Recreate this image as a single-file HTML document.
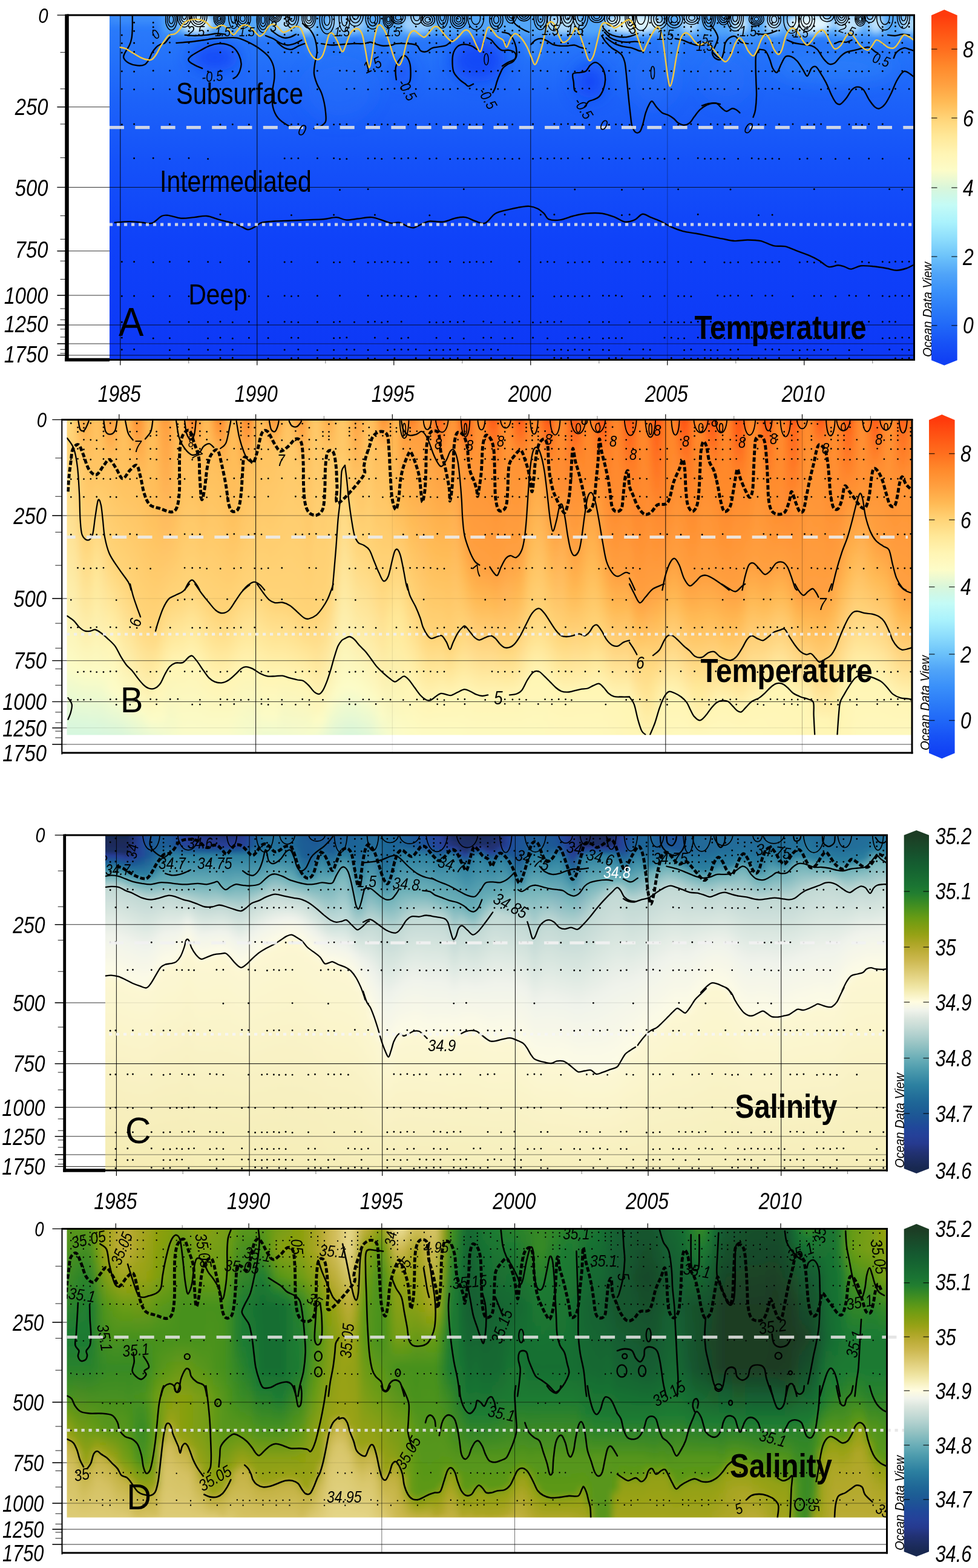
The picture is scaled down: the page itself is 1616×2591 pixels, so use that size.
<!DOCTYPE html>
<html lang="en"><head><meta charset="utf-8"><title>Temperature and salinity time series</title>
<style>html,body{margin:0;padding:0;background:#fff}svg{display:block}text{font-family:"Liberation Sans", sans-serif}</style>
</head><body>
<svg width="1616" height="2591" viewBox="0 0 1616 2591" role="img" aria-label="Temperature and salinity time series, panels A to D">
<defs>
<clipPath id="clipA"><rect x="181" y="25" width="1329.5" height="569.5"/></clipPath>
<linearGradient id="gA" gradientUnits="userSpaceOnUse" x1="0" y1="25" x2="0" y2="595"><stop offset="0" stop-color="#2d7efa"/><stop offset="0.12" stop-color="#2472fa"/><stop offset="0.25" stop-color="#1c62f9"/><stop offset="0.42" stop-color="#1552f9"/><stop offset="0.65" stop-color="#0f42f9"/><stop offset="1" stop-color="#0d38f6"/></linearGradient>
<filter id="bA" x="-5%" y="-20%" width="110%" height="140%"><feGaussianBlur stdDeviation="6"/></filter>
<filter id="bA2" x="-5%" y="-20%" width="110%" height="140%"><feGaussianBlur stdDeviation="14"/></filter>
<clipPath id="clipB"><rect x="110.5" y="693.5" width="1396.5" height="521"/></clipPath>
<filter id="fbb" x="-2%" y="-5%" width="104%" height="110%"><feGaussianBlur stdDeviation="5.5 1.5"/></filter>
<linearGradient id="b0" x2="0" y2="1"><stop offset=".022" stop-color="#ffde89"/><stop offset=".08" stop-color="#ffd478"/><stop offset=".762" stop-color="#fcfbc6"/><stop offset=".978" stop-color="#d5f7e0"/></linearGradient>
<linearGradient id="b1" x2="0" y2="1"><stop offset=".022" stop-color="#ffdb83"/><stop offset=".09" stop-color="#ffd478"/><stop offset=".765" stop-color="#fcfbc6"/><stop offset=".978" stop-color="#d5f7df"/></linearGradient>
<linearGradient id="b2" x2="0" y2="1"><stop offset=".022" stop-color="#ffc867"/><stop offset=".775" stop-color="#fcfbc5"/><stop offset=".978" stop-color="#d5f7df"/></linearGradient>
<linearGradient id="b3" x2="0" y2="1"><stop offset=".022" stop-color="#ffa443"/><stop offset=".127" stop-color="#ffc766"/><stop offset=".374" stop-color="#ffd478"/><stop offset=".786" stop-color="#fcfbc5"/><stop offset=".978" stop-color="#d5f7df"/></linearGradient>
<linearGradient id="b4" x2="0" y2="1"><stop offset=".022" stop-color="#ffb753"/><stop offset=".381" stop-color="#ffd478"/><stop offset=".789" stop-color="#fcfbc5"/><stop offset=".978" stop-color="#d6f7df"/></linearGradient>
<linearGradient id="b5" x2="0" y2="1"><stop offset=".022" stop-color="#ffc564"/><stop offset=".182" stop-color="#ffc564"/><stop offset=".48" stop-color="#ffe898"/><stop offset=".787" stop-color="#fcfbc5"/><stop offset=".978" stop-color="#d6f7de"/></linearGradient>
<linearGradient id="b6" x2="0" y2="1"><stop offset=".022" stop-color="#ffb853"/><stop offset=".246" stop-color="#ffcb6b"/><stop offset=".795" stop-color="#fcfbc5"/><stop offset=".978" stop-color="#d7f6dd"/></linearGradient>
<linearGradient id="b7" x2="0" y2="1"><stop offset=".022" stop-color="#ff9536"/><stop offset=".151" stop-color="#ffc362"/><stop offset=".429" stop-color="#ffd478"/><stop offset=".692" stop-color="#fff5b4"/><stop offset=".835" stop-color="#fbfcc9"/><stop offset=".978" stop-color="#d8f6dc"/></linearGradient>
<linearGradient id="b8" x2="0" y2="1"><stop offset=".022" stop-color="#ffac4a"/><stop offset=".171" stop-color="#ffc260"/><stop offset=".461" stop-color="#ffd478"/><stop offset=".715" stop-color="#fff5b4"/><stop offset=".846" stop-color="#fcfcc8"/><stop offset=".978" stop-color="#d8f6db"/></linearGradient>
<linearGradient id="b9" x2="0" y2="1"><stop offset=".022" stop-color="#ffc25f"/><stop offset=".192" stop-color="#ffc25f"/><stop offset=".491" stop-color="#ffd478"/><stop offset=".864" stop-color="#fcfcc8"/><stop offset=".978" stop-color="#daf6da"/></linearGradient>
<linearGradient id="b10" x2="0" y2="1"><stop offset=".022" stop-color="#ffb752"/><stop offset=".525" stop-color="#ffd478"/><stop offset=".876" stop-color="#fcfcc7"/><stop offset=".978" stop-color="#def7d8"/></linearGradient>
<linearGradient id="b11" x2="0" y2="1"><stop offset=".022" stop-color="#ff8a2c"/><stop offset=".171" stop-color="#ffc05e"/><stop offset=".584" stop-color="#ffd478"/><stop offset=".889" stop-color="#fcfbc6"/><stop offset=".978" stop-color="#e2f8d6"/></linearGradient>
<linearGradient id="b12" x2="0" y2="1"><stop offset=".022" stop-color="#ff9f3f"/><stop offset=".224" stop-color="#ffc05d"/><stop offset=".621" stop-color="#ffd478"/><stop offset=".901" stop-color="#fdfbc4"/><stop offset=".978" stop-color="#e6f8d4"/></linearGradient>
<linearGradient id="b13" x2="0" y2="1"><stop offset=".022" stop-color="#ffbf5c"/><stop offset=".273" stop-color="#ffbf5c"/><stop offset=".635" stop-color="#ffd478"/><stop offset=".931" stop-color="#fbfcc9"/><stop offset=".978" stop-color="#eaf9d3"/></linearGradient>
<linearGradient id="b14" x2="0" y2="1"><stop offset=".022" stop-color="#ffb954"/><stop offset=".287" stop-color="#ffbf5b"/><stop offset=".65" stop-color="#ffd478"/><stop offset=".833" stop-color="#fff5b4"/><stop offset=".93" stop-color="#fcfcc7"/><stop offset=".978" stop-color="#edf9d1"/></linearGradient>
<linearGradient id="b15" x2="0" y2="1"><stop offset=".022" stop-color="#ff9a3b"/><stop offset=".055" stop-color="#ffa443"/><stop offset=".597" stop-color="#ffd478"/><stop offset=".807" stop-color="#fff5b4"/><stop offset=".921" stop-color="#fcfbc6"/><stop offset=".978" stop-color="#f0facf"/></linearGradient>
<linearGradient id="b16" x2="0" y2="1"><stop offset=".022" stop-color="#ff9e3e"/><stop offset=".564" stop-color="#ffd478"/><stop offset=".773" stop-color="#fff5b4"/><stop offset=".978" stop-color="#f3facd"/></linearGradient>
<linearGradient id="b17" x2="0" y2="1"><stop offset=".022" stop-color="#ffbc58"/><stop offset=".272" stop-color="#ffbd59"/><stop offset=".553" stop-color="#ffd478"/><stop offset=".76" stop-color="#fff5b4"/><stop offset=".978" stop-color="#f6fbcb"/></linearGradient>
<linearGradient id="b18" x2="0" y2="1"><stop offset=".022" stop-color="#ffb753"/><stop offset=".542" stop-color="#ffd478"/><stop offset=".758" stop-color="#fff5b4"/><stop offset=".978" stop-color="#f9fbca"/></linearGradient>
<linearGradient id="b19" x2="0" y2="1"><stop offset=".022" stop-color="#ff7e26"/><stop offset=".114" stop-color="#ffbd59"/><stop offset=".52" stop-color="#ffd478"/><stop offset=".741" stop-color="#fff5b4"/><stop offset=".978" stop-color="#f9fbca"/></linearGradient>
<linearGradient id="b20" x2="0" y2="1"><stop offset=".022" stop-color="#ff882b"/><stop offset=".118" stop-color="#ffbd59"/><stop offset=".525" stop-color="#ffd478"/><stop offset=".751" stop-color="#fff5b4"/><stop offset=".978" stop-color="#f9fbca"/></linearGradient>
<linearGradient id="b21" x2="0" y2="1"><stop offset=".022" stop-color="#ffba56"/><stop offset=".217" stop-color="#ffbd5a"/><stop offset=".553" stop-color="#ffd478"/><stop offset=".779" stop-color="#fff5b4"/><stop offset=".978" stop-color="#f9fbca"/></linearGradient>
<linearGradient id="b22" x2="0" y2="1"><stop offset=".022" stop-color="#ffba55"/><stop offset=".578" stop-color="#ffd478"/><stop offset=".806" stop-color="#fff5b4"/><stop offset=".978" stop-color="#f9fbca"/></linearGradient>
<linearGradient id="b23" x2="0" y2="1"><stop offset=".022" stop-color="#ff8e30"/><stop offset=".124" stop-color="#ffbe5a"/><stop offset=".6" stop-color="#ffd478"/><stop offset=".817" stop-color="#fff5b4"/><stop offset=".978" stop-color="#f9fbca"/></linearGradient>
<linearGradient id="b24" x2="0" y2="1"><stop offset=".022" stop-color="#ff8b2d"/><stop offset=".176" stop-color="#ffbe5a"/><stop offset=".608" stop-color="#ffd478"/><stop offset=".819" stop-color="#fff5b4"/><stop offset=".978" stop-color="#f9fbca"/></linearGradient>
<linearGradient id="b25" x2="0" y2="1"><stop offset=".022" stop-color="#ffb955"/><stop offset=".27" stop-color="#ffbe5b"/><stop offset=".598" stop-color="#ffd478"/><stop offset=".81" stop-color="#fff5b4"/><stop offset=".978" stop-color="#f9fbca"/></linearGradient>
<linearGradient id="b26" x2="0" y2="1"><stop offset=".022" stop-color="#ffbd59"/><stop offset=".291" stop-color="#ffbf5b"/><stop offset=".569" stop-color="#ffd478"/><stop offset=".792" stop-color="#fff5b4"/><stop offset=".978" stop-color="#f7fbcb"/></linearGradient>
<linearGradient id="b27" x2="0" y2="1"><stop offset=".022" stop-color="#ff9233"/><stop offset=".196" stop-color="#ffbf5b"/><stop offset=".541" stop-color="#ffd478"/><stop offset=".775" stop-color="#fff5b4"/><stop offset=".978" stop-color="#f5fbcc"/></linearGradient>
<linearGradient id="b28" x2="0" y2="1"><stop offset=".022" stop-color="#ff8329"/><stop offset=".144" stop-color="#ffbf5c"/><stop offset=".523" stop-color="#ffd478"/><stop offset=".774" stop-color="#fff5b4"/><stop offset=".978" stop-color="#f3facd"/></linearGradient>
<linearGradient id="b29" x2="0" y2="1"><stop offset=".022" stop-color="#ffb854"/><stop offset=".517" stop-color="#ffd478"/><stop offset=".784" stop-color="#fff5b4"/><stop offset=".978" stop-color="#f1face"/></linearGradient>
<linearGradient id="b30" x2="0" y2="1"><stop offset=".022" stop-color="#ffc15e"/><stop offset=".544" stop-color="#ffd478"/><stop offset=".794" stop-color="#fff5b4"/><stop offset=".917" stop-color="#fcfbc6"/><stop offset=".978" stop-color="#effacf"/></linearGradient>
<linearGradient id="b31" x2="0" y2="1"><stop offset=".022" stop-color="#ffa443"/><stop offset=".114" stop-color="#ffc361"/><stop offset=".568" stop-color="#ffd478"/><stop offset=".8" stop-color="#fff5b4"/><stop offset=".919" stop-color="#fcfbc6"/><stop offset=".978" stop-color="#effad0"/></linearGradient>
<linearGradient id="b32" x2="0" y2="1"><stop offset=".022" stop-color="#ff9133"/><stop offset=".114" stop-color="#ffc564"/><stop offset=".577" stop-color="#ffd478"/><stop offset=".8" stop-color="#fff5b4"/><stop offset=".918" stop-color="#fcfbc6"/><stop offset=".978" stop-color="#f0facf"/></linearGradient>
<linearGradient id="b33" x2="0" y2="1"><stop offset=".022" stop-color="#ffbb56"/><stop offset=".114" stop-color="#ffc766"/><stop offset=".576" stop-color="#ffd478"/><stop offset=".799" stop-color="#fff5b4"/><stop offset=".978" stop-color="#f1facf"/></linearGradient>
<linearGradient id="b34" x2="0" y2="1"><stop offset=".022" stop-color="#ffc767"/><stop offset=".585" stop-color="#ffd478"/><stop offset=".805" stop-color="#fff5b4"/><stop offset=".978" stop-color="#f2face"/></linearGradient>
<linearGradient id="b35" x2="0" y2="1"><stop offset=".022" stop-color="#ffa947"/><stop offset=".114" stop-color="#ffc868"/><stop offset=".601" stop-color="#ffd478"/><stop offset=".81" stop-color="#fff5b4"/><stop offset=".978" stop-color="#f3face"/></linearGradient>
<linearGradient id="b36" x2="0" y2="1"><stop offset=".022" stop-color="#ff9334"/><stop offset=".168" stop-color="#ffc969"/><stop offset=".619" stop-color="#ffd478"/><stop offset=".814" stop-color="#fff5b4"/><stop offset=".978" stop-color="#f4facd"/></linearGradient>
<linearGradient id="b37" x2="0" y2="1"><stop offset=".022" stop-color="#ffbe5b"/><stop offset=".625" stop-color="#ffd478"/><stop offset=".83" stop-color="#fff5b4"/><stop offset=".978" stop-color="#f4fbcc"/></linearGradient>
<linearGradient id="b38" x2="0" y2="1"><stop offset=".022" stop-color="#ffcb6c"/><stop offset=".615" stop-color="#ffd478"/><stop offset=".935" stop-color="#fdfbc5"/><stop offset=".978" stop-color="#f4fbcd"/></linearGradient>
<linearGradient id="b39" x2="0" y2="1"><stop offset=".022" stop-color="#ffbc58"/><stop offset=".26" stop-color="#ffcc6d"/><stop offset=".592" stop-color="#ffd478"/><stop offset=".933" stop-color="#fcfcc7"/><stop offset=".978" stop-color="#ecf9d1"/></linearGradient>
<linearGradient id="b40" x2="0" y2="1"><stop offset=".022" stop-color="#ffa645"/><stop offset=".131" stop-color="#ffcc6d"/><stop offset=".554" stop-color="#ffd478"/><stop offset=".886" stop-color="#fcfbc5"/><stop offset=".978" stop-color="#e5f8d5"/></linearGradient>
<linearGradient id="b41" x2="0" y2="1"><stop offset=".022" stop-color="#ffc05d"/><stop offset=".414" stop-color="#ffd478"/><stop offset=".853" stop-color="#fcfbc6"/><stop offset=".978" stop-color="#dff7d7"/></linearGradient>
<linearGradient id="b42" x2="0" y2="1"><stop offset=".022" stop-color="#ffca6a"/><stop offset=".118" stop-color="#ffca6a"/><stop offset=".173" stop-color="#ffd478"/><stop offset=".834" stop-color="#fcfcc7"/><stop offset=".978" stop-color="#dcf6d9"/></linearGradient>
<linearGradient id="b43" x2="0" y2="1"><stop offset=".022" stop-color="#ffbd59"/><stop offset=".24" stop-color="#ffc969"/><stop offset=".274" stop-color="#ffd478"/><stop offset=".829" stop-color="#fcfcc8"/><stop offset=".978" stop-color="#d9f6da"/></linearGradient>
<linearGradient id="b44" x2="0" y2="1"><stop offset=".022" stop-color="#ff9d3d"/><stop offset=".218" stop-color="#ffc868"/><stop offset=".38" stop-color="#ffd478"/><stop offset=".836" stop-color="#fcfcc8"/><stop offset=".978" stop-color="#daf6da"/></linearGradient>
<linearGradient id="b45" x2="0" y2="1"><stop offset=".022" stop-color="#ffb350"/><stop offset=".401" stop-color="#ffd478"/><stop offset=".847" stop-color="#fcfcc7"/><stop offset=".978" stop-color="#ddf7d8"/></linearGradient>
<linearGradient id="b46" x2="0" y2="1"><stop offset=".022" stop-color="#ffc564"/><stop offset=".417" stop-color="#ffd478"/><stop offset=".859" stop-color="#fcfbc6"/><stop offset=".978" stop-color="#e0f7d7"/></linearGradient>
<linearGradient id="b47" x2="0" y2="1"><stop offset=".022" stop-color="#ffb753"/><stop offset=".464" stop-color="#ffd478"/><stop offset=".872" stop-color="#fdfbc4"/><stop offset=".978" stop-color="#e8f9d3"/></linearGradient>
<linearGradient id="b48" x2="0" y2="1"><stop offset=".022" stop-color="#ff8f31"/><stop offset=".114" stop-color="#ffc05e"/><stop offset=".506" stop-color="#ffd478"/><stop offset=".915" stop-color="#fcfbc6"/><stop offset=".978" stop-color="#f0facf"/></linearGradient>
<linearGradient id="b49" x2="0" y2="1"><stop offset=".022" stop-color="#ffa242"/><stop offset=".148" stop-color="#ffbe5a"/><stop offset=".486" stop-color="#ffd478"/><stop offset=".646" stop-color="#ffe898"/><stop offset=".978" stop-color="#f6fbcb"/></linearGradient>
<linearGradient id="b50" x2="0" y2="1"><stop offset=".022" stop-color="#ffbb56"/><stop offset=".269" stop-color="#ffbb56"/><stop offset=".617" stop-color="#ffe898"/><stop offset=".978" stop-color="#fafcc9"/></linearGradient>
<linearGradient id="b51" x2="0" y2="1"><stop offset=".022" stop-color="#ffad4a"/><stop offset=".055" stop-color="#ffaf4c"/><stop offset=".077" stop-color="#ff9e3e"/><stop offset=".27" stop-color="#ffba55"/><stop offset=".633" stop-color="#ffe898"/><stop offset=".978" stop-color="#fcfcc7"/></linearGradient>
<linearGradient id="b52" x2="0" y2="1"><stop offset=".022" stop-color="#ff7924"/><stop offset=".078" stop-color="#ffa040"/><stop offset=".312" stop-color="#ffba55"/><stop offset=".545" stop-color="#ffd478"/><stop offset=".812" stop-color="#fff5b4"/><stop offset=".978" stop-color="#fcfbc5"/></linearGradient>
<linearGradient id="b53" x2="0" y2="1"><stop offset=".022" stop-color="#ff882b"/><stop offset=".078" stop-color="#ffa040"/><stop offset=".334" stop-color="#ffba55"/><stop offset=".591" stop-color="#ffd478"/><stop offset=".839" stop-color="#fff5b4"/><stop offset=".978" stop-color="#fdfbc4"/></linearGradient>
<linearGradient id="b54" x2="0" y2="1"><stop offset=".022" stop-color="#ffa745"/><stop offset=".077" stop-color="#ff9e3e"/><stop offset=".645" stop-color="#ffd478"/><stop offset=".862" stop-color="#fff5b4"/><stop offset=".978" stop-color="#fdfac3"/></linearGradient>
<linearGradient id="b55" x2="0" y2="1"><stop offset=".022" stop-color="#ff9c3d"/><stop offset=".386" stop-color="#ffba55"/><stop offset=".68" stop-color="#ffd478"/><stop offset=".872" stop-color="#fff5b4"/><stop offset=".978" stop-color="#fdfac3"/></linearGradient>
<linearGradient id="b56" x2="0" y2="1"><stop offset=".022" stop-color="#ff6119"/><stop offset=".114" stop-color="#ff9e3e"/><stop offset=".411" stop-color="#ffba55"/><stop offset=".681" stop-color="#ffd478"/><stop offset=".862" stop-color="#fff5b4"/><stop offset=".978" stop-color="#fdfac3"/></linearGradient>
<linearGradient id="b57" x2="0" y2="1"><stop offset=".022" stop-color="#ff6b1d"/><stop offset=".131" stop-color="#ff9c3d"/><stop offset=".42" stop-color="#ffba55"/><stop offset=".679" stop-color="#ffd478"/><stop offset=".853" stop-color="#fff5b4"/><stop offset=".978" stop-color="#fdfac2"/></linearGradient>
<linearGradient id="b58" x2="0" y2="1"><stop offset=".022" stop-color="#ff9738"/><stop offset=".42" stop-color="#ffba55"/><stop offset=".713" stop-color="#ffd478"/><stop offset=".857" stop-color="#fff5b4"/><stop offset=".978" stop-color="#fdfac2"/></linearGradient>
<linearGradient id="b59" x2="0" y2="1"><stop offset=".022" stop-color="#ff9435"/><stop offset=".681" stop-color="#ffd478"/><stop offset=".851" stop-color="#fff5b4"/><stop offset=".978" stop-color="#fdfac2"/></linearGradient>
<linearGradient id="b60" x2="0" y2="1"><stop offset=".022" stop-color="#ff5a16"/><stop offset=".114" stop-color="#ff9738"/><stop offset=".303" stop-color="#ffa040"/><stop offset=".478" stop-color="#ffba55"/><stop offset=".653" stop-color="#ffd478"/><stop offset=".842" stop-color="#fff5b4"/><stop offset=".978" stop-color="#fdfac1"/></linearGradient>
<linearGradient id="b61" x2="0" y2="1"><stop offset=".022" stop-color="#ff5c17"/><stop offset=".147" stop-color="#ff9637"/><stop offset=".416" stop-color="#ffa040"/><stop offset=".539" stop-color="#ffba55"/><stop offset=".844" stop-color="#fff5b4"/><stop offset=".978" stop-color="#fdf9c1"/></linearGradient>
<linearGradient id="b62" x2="0" y2="1"><stop offset=".022" stop-color="#ff9132"/><stop offset=".454" stop-color="#ffa040"/><stop offset=".569" stop-color="#ffba55"/><stop offset=".854" stop-color="#fff5b4"/><stop offset=".978" stop-color="#fdf9c0"/></linearGradient>
<linearGradient id="b63" x2="0" y2="1"><stop offset=".022" stop-color="#ff9132"/><stop offset=".465" stop-color="#ffa040"/><stop offset=".576" stop-color="#ffba55"/><stop offset=".859" stop-color="#fff5b4"/><stop offset=".978" stop-color="#fdf9c0"/></linearGradient>
<linearGradient id="b64" x2="0" y2="1"><stop offset=".022" stop-color="#ff5f18"/><stop offset=".114" stop-color="#ff9334"/><stop offset=".472" stop-color="#ffa040"/><stop offset=".575" stop-color="#ffba55"/><stop offset=".857" stop-color="#fff5b4"/><stop offset=".978" stop-color="#fdf9c0"/></linearGradient>
<linearGradient id="b65" x2="0" y2="1"><stop offset=".022" stop-color="#ff5514"/><stop offset=".055" stop-color="#ff671b"/><stop offset=".212" stop-color="#ff9234"/><stop offset=".49" stop-color="#ffa040"/><stop offset=".588" stop-color="#ffba55"/><stop offset=".857" stop-color="#fff5b4"/><stop offset=".978" stop-color="#fdf9c0"/></linearGradient>
<linearGradient id="b66" x2="0" y2="1"><stop offset=".022" stop-color="#ff8d2e"/><stop offset=".462" stop-color="#ffa040"/><stop offset=".707" stop-color="#ffd478"/><stop offset=".857" stop-color="#fff5b4"/><stop offset=".978" stop-color="#fdf9bf"/></linearGradient>
<linearGradient id="b67" x2="0" y2="1"><stop offset=".022" stop-color="#ff9132"/><stop offset=".437" stop-color="#ffa040"/><stop offset=".712" stop-color="#ffd478"/><stop offset=".856" stop-color="#fff5b4"/><stop offset=".978" stop-color="#fdf9bf"/></linearGradient>
<linearGradient id="b68" x2="0" y2="1"><stop offset=".022" stop-color="#ff651a"/><stop offset=".13" stop-color="#ff9233"/><stop offset=".439" stop-color="#ffa040"/><stop offset=".568" stop-color="#ffba55"/><stop offset=".698" stop-color="#ffd478"/><stop offset=".854" stop-color="#fff5b4"/><stop offset=".978" stop-color="#fdf9bf"/></linearGradient>
<linearGradient id="b69" x2="0" y2="1"><stop offset=".022" stop-color="#ff5113"/><stop offset=".13" stop-color="#ff9133"/><stop offset=".409" stop-color="#ffa040"/><stop offset=".538" stop-color="#ffba55"/><stop offset=".84" stop-color="#fff5b4"/><stop offset=".978" stop-color="#fdf9bf"/></linearGradient>
<linearGradient id="b70" x2="0" y2="1"><stop offset=".022" stop-color="#ff892b"/><stop offset=".19" stop-color="#ff9133"/><stop offset=".214" stop-color="#ffa040"/><stop offset=".42" stop-color="#ffba55"/><stop offset=".626" stop-color="#ffd478"/><stop offset=".805" stop-color="#fff5b4"/><stop offset=".978" stop-color="#fdf9bf"/></linearGradient>
<linearGradient id="b71" x2="0" y2="1"><stop offset=".022" stop-color="#ff9132"/><stop offset=".077" stop-color="#ff9132"/><stop offset=".11" stop-color="#ffa040"/><stop offset=".356" stop-color="#ffba55"/><stop offset=".601" stop-color="#ffd478"/><stop offset=".787" stop-color="#fff5b4"/><stop offset=".978" stop-color="#fdf9be"/></linearGradient>
<linearGradient id="b72" x2="0" y2="1"><stop offset=".022" stop-color="#ff6b1d"/><stop offset=".149" stop-color="#ffa040"/><stop offset=".603" stop-color="#ffd478"/><stop offset=".794" stop-color="#fff5b4"/><stop offset=".978" stop-color="#fdf9be"/></linearGradient>
<linearGradient id="b73" x2="0" y2="1"><stop offset=".022" stop-color="#ff4d12"/><stop offset=".156" stop-color="#ff9032"/><stop offset=".46" stop-color="#ffba55"/><stop offset=".629" stop-color="#ffd478"/><stop offset=".813" stop-color="#fff5b4"/><stop offset=".978" stop-color="#fef8be"/></linearGradient>
<linearGradient id="b74" x2="0" y2="1"><stop offset=".022" stop-color="#ff8228"/><stop offset=".253" stop-color="#ff9031"/><stop offset=".659" stop-color="#ffd478"/><stop offset=".833" stop-color="#fff5b4"/><stop offset=".978" stop-color="#fef8be"/></linearGradient>
<linearGradient id="b75" x2="0" y2="1"><stop offset=".022" stop-color="#ff8f31"/><stop offset=".236" stop-color="#ff8f31"/><stop offset=".282" stop-color="#ffa040"/><stop offset=".677" stop-color="#ffd478"/><stop offset=".846" stop-color="#fff5b4"/><stop offset=".978" stop-color="#fef8bd"/></linearGradient>
<linearGradient id="b76" x2="0" y2="1"><stop offset=".022" stop-color="#ff701f"/><stop offset=".535" stop-color="#ffba55"/><stop offset=".679" stop-color="#ffd478"/><stop offset=".847" stop-color="#fff5b4"/><stop offset=".978" stop-color="#fef8bd"/></linearGradient>
<linearGradient id="b77" x2="0" y2="1"><stop offset=".022" stop-color="#ff4911"/><stop offset=".153" stop-color="#ff8e30"/><stop offset=".43" stop-color="#ffa040"/><stop offset=".552" stop-color="#ffba55"/><stop offset=".843" stop-color="#fff5b4"/><stop offset=".978" stop-color="#fef8bd"/></linearGradient>
<linearGradient id="b78" x2="0" y2="1"><stop offset=".022" stop-color="#ff7b24"/><stop offset=".229" stop-color="#ff8e30"/><stop offset=".52" stop-color="#ffba55"/><stop offset=".674" stop-color="#ffd478"/><stop offset=".839" stop-color="#fff5b4"/><stop offset=".978" stop-color="#fef8bd"/></linearGradient>
<linearGradient id="b79" x2="0" y2="1"><stop offset=".022" stop-color="#ff8d2f"/><stop offset=".207" stop-color="#ff8d2f"/><stop offset=".253" stop-color="#ffa040"/><stop offset=".46" stop-color="#ffba55"/><stop offset=".667" stop-color="#ffd478"/><stop offset=".835" stop-color="#fff5b4"/><stop offset=".978" stop-color="#fef8bd"/></linearGradient>
<linearGradient id="b80" x2="0" y2="1"><stop offset=".022" stop-color="#ff7421"/><stop offset=".21" stop-color="#ff8d2f"/><stop offset=".275" stop-color="#ffa040"/><stop offset=".46" stop-color="#ffba55"/><stop offset=".646" stop-color="#ffd478"/><stop offset=".826" stop-color="#fff5b4"/><stop offset=".978" stop-color="#fef8bc"/></linearGradient>
<linearGradient id="b81" x2="0" y2="1"><stop offset=".022" stop-color="#ff4810"/><stop offset=".13" stop-color="#ff8c2e"/><stop offset=".385" stop-color="#ffa040"/><stop offset=".525" stop-color="#ffba55"/><stop offset=".665" stop-color="#ffd478"/><stop offset=".83" stop-color="#fff5b4"/><stop offset=".978" stop-color="#fef8bc"/></linearGradient>
<linearGradient id="b82" x2="0" y2="1"><stop offset=".022" stop-color="#ff7320"/><stop offset=".466" stop-color="#ffa040"/><stop offset=".581" stop-color="#ffba55"/><stop offset=".852" stop-color="#fff5b4"/><stop offset=".978" stop-color="#fef7bb"/></linearGradient>
<linearGradient id="b83" x2="0" y2="1"><stop offset=".022" stop-color="#ff8c2e"/><stop offset=".293" stop-color="#ff8c2e"/><stop offset=".492" stop-color="#ffa040"/><stop offset=".6" stop-color="#ffba55"/><stop offset=".861" stop-color="#fff5b4"/><stop offset=".978" stop-color="#fef7ba"/></linearGradient>
<linearGradient id="b84" x2="0" y2="1"><stop offset=".022" stop-color="#ff7923"/><stop offset=".49" stop-color="#ffa040"/><stop offset=".595" stop-color="#ffba55"/><stop offset=".862" stop-color="#fff5b4"/><stop offset=".978" stop-color="#fef6b8"/></linearGradient>
<linearGradient id="b85" x2="0" y2="1"><stop offset=".022" stop-color="#ff4710"/><stop offset=".055" stop-color="#ff5c17"/><stop offset=".212" stop-color="#ff8b2d"/><stop offset=".488" stop-color="#ffa040"/><stop offset=".59" stop-color="#ffba55"/><stop offset=".863" stop-color="#fff5b4"/><stop offset=".978" stop-color="#fff6b6"/></linearGradient>
<linearGradient id="b86" x2="0" y2="1"><stop offset=".022" stop-color="#ff6b1d"/><stop offset=".055" stop-color="#ff7521"/><stop offset=".556" stop-color="#ffa040"/><stop offset=".641" stop-color="#ffba55"/><stop offset=".902" stop-color="#fff5b4"/><stop offset=".978" stop-color="#fff6b6"/></linearGradient>
<linearGradient id="b87" x2="0" y2="1"><stop offset=".022" stop-color="#ff8b2d"/><stop offset=".297" stop-color="#ff8b2d"/><stop offset=".57" stop-color="#ffa040"/><stop offset=".651" stop-color="#ffba55"/><stop offset=".732" stop-color="#ffd478"/><stop offset=".978" stop-color="#fff6b6"/></linearGradient>
<linearGradient id="b88" x2="0" y2="1"><stop offset=".022" stop-color="#ff7d25"/><stop offset=".548" stop-color="#ffa040"/><stop offset=".735" stop-color="#ffd478"/><stop offset=".978" stop-color="#fff4b1"/></linearGradient>
<linearGradient id="b89" x2="0" y2="1"><stop offset=".022" stop-color="#ff4810"/><stop offset=".055" stop-color="#ff5c17"/><stop offset=".289" stop-color="#ff8a2c"/><stop offset=".532" stop-color="#ffa040"/><stop offset=".631" stop-color="#ffba55"/><stop offset=".833" stop-color="#ffe898"/><stop offset=".978" stop-color="#fff6b7"/></linearGradient>
<linearGradient id="b90" x2="0" y2="1"><stop offset=".022" stop-color="#ff641a"/><stop offset=".055" stop-color="#ff6f1e"/><stop offset=".526" stop-color="#ffa040"/><stop offset=".615" stop-color="#ffba55"/><stop offset=".878" stop-color="#fff5b4"/><stop offset=".978" stop-color="#fef7ba"/></linearGradient>
<linearGradient id="b91" x2="0" y2="1"><stop offset=".022" stop-color="#ff8a2c"/><stop offset=".259" stop-color="#ff8a2c"/><stop offset=".466" stop-color="#ffa040"/><stop offset=".572" stop-color="#ffba55"/><stop offset=".847" stop-color="#fff5b4"/><stop offset=".978" stop-color="#fef8bc"/></linearGradient>
<linearGradient id="b92" x2="0" y2="1"><stop offset=".022" stop-color="#ff8027"/><stop offset=".446" stop-color="#ffa040"/><stop offset=".565" stop-color="#ffba55"/><stop offset=".852" stop-color="#fff5b4"/><stop offset=".978" stop-color="#fef8bc"/></linearGradient>
<linearGradient id="b93" x2="0" y2="1"><stop offset=".022" stop-color="#ff4b11"/><stop offset=".171" stop-color="#ff8a2c"/><stop offset=".486" stop-color="#ffa040"/><stop offset=".595" stop-color="#ffba55"/><stop offset=".865" stop-color="#fff5b4"/><stop offset=".978" stop-color="#fef8bd"/></linearGradient>
<linearGradient id="b94" x2="0" y2="1"><stop offset=".022" stop-color="#ff5e18"/><stop offset=".268" stop-color="#ff8a2c"/><stop offset=".522" stop-color="#ffa040"/><stop offset=".621" stop-color="#ffba55"/><stop offset=".891" stop-color="#fff5b4"/><stop offset=".978" stop-color="#fef8bd"/></linearGradient>
<linearGradient id="b95" x2="0" y2="1"><stop offset=".022" stop-color="#ff892b"/><stop offset=".278" stop-color="#ff8a2c"/><stop offset=".514" stop-color="#ffa040"/><stop offset=".627" stop-color="#ffba55"/><stop offset=".832" stop-color="#ffe898"/><stop offset=".978" stop-color="#fef8bd"/></linearGradient>
<linearGradient id="b96" x2="0" y2="1"><stop offset=".022" stop-color="#ff8429"/><stop offset=".496" stop-color="#ffa040"/><stop offset=".619" stop-color="#ffba55"/><stop offset=".835" stop-color="#ffe898"/><stop offset=".978" stop-color="#fef8bd"/></linearGradient>
<linearGradient id="b97" x2="0" y2="1"><stop offset=".022" stop-color="#ff5012"/><stop offset=".134" stop-color="#ff8a2c"/><stop offset=".497" stop-color="#ffa040"/><stop offset=".613" stop-color="#ffba55"/><stop offset=".907" stop-color="#fff5b4"/><stop offset=".978" stop-color="#fef8bd"/></linearGradient>
<linearGradient id="b98" x2="0" y2="1"><stop offset=".022" stop-color="#ff5815"/><stop offset=".197" stop-color="#ff8a2c"/><stop offset=".508" stop-color="#ffa040"/><stop offset=".618" stop-color="#ffba55"/><stop offset=".884" stop-color="#fff5b4"/><stop offset=".978" stop-color="#fef8be"/></linearGradient>
<linearGradient id="b99" x2="0" y2="1"><stop offset=".022" stop-color="#ff872b"/><stop offset=".274" stop-color="#ff8a2c"/><stop offset=".522" stop-color="#ffa040"/><stop offset=".633" stop-color="#ffba55"/><stop offset=".743" stop-color="#ffd478"/><stop offset=".874" stop-color="#fff5b4"/><stop offset=".978" stop-color="#fef8be"/></linearGradient>
<linearGradient id="b100" x2="0" y2="1"><stop offset=".022" stop-color="#ff872a"/><stop offset=".284" stop-color="#ff8a2c"/><stop offset=".536" stop-color="#ffa040"/><stop offset=".643" stop-color="#ffba55"/><stop offset=".75" stop-color="#ffd478"/><stop offset=".878" stop-color="#fff5b4"/><stop offset=".978" stop-color="#fef8be"/></linearGradient>
<linearGradient id="b101" x2="0" y2="1"><stop offset=".022" stop-color="#ff5514"/><stop offset=".211" stop-color="#ff8b2d"/><stop offset=".543" stop-color="#ffa040"/><stop offset=".642" stop-color="#ffba55"/><stop offset=".898" stop-color="#fff5b4"/><stop offset=".978" stop-color="#fef8bd"/></linearGradient>
<linearGradient id="b102" x2="0" y2="1"><stop offset=".022" stop-color="#ff5313"/><stop offset=".21" stop-color="#ff8b2d"/><stop offset=".529" stop-color="#ffa040"/><stop offset=".622" stop-color="#ffba55"/><stop offset=".906" stop-color="#fff5b4"/><stop offset=".978" stop-color="#fef8bd"/></linearGradient>
<linearGradient id="b103" x2="0" y2="1"><stop offset=".022" stop-color="#ff872b"/><stop offset=".243" stop-color="#ff8c2d"/><stop offset=".465" stop-color="#ffa040"/><stop offset=".575" stop-color="#ffba55"/><stop offset=".886" stop-color="#fff5b4"/><stop offset=".978" stop-color="#fef8bc"/></linearGradient>
<linearGradient id="b104" x2="0" y2="1"><stop offset=".022" stop-color="#ff8b2d"/><stop offset=".462" stop-color="#ffa040"/><stop offset=".572" stop-color="#ffba55"/><stop offset=".871" stop-color="#fff5b4"/><stop offset=".978" stop-color="#fef8bc"/></linearGradient>
<linearGradient id="b105" x2="0" y2="1"><stop offset=".022" stop-color="#ff5c17"/><stop offset=".114" stop-color="#ff8d2e"/><stop offset=".482" stop-color="#ffa040"/><stop offset=".586" stop-color="#ffba55"/><stop offset=".858" stop-color="#fff5b4"/><stop offset=".978" stop-color="#fef8bb"/></linearGradient>
<linearGradient id="b106" x2="0" y2="1"><stop offset=".022" stop-color="#ff4e12"/><stop offset=".055" stop-color="#ff6019"/><stop offset=".221" stop-color="#ff8d2f"/><stop offset=".484" stop-color="#ffa040"/><stop offset=".582" stop-color="#ffba55"/><stop offset=".84" stop-color="#fff5b4"/><stop offset=".978" stop-color="#fef7bb"/></linearGradient>
<linearGradient id="b107" x2="0" y2="1"><stop offset=".022" stop-color="#ff862a"/><stop offset=".297" stop-color="#ff8e2f"/><stop offset=".461" stop-color="#ffa040"/><stop offset=".563" stop-color="#ffba55"/><stop offset=".824" stop-color="#fff5b4"/><stop offset=".978" stop-color="#fef7ba"/></linearGradient>
<linearGradient id="b108" x2="0" y2="1"><stop offset=".022" stop-color="#ff8d2f"/><stop offset=".297" stop-color="#ff8e30"/><stop offset=".455" stop-color="#ffa040"/><stop offset=".557" stop-color="#ffba55"/><stop offset=".823" stop-color="#fff5b4"/><stop offset=".978" stop-color="#fef7ba"/></linearGradient>
<linearGradient id="b109" x2="0" y2="1"><stop offset=".022" stop-color="#ff631a"/><stop offset=".055" stop-color="#ff701f"/><stop offset=".477" stop-color="#ffa040"/><stop offset=".577" stop-color="#ffba55"/><stop offset=".837" stop-color="#fff5b4"/><stop offset=".978" stop-color="#fef7b9"/></linearGradient>
<linearGradient id="b110" x2="0" y2="1"><stop offset=".022" stop-color="#ff4a11"/><stop offset=".055" stop-color="#ff5f18"/><stop offset=".269" stop-color="#ff8f31"/><stop offset=".532" stop-color="#ffa040"/><stop offset=".619" stop-color="#ffba55"/><stop offset=".854" stop-color="#fff5b4"/><stop offset=".978" stop-color="#fef7b9"/></linearGradient>
<linearGradient id="b111" x2="0" y2="1"><stop offset=".022" stop-color="#ff8429"/><stop offset=".55" stop-color="#ffa040"/><stop offset=".639" stop-color="#ffba55"/><stop offset=".864" stop-color="#fff5b4"/><stop offset=".978" stop-color="#fef6b8"/></linearGradient>
<linearGradient id="b112" x2="0" y2="1"><stop offset=".022" stop-color="#ff9031"/><stop offset=".542" stop-color="#ffa040"/><stop offset=".637" stop-color="#ffba55"/><stop offset=".87" stop-color="#fff5b4"/><stop offset=".978" stop-color="#fff6b6"/></linearGradient>
<linearGradient id="b113" x2="0" y2="1"><stop offset=".022" stop-color="#ff6c1d"/><stop offset=".138" stop-color="#ff9032"/><stop offset=".543" stop-color="#ffa040"/><stop offset=".644" stop-color="#ffba55"/><stop offset=".929" stop-color="#fff5b4"/><stop offset=".978" stop-color="#fff6b6"/></linearGradient>
<linearGradient id="b114" x2="0" y2="1"><stop offset=".022" stop-color="#ff4a11"/><stop offset=".114" stop-color="#ff9132"/><stop offset=".549" stop-color="#ffa040"/><stop offset=".651" stop-color="#ffba55"/><stop offset=".932" stop-color="#fff5b4"/><stop offset=".978" stop-color="#fff6b6"/></linearGradient>
<linearGradient id="b115" x2="0" y2="1"><stop offset=".022" stop-color="#ff8128"/><stop offset=".537" stop-color="#ffa040"/><stop offset=".639" stop-color="#ffba55"/><stop offset=".935" stop-color="#fff5b4"/><stop offset=".978" stop-color="#fff6b6"/></linearGradient>
<linearGradient id="b116" x2="0" y2="1"><stop offset=".022" stop-color="#ff9233"/><stop offset=".284" stop-color="#ff9233"/><stop offset=".494" stop-color="#ffa040"/><stop offset=".605" stop-color="#ffba55"/><stop offset=".827" stop-color="#ffe898"/><stop offset=".978" stop-color="#fff6b6"/></linearGradient>
<linearGradient id="b117" x2="0" y2="1"><stop offset=".022" stop-color="#ff7522"/><stop offset=".424" stop-color="#ffa040"/><stop offset=".545" stop-color="#ffba55"/><stop offset=".869" stop-color="#fff5b4"/><stop offset=".978" stop-color="#fff6b6"/></linearGradient>
<linearGradient id="b118" x2="0" y2="1"><stop offset=".022" stop-color="#ff4a11"/><stop offset=".055" stop-color="#ff6018"/><stop offset=".237" stop-color="#ff9334"/><stop offset=".496" stop-color="#ffba55"/><stop offset=".833" stop-color="#fff5b4"/><stop offset=".978" stop-color="#fff6b7"/></linearGradient>
<linearGradient id="b119" x2="0" y2="1"><stop offset=".022" stop-color="#ff7d26"/><stop offset=".263" stop-color="#ff9334"/><stop offset=".448" stop-color="#ffba55"/><stop offset=".806" stop-color="#fff5b4"/><stop offset=".978" stop-color="#fef8bc"/></linearGradient>
<linearGradient id="b120" x2="0" y2="1"><stop offset=".022" stop-color="#ff9334"/><stop offset=".212" stop-color="#ff9334"/><stop offset=".606" stop-color="#ffd478"/><stop offset=".797" stop-color="#fff5b4"/><stop offset=".978" stop-color="#fef8bc"/></linearGradient>
<linearGradient id="b121" x2="0" y2="1"><stop offset=".022" stop-color="#ff7e26"/><stop offset=".25" stop-color="#ff9435"/><stop offset=".477" stop-color="#ffba55"/><stop offset=".8" stop-color="#fff5b4"/><stop offset=".978" stop-color="#fef8bd"/></linearGradient>
<linearGradient id="b122" x2="0" y2="1"><stop offset=".022" stop-color="#ff4d12"/><stop offset=".181" stop-color="#ff9435"/><stop offset=".385" stop-color="#ffa040"/><stop offset=".5" stop-color="#ffba55"/><stop offset=".807" stop-color="#fff5b4"/><stop offset=".978" stop-color="#fef8bd"/></linearGradient>
<linearGradient id="b123" x2="0" y2="1"><stop offset=".022" stop-color="#ff7823"/><stop offset=".206" stop-color="#ff9435"/><stop offset=".402" stop-color="#ffa040"/><stop offset=".514" stop-color="#ffba55"/><stop offset=".818" stop-color="#fff5b4"/><stop offset=".978" stop-color="#fef8bd"/></linearGradient>
<linearGradient id="b124" x2="0" y2="1"><stop offset=".022" stop-color="#ff9435"/><stop offset=".262" stop-color="#ff9435"/><stop offset=".417" stop-color="#ffa040"/><stop offset=".538" stop-color="#ffba55"/><stop offset=".838" stop-color="#fff5b4"/><stop offset=".978" stop-color="#fef8bd"/></linearGradient>
<linearGradient id="b125" x2="0" y2="1"><stop offset=".022" stop-color="#ff852a"/><stop offset=".487" stop-color="#ffa040"/><stop offset=".594" stop-color="#ffba55"/><stop offset=".857" stop-color="#fff5b4"/><stop offset=".978" stop-color="#fef8bd"/></linearGradient>
<linearGradient id="b126" x2="0" y2="1"><stop offset=".022" stop-color="#ff5013"/><stop offset=".055" stop-color="#ff651a"/><stop offset=".212" stop-color="#ff9536"/><stop offset=".53" stop-color="#ffa040"/><stop offset=".625" stop-color="#ffba55"/><stop offset=".866" stop-color="#fff5b4"/><stop offset=".978" stop-color="#fef8be"/></linearGradient>
<linearGradient id="b127" x2="0" y2="1"><stop offset=".022" stop-color="#ff7321"/><stop offset=".223" stop-color="#ff9536"/><stop offset=".544" stop-color="#ffa040"/><stop offset=".63" stop-color="#ffba55"/><stop offset=".868" stop-color="#fff5b4"/><stop offset=".978" stop-color="#fef8be"/></linearGradient>
<linearGradient id="b128" x2="0" y2="1"><stop offset=".022" stop-color="#ff8c2e"/><stop offset=".546" stop-color="#ffa040"/><stop offset=".63" stop-color="#ffba55"/><stop offset=".87" stop-color="#fff5b4"/><stop offset=".978" stop-color="#fef8be"/></linearGradient>
<linearGradient id="b129" x2="0" y2="1"><stop offset=".022" stop-color="#ff8c2e"/><stop offset=".546" stop-color="#ffa040"/><stop offset=".63" stop-color="#ffba55"/><stop offset=".87" stop-color="#fff5b4"/><stop offset=".978" stop-color="#fef8be"/></linearGradient>
<clipPath id="clipC"><rect x="174" y="1380" width="1291.5" height="554"/></clipPath>
<filter id="fbc" x="-2%" y="-5%" width="104%" height="110%"><feGaussianBlur stdDeviation="5.5 1.5"/></filter>
<linearGradient id="c0" x2="0" y2="1"><stop offset=".021" stop-color="#182850"/><stop offset=".067" stop-color="#1e2e64"/><stop offset=".08" stop-color="#273e98"/><stop offset=".097" stop-color="#1c5b94"/><stop offset=".114" stop-color="#2c80a0"/><stop offset=".138" stop-color="#6cb0b8"/><stop offset=".169" stop-color="#c0d8d4"/><stop offset=".309" stop-color="#f0f3eb"/><stop offset=".418" stop-color="#fdfbe5"/><stop offset=".437" stop-color="#fcf7d3"/><stop offset=".979" stop-color="#f5ecb3"/></linearGradient>
<linearGradient id="c1" x2="0" y2="1"><stop offset=".021" stop-color="#182850"/><stop offset=".067" stop-color="#1e2e64"/><stop offset=".079" stop-color="#273e98"/><stop offset=".096" stop-color="#1c5b94"/><stop offset=".113" stop-color="#2c80a0"/><stop offset=".137" stop-color="#6cb0b8"/><stop offset=".168" stop-color="#c0d8d4"/><stop offset=".308" stop-color="#f0f3eb"/><stop offset=".417" stop-color="#fdfbe5"/><stop offset=".436" stop-color="#fcf7d3"/><stop offset=".979" stop-color="#f5ecb3"/></linearGradient>
<linearGradient id="c2" x2="0" y2="1"><stop offset=".021" stop-color="#182850"/><stop offset=".067" stop-color="#1e2e64"/><stop offset=".079" stop-color="#273e98"/><stop offset=".096" stop-color="#1c5b94"/><stop offset=".113" stop-color="#2c80a0"/><stop offset=".137" stop-color="#6cb0b8"/><stop offset=".168" stop-color="#c0d8d4"/><stop offset=".308" stop-color="#f0f3eb"/><stop offset=".418" stop-color="#fdfbe5"/><stop offset=".437" stop-color="#fcf7d3"/><stop offset=".979" stop-color="#f5ecb3"/></linearGradient>
<linearGradient id="c3" x2="0" y2="1"><stop offset=".021" stop-color="#182850"/><stop offset=".069" stop-color="#1e2e64"/><stop offset=".082" stop-color="#273e98"/><stop offset=".1" stop-color="#1c5b94"/><stop offset=".117" stop-color="#2c80a0"/><stop offset=".141" stop-color="#6cb0b8"/><stop offset=".173" stop-color="#c0d8d4"/><stop offset=".314" stop-color="#f0f3eb"/><stop offset=".424" stop-color="#fdfbe5"/><stop offset=".443" stop-color="#fcf7d3"/><stop offset=".979" stop-color="#f5ecb3"/></linearGradient>
<linearGradient id="c4" x2="0" y2="1"><stop offset=".021" stop-color="#182850"/><stop offset=".073" stop-color="#1e2e64"/><stop offset=".087" stop-color="#273e98"/><stop offset=".105" stop-color="#1c5b94"/><stop offset=".124" stop-color="#2c80a0"/><stop offset=".148" stop-color="#6cb0b8"/><stop offset=".182" stop-color="#c0d8d4"/><stop offset=".323" stop-color="#f0f3eb"/><stop offset=".432" stop-color="#fdfbe5"/><stop offset=".451" stop-color="#fcf7d3"/><stop offset=".979" stop-color="#f5ecb4"/></linearGradient>
<linearGradient id="c5" x2="0" y2="1"><stop offset=".021" stop-color="#23347a"/><stop offset=".076" stop-color="#273b93"/><stop offset=".103" stop-color="#1c5994"/><stop offset=".13" stop-color="#2c80a0"/><stop offset=".155" stop-color="#6cb0b8"/><stop offset=".19" stop-color="#c0d8d4"/><stop offset=".331" stop-color="#f0f3eb"/><stop offset=".441" stop-color="#fdfbe5"/><stop offset=".46" stop-color="#fcf7d3"/><stop offset=".979" stop-color="#f5ecb4"/></linearGradient>
<linearGradient id="c6" x2="0" y2="1"><stop offset=".021" stop-color="#244299"/><stop offset=".078" stop-color="#21479a"/><stop offset=".096" stop-color="#1c5994"/><stop offset=".134" stop-color="#2c80a0"/><stop offset=".159" stop-color="#6cb0b8"/><stop offset=".199" stop-color="#c0d8d4"/><stop offset=".339" stop-color="#f0f3eb"/><stop offset=".448" stop-color="#fdfbe5"/><stop offset=".467" stop-color="#fcf7d3"/><stop offset=".979" stop-color="#f5ecb4"/></linearGradient>
<linearGradient id="c7" x2="0" y2="1"><stop offset=".021" stop-color="#1e5297"/><stop offset=".079" stop-color="#1d5795"/><stop offset=".136" stop-color="#2c80a0"/><stop offset=".161" stop-color="#6cb0b8"/><stop offset=".204" stop-color="#c0d8d4"/><stop offset=".341" stop-color="#f0f3eb"/><stop offset=".448" stop-color="#fdfbe5"/><stop offset=".467" stop-color="#fcf7d3"/><stop offset=".979" stop-color="#f5ecb4"/></linearGradient>
<linearGradient id="c8" x2="0" y2="1"><stop offset=".021" stop-color="#1c5994"/><stop offset=".07" stop-color="#1d5d95"/><stop offset=".12" stop-color="#2c80a0"/><stop offset=".159" stop-color="#6cb0b8"/><stop offset=".203" stop-color="#c0d8d4"/><stop offset=".326" stop-color="#f0f3eb"/><stop offset=".421" stop-color="#fdfbe5"/><stop offset=".441" stop-color="#fcf7d3"/><stop offset=".979" stop-color="#f5ecb4"/></linearGradient>
<linearGradient id="c9" x2="0" y2="1"><stop offset=".021" stop-color="#1c5b94"/><stop offset=".056" stop-color="#1d5f95"/><stop offset=".092" stop-color="#2c80a0"/><stop offset=".156" stop-color="#6cb0b8"/><stop offset=".199" stop-color="#c0d8d4"/><stop offset=".308" stop-color="#f0f3eb"/><stop offset=".392" stop-color="#fdfbe5"/><stop offset=".411" stop-color="#fcf7d3"/><stop offset=".979" stop-color="#f5ecb4"/></linearGradient>
<linearGradient id="c10" x2="0" y2="1"><stop offset=".021" stop-color="#1d5695"/><stop offset=".05" stop-color="#1c5b94"/><stop offset=".08" stop-color="#2c80a0"/><stop offset=".157" stop-color="#6cb0b8"/><stop offset=".194" stop-color="#c0d8d4"/><stop offset=".301" stop-color="#f0f3eb"/><stop offset=".384" stop-color="#fdfbe5"/><stop offset=".403" stop-color="#fcf7d3"/><stop offset=".979" stop-color="#f5ecb4"/></linearGradient>
<linearGradient id="c11" x2="0" y2="1"><stop offset=".021" stop-color="#1f4e98"/><stop offset=".05" stop-color="#1d5496"/><stop offset=".08" stop-color="#2c80a0"/><stop offset=".159" stop-color="#6cb0b8"/><stop offset=".197" stop-color="#c0d8d4"/><stop offset=".3" stop-color="#f0f3eb"/><stop offset=".379" stop-color="#fdfbe5"/><stop offset=".398" stop-color="#fcf7d3"/><stop offset=".979" stop-color="#f5ecb4"/></linearGradient>
<linearGradient id="c12" x2="0" y2="1"><stop offset=".021" stop-color="#244199"/><stop offset=".05" stop-color="#21469a"/><stop offset=".071" stop-color="#216c99"/><stop offset=".08" stop-color="#2c80a0"/><stop offset=".161" stop-color="#6cb0b8"/><stop offset=".203" stop-color="#c0d8d4"/><stop offset=".291" stop-color="#f0f3eb"/><stop offset=".357" stop-color="#fdfbe5"/><stop offset=".376" stop-color="#fcf7d3"/><stop offset=".979" stop-color="#f5ecb4"/></linearGradient>
<linearGradient id="c13" x2="0" y2="1"><stop offset=".021" stop-color="#273b94"/><stop offset=".05" stop-color="#254199"/><stop offset=".063" stop-color="#1c5994"/><stop offset=".08" stop-color="#2c80a0"/><stop offset=".161" stop-color="#6cb0b8"/><stop offset=".208" stop-color="#c0d8d4"/><stop offset=".269" stop-color="#f0f3eb"/><stop offset=".314" stop-color="#fdfbe5"/><stop offset=".333" stop-color="#fcf7d3"/><stop offset=".979" stop-color="#f5ecb5"/></linearGradient>
<linearGradient id="c14" x2="0" y2="1"><stop offset=".021" stop-color="#26398c"/><stop offset=".05" stop-color="#263f98"/><stop offset=".065" stop-color="#1c5c94"/><stop offset=".08" stop-color="#2c80a0"/><stop offset=".16" stop-color="#6cb0b8"/><stop offset=".215" stop-color="#c0d8d4"/><stop offset=".292" stop-color="#f0f3eb"/><stop offset=".351" stop-color="#fdfbe5"/><stop offset=".37" stop-color="#fcf7d3"/><stop offset=".979" stop-color="#f5edb5"/></linearGradient>
<linearGradient id="c15" x2="0" y2="1"><stop offset=".021" stop-color="#243683"/><stop offset=".05" stop-color="#273d98"/><stop offset=".065" stop-color="#1c5b94"/><stop offset=".08" stop-color="#2c80a0"/><stop offset=".16" stop-color="#6cb0b8"/><stop offset=".222" stop-color="#c0d8d4"/><stop offset=".306" stop-color="#f0f3eb"/><stop offset=".369" stop-color="#fdfbe5"/><stop offset=".388" stop-color="#fcf7d3"/><stop offset=".979" stop-color="#f5edb5"/></linearGradient>
<linearGradient id="c16" x2="0" y2="1"><stop offset=".021" stop-color="#23357d"/><stop offset=".05" stop-color="#273b95"/><stop offset=".065" stop-color="#1c5994"/><stop offset=".08" stop-color="#2c80a0"/><stop offset=".161" stop-color="#6cb0b8"/><stop offset=".226" stop-color="#c0d8d4"/><stop offset=".304" stop-color="#f0f3eb"/><stop offset=".363" stop-color="#fdfbe5"/><stop offset=".383" stop-color="#fcf7d3"/><stop offset=".979" stop-color="#f5edb5"/></linearGradient>
<linearGradient id="c17" x2="0" y2="1"><stop offset=".021" stop-color="#23347a"/><stop offset=".05" stop-color="#273b93"/><stop offset=".065" stop-color="#1c5994"/><stop offset=".08" stop-color="#2c80a0"/><stop offset=".156" stop-color="#6cb0b8"/><stop offset=".224" stop-color="#c0d8d4"/><stop offset=".3" stop-color="#f0f3eb"/><stop offset=".357" stop-color="#fdfbe5"/><stop offset=".376" stop-color="#fcf7d3"/><stop offset=".979" stop-color="#f5edb5"/></linearGradient>
<linearGradient id="c18" x2="0" y2="1"><stop offset=".021" stop-color="#223378"/><stop offset=".053" stop-color="#264099"/><stop offset=".067" stop-color="#1d5c95"/><stop offset=".08" stop-color="#2c80a0"/><stop offset=".166" stop-color="#6cb0b8"/><stop offset=".222" stop-color="#c0d8d4"/><stop offset=".298" stop-color="#f0f3eb"/><stop offset=".354" stop-color="#fdfbe5"/><stop offset=".373" stop-color="#fcf7d3"/><stop offset=".979" stop-color="#f5edb5"/></linearGradient>
<linearGradient id="c19" x2="0" y2="1"><stop offset=".021" stop-color="#223376"/><stop offset=".053" stop-color="#263f99"/><stop offset=".067" stop-color="#1d5c95"/><stop offset=".08" stop-color="#2c80a0"/><stop offset=".173" stop-color="#6cb0b8"/><stop offset=".227" stop-color="#c0d8d4"/><stop offset=".302" stop-color="#f0f3eb"/><stop offset=".359" stop-color="#fdfbe5"/><stop offset=".378" stop-color="#fcf7d3"/><stop offset=".979" stop-color="#f5edb5"/></linearGradient>
<linearGradient id="c20" x2="0" y2="1"><stop offset=".021" stop-color="#23357d"/><stop offset=".05" stop-color="#273b95"/><stop offset=".065" stop-color="#1c5994"/><stop offset=".08" stop-color="#2c80a0"/><stop offset=".163" stop-color="#6cb0b8"/><stop offset=".233" stop-color="#c0d8d4"/><stop offset=".316" stop-color="#f0f3eb"/><stop offset=".379" stop-color="#fdfbe5"/><stop offset=".398" stop-color="#fcf7d3"/><stop offset=".979" stop-color="#f5edb5"/></linearGradient>
<linearGradient id="c21" x2="0" y2="1"><stop offset=".021" stop-color="#253888"/><stop offset=".05" stop-color="#273e98"/><stop offset=".065" stop-color="#1c5b94"/><stop offset=".08" stop-color="#2c80a0"/><stop offset=".163" stop-color="#6cb0b8"/><stop offset=".237" stop-color="#c0d8d4"/><stop offset=".326" stop-color="#f0f3eb"/><stop offset=".394" stop-color="#fdfbe5"/><stop offset=".413" stop-color="#fcf7d3"/><stop offset=".979" stop-color="#f5edb5"/></linearGradient>
<linearGradient id="c22" x2="0" y2="1"><stop offset=".021" stop-color="#244299"/><stop offset=".05" stop-color="#21479a"/><stop offset=".06" stop-color="#1c5994"/><stop offset=".08" stop-color="#2c80a0"/><stop offset=".165" stop-color="#6cb0b8"/><stop offset=".225" stop-color="#c0d8d4"/><stop offset=".314" stop-color="#f0f3eb"/><stop offset=".381" stop-color="#fdfbe5"/><stop offset=".4" stop-color="#fcf7d3"/><stop offset=".979" stop-color="#f5edb6"/></linearGradient>
<linearGradient id="c23" x2="0" y2="1"><stop offset=".021" stop-color="#1c5a94"/><stop offset=".05" stop-color="#1d5e95"/><stop offset=".08" stop-color="#2c80a0"/><stop offset=".163" stop-color="#6cb0b8"/><stop offset=".213" stop-color="#c0d8d4"/><stop offset=".298" stop-color="#f0f3eb"/><stop offset=".363" stop-color="#fdfbe5"/><stop offset=".382" stop-color="#fcf7d3"/><stop offset=".979" stop-color="#f5edb6"/></linearGradient>
<linearGradient id="c24" x2="0" y2="1"><stop offset=".021" stop-color="#1f6597"/><stop offset=".05" stop-color="#1f6897"/><stop offset=".08" stop-color="#2c80a0"/><stop offset=".156" stop-color="#6cb0b8"/><stop offset=".205" stop-color="#c0d8d4"/><stop offset=".286" stop-color="#f0f3eb"/><stop offset=".348" stop-color="#fdfbe5"/><stop offset=".367" stop-color="#fcf7d3"/><stop offset=".979" stop-color="#f5edb6"/></linearGradient>
<linearGradient id="c25" x2="0" y2="1"><stop offset=".021" stop-color="#226e99"/><stop offset=".05" stop-color="#23709a"/><stop offset=".08" stop-color="#2c80a0"/><stop offset=".14" stop-color="#6cb0b8"/><stop offset=".196" stop-color="#c0d8d4"/><stop offset=".276" stop-color="#f0f3eb"/><stop offset=".337" stop-color="#fdfbe5"/><stop offset=".356" stop-color="#fcf7d3"/><stop offset=".979" stop-color="#f5edb6"/></linearGradient>
<linearGradient id="c26" x2="0" y2="1"><stop offset=".021" stop-color="#226d99"/><stop offset=".05" stop-color="#236f9a"/><stop offset=".08" stop-color="#2c80a0"/><stop offset=".106" stop-color="#4898ac"/><stop offset=".19" stop-color="#c0d8d4"/><stop offset=".268" stop-color="#f0f3eb"/><stop offset=".327" stop-color="#fdfbe5"/><stop offset=".346" stop-color="#fcf7d3"/><stop offset=".979" stop-color="#f5edb6"/></linearGradient>
<linearGradient id="c27" x2="0" y2="1"><stop offset=".021" stop-color="#216c99"/><stop offset=".05" stop-color="#226e9a"/><stop offset=".08" stop-color="#2c80a0"/><stop offset=".137" stop-color="#6cb0b8"/><stop offset=".193" stop-color="#c0d8d4"/><stop offset=".263" stop-color="#f0f3eb"/><stop offset=".315" stop-color="#fdfbe5"/><stop offset=".334" stop-color="#fcf7d3"/><stop offset=".979" stop-color="#f5edb6"/></linearGradient>
<linearGradient id="c28" x2="0" y2="1"><stop offset=".021" stop-color="#206a98"/><stop offset=".05" stop-color="#226d99"/><stop offset=".08" stop-color="#2c80a0"/><stop offset=".146" stop-color="#6cb0b8"/><stop offset=".197" stop-color="#c0d8d4"/><stop offset=".259" stop-color="#f0f3eb"/><stop offset=".304" stop-color="#fdfbe5"/><stop offset=".323" stop-color="#fcf7d3"/><stop offset=".979" stop-color="#f5edb7"/></linearGradient>
<linearGradient id="c29" x2="0" y2="1"><stop offset=".021" stop-color="#1f6597"/><stop offset=".053" stop-color="#1f6797"/><stop offset=".085" stop-color="#2c80a0"/><stop offset=".153" stop-color="#6cb0b8"/><stop offset=".201" stop-color="#c0d8d4"/><stop offset=".261" stop-color="#f0f3eb"/><stop offset=".305" stop-color="#fdfbe5"/><stop offset=".324" stop-color="#fcf7d3"/><stop offset=".979" stop-color="#f5edb7"/></linearGradient>
<linearGradient id="c30" x2="0" y2="1"><stop offset=".021" stop-color="#1c5c94"/><stop offset=".076" stop-color="#1d6095"/><stop offset=".131" stop-color="#2c80a0"/><stop offset=".158" stop-color="#6cb0b8"/><stop offset=".205" stop-color="#c0d8d4"/><stop offset=".269" stop-color="#f0f3eb"/><stop offset=".316" stop-color="#fdfbe5"/><stop offset=".335" stop-color="#fcf7d3"/><stop offset=".979" stop-color="#f5edb7"/></linearGradient>
<linearGradient id="c31" x2="0" y2="1"><stop offset=".021" stop-color="#1c5994"/><stop offset=".079" stop-color="#1d5d95"/><stop offset=".137" stop-color="#2c80a0"/><stop offset=".161" stop-color="#6cb0b8"/><stop offset=".213" stop-color="#c0d8d4"/><stop offset=".284" stop-color="#f0f3eb"/><stop offset=".337" stop-color="#fdfbe5"/><stop offset=".356" stop-color="#fcf7d3"/><stop offset=".979" stop-color="#f5edb7"/></linearGradient>
<linearGradient id="c32" x2="0" y2="1"><stop offset=".021" stop-color="#1c5895"/><stop offset=".073" stop-color="#1d5c95"/><stop offset=".125" stop-color="#2c80a0"/><stop offset=".16" stop-color="#6cb0b8"/><stop offset=".226" stop-color="#c0d8d4"/><stop offset=".298" stop-color="#f0f3eb"/><stop offset=".351" stop-color="#fdfbe5"/><stop offset=".37" stop-color="#fcf7d3"/><stop offset=".979" stop-color="#f6edb7"/></linearGradient>
<linearGradient id="c33" x2="0" y2="1"><stop offset=".021" stop-color="#1d5795"/><stop offset=".052" stop-color="#1c5c94"/><stop offset=".083" stop-color="#2c80a0"/><stop offset=".157" stop-color="#6cb0b8"/><stop offset=".242" stop-color="#c0d8d4"/><stop offset=".314" stop-color="#f0f3eb"/><stop offset=".368" stop-color="#fdfbe5"/><stop offset=".387" stop-color="#fcf7d3"/><stop offset=".979" stop-color="#f6edb7"/></linearGradient>
<linearGradient id="c34" x2="0" y2="1"><stop offset=".021" stop-color="#1d5795"/><stop offset=".062" stop-color="#1c5b94"/><stop offset=".103" stop-color="#2c80a0"/><stop offset=".158" stop-color="#6cb0b8"/><stop offset=".257" stop-color="#c0d8d4"/><stop offset=".328" stop-color="#f0f3eb"/><stop offset=".381" stop-color="#fdfbe5"/><stop offset=".4" stop-color="#fcf7d3"/><stop offset=".979" stop-color="#f6eeb8"/></linearGradient>
<linearGradient id="c35" x2="0" y2="1"><stop offset=".021" stop-color="#1c5a94"/><stop offset=".068" stop-color="#1d5e95"/><stop offset=".115" stop-color="#2c80a0"/><stop offset=".147" stop-color="#6cb0b8"/><stop offset=".332" stop-color="#f0f3eb"/><stop offset=".38" stop-color="#fdfbe5"/><stop offset=".399" stop-color="#fcf7d3"/><stop offset=".979" stop-color="#f6eeb8"/></linearGradient>
<linearGradient id="c36" x2="0" y2="1"><stop offset=".021" stop-color="#1d5c95"/><stop offset=".05" stop-color="#1d6095"/><stop offset=".08" stop-color="#2c80a0"/><stop offset=".116" stop-color="#6cb0b8"/><stop offset=".337" stop-color="#f0f3eb"/><stop offset=".388" stop-color="#fdfbe5"/><stop offset=".407" stop-color="#fcf7d3"/><stop offset=".979" stop-color="#f6eeb8"/></linearGradient>
<linearGradient id="c37" x2="0" y2="1"><stop offset=".021" stop-color="#1d5f95"/><stop offset=".05" stop-color="#1e6296"/><stop offset=".08" stop-color="#2c80a0"/><stop offset=".124" stop-color="#6cb0b8"/><stop offset=".342" stop-color="#f0f3eb"/><stop offset=".397" stop-color="#fdfbe5"/><stop offset=".416" stop-color="#fcf7d3"/><stop offset=".979" stop-color="#f6eeb8"/></linearGradient>
<linearGradient id="c38" x2="0" y2="1"><stop offset=".021" stop-color="#1e6296"/><stop offset=".071" stop-color="#1f6597"/><stop offset=".121" stop-color="#2c80a0"/><stop offset=".198" stop-color="#6cb0b8"/><stop offset=".285" stop-color="#c0d8d4"/><stop offset=".36" stop-color="#f0f3eb"/><stop offset=".417" stop-color="#fdfbe5"/><stop offset=".436" stop-color="#fcf7d3"/><stop offset=".979" stop-color="#f6eeb8"/></linearGradient>
<linearGradient id="c39" x2="0" y2="1"><stop offset=".021" stop-color="#1f6497"/><stop offset=".077" stop-color="#1f6797"/><stop offset=".133" stop-color="#2c80a0"/><stop offset=".213" stop-color="#6cb0b8"/><stop offset=".285" stop-color="#c0d8d4"/><stop offset=".38" stop-color="#f0f3eb"/><stop offset=".452" stop-color="#fdfbe5"/><stop offset=".471" stop-color="#fcf7d3"/><stop offset=".979" stop-color="#f6eeb8"/></linearGradient>
<linearGradient id="c40" x2="0" y2="1"><stop offset=".021" stop-color="#1f6797"/><stop offset=".05" stop-color="#206998"/><stop offset=".126" stop-color="#4898ac"/><stop offset=".269" stop-color="#c0d8d4"/><stop offset=".397" stop-color="#f0f3eb"/><stop offset=".497" stop-color="#fdfbe5"/><stop offset=".516" stop-color="#fcf7d3"/><stop offset=".979" stop-color="#f6eeb9"/></linearGradient>
<linearGradient id="c41" x2="0" y2="1"><stop offset=".021" stop-color="#206a98"/><stop offset=".05" stop-color="#216c99"/><stop offset=".181" stop-color="#6cb0b8"/><stop offset=".269" stop-color="#c0d8d4"/><stop offset=".419" stop-color="#f0f3eb"/><stop offset=".537" stop-color="#fdfbe5"/><stop offset=".556" stop-color="#fcf7d3"/><stop offset=".979" stop-color="#f6eeb9"/></linearGradient>
<linearGradient id="c42" x2="0" y2="1"><stop offset=".021" stop-color="#1f6897"/><stop offset=".076" stop-color="#206a98"/><stop offset=".131" stop-color="#2c80a0"/><stop offset=".197" stop-color="#6cb0b8"/><stop offset=".282" stop-color="#c0d8d4"/><stop offset=".459" stop-color="#f0f3eb"/><stop offset=".599" stop-color="#fdfbe5"/><stop offset=".618" stop-color="#fcf7d3"/><stop offset=".979" stop-color="#f6eeb9"/></linearGradient>
<linearGradient id="c43" x2="0" y2="1"><stop offset=".021" stop-color="#1f6597"/><stop offset=".089" stop-color="#1f6897"/><stop offset=".158" stop-color="#2c80a0"/><stop offset=".205" stop-color="#6cb0b8"/><stop offset=".294" stop-color="#c0d8d4"/><stop offset=".49" stop-color="#f0f3eb"/><stop offset=".645" stop-color="#fdfbe5"/><stop offset=".664" stop-color="#fcf7d3"/><stop offset=".979" stop-color="#f6eeb9"/></linearGradient>
<linearGradient id="c44" x2="0" y2="1"><stop offset=".021" stop-color="#1e6296"/><stop offset=".066" stop-color="#1f6597"/><stop offset=".111" stop-color="#2c80a0"/><stop offset=".195" stop-color="#6cb0b8"/><stop offset=".299" stop-color="#c0d8d4"/><stop offset=".47" stop-color="#f0f3eb"/><stop offset=".604" stop-color="#fdfbe5"/><stop offset=".623" stop-color="#fcf7d3"/><stop offset=".979" stop-color="#f6eeb9"/></linearGradient>
<linearGradient id="c45" x2="0" y2="1"><stop offset=".021" stop-color="#1d5f95"/><stop offset=".05" stop-color="#1e6396"/><stop offset=".08" stop-color="#2c80a0"/><stop offset=".178" stop-color="#6cb0b8"/><stop offset=".287" stop-color="#c0d8d4"/><stop offset=".454" stop-color="#f0f3eb"/><stop offset=".585" stop-color="#fdfbe5"/><stop offset=".604" stop-color="#fcf7d3"/><stop offset=".979" stop-color="#f6eeb9"/></linearGradient>
<linearGradient id="c46" x2="0" y2="1"><stop offset=".021" stop-color="#1c5b94"/><stop offset=".051" stop-color="#1d5e95"/><stop offset=".081" stop-color="#2c80a0"/><stop offset=".178" stop-color="#6cb0b8"/><stop offset=".262" stop-color="#c0d8d4"/><stop offset=".442" stop-color="#f0f3eb"/><stop offset=".585" stop-color="#fdfbe5"/><stop offset=".604" stop-color="#fcf7d3"/><stop offset=".979" stop-color="#f6eeba"/></linearGradient>
<linearGradient id="c47" x2="0" y2="1"><stop offset=".021" stop-color="#1d5596"/><stop offset=".051" stop-color="#1c5a94"/><stop offset=".082" stop-color="#2c80a0"/><stop offset=".179" stop-color="#6cb0b8"/><stop offset=".253" stop-color="#c0d8d4"/><stop offset=".434" stop-color="#f0f3eb"/><stop offset=".576" stop-color="#fdfbe5"/><stop offset=".595" stop-color="#fcf7d3"/><stop offset=".979" stop-color="#f6eeba"/></linearGradient>
<linearGradient id="c48" x2="0" y2="1"><stop offset=".021" stop-color="#1e4f98"/><stop offset=".05" stop-color="#1d5596"/><stop offset=".08" stop-color="#2c80a0"/><stop offset=".179" stop-color="#6cb0b8"/><stop offset=".253" stop-color="#c0d8d4"/><stop offset=".436" stop-color="#f0f3eb"/><stop offset=".581" stop-color="#fdfbe5"/><stop offset=".6" stop-color="#fcf7d3"/><stop offset=".979" stop-color="#f6eeba"/></linearGradient>
<linearGradient id="c49" x2="0" y2="1"><stop offset=".021" stop-color="#20499a"/><stop offset=".05" stop-color="#1e4f98"/><stop offset=".08" stop-color="#2c80a0"/><stop offset=".181" stop-color="#6cb0b8"/><stop offset=".251" stop-color="#c0d8d4"/><stop offset=".442" stop-color="#f0f3eb"/><stop offset=".594" stop-color="#fdfbe5"/><stop offset=".613" stop-color="#fcf7d3"/><stop offset=".979" stop-color="#f6eeba"/></linearGradient>
<linearGradient id="c50" x2="0" y2="1"><stop offset=".021" stop-color="#234499"/><stop offset=".055" stop-color="#20499a"/><stop offset=".067" stop-color="#1c5b94"/><stop offset=".089" stop-color="#2c80a0"/><stop offset=".191" stop-color="#6cb0b8"/><stop offset=".254" stop-color="#c0d8d4"/><stop offset=".442" stop-color="#f0f3eb"/><stop offset=".592" stop-color="#fdfbe5"/><stop offset=".611" stop-color="#fcf7d3"/><stop offset=".979" stop-color="#f6eeba"/></linearGradient>
<linearGradient id="c51" x2="0" y2="1"><stop offset=".021" stop-color="#273d98"/><stop offset=".058" stop-color="#244399"/><stop offset=".075" stop-color="#1c5b94"/><stop offset=".096" stop-color="#2c80a0"/><stop offset=".198" stop-color="#6cb0b8"/><stop offset=".257" stop-color="#c0d8d4"/><stop offset=".443" stop-color="#f0f3eb"/><stop offset=".59" stop-color="#fdfbe5"/><stop offset=".609" stop-color="#fcf7d3"/><stop offset=".979" stop-color="#f6eeba"/></linearGradient>
<linearGradient id="c52" x2="0" y2="1"><stop offset=".021" stop-color="#213170"/><stop offset=".05" stop-color="#25388a"/><stop offset=".054" stop-color="#273e98"/><stop offset=".067" stop-color="#1c5b94"/><stop offset=".08" stop-color="#2c80a0"/><stop offset=".206" stop-color="#6cb0b8"/><stop offset=".27" stop-color="#c0d8d4"/><stop offset=".447" stop-color="#f0f3eb"/><stop offset=".587" stop-color="#fdfbe5"/><stop offset=".606" stop-color="#fcf7d3"/><stop offset=".979" stop-color="#f6efba"/></linearGradient>
<linearGradient id="c53" x2="0" y2="1"><stop offset=".021" stop-color="#1c2c5f"/><stop offset=".05" stop-color="#223275"/><stop offset=".056" stop-color="#273e98"/><stop offset=".068" stop-color="#1c5b94"/><stop offset=".08" stop-color="#2c80a0"/><stop offset=".211" stop-color="#6cb0b8"/><stop offset=".316" stop-color="#c0d8d4"/><stop offset=".467" stop-color="#f0f3eb"/><stop offset=".585" stop-color="#fdfbe5"/><stop offset=".604" stop-color="#fcf7d3"/><stop offset=".979" stop-color="#f6efba"/></linearGradient>
<linearGradient id="c54" x2="0" y2="1"><stop offset=".021" stop-color="#1c2c5d"/><stop offset=".061" stop-color="#213171"/><stop offset=".069" stop-color="#273d98"/><stop offset=".085" stop-color="#1c5b94"/><stop offset=".101" stop-color="#2c80a0"/><stop offset=".219" stop-color="#6cb0b8"/><stop offset=".283" stop-color="#c0d8d4"/><stop offset=".451" stop-color="#f0f3eb"/><stop offset=".583" stop-color="#fdfbe5"/><stop offset=".602" stop-color="#fcf7d3"/><stop offset=".979" stop-color="#f6efba"/></linearGradient>
<linearGradient id="c55" x2="0" y2="1"><stop offset=".021" stop-color="#1b2b5a"/><stop offset=".067" stop-color="#20306d"/><stop offset=".076" stop-color="#283c98"/><stop offset=".094" stop-color="#1c5a94"/><stop offset=".113" stop-color="#2c80a0"/><stop offset=".232" stop-color="#6cb0b8"/><stop offset=".293" stop-color="#c0d8d4"/><stop offset=".451" stop-color="#f0f3eb"/><stop offset=".576" stop-color="#fdfbe5"/><stop offset=".595" stop-color="#fcf7d3"/><stop offset=".979" stop-color="#f6efba"/></linearGradient>
<linearGradient id="c56" x2="0" y2="1"><stop offset=".021" stop-color="#1a2a57"/><stop offset=".05" stop-color="#20306b"/><stop offset=".056" stop-color="#283b96"/><stop offset=".068" stop-color="#1c5a94"/><stop offset=".08" stop-color="#2c80a0"/><stop offset=".238" stop-color="#6cb0b8"/><stop offset=".303" stop-color="#c0d8d4"/><stop offset=".456" stop-color="#f0f3eb"/><stop offset=".575" stop-color="#fdfbe5"/><stop offset=".594" stop-color="#fcf7d3"/><stop offset=".979" stop-color="#f6efbb"/></linearGradient>
<linearGradient id="c57" x2="0" y2="1"><stop offset=".021" stop-color="#1a2a57"/><stop offset=".05" stop-color="#20306b"/><stop offset=".056" stop-color="#283c96"/><stop offset=".068" stop-color="#1c5a94"/><stop offset=".08" stop-color="#2c80a0"/><stop offset=".213" stop-color="#6cb0b8"/><stop offset=".287" stop-color="#c0d8d4"/><stop offset=".454" stop-color="#f0f3eb"/><stop offset=".585" stop-color="#fdfbe5"/><stop offset=".604" stop-color="#fcf7d3"/><stop offset=".979" stop-color="#f6efbb"/></linearGradient>
<linearGradient id="c58" x2="0" y2="1"><stop offset=".021" stop-color="#1b2b5c"/><stop offset=".059" stop-color="#213170"/><stop offset=".067" stop-color="#273d98"/><stop offset=".082" stop-color="#1c5b94"/><stop offset=".097" stop-color="#2c80a0"/><stop offset=".201" stop-color="#6cb0b8"/><stop offset=".262" stop-color="#c0d8d4"/><stop offset=".451" stop-color="#f0f3eb"/><stop offset=".6" stop-color="#fdfbe5"/><stop offset=".619" stop-color="#fcf7d3"/><stop offset=".979" stop-color="#f6efbb"/></linearGradient>
<linearGradient id="c59" x2="0" y2="1"><stop offset=".021" stop-color="#1d2d61"/><stop offset=".061" stop-color="#223377"/><stop offset=".069" stop-color="#263e98"/><stop offset=".086" stop-color="#1c5c94"/><stop offset=".102" stop-color="#2c80a0"/><stop offset=".196" stop-color="#6cb0b8"/><stop offset=".242" stop-color="#c0d8d4"/><stop offset=".444" stop-color="#f0f3eb"/><stop offset=".604" stop-color="#fdfbe5"/><stop offset=".623" stop-color="#fcf7d3"/><stop offset=".979" stop-color="#f6efbb"/></linearGradient>
<linearGradient id="c60" x2="0" y2="1"><stop offset=".021" stop-color="#1e2e65"/><stop offset=".052" stop-color="#23357d"/><stop offset=".055" stop-color="#273b94"/><stop offset=".069" stop-color="#1c5994"/><stop offset=".083" stop-color="#2c80a0"/><stop offset=".191" stop-color="#6cb0b8"/><stop offset=".249" stop-color="#c0d8d4"/><stop offset=".445" stop-color="#f0f3eb"/><stop offset=".6" stop-color="#fdfbe5"/><stop offset=".619" stop-color="#fcf7d3"/><stop offset=".979" stop-color="#f6efbb"/></linearGradient>
<linearGradient id="c61" x2="0" y2="1"><stop offset=".021" stop-color="#273e98"/><stop offset=".059" stop-color="#234399"/><stop offset=".076" stop-color="#1c5b94"/><stop offset=".098" stop-color="#2c80a0"/><stop offset=".186" stop-color="#6cb0b8"/><stop offset=".255" stop-color="#c0d8d4"/><stop offset=".446" stop-color="#f0f3eb"/><stop offset=".597" stop-color="#fdfbe5"/><stop offset=".616" stop-color="#fcf7d3"/><stop offset=".979" stop-color="#f6efbb"/></linearGradient>
<linearGradient id="c62" x2="0" y2="1"><stop offset=".021" stop-color="#1f4d98"/><stop offset=".076" stop-color="#1d5396"/><stop offset=".132" stop-color="#2c80a0"/><stop offset=".18" stop-color="#6cb0b8"/><stop offset=".261" stop-color="#c0d8d4"/><stop offset=".45" stop-color="#f0f3eb"/><stop offset=".599" stop-color="#fdfbe5"/><stop offset=".618" stop-color="#fcf7d3"/><stop offset=".979" stop-color="#f6efbb"/></linearGradient>
<linearGradient id="c63" x2="0" y2="1"><stop offset=".021" stop-color="#1e5297"/><stop offset=".087" stop-color="#1d5795"/><stop offset=".153" stop-color="#2c80a0"/><stop offset=".181" stop-color="#6cb0b8"/><stop offset=".267" stop-color="#c0d8d4"/><stop offset=".457" stop-color="#f0f3eb"/><stop offset=".607" stop-color="#fdfbe5"/><stop offset=".626" stop-color="#fcf7d3"/><stop offset=".979" stop-color="#f6efbb"/></linearGradient>
<linearGradient id="c64" x2="0" y2="1"><stop offset=".021" stop-color="#1d5795"/><stop offset=".06" stop-color="#1c5b94"/><stop offset=".099" stop-color="#2c80a0"/><stop offset=".173" stop-color="#6cb0b8"/><stop offset=".273" stop-color="#c0d8d4"/><stop offset=".47" stop-color="#f0f3eb"/><stop offset=".626" stop-color="#fdfbe5"/><stop offset=".645" stop-color="#fcf7d3"/><stop offset=".979" stop-color="#f6efbb"/></linearGradient>
<linearGradient id="c65" x2="0" y2="1"><stop offset=".021" stop-color="#1c5a94"/><stop offset=".05" stop-color="#1d5d95"/><stop offset=".08" stop-color="#2c80a0"/><stop offset=".165" stop-color="#6cb0b8"/><stop offset=".313" stop-color="#c0d8d4"/><stop offset=".503" stop-color="#f0f3eb"/><stop offset=".654" stop-color="#fdfbe5"/><stop offset=".673" stop-color="#fcf7d3"/><stop offset=".979" stop-color="#f6efbb"/></linearGradient>
<linearGradient id="c66" x2="0" y2="1"><stop offset=".021" stop-color="#1d5895"/><stop offset=".05" stop-color="#1c5c94"/><stop offset=".08" stop-color="#2c80a0"/><stop offset=".167" stop-color="#6cb0b8"/><stop offset=".278" stop-color="#c0d8d4"/><stop offset=".492" stop-color="#f0f3eb"/><stop offset=".662" stop-color="#fdfbe5"/><stop offset=".681" stop-color="#fcf7d3"/><stop offset=".979" stop-color="#f6efbb"/></linearGradient>
<linearGradient id="c67" x2="0" y2="1"><stop offset=".021" stop-color="#1d5695"/><stop offset=".06" stop-color="#1c5a94"/><stop offset=".098" stop-color="#2c80a0"/><stop offset=".172" stop-color="#6cb0b8"/><stop offset=".265" stop-color="#c0d8d4"/><stop offset=".488" stop-color="#f0f3eb"/><stop offset=".666" stop-color="#fdfbe5"/><stop offset=".685" stop-color="#fcf7d3"/><stop offset=".979" stop-color="#f7efbb"/></linearGradient>
<linearGradient id="c68" x2="0" y2="1"><stop offset=".021" stop-color="#1d5496"/><stop offset=".053" stop-color="#1c5994"/><stop offset=".085" stop-color="#2c80a0"/><stop offset=".13" stop-color="#4898ac"/><stop offset=".27" stop-color="#c0d8d4"/><stop offset=".49" stop-color="#f0f3eb"/><stop offset=".665" stop-color="#fdfbe5"/><stop offset=".684" stop-color="#fcf7d3"/><stop offset=".979" stop-color="#f7efbc"/></linearGradient>
<linearGradient id="c69" x2="0" y2="1"><stop offset=".021" stop-color="#20499a"/><stop offset=".05" stop-color="#1e5097"/><stop offset=".08" stop-color="#2c80a0"/><stop offset=".129" stop-color="#4898ac"/><stop offset=".286" stop-color="#c0d8d4"/><stop offset=".495" stop-color="#f0f3eb"/><stop offset=".662" stop-color="#fdfbe5"/><stop offset=".681" stop-color="#fcf7d3"/><stop offset=".979" stop-color="#f7efbc"/></linearGradient>
<linearGradient id="c70" x2="0" y2="1"><stop offset=".021" stop-color="#263e98"/><stop offset=".069" stop-color="#234499"/><stop offset=".09" stop-color="#1c5b94"/><stop offset=".117" stop-color="#2c80a0"/><stop offset=".188" stop-color="#6cb0b8"/><stop offset=".287" stop-color="#c0d8d4"/><stop offset=".5" stop-color="#f0f3eb"/><stop offset=".669" stop-color="#fdfbe5"/><stop offset=".688" stop-color="#fcf7d3"/><stop offset=".979" stop-color="#f7efbc"/></linearGradient>
<linearGradient id="c71" x2="0" y2="1"><stop offset=".021" stop-color="#23347c"/><stop offset=".083" stop-color="#273b94"/><stop offset=".113" stop-color="#1c5994"/><stop offset=".144" stop-color="#2c80a0"/><stop offset=".195" stop-color="#6cb0b8"/><stop offset=".287" stop-color="#c0d8d4"/><stop offset=".508" stop-color="#f0f3eb"/><stop offset=".684" stop-color="#fdfbe5"/><stop offset=".703" stop-color="#fcf7d3"/><stop offset=".979" stop-color="#f7efbc"/></linearGradient>
<linearGradient id="c72" x2="0" y2="1"><stop offset=".021" stop-color="#1d2d60"/><stop offset=".056" stop-color="#223376"/><stop offset=".064" stop-color="#263e98"/><stop offset=".078" stop-color="#1c5c94"/><stop offset=".092" stop-color="#2c80a0"/><stop offset=".282" stop-color="#c0d8d4"/><stop offset=".51" stop-color="#f0f3eb"/><stop offset=".691" stop-color="#fdfbe5"/><stop offset=".71" stop-color="#fcf7d3"/><stop offset=".979" stop-color="#f7efbc"/></linearGradient>
<linearGradient id="c73" x2="0" y2="1"><stop offset=".021" stop-color="#1a2a56"/><stop offset=".05" stop-color="#1f2f69"/><stop offset=".056" stop-color="#273b94"/><stop offset=".068" stop-color="#1c5994"/><stop offset=".08" stop-color="#2c80a0"/><stop offset=".161" stop-color="#6cb0b8"/><stop offset=".263" stop-color="#c0d8d4"/><stop offset=".5" stop-color="#f0f3eb"/><stop offset=".689" stop-color="#fdfbe5"/><stop offset=".708" stop-color="#fcf7d3"/><stop offset=".979" stop-color="#f7efbc"/></linearGradient>
<linearGradient id="c74" x2="0" y2="1"><stop offset=".021" stop-color="#1a2a56"/><stop offset=".05" stop-color="#1f2f69"/><stop offset=".056" stop-color="#273b94"/><stop offset=".068" stop-color="#1c5994"/><stop offset=".08" stop-color="#2c80a0"/><stop offset=".153" stop-color="#6cb0b8"/><stop offset=".24" stop-color="#c0d8d4"/><stop offset=".492" stop-color="#f0f3eb"/><stop offset=".694" stop-color="#fdfbe5"/><stop offset=".713" stop-color="#fcf7d3"/><stop offset=".979" stop-color="#f7efbc"/></linearGradient>
<linearGradient id="c75" x2="0" y2="1"><stop offset=".021" stop-color="#1a2a56"/><stop offset=".05" stop-color="#1f2f69"/><stop offset=".056" stop-color="#273b94"/><stop offset=".068" stop-color="#1c5994"/><stop offset=".08" stop-color="#2c80a0"/><stop offset=".15" stop-color="#6cb0b8"/><stop offset=".217" stop-color="#c0d8d4"/><stop offset=".483" stop-color="#f0f3eb"/><stop offset=".695" stop-color="#fdfbe5"/><stop offset=".714" stop-color="#fcf7d3"/><stop offset=".979" stop-color="#f7efbc"/></linearGradient>
<linearGradient id="c76" x2="0" y2="1"><stop offset=".021" stop-color="#1a2a56"/><stop offset=".05" stop-color="#1f2f69"/><stop offset=".056" stop-color="#273b94"/><stop offset=".068" stop-color="#1c5994"/><stop offset=".08" stop-color="#2c80a0"/><stop offset=".149" stop-color="#6cb0b8"/><stop offset=".197" stop-color="#c0d8d4"/><stop offset=".47" stop-color="#f0f3eb"/><stop offset=".689" stop-color="#fdfbe5"/><stop offset=".708" stop-color="#fcf7d3"/><stop offset=".979" stop-color="#f7efbc"/></linearGradient>
<linearGradient id="c77" x2="0" y2="1"><stop offset=".021" stop-color="#1e2e65"/><stop offset=".05" stop-color="#23347c"/><stop offset=".053" stop-color="#273b93"/><stop offset=".067" stop-color="#1c5994"/><stop offset=".08" stop-color="#2c80a0"/><stop offset=".15" stop-color="#6cb0b8"/><stop offset=".179" stop-color="#c0d8d4"/><stop offset=".458" stop-color="#f0f3eb"/><stop offset=".681" stop-color="#fdfbe5"/><stop offset=".7" stop-color="#fcf7d3"/><stop offset=".979" stop-color="#f7efbc"/></linearGradient>
<linearGradient id="c78" x2="0" y2="1"><stop offset=".021" stop-color="#283d98"/><stop offset=".06" stop-color="#244299"/><stop offset=".077" stop-color="#1c5a94"/><stop offset=".1" stop-color="#2c80a0"/><stop offset=".147" stop-color="#6cb0b8"/><stop offset=".18" stop-color="#c0d8d4"/><stop offset=".448" stop-color="#f0f3eb"/><stop offset=".663" stop-color="#fdfbe5"/><stop offset=".682" stop-color="#fcf7d3"/><stop offset=".979" stop-color="#f7efbc"/></linearGradient>
<linearGradient id="c79" x2="0" y2="1"><stop offset=".021" stop-color="#1f4b99"/><stop offset=".066" stop-color="#1e5197"/><stop offset=".112" stop-color="#2c80a0"/><stop offset=".152" stop-color="#6cb0b8"/><stop offset=".208" stop-color="#c0d8d4"/><stop offset=".447" stop-color="#f0f3eb"/><stop offset=".637" stop-color="#fdfbe5"/><stop offset=".656" stop-color="#fcf7d3"/><stop offset=".979" stop-color="#f7efbc"/></linearGradient>
<linearGradient id="c80" x2="0" y2="1"><stop offset=".021" stop-color="#1c5b94"/><stop offset=".05" stop-color="#1d5f95"/><stop offset=".08" stop-color="#2c80a0"/><stop offset=".151" stop-color="#6cb0b8"/><stop offset=".212" stop-color="#c0d8d4"/><stop offset=".441" stop-color="#f0f3eb"/><stop offset=".624" stop-color="#fdfbe5"/><stop offset=".643" stop-color="#fcf7d3"/><stop offset=".979" stop-color="#f7efbc"/></linearGradient>
<linearGradient id="c81" x2="0" y2="1"><stop offset=".021" stop-color="#1d6095"/><stop offset=".05" stop-color="#1e6396"/><stop offset=".11" stop-color="#4898ac"/><stop offset=".206" stop-color="#c0d8d4"/><stop offset=".428" stop-color="#f0f3eb"/><stop offset=".605" stop-color="#fdfbe5"/><stop offset=".624" stop-color="#fcf7d3"/><stop offset=".979" stop-color="#f7efbc"/></linearGradient>
<linearGradient id="c82" x2="0" y2="1"><stop offset=".021" stop-color="#1f6497"/><stop offset=".065" stop-color="#1f6797"/><stop offset=".109" stop-color="#2c80a0"/><stop offset=".133" stop-color="#6cb0b8"/><stop offset=".201" stop-color="#c0d8d4"/><stop offset=".414" stop-color="#f0f3eb"/><stop offset=".583" stop-color="#fdfbe5"/><stop offset=".602" stop-color="#fcf7d3"/><stop offset=".979" stop-color="#f7efbb"/></linearGradient>
<linearGradient id="c83" x2="0" y2="1"><stop offset=".021" stop-color="#1e6196"/><stop offset=".061" stop-color="#1e6496"/><stop offset=".101" stop-color="#2c80a0"/><stop offset=".125" stop-color="#6cb0b8"/><stop offset=".19" stop-color="#c0d8d4"/><stop offset=".402" stop-color="#f0f3eb"/><stop offset=".57" stop-color="#fdfbe5"/><stop offset=".589" stop-color="#fcf7d3"/><stop offset=".979" stop-color="#f6efbb"/></linearGradient>
<linearGradient id="c84" x2="0" y2="1"><stop offset=".021" stop-color="#1d5496"/><stop offset=".057" stop-color="#1c5994"/><stop offset=".094" stop-color="#2c80a0"/><stop offset=".118" stop-color="#6cb0b8"/><stop offset=".177" stop-color="#c0d8d4"/><stop offset=".388" stop-color="#f0f3eb"/><stop offset=".556" stop-color="#fdfbe5"/><stop offset=".575" stop-color="#fcf7d3"/><stop offset=".979" stop-color="#f6efbb"/></linearGradient>
<linearGradient id="c85" x2="0" y2="1"><stop offset=".021" stop-color="#1e4f98"/><stop offset=".051" stop-color="#1d5596"/><stop offset=".081" stop-color="#2c80a0"/><stop offset=".11" stop-color="#6cb0b8"/><stop offset=".168" stop-color="#c0d8d4"/><stop offset=".374" stop-color="#f0f3eb"/><stop offset=".537" stop-color="#fdfbe5"/><stop offset=".556" stop-color="#fcf7d3"/><stop offset=".979" stop-color="#f6efbb"/></linearGradient>
<linearGradient id="c86" x2="0" y2="1"><stop offset=".021" stop-color="#1e4f98"/><stop offset=".056" stop-color="#1d5596"/><stop offset=".091" stop-color="#2c80a0"/><stop offset=".115" stop-color="#6cb0b8"/><stop offset=".168" stop-color="#c0d8d4"/><stop offset=".364" stop-color="#f0f3eb"/><stop offset=".518" stop-color="#fdfbe5"/><stop offset=".537" stop-color="#fcf7d3"/><stop offset=".979" stop-color="#f6efbb"/></linearGradient>
<linearGradient id="c87" x2="0" y2="1"><stop offset=".021" stop-color="#1e4f98"/><stop offset=".059" stop-color="#1d5596"/><stop offset=".097" stop-color="#2c80a0"/><stop offset=".121" stop-color="#6cb0b8"/><stop offset=".174" stop-color="#c0d8d4"/><stop offset=".365" stop-color="#f0f3eb"/><stop offset=".516" stop-color="#fdfbe5"/><stop offset=".535" stop-color="#fcf7d3"/><stop offset=".979" stop-color="#f6efbb"/></linearGradient>
<linearGradient id="c88" x2="0" y2="1"><stop offset=".021" stop-color="#1d5c95"/><stop offset=".063" stop-color="#1d6095"/><stop offset=".105" stop-color="#2c80a0"/><stop offset=".129" stop-color="#6cb0b8"/><stop offset=".182" stop-color="#c0d8d4"/><stop offset=".369" stop-color="#f0f3eb"/><stop offset=".518" stop-color="#fdfbe5"/><stop offset=".537" stop-color="#fcf7d3"/><stop offset=".979" stop-color="#f6efbb"/></linearGradient>
<linearGradient id="c89" x2="0" y2="1"><stop offset=".021" stop-color="#1f6797"/><stop offset=".066" stop-color="#206998"/><stop offset=".112" stop-color="#2c80a0"/><stop offset=".136" stop-color="#6cb0b8"/><stop offset=".185" stop-color="#c0d8d4"/><stop offset=".357" stop-color="#f0f3eb"/><stop offset=".492" stop-color="#fdfbe5"/><stop offset=".511" stop-color="#fcf7d3"/><stop offset=".979" stop-color="#f6efbb"/></linearGradient>
<linearGradient id="c90" x2="0" y2="1"><stop offset=".021" stop-color="#1f6897"/><stop offset=".069" stop-color="#206a98"/><stop offset=".118" stop-color="#2c80a0"/><stop offset=".142" stop-color="#6cb0b8"/><stop offset=".189" stop-color="#c0d8d4"/><stop offset=".347" stop-color="#f0f3eb"/><stop offset=".47" stop-color="#fdfbe5"/><stop offset=".489" stop-color="#fcf7d3"/><stop offset=".979" stop-color="#f6efbb"/></linearGradient>
<linearGradient id="c91" x2="0" y2="1"><stop offset=".021" stop-color="#206898"/><stop offset=".069" stop-color="#206a98"/><stop offset=".118" stop-color="#2c80a0"/><stop offset=".142" stop-color="#6cb0b8"/><stop offset=".195" stop-color="#c0d8d4"/><stop offset=".337" stop-color="#f0f3eb"/><stop offset=".448" stop-color="#fdfbe5"/><stop offset=".467" stop-color="#fcf7d3"/><stop offset=".979" stop-color="#f6efbb"/></linearGradient>
<linearGradient id="c92" x2="0" y2="1"><stop offset=".021" stop-color="#206998"/><stop offset=".066" stop-color="#216b98"/><stop offset=".111" stop-color="#2c80a0"/><stop offset=".136" stop-color="#6cb0b8"/><stop offset=".194" stop-color="#c0d8d4"/><stop offset=".332" stop-color="#f0f3eb"/><stop offset=".439" stop-color="#fdfbe5"/><stop offset=".458" stop-color="#fcf7d3"/><stop offset=".979" stop-color="#f6efba"/></linearGradient>
<linearGradient id="c93" x2="0" y2="1"><stop offset=".021" stop-color="#206998"/><stop offset=".06" stop-color="#216c99"/><stop offset=".099" stop-color="#2c80a0"/><stop offset=".133" stop-color="#6cb0b8"/><stop offset=".186" stop-color="#c0d8d4"/><stop offset=".331" stop-color="#f0f3eb"/><stop offset=".445" stop-color="#fdfbe5"/><stop offset=".464" stop-color="#fcf7d3"/><stop offset=".979" stop-color="#f6efba"/></linearGradient>
<linearGradient id="c94" x2="0" y2="1"><stop offset=".021" stop-color="#206a98"/><stop offset=".064" stop-color="#216d99"/><stop offset=".108" stop-color="#2c80a0"/><stop offset=".132" stop-color="#6cb0b8"/><stop offset=".186" stop-color="#c0d8d4"/><stop offset=".337" stop-color="#f0f3eb"/><stop offset=".455" stop-color="#fdfbe5"/><stop offset=".474" stop-color="#fcf7d3"/><stop offset=".979" stop-color="#f6efba"/></linearGradient>
<linearGradient id="c95" x2="0" y2="1"><stop offset=".021" stop-color="#206a98"/><stop offset=".061" stop-color="#216d99"/><stop offset=".102" stop-color="#2c80a0"/><stop offset=".126" stop-color="#6cb0b8"/><stop offset=".191" stop-color="#c0d8d4"/><stop offset=".353" stop-color="#f0f3eb"/><stop offset=".481" stop-color="#fdfbe5"/><stop offset=".5" stop-color="#fcf7d3"/><stop offset=".979" stop-color="#f6eeba"/></linearGradient>
<linearGradient id="c96" x2="0" y2="1"><stop offset=".021" stop-color="#206a98"/><stop offset=".055" stop-color="#216d99"/><stop offset=".089" stop-color="#2c80a0"/><stop offset=".113" stop-color="#6cb0b8"/><stop offset=".196" stop-color="#c0d8d4"/><stop offset=".372" stop-color="#f0f3eb"/><stop offset=".511" stop-color="#fdfbe5"/><stop offset=".53" stop-color="#fcf7d3"/><stop offset=".979" stop-color="#f6eeba"/></linearGradient>
<linearGradient id="c97" x2="0" y2="1"><stop offset=".021" stop-color="#206a98"/><stop offset=".057" stop-color="#216d99"/><stop offset=".092" stop-color="#2c80a0"/><stop offset=".117" stop-color="#6cb0b8"/><stop offset=".198" stop-color="#c0d8d4"/><stop offset=".383" stop-color="#f0f3eb"/><stop offset=".529" stop-color="#fdfbe5"/><stop offset=".548" stop-color="#fcf7d3"/><stop offset=".979" stop-color="#f6eeba"/></linearGradient>
<linearGradient id="c98" x2="0" y2="1"><stop offset=".021" stop-color="#206a98"/><stop offset=".068" stop-color="#216d99"/><stop offset=".115" stop-color="#2c80a0"/><stop offset=".139" stop-color="#6cb0b8"/><stop offset=".203" stop-color="#c0d8d4"/><stop offset=".386" stop-color="#f0f3eb"/><stop offset=".53" stop-color="#fdfbe5"/><stop offset=".549" stop-color="#fcf7d3"/><stop offset=".979" stop-color="#f6eeba"/></linearGradient>
<linearGradient id="c99" x2="0" y2="1"><stop offset=".021" stop-color="#206a98"/><stop offset=".066" stop-color="#216d99"/><stop offset=".111" stop-color="#2c80a0"/><stop offset=".147" stop-color="#6cb0b8"/><stop offset=".205" stop-color="#c0d8d4"/><stop offset=".382" stop-color="#f0f3eb"/><stop offset=".521" stop-color="#fdfbe5"/><stop offset=".54" stop-color="#fcf7d3"/><stop offset=".979" stop-color="#f6eeba"/></linearGradient>
<linearGradient id="c100" x2="0" y2="1"><stop offset=".021" stop-color="#206b98"/><stop offset=".05" stop-color="#226d99"/><stop offset=".08" stop-color="#2c80a0"/><stop offset=".144" stop-color="#6cb0b8"/><stop offset=".203" stop-color="#c0d8d4"/><stop offset=".383" stop-color="#f0f3eb"/><stop offset=".526" stop-color="#fdfbe5"/><stop offset=".545" stop-color="#fcf7d3"/><stop offset=".979" stop-color="#f6eeba"/></linearGradient>
<linearGradient id="c101" x2="0" y2="1"><stop offset=".021" stop-color="#216b98"/><stop offset=".05" stop-color="#226e99"/><stop offset=".08" stop-color="#2c80a0"/><stop offset=".133" stop-color="#6cb0b8"/><stop offset=".2" stop-color="#c0d8d4"/><stop offset=".387" stop-color="#f0f3eb"/><stop offset=".535" stop-color="#fdfbe5"/><stop offset=".554" stop-color="#fcf7d3"/><stop offset=".979" stop-color="#f6eeb9"/></linearGradient>
<linearGradient id="c102" x2="0" y2="1"><stop offset=".021" stop-color="#216c99"/><stop offset=".06" stop-color="#226f9a"/><stop offset=".099" stop-color="#2c80a0"/><stop offset=".13" stop-color="#6cb0b8"/><stop offset=".202" stop-color="#c0d8d4"/><stop offset=".388" stop-color="#f0f3eb"/><stop offset=".534" stop-color="#fdfbe5"/><stop offset=".553" stop-color="#fcf7d3"/><stop offset=".979" stop-color="#f6eeb9"/></linearGradient>
<linearGradient id="c103" x2="0" y2="1"><stop offset=".021" stop-color="#226d99"/><stop offset=".061" stop-color="#236f9a"/><stop offset=".102" stop-color="#2c80a0"/><stop offset=".128" stop-color="#6cb0b8"/><stop offset=".204" stop-color="#c0d8d4"/><stop offset=".386" stop-color="#f0f3eb"/><stop offset=".53" stop-color="#fdfbe5"/><stop offset=".549" stop-color="#fcf7d3"/><stop offset=".979" stop-color="#f6eeb9"/></linearGradient>
<linearGradient id="c104" x2="0" y2="1"><stop offset=".021" stop-color="#226e99"/><stop offset=".05" stop-color="#23709a"/><stop offset=".08" stop-color="#2c80a0"/><stop offset=".11" stop-color="#6cb0b8"/><stop offset=".202" stop-color="#c0d8d4"/><stop offset=".38" stop-color="#f0f3eb"/><stop offset=".52" stop-color="#fdfbe5"/><stop offset=".539" stop-color="#fcf7d3"/><stop offset=".979" stop-color="#f6eeb9"/></linearGradient>
<linearGradient id="c105" x2="0" y2="1"><stop offset=".021" stop-color="#226e9a"/><stop offset=".049" stop-color="#23709a"/><stop offset=".078" stop-color="#2c80a0"/><stop offset=".102" stop-color="#6cb0b8"/><stop offset=".189" stop-color="#c0d8d4"/><stop offset=".371" stop-color="#f0f3eb"/><stop offset=".514" stop-color="#fdfbe5"/><stop offset=".533" stop-color="#fcf7d3"/><stop offset=".979" stop-color="#f6eeb9"/></linearGradient>
<linearGradient id="c106" x2="0" y2="1"><stop offset=".021" stop-color="#226d99"/><stop offset=".081" stop-color="#2c80a0"/><stop offset=".106" stop-color="#6cb0b8"/><stop offset=".178" stop-color="#c0d8d4"/><stop offset=".365" stop-color="#f0f3eb"/><stop offset=".513" stop-color="#fdfbe5"/><stop offset=".532" stop-color="#fcf7d3"/><stop offset=".979" stop-color="#f6eeb9"/></linearGradient>
<linearGradient id="c107" x2="0" y2="1"><stop offset=".021" stop-color="#216d99"/><stop offset=".054" stop-color="#236f9a"/><stop offset=".088" stop-color="#2c80a0"/><stop offset=".112" stop-color="#6cb0b8"/><stop offset=".17" stop-color="#c0d8d4"/><stop offset=".357" stop-color="#f0f3eb"/><stop offset=".504" stop-color="#fdfbe5"/><stop offset=".523" stop-color="#fcf7d3"/><stop offset=".979" stop-color="#f6eeb9"/></linearGradient>
<linearGradient id="c108" x2="0" y2="1"><stop offset=".021" stop-color="#216c99"/><stop offset=".055" stop-color="#226e9a"/><stop offset=".088" stop-color="#2c80a0"/><stop offset=".112" stop-color="#6cb0b8"/><stop offset=".163" stop-color="#c0d8d4"/><stop offset=".351" stop-color="#f0f3eb"/><stop offset=".5" stop-color="#fdfbe5"/><stop offset=".519" stop-color="#fcf7d3"/><stop offset=".979" stop-color="#f6eeb9"/></linearGradient>
<linearGradient id="c109" x2="0" y2="1"><stop offset=".021" stop-color="#216b98"/><stop offset=".052" stop-color="#226e99"/><stop offset=".083" stop-color="#2c80a0"/><stop offset=".114" stop-color="#6cb0b8"/><stop offset=".157" stop-color="#c0d8d4"/><stop offset=".352" stop-color="#f0f3eb"/><stop offset=".506" stop-color="#fdfbe5"/><stop offset=".525" stop-color="#fcf7d3"/><stop offset=".979" stop-color="#f6eeb9"/></linearGradient>
<linearGradient id="c110" x2="0" y2="1"><stop offset=".021" stop-color="#206a98"/><stop offset=".058" stop-color="#226d99"/><stop offset=".094" stop-color="#2c80a0"/><stop offset=".119" stop-color="#6cb0b8"/><stop offset=".159" stop-color="#c0d8d4"/><stop offset=".35" stop-color="#f0f3eb"/><stop offset=".502" stop-color="#fdfbe5"/><stop offset=".521" stop-color="#fcf7d3"/><stop offset=".979" stop-color="#f6eeb9"/></linearGradient>
<linearGradient id="c111" x2="0" y2="1"><stop offset=".021" stop-color="#206a98"/><stop offset=".059" stop-color="#226d99"/><stop offset=".098" stop-color="#2c80a0"/><stop offset=".122" stop-color="#6cb0b8"/><stop offset=".17" stop-color="#c0d8d4"/><stop offset=".339" stop-color="#f0f3eb"/><stop offset=".473" stop-color="#fdfbe5"/><stop offset=".492" stop-color="#fcf7d3"/><stop offset=".979" stop-color="#f6eeb8"/></linearGradient>
<linearGradient id="c112" x2="0" y2="1"><stop offset=".021" stop-color="#216b98"/><stop offset=".058" stop-color="#226e99"/><stop offset=".096" stop-color="#2c80a0"/><stop offset=".12" stop-color="#6cb0b8"/><stop offset=".182" stop-color="#c0d8d4"/><stop offset=".323" stop-color="#f0f3eb"/><stop offset=".434" stop-color="#fdfbe5"/><stop offset=".453" stop-color="#fcf7d3"/><stop offset=".979" stop-color="#f6eeb8"/></linearGradient>
<linearGradient id="c113" x2="0" y2="1"><stop offset=".021" stop-color="#216c99"/><stop offset=".056" stop-color="#226e99"/><stop offset=".092" stop-color="#2c80a0"/><stop offset=".116" stop-color="#6cb0b8"/><stop offset=".178" stop-color="#c0d8d4"/><stop offset=".312" stop-color="#f0f3eb"/><stop offset=".416" stop-color="#fdfbe5"/><stop offset=".435" stop-color="#fcf7d3"/><stop offset=".979" stop-color="#f6eeb8"/></linearGradient>
<linearGradient id="c114" x2="0" y2="1"><stop offset=".021" stop-color="#216c99"/><stop offset=".055" stop-color="#226f9a"/><stop offset=".09" stop-color="#2c80a0"/><stop offset=".114" stop-color="#6cb0b8"/><stop offset=".168" stop-color="#c0d8d4"/><stop offset=".304" stop-color="#f0f3eb"/><stop offset=".411" stop-color="#fdfbe5"/><stop offset=".43" stop-color="#fcf7d3"/><stop offset=".979" stop-color="#f6eeb8"/></linearGradient>
<linearGradient id="c115" x2="0" y2="1"><stop offset=".021" stop-color="#216d99"/><stop offset=".052" stop-color="#236f9a"/><stop offset=".083" stop-color="#2c80a0"/><stop offset=".107" stop-color="#6cb0b8"/><stop offset=".176" stop-color="#c0d8d4"/><stop offset=".301" stop-color="#f0f3eb"/><stop offset=".398" stop-color="#fdfbe5"/><stop offset=".417" stop-color="#fcf7d3"/><stop offset=".979" stop-color="#f6eeb8"/></linearGradient>
<linearGradient id="c116" x2="0" y2="1"><stop offset=".021" stop-color="#226d99"/><stop offset=".063" stop-color="#2c80a0"/><stop offset=".088" stop-color="#6cb0b8"/><stop offset=".173" stop-color="#c0d8d4"/><stop offset=".299" stop-color="#f0f3eb"/><stop offset=".397" stop-color="#fdfbe5"/><stop offset=".416" stop-color="#fcf7d3"/><stop offset=".979" stop-color="#f6eeb8"/></linearGradient>
<linearGradient id="c117" x2="0" y2="1"><stop offset=".021" stop-color="#226e99"/><stop offset=".042" stop-color="#23709a"/><stop offset=".063" stop-color="#2c80a0"/><stop offset=".087" stop-color="#6cb0b8"/><stop offset=".163" stop-color="#c0d8d4"/><stop offset=".295" stop-color="#f0f3eb"/><stop offset=".399" stop-color="#fdfbe5"/><stop offset=".418" stop-color="#fcf7d3"/><stop offset=".979" stop-color="#f6eeb8"/></linearGradient>
<linearGradient id="c118" x2="0" y2="1"><stop offset=".021" stop-color="#226e9a"/><stop offset=".048" stop-color="#24709a"/><stop offset=".075" stop-color="#2c80a0"/><stop offset=".099" stop-color="#6cb0b8"/><stop offset=".161" stop-color="#c0d8d4"/><stop offset=".295" stop-color="#f0f3eb"/><stop offset=".398" stop-color="#fdfbe5"/><stop offset=".417" stop-color="#fcf7d3"/><stop offset=".979" stop-color="#f6eeb8"/></linearGradient>
<linearGradient id="c119" x2="0" y2="1"><stop offset=".021" stop-color="#226e9a"/><stop offset=".048" stop-color="#24709a"/><stop offset=".075" stop-color="#2c80a0"/><stop offset=".099" stop-color="#6cb0b8"/><stop offset=".161" stop-color="#c0d8d4"/><stop offset=".295" stop-color="#f0f3eb"/><stop offset=".398" stop-color="#fdfbe5"/><stop offset=".417" stop-color="#fcf7d3"/><stop offset=".979" stop-color="#f6eeb8"/></linearGradient>
<clipPath id="clipD"><rect x="110.5" y="2030.5" width="1355" height="477"/></clipPath>
<filter id="fbd" x="-2%" y="-5%" width="104%" height="110%"><feGaussianBlur stdDeviation="5.5 2"/></filter>
<linearGradient id="d0" x2="0" y2="1"><stop offset=".024" stop-color="#58961a"/><stop offset=".382" stop-color="#1b7a33"/><stop offset=".482" stop-color="#29822c"/><stop offset=".576" stop-color="#47911f"/><stop offset=".669" stop-color="#879f11"/><stop offset=".7" stop-color="#9aa218"/><stop offset=".732" stop-color="#c3b243"/><stop offset=".808" stop-color="#d4c162"/><stop offset=".976" stop-color="#ddcb75"/></linearGradient>
<linearGradient id="d1" x2="0" y2="1"><stop offset=".024" stop-color="#58961a"/><stop offset=".382" stop-color="#1b7a33"/><stop offset=".482" stop-color="#29822c"/><stop offset=".576" stop-color="#47911f"/><stop offset=".672" stop-color="#879f11"/><stop offset=".705" stop-color="#9aa218"/><stop offset=".737" stop-color="#c3b243"/><stop offset=".812" stop-color="#d4c162"/><stop offset=".976" stop-color="#ddcb75"/></linearGradient>
<linearGradient id="d2" x2="0" y2="1"><stop offset=".024" stop-color="#58961a"/><stop offset=".183" stop-color="#328728"/><stop offset=".382" stop-color="#1b7a33"/><stop offset=".482" stop-color="#29822c"/><stop offset=".682" stop-color="#749d13"/><stop offset=".731" stop-color="#9aa218"/><stop offset=".763" stop-color="#c3b243"/><stop offset=".839" stop-color="#d4c162"/><stop offset=".976" stop-color="#ddcb75"/></linearGradient>
<linearGradient id="d3" x2="0" y2="1"><stop offset=".024" stop-color="#58961a"/><stop offset=".183" stop-color="#2c842b"/><stop offset=".382" stop-color="#1b7a33"/><stop offset=".482" stop-color="#29822c"/><stop offset=".752" stop-color="#8ba010"/><stop offset=".787" stop-color="#9aa218"/><stop offset=".819" stop-color="#c3b243"/><stop offset=".976" stop-color="#ddcb75"/></linearGradient>
<linearGradient id="d4" x2="0" y2="1"><stop offset=".024" stop-color="#59961a"/><stop offset=".183" stop-color="#29822c"/><stop offset=".282" stop-color="#1b7a33"/><stop offset=".382" stop-color="#1b7a33"/><stop offset=".482" stop-color="#29822c"/><stop offset=".682" stop-color="#6a9c14"/><stop offset=".786" stop-color="#9aa218"/><stop offset=".818" stop-color="#c3b243"/><stop offset=".893" stop-color="#d4c162"/><stop offset=".976" stop-color="#ddcb75"/></linearGradient>
<linearGradient id="d5" x2="0" y2="1"><stop offset=".024" stop-color="#739d13"/><stop offset=".093" stop-color="#699c14"/><stop offset=".282" stop-color="#2d842a"/><stop offset=".482" stop-color="#2e852a"/><stop offset=".682" stop-color="#649a16"/><stop offset=".742" stop-color="#9aa218"/><stop offset=".774" stop-color="#c3b243"/><stop offset=".85" stop-color="#d4c162"/><stop offset=".976" stop-color="#ddcb75"/></linearGradient>
<linearGradient id="d6" x2="0" y2="1"><stop offset=".024" stop-color="#99a217"/><stop offset=".093" stop-color="#97a115"/><stop offset=".282" stop-color="#4c931d"/><stop offset=".482" stop-color="#358927"/><stop offset=".682" stop-color="#5b9719"/><stop offset=".735" stop-color="#8ba010"/><stop offset=".753" stop-color="#9aa218"/><stop offset=".785" stop-color="#c3b243"/><stop offset=".861" stop-color="#d4c162"/><stop offset=".976" stop-color="#ddcb75"/></linearGradient>
<linearGradient id="d7" x2="0" y2="1"><stop offset=".024" stop-color="#a7a522"/><stop offset=".093" stop-color="#a7a522"/><stop offset=".183" stop-color="#899f11"/><stop offset=".282" stop-color="#599719"/><stop offset=".482" stop-color="#378a25"/><stop offset=".682" stop-color="#58961a"/><stop offset=".748" stop-color="#8b9f11"/><stop offset=".771" stop-color="#9aa218"/><stop offset=".803" stop-color="#c3b243"/><stop offset=".878" stop-color="#d4c162"/><stop offset=".976" stop-color="#ddcb75"/></linearGradient>
<linearGradient id="d8" x2="0" y2="1"><stop offset=".024" stop-color="#b5a92d"/><stop offset=".093" stop-color="#b5a92d"/><stop offset=".216" stop-color="#879f11"/><stop offset=".282" stop-color="#629917"/><stop offset=".482" stop-color="#378a25"/><stop offset=".682" stop-color="#58961a"/><stop offset=".765" stop-color="#8b9f11"/><stop offset=".793" stop-color="#9aa218"/><stop offset=".825" stop-color="#c3b243"/><stop offset=".976" stop-color="#ddcb75"/></linearGradient>
<linearGradient id="d9" x2="0" y2="1"><stop offset=".024" stop-color="#bdae3a"/><stop offset=".093" stop-color="#bdae3a"/><stop offset=".208" stop-color="#97a215"/><stop offset=".282" stop-color="#6a9c14"/><stop offset=".382" stop-color="#47911f"/><stop offset=".482" stop-color="#378a25"/><stop offset=".682" stop-color="#58961a"/><stop offset=".781" stop-color="#799e12"/><stop offset=".821" stop-color="#9aa218"/><stop offset=".853" stop-color="#c3b243"/><stop offset=".976" stop-color="#ddcb75"/></linearGradient>
<linearGradient id="d10" x2="0" y2="1"><stop offset=".024" stop-color="#b9ab34"/><stop offset=".093" stop-color="#b9ab34"/><stop offset=".216" stop-color="#90a010"/><stop offset=".282" stop-color="#6a9c14"/><stop offset=".382" stop-color="#47911f"/><stop offset=".482" stop-color="#378a25"/><stop offset=".682" stop-color="#50941c"/><stop offset=".781" stop-color="#6f9d13"/><stop offset=".836" stop-color="#9aa218"/><stop offset=".868" stop-color="#c3b243"/><stop offset=".976" stop-color="#dbc971"/></linearGradient>
<linearGradient id="d11" x2="0" y2="1"><stop offset=".024" stop-color="#ada627"/><stop offset=".093" stop-color="#ada627"/><stop offset=".216" stop-color="#8b9f11"/><stop offset=".382" stop-color="#47911f"/><stop offset=".482" stop-color="#378a25"/><stop offset=".576" stop-color="#47911f"/><stop offset=".682" stop-color="#3e8e22"/><stop offset=".781" stop-color="#54951b"/><stop offset=".845" stop-color="#8a9f11"/><stop offset=".866" stop-color="#9aa218"/><stop offset=".898" stop-color="#c3b243"/><stop offset=".972" stop-color="#d1be5b"/><stop offset=".976" stop-color="#d7c568"/></linearGradient>
<linearGradient id="d12" x2="0" y2="1"><stop offset=".024" stop-color="#a6a521"/><stop offset=".183" stop-color="#97a216"/><stop offset=".216" stop-color="#889f11"/><stop offset=".382" stop-color="#47911f"/><stop offset=".482" stop-color="#378a25"/><stop offset=".576" stop-color="#47911f"/><stop offset=".682" stop-color="#378a25"/><stop offset=".781" stop-color="#47911f"/><stop offset=".856" stop-color="#879f11"/><stop offset=".881" stop-color="#9aa218"/><stop offset=".913" stop-color="#c3b243"/><stop offset=".976" stop-color="#d5c263"/></linearGradient>
<linearGradient id="d13" x2="0" y2="1"><stop offset=".024" stop-color="#9ea31b"/><stop offset=".183" stop-color="#90a010"/><stop offset=".382" stop-color="#47911f"/><stop offset=".482" stop-color="#3e8e22"/><stop offset=".576" stop-color="#55951b"/><stop offset=".682" stop-color="#48911f"/><stop offset=".781" stop-color="#599719"/><stop offset=".859" stop-color="#8b9f11"/><stop offset=".885" stop-color="#9aa218"/><stop offset=".917" stop-color="#c3b243"/><stop offset=".976" stop-color="#d7c568"/></linearGradient>
<linearGradient id="d14" x2="0" y2="1"><stop offset=".024" stop-color="#91a011"/><stop offset=".183" stop-color="#829f11"/><stop offset=".282" stop-color="#5d9818"/><stop offset=".382" stop-color="#47911f"/><stop offset=".482" stop-color="#4e931d"/><stop offset=".576" stop-color="#6c9c14"/><stop offset=".682" stop-color="#679b15"/><stop offset=".781" stop-color="#779d13"/><stop offset=".863" stop-color="#9aa218"/><stop offset=".895" stop-color="#c3b243"/><stop offset=".971" stop-color="#d3c05f"/><stop offset=".976" stop-color="#dbc970"/></linearGradient>
<linearGradient id="d15" x2="0" y2="1"><stop offset=".024" stop-color="#899f11"/><stop offset=".183" stop-color="#799e12"/><stop offset=".282" stop-color="#58961a"/><stop offset=".382" stop-color="#47911f"/><stop offset=".482" stop-color="#58961a"/><stop offset=".576" stop-color="#799e12"/><stop offset=".682" stop-color="#799e12"/><stop offset=".71" stop-color="#9aa218"/><stop offset=".742" stop-color="#c3b243"/><stop offset=".818" stop-color="#d4c162"/><stop offset=".976" stop-color="#ddcb75"/></linearGradient>
<linearGradient id="d16" x2="0" y2="1"><stop offset=".024" stop-color="#859f11"/><stop offset=".183" stop-color="#729d13"/><stop offset=".282" stop-color="#54951b"/><stop offset=".382" stop-color="#47911f"/><stop offset=".482" stop-color="#5c9818"/><stop offset=".614" stop-color="#8ca010"/><stop offset=".652" stop-color="#9aa218"/><stop offset=".684" stop-color="#c3b243"/><stop offset=".76" stop-color="#d4c162"/><stop offset=".976" stop-color="#ddcb75"/></linearGradient>
<linearGradient id="d17" x2="0" y2="1"><stop offset=".024" stop-color="#7d9e12"/><stop offset=".093" stop-color="#669b15"/><stop offset=".183" stop-color="#619917"/><stop offset=".282" stop-color="#4b921e"/><stop offset=".382" stop-color="#47911f"/><stop offset=".576" stop-color="#859f11"/><stop offset=".707" stop-color="#9aa218"/><stop offset=".739" stop-color="#c3b243"/><stop offset=".815" stop-color="#d4c162"/><stop offset=".976" stop-color="#ddcb75"/></linearGradient>
<linearGradient id="d18" x2="0" y2="1"><stop offset=".024" stop-color="#799e12"/><stop offset=".093" stop-color="#58961a"/><stop offset=".183" stop-color="#58961a"/><stop offset=".282" stop-color="#47911f"/><stop offset=".382" stop-color="#47911f"/><stop offset=".576" stop-color="#889f11"/><stop offset=".682" stop-color="#889f11"/><stop offset=".722" stop-color="#9aa218"/><stop offset=".754" stop-color="#c3b243"/><stop offset=".829" stop-color="#d4c162"/><stop offset=".976" stop-color="#ddcb75"/></linearGradient>
<linearGradient id="d19" x2="0" y2="1"><stop offset=".024" stop-color="#7e9e12"/><stop offset=".093" stop-color="#649a16"/><stop offset=".183" stop-color="#5e9818"/><stop offset=".282" stop-color="#47911f"/><stop offset=".382" stop-color="#47911f"/><stop offset=".576" stop-color="#839f11"/><stop offset=".682" stop-color="#839f11"/><stop offset=".736" stop-color="#9aa218"/><stop offset=".768" stop-color="#c3b243"/><stop offset=".843" stop-color="#d4c162"/><stop offset=".976" stop-color="#ddcb75"/></linearGradient>
<linearGradient id="d20" x2="0" y2="1"><stop offset=".024" stop-color="#869f11"/><stop offset=".183" stop-color="#679b15"/><stop offset=".282" stop-color="#47911f"/><stop offset=".382" stop-color="#47911f"/><stop offset=".482" stop-color="#5b9719"/><stop offset=".576" stop-color="#7c9e12"/><stop offset=".682" stop-color="#7c9e12"/><stop offset=".787" stop-color="#9aa218"/><stop offset=".819" stop-color="#c3b243"/><stop offset=".976" stop-color="#ddcb75"/></linearGradient>
<linearGradient id="d21" x2="0" y2="1"><stop offset=".024" stop-color="#889f11"/><stop offset=".183" stop-color="#6a9c14"/><stop offset=".282" stop-color="#47911f"/><stop offset=".382" stop-color="#47911f"/><stop offset=".482" stop-color="#58961a"/><stop offset=".576" stop-color="#799e12"/><stop offset=".682" stop-color="#799e12"/><stop offset=".835" stop-color="#9aa218"/><stop offset=".866" stop-color="#c3b243"/><stop offset=".976" stop-color="#ddcb75"/></linearGradient>
<linearGradient id="d22" x2="0" y2="1"><stop offset=".024" stop-color="#839f11"/><stop offset=".183" stop-color="#6a9c14"/><stop offset=".282" stop-color="#47911f"/><stop offset=".482" stop-color="#52941c"/><stop offset=".576" stop-color="#6f9c14"/><stop offset=".682" stop-color="#6f9c14"/><stop offset=".889" stop-color="#9aa218"/><stop offset=".921" stop-color="#c3b243"/><stop offset=".976" stop-color="#ddcb75"/></linearGradient>
<linearGradient id="d23" x2="0" y2="1"><stop offset=".024" stop-color="#7c9e12"/><stop offset=".183" stop-color="#6a9c14"/><stop offset=".282" stop-color="#47911f"/><stop offset=".482" stop-color="#4a921e"/><stop offset=".576" stop-color="#5f9917"/><stop offset=".682" stop-color="#5f9917"/><stop offset=".836" stop-color="#8ba010"/><stop offset=".89" stop-color="#9aa218"/><stop offset=".922" stop-color="#c3b243"/><stop offset=".976" stop-color="#ddcb75"/></linearGradient>
<linearGradient id="d24" x2="0" y2="1"><stop offset=".024" stop-color="#799e12"/><stop offset=".183" stop-color="#6a9c14"/><stop offset=".282" stop-color="#47911f"/><stop offset=".482" stop-color="#47911f"/><stop offset=".576" stop-color="#58961a"/><stop offset=".682" stop-color="#58961a"/><stop offset=".83" stop-color="#8a9f11"/><stop offset=".878" stop-color="#9aa218"/><stop offset=".91" stop-color="#c3b243"/><stop offset=".972" stop-color="#d4c162"/><stop offset=".976" stop-color="#ddcb75"/></linearGradient>
<linearGradient id="d25" x2="0" y2="1"><stop offset=".024" stop-color="#719d13"/><stop offset=".183" stop-color="#5c9818"/><stop offset=".282" stop-color="#3a8c24"/><stop offset=".482" stop-color="#3e8e22"/><stop offset=".682" stop-color="#58961a"/><stop offset=".812" stop-color="#8ca010"/><stop offset=".843" stop-color="#9aa218"/><stop offset=".875" stop-color="#c3b243"/><stop offset=".976" stop-color="#dbc970"/></linearGradient>
<linearGradient id="d26" x2="0" y2="1"><stop offset=".024" stop-color="#629a16"/><stop offset=".282" stop-color="#27812d"/><stop offset=".382" stop-color="#27812d"/><stop offset=".576" stop-color="#3f8e22"/><stop offset=".682" stop-color="#58961a"/><stop offset=".774" stop-color="#8b9f11"/><stop offset=".804" stop-color="#9aa218"/><stop offset=".836" stop-color="#c3b243"/><stop offset=".976" stop-color="#d7c568"/></linearGradient>
<linearGradient id="d27" x2="0" y2="1"><stop offset=".024" stop-color="#59961a"/><stop offset=".282" stop-color="#1b7a33"/><stop offset=".382" stop-color="#1b7a33"/><stop offset=".576" stop-color="#378a25"/><stop offset=".682" stop-color="#58961a"/><stop offset=".762" stop-color="#8b9f11"/><stop offset=".788" stop-color="#9aa218"/><stop offset=".82" stop-color="#c3b243"/><stop offset=".976" stop-color="#d5c263"/></linearGradient>
<linearGradient id="d28" x2="0" y2="1"><stop offset=".024" stop-color="#58961a"/><stop offset=".282" stop-color="#1a7733"/><stop offset=".482" stop-color="#1f7c31"/><stop offset=".682" stop-color="#54951b"/><stop offset=".773" stop-color="#8a9f11"/><stop offset=".804" stop-color="#9aa218"/><stop offset=".836" stop-color="#c3b243"/><stop offset=".976" stop-color="#d5c263"/></linearGradient>
<linearGradient id="d29" x2="0" y2="1"><stop offset=".024" stop-color="#58961a"/><stop offset=".183" stop-color="#227e30"/><stop offset=".282" stop-color="#197132"/><stop offset=".529" stop-color="#1b7a33"/><stop offset=".682" stop-color="#4b921e"/><stop offset=".781" stop-color="#889f11"/><stop offset=".846" stop-color="#9aa218"/><stop offset=".878" stop-color="#c3b243"/><stop offset=".976" stop-color="#d5c263"/></linearGradient>
<linearGradient id="d30" x2="0" y2="1"><stop offset=".024" stop-color="#59961a"/><stop offset=".093" stop-color="#47911f"/><stop offset=".183" stop-color="#1b7a33"/><stop offset=".282" stop-color="#186e32"/><stop offset=".482" stop-color="#186e32"/><stop offset=".545" stop-color="#1b7a33"/><stop offset=".682" stop-color="#47911f"/><stop offset=".781" stop-color="#889f11"/><stop offset=".857" stop-color="#9aa218"/><stop offset=".889" stop-color="#c3b243"/><stop offset=".976" stop-color="#d5c263"/></linearGradient>
<linearGradient id="d31" x2="0" y2="1"><stop offset=".024" stop-color="#649a16"/><stop offset=".093" stop-color="#5e9818"/><stop offset=".216" stop-color="#1e7c31"/><stop offset=".282" stop-color="#186e32"/><stop offset=".482" stop-color="#186e32"/><stop offset=".545" stop-color="#1b7933"/><stop offset=".682" stop-color="#47911f"/><stop offset=".781" stop-color="#889f11"/><stop offset=".855" stop-color="#9aa218"/><stop offset=".887" stop-color="#c3b243"/><stop offset=".976" stop-color="#d5c263"/></linearGradient>
<linearGradient id="d32" x2="0" y2="1"><stop offset=".024" stop-color="#749d13"/><stop offset=".093" stop-color="#7f9e12"/><stop offset=".183" stop-color="#4d931d"/><stop offset=".243" stop-color="#1d7b32"/><stop offset=".282" stop-color="#186e32"/><stop offset=".482" stop-color="#186e32"/><stop offset=".576" stop-color="#1d7b32"/><stop offset=".682" stop-color="#47911f"/><stop offset=".781" stop-color="#889f11"/><stop offset=".848" stop-color="#9aa218"/><stop offset=".88" stop-color="#c3b243"/><stop offset=".976" stop-color="#d5c263"/></linearGradient>
<linearGradient id="d33" x2="0" y2="1"><stop offset=".024" stop-color="#7a9e12"/><stop offset=".093" stop-color="#889f11"/><stop offset=".183" stop-color="#599719"/><stop offset=".243" stop-color="#227e30"/><stop offset=".282" stop-color="#186f32"/><stop offset=".482" stop-color="#186e32"/><stop offset=".576" stop-color="#1c7a33"/><stop offset=".682" stop-color="#47911f"/><stop offset=".781" stop-color="#889f11"/><stop offset=".84" stop-color="#9aa218"/><stop offset=".872" stop-color="#c3b243"/><stop offset=".976" stop-color="#d5c263"/></linearGradient>
<linearGradient id="d34" x2="0" y2="1"><stop offset=".024" stop-color="#809e12"/><stop offset=".093" stop-color="#889f11"/><stop offset=".183" stop-color="#609917"/><stop offset=".257" stop-color="#247f2f"/><stop offset=".282" stop-color="#1a7633"/><stop offset=".529" stop-color="#1b7933"/><stop offset=".682" stop-color="#4f931d"/><stop offset=".781" stop-color="#889f11"/><stop offset=".837" stop-color="#9aa218"/><stop offset=".869" stop-color="#c3b243"/><stop offset=".976" stop-color="#d5c263"/></linearGradient>
<linearGradient id="d35" x2="0" y2="1"><stop offset=".024" stop-color="#879f11"/><stop offset=".093" stop-color="#889f11"/><stop offset=".183" stop-color="#689c14"/><stop offset=".282" stop-color="#25802e"/><stop offset=".482" stop-color="#1b7933"/><stop offset=".682" stop-color="#57961a"/><stop offset=".781" stop-color="#889f11"/><stop offset=".842" stop-color="#9aa218"/><stop offset=".874" stop-color="#c3b243"/><stop offset=".976" stop-color="#d5c263"/></linearGradient>
<linearGradient id="d36" x2="0" y2="1"><stop offset=".024" stop-color="#8ca010"/><stop offset=".093" stop-color="#8ca010"/><stop offset=".183" stop-color="#6d9c14"/><stop offset=".282" stop-color="#2e852a"/><stop offset=".382" stop-color="#207d31"/><stop offset=".482" stop-color="#217e30"/><stop offset=".682" stop-color="#5e9818"/><stop offset=".781" stop-color="#8da010"/><stop offset=".868" stop-color="#9aa218"/><stop offset=".9" stop-color="#c3b243"/><stop offset=".972" stop-color="#d0bd5a"/><stop offset=".976" stop-color="#d6c365"/></linearGradient>
<linearGradient id="d37" x2="0" y2="1"><stop offset=".024" stop-color="#9ca31a"/><stop offset=".093" stop-color="#9ca31a"/><stop offset=".183" stop-color="#7f9e12"/><stop offset=".282" stop-color="#48911f"/><stop offset=".382" stop-color="#388a25"/><stop offset=".482" stop-color="#428f21"/><stop offset=".781" stop-color="#94a113"/><stop offset=".879" stop-color="#9aa218"/><stop offset=".911" stop-color="#c3b243"/><stop offset=".976" stop-color="#dac86f"/></linearGradient>
<linearGradient id="d38" x2="0" y2="1"><stop offset=".024" stop-color="#a6a521"/><stop offset=".093" stop-color="#a6a521"/><stop offset=".183" stop-color="#899f11"/><stop offset=".282" stop-color="#59961a"/><stop offset=".382" stop-color="#47911f"/><stop offset=".576" stop-color="#6a9c14"/><stop offset=".682" stop-color="#899f11"/><stop offset=".84" stop-color="#9aa218"/><stop offset=".871" stop-color="#c3b243"/><stop offset=".976" stop-color="#ddcb75"/></linearGradient>
<linearGradient id="d39" x2="0" y2="1"><stop offset=".024" stop-color="#b8aa31"/><stop offset=".093" stop-color="#b8aa31"/><stop offset=".216" stop-color="#8ea010"/><stop offset=".282" stop-color="#709d13"/><stop offset=".382" stop-color="#5f9818"/><stop offset=".682" stop-color="#93a112"/><stop offset=".782" stop-color="#9aa218"/><stop offset=".814" stop-color="#c3b243"/><stop offset=".89" stop-color="#d5c365"/><stop offset=".976" stop-color="#e0ce7b"/></linearGradient>
<linearGradient id="d40" x2="0" y2="1"><stop offset=".024" stop-color="#cbb74e"/><stop offset=".093" stop-color="#cbb74e"/><stop offset=".183" stop-color="#b8aa31"/><stop offset=".282" stop-color="#8ea010"/><stop offset=".382" stop-color="#7f9e12"/><stop offset=".482" stop-color="#819e12"/><stop offset=".68" stop-color="#9aa218"/><stop offset=".711" stop-color="#c3b243"/><stop offset=".787" stop-color="#d7c569"/><stop offset=".976" stop-color="#e3d384"/></linearGradient>
<linearGradient id="d41" x2="0" y2="1"><stop offset=".024" stop-color="#d1be5b"/><stop offset=".093" stop-color="#d1be5b"/><stop offset=".216" stop-color="#b5a92e"/><stop offset=".282" stop-color="#99a217"/><stop offset=".382" stop-color="#8a9f11"/><stop offset=".637" stop-color="#9aa218"/><stop offset=".668" stop-color="#c3b243"/><stop offset=".744" stop-color="#d8c66a"/><stop offset=".976" stop-color="#e4d587"/></linearGradient>
<linearGradient id="d42" x2="0" y2="1"><stop offset=".024" stop-color="#decc77"/><stop offset=".093" stop-color="#decc77"/><stop offset=".282" stop-color="#b0a729"/><stop offset=".382" stop-color="#99a217"/><stop offset=".631" stop-color="#9aa218"/><stop offset=".663" stop-color="#c3b243"/><stop offset=".739" stop-color="#d8c66a"/><stop offset=".976" stop-color="#e4d587"/></linearGradient>
<linearGradient id="d43" x2="0" y2="1"><stop offset=".024" stop-color="#e7d98d"/><stop offset=".093" stop-color="#e7d98d"/><stop offset=".282" stop-color="#bdae3a"/><stop offset=".482" stop-color="#94a113"/><stop offset=".667" stop-color="#9aa218"/><stop offset=".699" stop-color="#c3b243"/><stop offset=".775" stop-color="#d8c66a"/><stop offset=".976" stop-color="#e4d587"/></linearGradient>
<linearGradient id="d44" x2="0" y2="1"><stop offset=".024" stop-color="#dbca72"/><stop offset=".233" stop-color="#b3a82b"/><stop offset=".382" stop-color="#8fa010"/><stop offset=".73" stop-color="#9aa218"/><stop offset=".762" stop-color="#c3b243"/><stop offset=".838" stop-color="#d8c66a"/><stop offset=".976" stop-color="#e4d587"/></linearGradient>
<linearGradient id="d45" x2="0" y2="1"><stop offset=".024" stop-color="#c3b242"/><stop offset=".093" stop-color="#97a215"/><stop offset=".282" stop-color="#669b15"/><stop offset=".382" stop-color="#629917"/><stop offset=".753" stop-color="#9aa218"/><stop offset=".785" stop-color="#c3b243"/><stop offset=".86" stop-color="#d8c66a"/><stop offset=".976" stop-color="#e4d587"/></linearGradient>
<linearGradient id="d46" x2="0" y2="1"><stop offset=".024" stop-color="#b9ab34"/><stop offset=".071" stop-color="#96a115"/><stop offset=".093" stop-color="#839f11"/><stop offset=".183" stop-color="#669b15"/><stop offset=".282" stop-color="#56961a"/><stop offset=".382" stop-color="#56961a"/><stop offset=".576" stop-color="#779d13"/><stop offset=".729" stop-color="#9aa218"/><stop offset=".761" stop-color="#c3b243"/><stop offset=".837" stop-color="#d8c569"/><stop offset=".976" stop-color="#e3d485"/></linearGradient>
<linearGradient id="d47" x2="0" y2="1"><stop offset=".024" stop-color="#9ba218"/><stop offset=".093" stop-color="#699c14"/><stop offset=".183" stop-color="#52941c"/><stop offset=".382" stop-color="#4c931d"/><stop offset=".576" stop-color="#6f9c14"/><stop offset=".746" stop-color="#9aa218"/><stop offset=".778" stop-color="#c3b243"/><stop offset=".853" stop-color="#d5c364"/><stop offset=".976" stop-color="#dfce7a"/></linearGradient>
<linearGradient id="d48" x2="0" y2="1"><stop offset=".024" stop-color="#899f11"/><stop offset=".093" stop-color="#599719"/><stop offset=".183" stop-color="#47911f"/><stop offset=".382" stop-color="#47911f"/><stop offset=".576" stop-color="#6a9c14"/><stop offset=".682" stop-color="#889f11"/><stop offset=".827" stop-color="#9aa218"/><stop offset=".859" stop-color="#c3b243"/><stop offset=".976" stop-color="#ddcb75"/></linearGradient>
<linearGradient id="d49" x2="0" y2="1"><stop offset=".024" stop-color="#c2b141"/><stop offset=".093" stop-color="#97a216"/><stop offset=".183" stop-color="#6d9c14"/><stop offset=".482" stop-color="#51941c"/><stop offset=".812" stop-color="#97a115"/><stop offset=".844" stop-color="#c1b140"/><stop offset=".976" stop-color="#d6c365"/></linearGradient>
<linearGradient id="d50" x2="0" y2="1"><stop offset=".024" stop-color="#ecdf98"/><stop offset=".093" stop-color="#cdb952"/><stop offset=".183" stop-color="#94a113"/><stop offset=".382" stop-color="#779d13"/><stop offset=".482" stop-color="#48911f"/><stop offset=".776" stop-color="#8a9f11"/><stop offset=".808" stop-color="#b9ab33"/><stop offset=".884" stop-color="#c7b549"/><stop offset=".976" stop-color="#cdba53"/></linearGradient>
<linearGradient id="d51" x2="0" y2="1"><stop offset=".024" stop-color="#eadd94"/><stop offset=".093" stop-color="#cbb74e"/><stop offset=".183" stop-color="#97a216"/><stop offset=".382" stop-color="#779d13"/><stop offset=".482" stop-color="#47911f"/><stop offset=".576" stop-color="#56951b"/><stop offset=".682" stop-color="#769d13"/><stop offset=".817" stop-color="#7c9e12"/><stop offset=".828" stop-color="#8da010"/><stop offset=".849" stop-color="#aea728"/><stop offset=".976" stop-color="#cbb84f"/></linearGradient>
<linearGradient id="d52" x2="0" y2="1"><stop offset=".024" stop-color="#dbc970"/><stop offset=".093" stop-color="#b7aa31"/><stop offset=".183" stop-color="#97a216"/><stop offset=".382" stop-color="#6f9d13"/><stop offset=".482" stop-color="#47911f"/><stop offset=".576" stop-color="#4d931d"/><stop offset=".682" stop-color="#699c14"/><stop offset=".886" stop-color="#6f9d13"/><stop offset=".907" stop-color="#91a011"/><stop offset=".918" stop-color="#a2a41e"/><stop offset=".976" stop-color="#c7b448"/></linearGradient>
<linearGradient id="d53" x2="0" y2="1"><stop offset=".024" stop-color="#d0bd59"/><stop offset=".093" stop-color="#a6a521"/><stop offset=".282" stop-color="#889f11"/><stop offset=".482" stop-color="#47911f"/><stop offset=".576" stop-color="#47911f"/><stop offset=".682" stop-color="#599719"/><stop offset=".898" stop-color="#609917"/><stop offset=".93" stop-color="#95a114"/><stop offset=".976" stop-color="#c3b243"/></linearGradient>
<linearGradient id="d54" x2="0" y2="1"><stop offset=".024" stop-color="#d2bf5d"/><stop offset=".093" stop-color="#b4a82c"/><stop offset=".282" stop-color="#90a010"/><stop offset=".482" stop-color="#47911f"/><stop offset=".893" stop-color="#5c9818"/><stop offset=".925" stop-color="#91a011"/><stop offset=".976" stop-color="#c3b243"/></linearGradient>
<linearGradient id="d55" x2="0" y2="1"><stop offset=".024" stop-color="#d6c466"/><stop offset=".093" stop-color="#c8b54a"/><stop offset=".282" stop-color="#9fa31c"/><stop offset=".316" stop-color="#8ea010"/><stop offset=".382" stop-color="#6a9c14"/><stop offset=".482" stop-color="#47911f"/><stop offset=".882" stop-color="#5c9818"/><stop offset=".914" stop-color="#91a011"/><stop offset=".976" stop-color="#c3b243"/></linearGradient>
<linearGradient id="d56" x2="0" y2="1"><stop offset=".024" stop-color="#d7c569"/><stop offset=".282" stop-color="#a5a520"/><stop offset=".332" stop-color="#889f11"/><stop offset=".382" stop-color="#699c14"/><stop offset=".482" stop-color="#46911f"/><stop offset=".876" stop-color="#5c9818"/><stop offset=".907" stop-color="#91a011"/><stop offset=".972" stop-color="#b4a82c"/><stop offset=".976" stop-color="#c3b243"/></linearGradient>
<linearGradient id="d57" x2="0" y2="1"><stop offset=".024" stop-color="#a6a521"/><stop offset=".138" stop-color="#8da010"/><stop offset=".282" stop-color="#699c14"/><stop offset=".382" stop-color="#428f21"/><stop offset=".482" stop-color="#328728"/><stop offset=".682" stop-color="#55951b"/><stop offset=".853" stop-color="#5c9818"/><stop offset=".885" stop-color="#91a011"/><stop offset=".961" stop-color="#b4a82c"/><stop offset=".976" stop-color="#c3b243"/></linearGradient>
<linearGradient id="d58" x2="0" y2="1"><stop offset=".024" stop-color="#4e931d"/><stop offset=".282" stop-color="#207d31"/><stop offset=".482" stop-color="#1d7b32"/><stop offset=".576" stop-color="#388a25"/><stop offset=".8" stop-color="#5c9818"/><stop offset=".831" stop-color="#91a011"/><stop offset=".907" stop-color="#b4a82c"/><stop offset=".976" stop-color="#c3b243"/></linearGradient>
<linearGradient id="d59" x2="0" y2="1"><stop offset=".024" stop-color="#378a25"/><stop offset=".183" stop-color="#1b7a33"/><stop offset=".482" stop-color="#1a7733"/><stop offset=".818" stop-color="#5c9818"/><stop offset=".85" stop-color="#91a011"/><stop offset=".976" stop-color="#c2b141"/></linearGradient>
<linearGradient id="d60" x2="0" y2="1"><stop offset=".024" stop-color="#1a7433"/><stop offset=".282" stop-color="#166632"/><stop offset=".576" stop-color="#1b7a33"/><stop offset=".781" stop-color="#55951b"/><stop offset=".873" stop-color="#5c9818"/><stop offset=".905" stop-color="#91a011"/><stop offset=".972" stop-color="#afa728"/><stop offset=".976" stop-color="#bdae39"/></linearGradient>
<linearGradient id="d61" x2="0" y2="1"><stop offset=".024" stop-color="#176832"/><stop offset=".183" stop-color="#145c31"/><stop offset=".482" stop-color="#176832"/><stop offset=".629" stop-color="#1b7a33"/><stop offset=".781" stop-color="#55951b"/><stop offset=".884" stop-color="#5c9818"/><stop offset=".916" stop-color="#91a011"/><stop offset=".976" stop-color="#baac35"/></linearGradient>
<linearGradient id="d62" x2="0" y2="1"><stop offset=".024" stop-color="#186d32"/><stop offset=".282" stop-color="#145e31"/><stop offset=".629" stop-color="#1b7a33"/><stop offset=".781" stop-color="#55951b"/><stop offset=".862" stop-color="#5c9818"/><stop offset=".894" stop-color="#91a011"/><stop offset=".97" stop-color="#ada626"/><stop offset=".976" stop-color="#baac35"/></linearGradient>
<linearGradient id="d63" x2="0" y2="1"><stop offset=".024" stop-color="#1a7633"/><stop offset=".282" stop-color="#156131"/><stop offset=".482" stop-color="#176832"/><stop offset=".629" stop-color="#1b7a33"/><stop offset=".781" stop-color="#55951b"/><stop offset=".861" stop-color="#5c9818"/><stop offset=".892" stop-color="#91a011"/><stop offset=".968" stop-color="#ada626"/><stop offset=".976" stop-color="#baac35"/></linearGradient>
<linearGradient id="d64" x2="0" y2="1"><stop offset=".024" stop-color="#1b7a33"/><stop offset=".282" stop-color="#156231"/><stop offset=".482" stop-color="#176832"/><stop offset=".629" stop-color="#1b7a33"/><stop offset=".781" stop-color="#55951b"/><stop offset=".876" stop-color="#5c9818"/><stop offset=".908" stop-color="#91a011"/><stop offset=".972" stop-color="#ada626"/><stop offset=".976" stop-color="#baac35"/></linearGradient>
<linearGradient id="d65" x2="0" y2="1"><stop offset=".024" stop-color="#1e7c32"/><stop offset=".282" stop-color="#166331"/><stop offset=".482" stop-color="#176932"/><stop offset=".629" stop-color="#1e7c32"/><stop offset=".781" stop-color="#55951b"/><stop offset=".872" stop-color="#5c9818"/><stop offset=".904" stop-color="#91a011"/><stop offset=".972" stop-color="#aea727"/><stop offset=".976" stop-color="#bcad37"/></linearGradient>
<linearGradient id="d66" x2="0" y2="1"><stop offset=".024" stop-color="#237e2f"/><stop offset=".282" stop-color="#166532"/><stop offset=".482" stop-color="#186b32"/><stop offset=".629" stop-color="#237e2f"/><stop offset=".781" stop-color="#55951b"/><stop offset=".868" stop-color="#5c9818"/><stop offset=".9" stop-color="#91a011"/><stop offset=".972" stop-color="#b1a729"/><stop offset=".976" stop-color="#bfaf3d"/></linearGradient>
<linearGradient id="d67" x2="0" y2="1"><stop offset=".024" stop-color="#27812d"/><stop offset=".093" stop-color="#1b7933"/><stop offset=".282" stop-color="#176732"/><stop offset=".576" stop-color="#1b7933"/><stop offset=".781" stop-color="#55951b"/><stop offset=".855" stop-color="#5c9818"/><stop offset=".887" stop-color="#91a011"/><stop offset=".963" stop-color="#b3a82b"/><stop offset=".976" stop-color="#c2b141"/></linearGradient>
<linearGradient id="d68" x2="0" y2="1"><stop offset=".024" stop-color="#29822c"/><stop offset=".093" stop-color="#1b7a33"/><stop offset=".282" stop-color="#176832"/><stop offset=".576" stop-color="#1b7a33"/><stop offset=".816" stop-color="#5c9818"/><stop offset=".848" stop-color="#91a011"/><stop offset=".976" stop-color="#c3b243"/></linearGradient>
<linearGradient id="d69" x2="0" y2="1"><stop offset=".024" stop-color="#2c842b"/><stop offset=".282" stop-color="#176a32"/><stop offset=".576" stop-color="#1b7a33"/><stop offset=".796" stop-color="#5c9818"/><stop offset=".828" stop-color="#91a011"/><stop offset=".904" stop-color="#b1a72a"/><stop offset=".976" stop-color="#c0b03d"/></linearGradient>
<linearGradient id="d70" x2="0" y2="1"><stop offset=".024" stop-color="#318628"/><stop offset=".282" stop-color="#186f32"/><stop offset=".482" stop-color="#186e32"/><stop offset=".576" stop-color="#1b7a33"/><stop offset=".814" stop-color="#5c9818"/><stop offset=".846" stop-color="#91a011"/><stop offset=".976" stop-color="#b9ab33"/></linearGradient>
<linearGradient id="d71" x2="0" y2="1"><stop offset=".024" stop-color="#358926"/><stop offset=".093" stop-color="#348827"/><stop offset=".233" stop-color="#1b7933"/><stop offset=".482" stop-color="#186e32"/><stop offset=".576" stop-color="#1b7a33"/><stop offset=".781" stop-color="#55951b"/><stop offset=".856" stop-color="#5c9818"/><stop offset=".888" stop-color="#91a011"/><stop offset=".976" stop-color="#b2a72a"/></linearGradient>
<linearGradient id="d72" x2="0" y2="1"><stop offset=".024" stop-color="#378a25"/><stop offset=".093" stop-color="#378a25"/><stop offset=".233" stop-color="#1b7a33"/><stop offset=".482" stop-color="#186e32"/><stop offset=".576" stop-color="#1b7a33"/><stop offset=".781" stop-color="#55951b"/><stop offset=".882" stop-color="#5c9818"/><stop offset=".914" stop-color="#91a011"/><stop offset=".976" stop-color="#aea728"/></linearGradient>
<linearGradient id="d73" x2="0" y2="1"><stop offset=".024" stop-color="#348827"/><stop offset=".233" stop-color="#1b7833"/><stop offset=".482" stop-color="#186e32"/><stop offset=".576" stop-color="#1b7a33"/><stop offset=".781" stop-color="#55951b"/><stop offset=".891" stop-color="#5c9818"/><stop offset=".923" stop-color="#91a011"/><stop offset=".976" stop-color="#aea728"/></linearGradient>
<linearGradient id="d74" x2="0" y2="1"><stop offset=".024" stop-color="#2f8629"/><stop offset=".183" stop-color="#1b7933"/><stop offset=".482" stop-color="#186e32"/><stop offset=".576" stop-color="#1b7a33"/><stop offset=".781" stop-color="#55951b"/><stop offset=".892" stop-color="#5c9818"/><stop offset=".924" stop-color="#91a011"/><stop offset=".976" stop-color="#aea728"/></linearGradient>
<linearGradient id="d75" x2="0" y2="1"><stop offset=".024" stop-color="#2b832b"/><stop offset=".093" stop-color="#1e7c31"/><stop offset=".482" stop-color="#186e32"/><stop offset=".576" stop-color="#1b7a33"/><stop offset=".781" stop-color="#55951b"/><stop offset=".89" stop-color="#5c9818"/><stop offset=".922" stop-color="#91a011"/><stop offset=".976" stop-color="#aea728"/></linearGradient>
<linearGradient id="d76" x2="0" y2="1"><stop offset=".024" stop-color="#29822c"/><stop offset=".093" stop-color="#1b7a33"/><stop offset=".482" stop-color="#186e32"/><stop offset=".576" stop-color="#1b7a33"/><stop offset=".781" stop-color="#55951b"/><stop offset=".887" stop-color="#5c9818"/><stop offset=".919" stop-color="#91a011"/><stop offset=".976" stop-color="#aea727"/></linearGradient>
<linearGradient id="d77" x2="0" y2="1"><stop offset=".024" stop-color="#237f2f"/><stop offset=".282" stop-color="#186c32"/><stop offset=".482" stop-color="#186d32"/><stop offset=".576" stop-color="#1b7933"/><stop offset=".781" stop-color="#55951b"/><stop offset=".887" stop-color="#5c9818"/><stop offset=".919" stop-color="#91a011"/><stop offset=".976" stop-color="#aba625"/></linearGradient>
<linearGradient id="d78" x2="0" y2="1"><stop offset=".024" stop-color="#1b7933"/><stop offset=".282" stop-color="#176732"/><stop offset=".482" stop-color="#176b32"/><stop offset=".629" stop-color="#217e30"/><stop offset=".781" stop-color="#55951b"/><stop offset=".863" stop-color="#5c9818"/><stop offset=".895" stop-color="#91a011"/><stop offset=".976" stop-color="#a6a521"/></linearGradient>
<linearGradient id="d79" x2="0" y2="1"><stop offset=".024" stop-color="#1a7533"/><stop offset=".282" stop-color="#166331"/><stop offset=".482" stop-color="#176932"/><stop offset=".629" stop-color="#1d7b32"/><stop offset=".781" stop-color="#55951b"/><stop offset=".91" stop-color="#5c9818"/><stop offset=".942" stop-color="#91a011"/><stop offset=".976" stop-color="#a3a41f"/></linearGradient>
<linearGradient id="d80" x2="0" y2="1"><stop offset=".024" stop-color="#1a7433"/><stop offset=".282" stop-color="#156231"/><stop offset=".482" stop-color="#176832"/><stop offset=".629" stop-color="#1b7a33"/><stop offset=".682" stop-color="#29822c"/><stop offset=".781" stop-color="#58961a"/><stop offset=".976" stop-color="#58961a"/></linearGradient>
<linearGradient id="d81" x2="0" y2="1"><stop offset=".024" stop-color="#186f32"/><stop offset=".282" stop-color="#156031"/><stop offset=".482" stop-color="#176732"/><stop offset=".629" stop-color="#1b7933"/><stop offset=".682" stop-color="#29822c"/><stop offset=".781" stop-color="#58961a"/><stop offset=".976" stop-color="#58961a"/></linearGradient>
<linearGradient id="d82" x2="0" y2="1"><stop offset=".024" stop-color="#166732"/><stop offset=".282" stop-color="#145b31"/><stop offset=".629" stop-color="#1b7833"/><stop offset=".682" stop-color="#29822c"/><stop offset=".781" stop-color="#58961a"/><stop offset=".976" stop-color="#58961a"/></linearGradient>
<linearGradient id="d83" x2="0" y2="1"><stop offset=".024" stop-color="#155f31"/><stop offset=".282" stop-color="#15572f"/><stop offset=".482" stop-color="#166331"/><stop offset=".646" stop-color="#1c7a33"/><stop offset=".781" stop-color="#55951b"/><stop offset=".875" stop-color="#5c9818"/><stop offset=".907" stop-color="#91a011"/><stop offset=".976" stop-color="#a3a41f"/></linearGradient>
<linearGradient id="d84" x2="0" y2="1"><stop offset=".024" stop-color="#145c31"/><stop offset=".282" stop-color="#16562e"/><stop offset=".482" stop-color="#156231"/><stop offset=".646" stop-color="#1b7a33"/><stop offset=".781" stop-color="#55951b"/><stop offset=".826" stop-color="#5c9818"/><stop offset=".858" stop-color="#91a011"/><stop offset=".976" stop-color="#a3a41f"/></linearGradient>
<linearGradient id="d85" x2="0" y2="1"><stop offset=".024" stop-color="#145b30"/><stop offset=".282" stop-color="#16542e"/><stop offset=".482" stop-color="#156131"/><stop offset=".646" stop-color="#1b7a33"/><stop offset=".781" stop-color="#55951b"/><stop offset=".836" stop-color="#5c9818"/><stop offset=".868" stop-color="#91a011"/><stop offset=".976" stop-color="#a3a41f"/></linearGradient>
<linearGradient id="d86" x2="0" y2="1"><stop offset=".024" stop-color="#155830"/><stop offset=".183" stop-color="#174e2c"/><stop offset=".482" stop-color="#155f31"/><stop offset=".646" stop-color="#1b7a33"/><stop offset=".781" stop-color="#55951b"/><stop offset=".829" stop-color="#5c9818"/><stop offset=".86" stop-color="#91a011"/><stop offset=".976" stop-color="#a3a41f"/></linearGradient>
<linearGradient id="d87" x2="0" y2="1"><stop offset=".024" stop-color="#15562f"/><stop offset=".183" stop-color="#184a2a"/><stop offset=".482" stop-color="#145d31"/><stop offset=".646" stop-color="#1b7a33"/><stop offset=".781" stop-color="#55951b"/><stop offset=".837" stop-color="#5c9818"/><stop offset=".869" stop-color="#91a011"/><stop offset=".976" stop-color="#a3a41f"/></linearGradient>
<linearGradient id="d88" x2="0" y2="1"><stop offset=".024" stop-color="#16562e"/><stop offset=".183" stop-color="#194929"/><stop offset=".482" stop-color="#145c31"/><stop offset=".646" stop-color="#1b7a33"/><stop offset=".804" stop-color="#5c9818"/><stop offset=".836" stop-color="#91a011"/><stop offset=".976" stop-color="#a3a41f"/></linearGradient>
<linearGradient id="d89" x2="0" y2="1"><stop offset=".024" stop-color="#155930"/><stop offset=".183" stop-color="#184d2b"/><stop offset=".482" stop-color="#155e31"/><stop offset=".646" stop-color="#1c7b33"/><stop offset=".813" stop-color="#5c9818"/><stop offset=".845" stop-color="#91a011"/><stop offset=".976" stop-color="#a3a41f"/></linearGradient>
<linearGradient id="d90" x2="0" y2="1"><stop offset=".024" stop-color="#156031"/><stop offset=".183" stop-color="#16542e"/><stop offset=".482" stop-color="#166331"/><stop offset=".629" stop-color="#1b7933"/><stop offset=".803" stop-color="#5c9818"/><stop offset=".835" stop-color="#91a011"/><stop offset=".976" stop-color="#a3a41f"/></linearGradient>
<linearGradient id="d91" x2="0" y2="1"><stop offset=".024" stop-color="#166632"/><stop offset=".183" stop-color="#155a30"/><stop offset=".482" stop-color="#166732"/><stop offset=".629" stop-color="#1b7a33"/><stop offset=".821" stop-color="#5c9818"/><stop offset=".853" stop-color="#91a011"/><stop offset=".976" stop-color="#a3a41f"/></linearGradient>
<linearGradient id="d92" x2="0" y2="1"><stop offset=".024" stop-color="#176832"/><stop offset=".183" stop-color="#145c31"/><stop offset=".482" stop-color="#176832"/><stop offset=".629" stop-color="#1b7a33"/><stop offset=".781" stop-color="#55951b"/><stop offset=".86" stop-color="#5c9818"/><stop offset=".892" stop-color="#91a011"/><stop offset=".976" stop-color="#a3a41f"/></linearGradient>
<linearGradient id="d93" x2="0" y2="1"><stop offset=".024" stop-color="#186e32"/><stop offset=".282" stop-color="#155930"/><stop offset=".482" stop-color="#166331"/><stop offset=".629" stop-color="#1b7933"/><stop offset=".781" stop-color="#55951b"/><stop offset=".85" stop-color="#5c9818"/><stop offset=".881" stop-color="#91a011"/><stop offset=".976" stop-color="#a3a41f"/></linearGradient>
<linearGradient id="d94" x2="0" y2="1"><stop offset=".024" stop-color="#1b7933"/><stop offset=".282" stop-color="#16552e"/><stop offset=".482" stop-color="#145a30"/><stop offset=".646" stop-color="#1b7a33"/><stop offset=".781" stop-color="#55951b"/><stop offset=".838" stop-color="#5c9818"/><stop offset=".87" stop-color="#91a011"/><stop offset=".976" stop-color="#a3a41f"/></linearGradient>
<linearGradient id="d95" x2="0" y2="1"><stop offset=".024" stop-color="#2f8529"/><stop offset=".093" stop-color="#1a7733"/><stop offset=".282" stop-color="#17512c"/><stop offset=".482" stop-color="#16522d"/><stop offset=".646" stop-color="#1b7833"/><stop offset=".781" stop-color="#55951b"/><stop offset=".832" stop-color="#5c9818"/><stop offset=".864" stop-color="#91a011"/><stop offset=".976" stop-color="#a3a41f"/></linearGradient>
<linearGradient id="d96" x2="0" y2="1"><stop offset=".024" stop-color="#368a26"/><stop offset=".093" stop-color="#1b7a33"/><stop offset=".282" stop-color="#174f2c"/><stop offset=".482" stop-color="#174f2c"/><stop offset=".655" stop-color="#1b7a33"/><stop offset=".781" stop-color="#55951b"/><stop offset=".839" stop-color="#5c9818"/><stop offset=".871" stop-color="#91a011"/><stop offset=".976" stop-color="#a3a41f"/></linearGradient>
<linearGradient id="d97" x2="0" y2="1"><stop offset=".024" stop-color="#207d31"/><stop offset=".183" stop-color="#145d31"/><stop offset=".382" stop-color="#1a4528"/><stop offset=".482" stop-color="#184b2a"/><stop offset=".655" stop-color="#1b7a33"/><stop offset=".781" stop-color="#55951b"/><stop offset=".84" stop-color="#5c9818"/><stop offset=".872" stop-color="#91a011"/><stop offset=".976" stop-color="#a3a41f"/></linearGradient>
<linearGradient id="d98" x2="0" y2="1"><stop offset=".024" stop-color="#186b32"/><stop offset=".282" stop-color="#1a4427"/><stop offset=".482" stop-color="#1a4427"/><stop offset=".655" stop-color="#1b7933"/><stop offset=".781" stop-color="#55951b"/><stop offset=".83" stop-color="#5c9818"/><stop offset=".862" stop-color="#91a011"/><stop offset=".976" stop-color="#a8a523"/></linearGradient>
<linearGradient id="d99" x2="0" y2="1"><stop offset=".024" stop-color="#145b31"/><stop offset=".282" stop-color="#1b3e25"/><stop offset=".482" stop-color="#1b3e25"/><stop offset=".557" stop-color="#145c31"/><stop offset=".655" stop-color="#1b7933"/><stop offset=".81" stop-color="#5c9818"/><stop offset=".842" stop-color="#91a011"/><stop offset=".976" stop-color="#ada626"/></linearGradient>
<linearGradient id="d100" x2="0" y2="1"><stop offset=".024" stop-color="#16562e"/><stop offset=".282" stop-color="#1c3c24"/><stop offset=".482" stop-color="#1c3c24"/><stop offset=".557" stop-color="#145b30"/><stop offset=".655" stop-color="#1b7833"/><stop offset=".783" stop-color="#5c9818"/><stop offset=".815" stop-color="#91a011"/><stop offset=".891" stop-color="#a6a521"/><stop offset=".976" stop-color="#aea728"/></linearGradient>
<linearGradient id="d101" x2="0" y2="1"><stop offset=".024" stop-color="#16542e"/><stop offset=".282" stop-color="#1c3c24"/><stop offset=".482" stop-color="#1c3c24"/><stop offset=".66" stop-color="#1b7a33"/><stop offset=".776" stop-color="#5c9818"/><stop offset=".807" stop-color="#91a011"/><stop offset=".883" stop-color="#a7a522"/><stop offset=".976" stop-color="#b1a72a"/></linearGradient>
<linearGradient id="d102" x2="0" y2="1"><stop offset=".024" stop-color="#17522d"/><stop offset=".282" stop-color="#1c3c24"/><stop offset=".482" stop-color="#1c3c24"/><stop offset=".66" stop-color="#1b7933"/><stop offset=".781" stop-color="#5c9818"/><stop offset=".813" stop-color="#91a011"/><stop offset=".889" stop-color="#aaa624"/><stop offset=".976" stop-color="#b6a92e"/></linearGradient>
<linearGradient id="d103" x2="0" y2="1"><stop offset=".024" stop-color="#17502c"/><stop offset=".282" stop-color="#1c3c24"/><stop offset=".482" stop-color="#1c3c24"/><stop offset=".576" stop-color="#145d31"/><stop offset=".66" stop-color="#1b7933"/><stop offset=".789" stop-color="#5c9818"/><stop offset=".821" stop-color="#91a011"/><stop offset=".897" stop-color="#aca626"/><stop offset=".976" stop-color="#b9ab33"/></linearGradient>
<linearGradient id="d104" x2="0" y2="1"><stop offset=".024" stop-color="#174f2c"/><stop offset=".282" stop-color="#1c3c24"/><stop offset=".482" stop-color="#1c3c24"/><stop offset=".576" stop-color="#145c31"/><stop offset=".66" stop-color="#1b7933"/><stop offset=".8" stop-color="#5c9818"/><stop offset=".832" stop-color="#91a011"/><stop offset=".976" stop-color="#baac34"/></linearGradient>
<linearGradient id="d105" x2="0" y2="1"><stop offset=".024" stop-color="#174f2c"/><stop offset=".282" stop-color="#1c3c24"/><stop offset=".482" stop-color="#1c3c24"/><stop offset=".576" stop-color="#145c31"/><stop offset=".66" stop-color="#1b7933"/><stop offset=".81" stop-color="#5c9818"/><stop offset=".842" stop-color="#91a011"/><stop offset=".976" stop-color="#b6a92f"/></linearGradient>
<linearGradient id="d106" x2="0" y2="1"><stop offset=".024" stop-color="#174f2c"/><stop offset=".233" stop-color="#1c3d25"/><stop offset=".482" stop-color="#1c3b24"/><stop offset=".576" stop-color="#145c31"/><stop offset=".66" stop-color="#1b7933"/><stop offset=".781" stop-color="#55951b"/><stop offset=".818" stop-color="#5c9818"/><stop offset=".85" stop-color="#91a011"/><stop offset=".976" stop-color="#aca626"/></linearGradient>
<linearGradient id="d107" x2="0" y2="1"><stop offset=".024" stop-color="#174f2c"/><stop offset=".233" stop-color="#1c3c24"/><stop offset=".482" stop-color="#1c3a23"/><stop offset=".576" stop-color="#145c31"/><stop offset=".66" stop-color="#1b7933"/><stop offset=".781" stop-color="#55951b"/><stop offset=".825" stop-color="#5c9818"/><stop offset=".857" stop-color="#91a011"/><stop offset=".976" stop-color="#a3a41f"/></linearGradient>
<linearGradient id="d108" x2="0" y2="1"><stop offset=".024" stop-color="#17502c"/><stop offset=".382" stop-color="#1d3722"/><stop offset=".501" stop-color="#1c3d25"/><stop offset=".576" stop-color="#145c31"/><stop offset=".66" stop-color="#1b7933"/><stop offset=".781" stop-color="#55951b"/><stop offset=".835" stop-color="#5c9818"/><stop offset=".867" stop-color="#91a011"/><stop offset=".976" stop-color="#a3a41f"/></linearGradient>
<linearGradient id="d109" x2="0" y2="1"><stop offset=".024" stop-color="#145b31"/><stop offset=".282" stop-color="#1c3b24"/><stop offset=".482" stop-color="#1c3c24"/><stop offset=".66" stop-color="#1b7933"/><stop offset=".781" stop-color="#51941c"/><stop offset=".831" stop-color="#5c9818"/><stop offset=".863" stop-color="#91a011"/><stop offset=".976" stop-color="#a3a41f"/></linearGradient>
<linearGradient id="d110" x2="0" y2="1"><stop offset=".024" stop-color="#186f32"/><stop offset=".282" stop-color="#1b4026"/><stop offset=".382" stop-color="#1c3b24"/><stop offset=".482" stop-color="#1a4427"/><stop offset=".655" stop-color="#1b7933"/><stop offset=".682" stop-color="#29822c"/><stop offset=".871" stop-color="#54951b"/><stop offset=".976" stop-color="#58961a"/></linearGradient>
<linearGradient id="d111" x2="0" y2="1"><stop offset=".024" stop-color="#29822c"/><stop offset=".049" stop-color="#1b7933"/><stop offset=".153" stop-color="#145b31"/><stop offset=".382" stop-color="#1b4026"/><stop offset=".482" stop-color="#184c2b"/><stop offset=".655" stop-color="#1b7a33"/><stop offset=".682" stop-color="#29822c"/><stop offset=".781" stop-color="#3a8c24"/><stop offset=".976" stop-color="#418f21"/></linearGradient>
<linearGradient id="d112" x2="0" y2="1"><stop offset=".024" stop-color="#378a26"/><stop offset=".06" stop-color="#1b7a33"/><stop offset=".16" stop-color="#145c31"/><stop offset=".382" stop-color="#1a4327"/><stop offset=".482" stop-color="#174f2c"/><stop offset=".655" stop-color="#1b7a33"/><stop offset=".682" stop-color="#29822c"/><stop offset=".781" stop-color="#378a25"/><stop offset=".976" stop-color="#388a25"/></linearGradient>
<linearGradient id="d113" x2="0" y2="1"><stop offset=".024" stop-color="#2e852a"/><stop offset=".049" stop-color="#1f7d31"/><stop offset=".183" stop-color="#145b31"/><stop offset=".382" stop-color="#184c2a"/><stop offset=".482" stop-color="#15572f"/><stop offset=".629" stop-color="#1b7933"/><stop offset=".682" stop-color="#358926"/><stop offset=".781" stop-color="#48911f"/><stop offset=".871" stop-color="#4b921e"/><stop offset=".922" stop-color="#5c9818"/><stop offset=".954" stop-color="#91a011"/><stop offset=".976" stop-color="#a3a41f"/></linearGradient>
<linearGradient id="d114" x2="0" y2="1"><stop offset=".024" stop-color="#1f7c31"/><stop offset=".183" stop-color="#166432"/><stop offset=".382" stop-color="#145c31"/><stop offset=".602" stop-color="#1f7c31"/><stop offset=".682" stop-color="#4c921e"/><stop offset=".736" stop-color="#5c9818"/><stop offset=".768" stop-color="#91a011"/><stop offset=".844" stop-color="#a0a41c"/><stop offset=".976" stop-color="#a3a41f"/></linearGradient>
<linearGradient id="d115" x2="0" y2="1"><stop offset=".024" stop-color="#1a7633"/><stop offset=".382" stop-color="#176932"/><stop offset=".576" stop-color="#237f2f"/><stop offset=".696" stop-color="#5c9818"/><stop offset=".728" stop-color="#91a011"/><stop offset=".803" stop-color="#a7a522"/><stop offset=".976" stop-color="#b0a729"/></linearGradient>
<linearGradient id="d116" x2="0" y2="1"><stop offset=".024" stop-color="#1a7433"/><stop offset=".382" stop-color="#186e32"/><stop offset=".529" stop-color="#1b7a33"/><stop offset=".698" stop-color="#5c9818"/><stop offset=".73" stop-color="#91a011"/><stop offset=".806" stop-color="#ada626"/><stop offset=".976" stop-color="#baac35"/></linearGradient>
<linearGradient id="d117" x2="0" y2="1"><stop offset=".024" stop-color="#2e852a"/><stop offset=".093" stop-color="#2e852a"/><stop offset=".183" stop-color="#1b7a33"/><stop offset=".382" stop-color="#197333"/><stop offset=".529" stop-color="#207d30"/><stop offset=".712" stop-color="#5c9818"/><stop offset=".744" stop-color="#91a011"/><stop offset=".82" stop-color="#ada626"/><stop offset=".976" stop-color="#baac35"/></linearGradient>
<linearGradient id="d118" x2="0" y2="1"><stop offset=".024" stop-color="#5d9818"/><stop offset=".093" stop-color="#5d9818"/><stop offset=".183" stop-color="#3c8d23"/><stop offset=".382" stop-color="#1b7933"/><stop offset=".482" stop-color="#1b7933"/><stop offset=".701" stop-color="#5c9818"/><stop offset=".733" stop-color="#91a011"/><stop offset=".808" stop-color="#ada626"/><stop offset=".976" stop-color="#baac35"/></linearGradient>
<linearGradient id="d119" x2="0" y2="1"><stop offset=".024" stop-color="#6b9c14"/><stop offset=".093" stop-color="#6b9c14"/><stop offset=".183" stop-color="#48911f"/><stop offset=".382" stop-color="#1b7a33"/><stop offset=".482" stop-color="#1b7a33"/><stop offset=".576" stop-color="#368a26"/><stop offset=".659" stop-color="#5c9818"/><stop offset=".691" stop-color="#91a011"/><stop offset=".767" stop-color="#ada626"/><stop offset=".976" stop-color="#baac35"/></linearGradient>
<linearGradient id="d120" x2="0" y2="1"><stop offset=".024" stop-color="#729d13"/><stop offset=".093" stop-color="#729d13"/><stop offset=".233" stop-color="#3e8e22"/><stop offset=".382" stop-color="#1b7a33"/><stop offset=".482" stop-color="#1b7a33"/><stop offset=".576" stop-color="#308629"/><stop offset=".65" stop-color="#5c9818"/><stop offset=".682" stop-color="#91a011"/><stop offset=".758" stop-color="#ada626"/><stop offset=".976" stop-color="#baac35"/></linearGradient>
<linearGradient id="d121" x2="0" y2="1"><stop offset=".024" stop-color="#789e12"/><stop offset=".093" stop-color="#789e12"/><stop offset=".282" stop-color="#2a822c"/><stop offset=".382" stop-color="#1b7a33"/><stop offset=".482" stop-color="#1b7a33"/><stop offset=".576" stop-color="#2a822c"/><stop offset=".707" stop-color="#5c9818"/><stop offset=".739" stop-color="#91a011"/><stop offset=".815" stop-color="#ada626"/><stop offset=".976" stop-color="#baac35"/></linearGradient>
<linearGradient id="d122" x2="0" y2="1"><stop offset=".024" stop-color="#7e9e12"/><stop offset=".093" stop-color="#7c9e12"/><stop offset=".183" stop-color="#5e9818"/><stop offset=".282" stop-color="#2b832b"/><stop offset=".382" stop-color="#1b7a33"/><stop offset=".482" stop-color="#1b7a33"/><stop offset=".576" stop-color="#29822c"/><stop offset=".682" stop-color="#55951b"/><stop offset=".76" stop-color="#5c9818"/><stop offset=".792" stop-color="#91a011"/><stop offset=".868" stop-color="#ada626"/><stop offset=".976" stop-color="#baac35"/></linearGradient>
<linearGradient id="d123" x2="0" y2="1"><stop offset=".024" stop-color="#90a010"/><stop offset=".183" stop-color="#719d13"/><stop offset=".282" stop-color="#338827"/><stop offset=".382" stop-color="#1b7a33"/><stop offset=".482" stop-color="#1b7a33"/><stop offset=".576" stop-color="#29822c"/><stop offset=".682" stop-color="#4b921e"/><stop offset=".781" stop-color="#5c9818"/><stop offset=".813" stop-color="#91a011"/><stop offset=".889" stop-color="#ada626"/><stop offset=".976" stop-color="#baac35"/></linearGradient>
<linearGradient id="d124" x2="0" y2="1"><stop offset=".024" stop-color="#97a215"/><stop offset=".183" stop-color="#799e12"/><stop offset=".282" stop-color="#378a25"/><stop offset=".382" stop-color="#1b7a33"/><stop offset=".482" stop-color="#1b7a33"/><stop offset=".787" stop-color="#5c9818"/><stop offset=".819" stop-color="#91a011"/><stop offset=".895" stop-color="#ada626"/><stop offset=".976" stop-color="#baac35"/></linearGradient>
<linearGradient id="d125" x2="0" y2="1"><stop offset=".024" stop-color="#97a215"/><stop offset=".183" stop-color="#799e12"/><stop offset=".282" stop-color="#378a25"/><stop offset=".382" stop-color="#1b7a33"/><stop offset=".482" stop-color="#1b7a33"/><stop offset=".787" stop-color="#5c9818"/><stop offset=".819" stop-color="#91a011"/><stop offset=".895" stop-color="#ada626"/><stop offset=".976" stop-color="#baac35"/></linearGradient>
<linearGradient id="cbA" gradientUnits="userSpaceOnUse" x1="0" y1="25.2" x2="0" y2="595.2"><stop offset="0%" stop-color="#ff3a0c"/><stop offset="2.5%" stop-color="#ff4810"/><stop offset="5%" stop-color="#ff5514"/><stop offset="7.5%" stop-color="#ff6219"/><stop offset="10%" stop-color="#ff6e1e"/><stop offset="12.5%" stop-color="#ff7c25"/><stop offset="15%" stop-color="#ff8a2c"/><stop offset="17.5%" stop-color="#ff9536"/><stop offset="20%" stop-color="#ffa040"/><stop offset="22.5%" stop-color="#ffad4a"/><stop offset="25%" stop-color="#ffba55"/><stop offset="27.5%" stop-color="#ffc766"/><stop offset="30%" stop-color="#ffd478"/><stop offset="32.5%" stop-color="#ffde88"/><stop offset="35%" stop-color="#ffe898"/><stop offset="37.5%" stop-color="#ffeea6"/><stop offset="40%" stop-color="#fff5b4"/><stop offset="42.5%" stop-color="#fef8be"/><stop offset="45%" stop-color="#fcfcc8"/><stop offset="47.5%" stop-color="#ebf9d2"/><stop offset="50%" stop-color="#d9f6da"/><stop offset="52.5%" stop-color="#cef8e8"/><stop offset="55%" stop-color="#c4fbf6"/><stop offset="57.5%" stop-color="#b7f6f9"/><stop offset="60%" stop-color="#aaf2fc"/><stop offset="62.5%" stop-color="#9be7fc"/><stop offset="65%" stop-color="#8cdcfc"/><stop offset="67.5%" stop-color="#7ccffb"/><stop offset="70%" stop-color="#6cc2fa"/><stop offset="72.5%" stop-color="#5eb3f9"/><stop offset="75%" stop-color="#50a4f8"/><stop offset="77.5%" stop-color="#459af9"/><stop offset="80%" stop-color="#3a90fa"/><stop offset="82.5%" stop-color="#3386f9"/><stop offset="85%" stop-color="#2c7cf8"/><stop offset="87.5%" stop-color="#2672f8"/><stop offset="90%" stop-color="#2068f8"/><stop offset="92.5%" stop-color="#1c5df7"/><stop offset="95%" stop-color="#1752f6"/><stop offset="97.5%" stop-color="#1449f5"/><stop offset="100%" stop-color="#1040f4"/></linearGradient>
<linearGradient id="cbB" gradientUnits="userSpaceOnUse" x1="0" y1="694" x2="0" y2="1244.5"><stop offset="0%" stop-color="#ff3a0c"/><stop offset="2.5%" stop-color="#ff4810"/><stop offset="5%" stop-color="#ff5514"/><stop offset="7.5%" stop-color="#ff6219"/><stop offset="10%" stop-color="#ff6e1e"/><stop offset="12.5%" stop-color="#ff7c25"/><stop offset="15%" stop-color="#ff8a2c"/><stop offset="17.5%" stop-color="#ff9536"/><stop offset="20%" stop-color="#ffa040"/><stop offset="22.5%" stop-color="#ffad4a"/><stop offset="25%" stop-color="#ffba55"/><stop offset="27.5%" stop-color="#ffc766"/><stop offset="30%" stop-color="#ffd478"/><stop offset="32.5%" stop-color="#ffde88"/><stop offset="35%" stop-color="#ffe898"/><stop offset="37.5%" stop-color="#ffeea6"/><stop offset="40%" stop-color="#fff5b4"/><stop offset="42.5%" stop-color="#fef8be"/><stop offset="45%" stop-color="#fcfcc8"/><stop offset="47.5%" stop-color="#ebf9d2"/><stop offset="50%" stop-color="#d9f6da"/><stop offset="52.5%" stop-color="#cef8e8"/><stop offset="55%" stop-color="#c4fbf6"/><stop offset="57.5%" stop-color="#b7f6f9"/><stop offset="60%" stop-color="#aaf2fc"/><stop offset="62.5%" stop-color="#9be7fc"/><stop offset="65%" stop-color="#8cdcfc"/><stop offset="67.5%" stop-color="#7ccffb"/><stop offset="70%" stop-color="#6cc2fa"/><stop offset="72.5%" stop-color="#5eb3f9"/><stop offset="75%" stop-color="#50a4f8"/><stop offset="77.5%" stop-color="#459af9"/><stop offset="80%" stop-color="#3a90fa"/><stop offset="82.5%" stop-color="#3386f9"/><stop offset="85%" stop-color="#2c7cf8"/><stop offset="87.5%" stop-color="#2672f8"/><stop offset="90%" stop-color="#2068f8"/><stop offset="92.5%" stop-color="#1c5df7"/><stop offset="95%" stop-color="#1752f6"/><stop offset="97.5%" stop-color="#1449f5"/><stop offset="100%" stop-color="#1040f4"/></linearGradient>
<linearGradient id="cbC" gradientUnits="userSpaceOnUse" x1="0" y1="1380" x2="0" y2="1931"><stop offset="0%" stop-color="#1c3c24"/><stop offset="2.5%" stop-color="#1a4628"/><stop offset="5%" stop-color="#174f2c"/><stop offset="7.5%" stop-color="#155930"/><stop offset="10%" stop-color="#156231"/><stop offset="12.5%" stop-color="#186b32"/><stop offset="15%" stop-color="#1a7433"/><stop offset="17.5%" stop-color="#227e30"/><stop offset="20%" stop-color="#378a25"/><stop offset="22.5%" stop-color="#50941c"/><stop offset="25%" stop-color="#6a9c14"/><stop offset="27.5%" stop-color="#819e12"/><stop offset="30%" stop-color="#97a216"/><stop offset="32.5%" stop-color="#ada626"/><stop offset="35%" stop-color="#beae3a"/><stop offset="37.5%" stop-color="#ccb850"/><stop offset="40%" stop-color="#d8c66a"/><stop offset="42.5%" stop-color="#e4d485"/><stop offset="45%" stop-color="#eee39f"/><stop offset="47.5%" stop-color="#f7f0be"/><stop offset="50%" stop-color="#fffce0"/><stop offset="52.5%" stop-color="#f0f3eb"/><stop offset="55%" stop-color="#dae5de"/><stop offset="57.5%" stop-color="#c6dbd6"/><stop offset="60%" stop-color="#b0d0ce"/><stop offset="62.5%" stop-color="#98c4c4"/><stop offset="65%" stop-color="#7eb8bd"/><stop offset="67.5%" stop-color="#65abb6"/><stop offset="70%" stop-color="#4f9dae"/><stop offset="72.5%" stop-color="#3d8ea7"/><stop offset="75%" stop-color="#2c80a0"/><stop offset="77.5%" stop-color="#25739b"/><stop offset="80%" stop-color="#1f6797"/><stop offset="82.5%" stop-color="#1d5d95"/><stop offset="85%" stop-color="#1e5396"/><stop offset="87.5%" stop-color="#20489a"/><stop offset="90%" stop-color="#254199"/><stop offset="92.5%" stop-color="#263a8f"/><stop offset="95%" stop-color="#223275"/><stop offset="97.5%" stop-color="#1d2d61"/><stop offset="100%" stop-color="#182850"/></linearGradient>
<linearGradient id="cbD" gradientUnits="userSpaceOnUse" x1="0" y1="2031" x2="0" y2="2564"><stop offset="0%" stop-color="#1c3c24"/><stop offset="2.5%" stop-color="#1a4628"/><stop offset="5%" stop-color="#174f2c"/><stop offset="7.5%" stop-color="#155930"/><stop offset="10%" stop-color="#156231"/><stop offset="12.5%" stop-color="#186b32"/><stop offset="15%" stop-color="#1a7433"/><stop offset="17.5%" stop-color="#227e30"/><stop offset="20%" stop-color="#378a25"/><stop offset="22.5%" stop-color="#50941c"/><stop offset="25%" stop-color="#6a9c14"/><stop offset="27.5%" stop-color="#819e12"/><stop offset="30%" stop-color="#97a216"/><stop offset="32.5%" stop-color="#ada626"/><stop offset="35%" stop-color="#beae3a"/><stop offset="37.5%" stop-color="#ccb850"/><stop offset="40%" stop-color="#d8c66a"/><stop offset="42.5%" stop-color="#e4d485"/><stop offset="45%" stop-color="#eee39f"/><stop offset="47.5%" stop-color="#f7f0be"/><stop offset="50%" stop-color="#fffce0"/><stop offset="52.5%" stop-color="#f0f3eb"/><stop offset="55%" stop-color="#dae5de"/><stop offset="57.5%" stop-color="#c6dbd6"/><stop offset="60%" stop-color="#b0d0ce"/><stop offset="62.5%" stop-color="#98c4c4"/><stop offset="65%" stop-color="#7eb8bd"/><stop offset="67.5%" stop-color="#65abb6"/><stop offset="70%" stop-color="#4f9dae"/><stop offset="72.5%" stop-color="#3d8ea7"/><stop offset="75%" stop-color="#2c80a0"/><stop offset="77.5%" stop-color="#25739b"/><stop offset="80%" stop-color="#1f6797"/><stop offset="82.5%" stop-color="#1d5d95"/><stop offset="85%" stop-color="#1e5396"/><stop offset="87.5%" stop-color="#20489a"/><stop offset="90%" stop-color="#254199"/><stop offset="92.5%" stop-color="#263a8f"/><stop offset="95%" stop-color="#223275"/><stop offset="97.5%" stop-color="#1d2d61"/><stop offset="100%" stop-color="#182850"/></linearGradient>
</defs>
<rect x="0" y="0" width="1616" height="2591" fill="#fff"/>
<g clip-path="url(#clipA)">
<rect x="181" y="25" width="1329.5" height="569.5" fill="url(#gA)"/><g filter="url(#bA)"><path d="M262 0L265.2 76.9L279.5 57.9L296.2 49.5L310.5 34L331.9 32.9L348.6 44.8L362.9 42.4L377.1 48.3L392.6 50.7L408.1 41.7L422.4 53.6L436.7 54.3L451 40L467.6 53.1L486.7 44L502.4 60.2L511.9 86.4L526.2 98.3L539.3 72.1L550 55.5L565.5 85.2L578.6 55.5L592.9 48.3L603.6 81.7L614.3 93.6L623.8 43.6L638.1 55.5L652.4 98.3L665.5 96L677.4 55.5L692.9 56.7L709.5 53.1L723.8 44.8L740.5 63.8L757.1 61.4L773.8 50.7L788.1 76.9L800 65L811.9 48.3L831.2 66.2L844.3 62.6L861 62.6L877.6 93.6L889.5 96L902.6 46L915.7 40L930 69.8L946.7 53.1L957.4 55.5L972.9 99.5L987.1 67.4L999 37.6L1015.7 46L1034.8 34L1046.7 41.2L1062.1 84L1075.2 60.2L1088.3 44.8L1099 93.6L1107.4 142.4L1118.1 91.2L1132.4 54.3L1149 69.8L1163.6 71L1179 81.7L1199.3 101.9L1214.8 72.1L1229 69.8L1244.5 92.4L1257.6 66.2L1271.9 65L1286.2 90L1298.1 60.2L1312.4 47.1L1326.7 67.4L1341 67.4L1358.8 49.5L1371.9 69.8L1388.6 75.7L1405.2 54.3L1421.9 75.7L1441 75.7L1457.6 71L1476.7 79.3L1493.3 57.9L1510 66.2L1530 60L1530 0Z" fill="#3a8efa" opacity="0.9"/><path d="M270 10L270 50L300 58L1530 58L1530 10Z" fill="#52a6f9"/><path d="M180 10L180 40L270 40L270 10Z" fill="#3a8cfa"/></g><g filter="url(#bA2)"><ellipse cx="355" cy="95" rx="40" ry="22" fill="#0f40f6" opacity="0.8"/><ellipse cx="665" cy="120" rx="14" ry="22" fill="#0f40f6" opacity="0.6"/><ellipse cx="790" cy="100" rx="45" ry="35" fill="#0f40f6" opacity="0.8"/><ellipse cx="975" cy="135" rx="25" ry="28" fill="#0f40f6" opacity="0.8"/><ellipse cx="560" cy="150" rx="60" ry="50" fill="#2a78fa" opacity="0.3"/><ellipse cx="1080" cy="130" rx="40" ry="50" fill="#2a78fa" opacity="0.3"/><ellipse cx="1380" cy="110" rx="100" ry="25" fill="#2f84fa" opacity="0.6"/><ellipse cx="1200" cy="130" rx="40" ry="40" fill="#2a74fa" opacity="0.3"/></g><g filter="url(#bA)"><ellipse cx="325" cy="39" rx="26" ry="16" fill="#eafafe" opacity="0.9"/><ellipse cx="467.5" cy="39" rx="18.5" ry="16" fill="#eafafe" opacity="0.6"/><ellipse cx="506" cy="39" rx="12" ry="16" fill="#eafafe" opacity="0.7"/><ellipse cx="572.5" cy="39" rx="33.5" ry="16" fill="#eafafe" opacity="0.45"/><ellipse cx="689" cy="39" rx="27" ry="16" fill="#eafafe" opacity="0.5"/><ellipse cx="930" cy="39" rx="31" ry="16" fill="#eafafe" opacity="0.6"/><ellipse cx="1047.5" cy="39" rx="48.5" ry="16" fill="#eafafe" opacity="0.9"/><ellipse cx="1140" cy="39" rx="16" ry="16" fill="#eafafe" opacity="0.6"/><ellipse cx="1223.5" cy="39" rx="14.5" ry="16" fill="#eafafe" opacity="0.7"/><ellipse cx="1277.5" cy="39" rx="13.5" ry="16" fill="#eafafe" opacity="0.7"/><ellipse cx="1337.5" cy="39" rx="38.5" ry="16" fill="#eafafe" opacity="0.95"/><ellipse cx="1402.5" cy="39" rx="23.5" ry="16" fill="#eafafe" opacity="0.7"/><ellipse cx="1447.5" cy="39" rx="13.5" ry="16" fill="#eafafe" opacity="0.7"/><ellipse cx="1502.5" cy="39" rx="13.5" ry="16" fill="#eafafe" opacity="0.6"/></g>
</g>
<line x1="94.5" y1="176.7" x2="181" y2="176.7" stroke="#000" stroke-width="1.1" opacity="0.8"/><line x1="181" y1="176.7" x2="1510.5" y2="176.7" stroke="#000" stroke-width="1.1" opacity="0.0"/><line x1="94.5" y1="309.5" x2="181" y2="309.5" stroke="#000" stroke-width="1.1" opacity="0.8"/><line x1="181" y1="309.5" x2="1510.5" y2="309.5" stroke="#000" stroke-width="1.1" opacity="0.8"/><line x1="94.5" y1="414.7" x2="181" y2="414.7" stroke="#000" stroke-width="1.1" opacity="0.8"/><line x1="181" y1="414.7" x2="1510.5" y2="414.7" stroke="#000" stroke-width="1.1" opacity="0.0"/><line x1="94.5" y1="488" x2="181" y2="488" stroke="#000" stroke-width="1.1" opacity="0.8"/><line x1="181" y1="488" x2="1510.5" y2="488" stroke="#000" stroke-width="1.1" opacity="0.0"/><line x1="94.5" y1="537" x2="181" y2="537" stroke="#000" stroke-width="1.1" opacity="0.8"/><line x1="181" y1="537" x2="1510.5" y2="537" stroke="#000" stroke-width="1.1" opacity="0.8"/><line x1="94.5" y1="568" x2="181" y2="568" stroke="#000" stroke-width="1.1" opacity="0.8"/><line x1="181" y1="568" x2="1510.5" y2="568" stroke="#000" stroke-width="1.1" opacity="0.6"/><line x1="94.5" y1="587" x2="181" y2="587" stroke="#000" stroke-width="1.1" opacity="0.8"/><line x1="181" y1="587" x2="1510.5" y2="587" stroke="#000" stroke-width="1.1" opacity="0.8"/><line x1="198.8" y1="25" x2="198.8" y2="594.5" stroke="#000" stroke-width="1.1" opacity="0.85"/><line x1="424.8" y1="25" x2="424.8" y2="594.5" stroke="#000" stroke-width="1.1" opacity="0.85"/><line x1="650.8" y1="25" x2="650.8" y2="594.5" stroke="#000" stroke-width="1.1" opacity="0.0"/><line x1="876.8" y1="25" x2="876.8" y2="594.5" stroke="#000" stroke-width="1.1" opacity="0.75"/><line x1="1102.8" y1="25" x2="1102.8" y2="594.5" stroke="#000" stroke-width="1.1" opacity="0.3"/><line x1="1328.8" y1="25" x2="1328.8" y2="594.5" stroke="#000" stroke-width="1.1" opacity="0.0"/>
<g clip-path="url(#clipA)">
<path d="M364 30.9h0m106.2 .1h0m11.3 .1h0m42.9-.6h0m27.2 1.2h0m21.2-.2h0m12.7-.3h0m22.6-1h0m22.6 .3h0m32.5 1.2h0m46.6 0h0m46.5-.9h0m10-.4h0m9.9 .3h0m22.6 .6h0m12.7-.6h0m35.2 .3h0m33.9 .8h0m12.7-.4h0m22.6 .1h0m11.3-.4h0m11.3-.8h0m11.3 1.4h0m12.6-.3h0m43.9-.6h0m33.9 .6h0m46.5 .3h0m11.3-1h0m32.6 1h0m22.6-1h0m11.3-.4h0m9.9 1h0m22.6-1h0m45.2 .3h0m45.2-.3h0m33.9 .7h0m24 .4h0m57.8-.5h0m11.3 .7h0m10-.7h0m-1202.8 6.4h0m31.6 0h0m131.1-.5h0m27.1 1.2h0m58.8 0h0m91.3-.2h0m11.3-.3h0m46.6 .7h0m32.5-.6h0m11.3 .2h0m69.2-.1h0m33.9 .3h0m80.4 0h0m80.5-.1h0m35.2-.2h0m55.2-.7h0m9.9 .7h0m12.7 .1h0m33.9-.3h0m12.6-.7h0m11.3 .4h0m11.3-.2h0m11.3 .4h0m10 .3h0m22.6 .4h0m11.3-.8h0m9.9 .1h0m11.3 .6h0m11.3-1.2h0m22.6 .8h0m22.6 0h0m33.9 .4h0m33.9-1.1h0m70.5 1.2h0m22.6-1.2h0m32.6 .8h0m33.9-.3h0m9.9-.2h0m22.6 1h0m-1248.9 6.6h0m58.8-1.1h0m52 0h0m20.3-.3h0m58.8 .3h0m49.7 .4h0m31.6 .6h0m37.1-1.1h0m11.3 1.2h0m12.7-.6h0m22.6 0h0m32.5 .2h0m11.3-.3h0m11.3-.4h0m24 .1h0m45.2-.2h0m11.3 1.1h0m32.5-.3h0m11.3-.3h0m35.3 .6h0m11.3-.9h0m23.9-.1h0m35.3 .8h0m22.6-.8h0m33.9 .3h0m46.5-.6h0m31.2 .2h0m59.2 .8h0m43.9 .1h0m11.3-.3h0m32.5-.5h0m22.6 .5h0m10-.7h0m35.2-.1h0m11.3-.1h0m11.3 .8h0m45.2-.2h0m11.3 .3h0m12.7 .5h0m11.3-1.4h0m22.6 .9h0m67.8-.1h0m22.6 .3h0m21.2-.8h0m11.3 .8h0m11.3-.1h0m-1280.5 7h0m31.6-.9h0m58.8 1.2h0m31.6-.9h0m40.7 .7h0m27.1-1h0m70.1 0h0m80 .8h0m11.3-.6h0m12.7 .6h0m22.6-.4h0m11.3 .7h0m32.5 .1h0m11.3-.5h0m46.6-.7h0m11.3 .1h0m11.3 1.1h0m11.3-.2h0m12.6-.4h0m31.2-.1h0m11.3-.5h0m12.7 .4h0m11.3 .8h0m11.3-1h0m12.6-.1h0m11.3 .1h0m22.6-.3h0m24 1.4h0m33.9 0h0m11.3-.4h0m12.6 0h0m33.9-.8h0m10 .1h0m11.3 .2h0m22.6-.1h0m22.6 0h0m35.2-.1h0m43.9 1.2h0m11.3-1.5h0m21.2 0h0m32.6 .5h0m12.6-.5h0m33.9 1.4h0m11.3-1.1h0m11.3 .2h0m11.3-.2h0m22.6 .1h0m11.3-.4h0m24 .7h0m11.3 .1h0m11.3-.4h0m12.6 .4h0m55.2-.9h0m22.6 .8h0m21.2 .2h0m-1278.2 6.7h0m51.9-.5h0m27.2-.1h0m83.6 .1h0m20.3 .2h0m27.1 .3h0m58.8-.6h0m22.6 .2h0m31.6 .3h0m27.2 .1h0m9.9 .5h0m79.1 .1h0m69.2 0h0m11.3-1.1h0m11.3 .1h0m11.3 .8h0m12.6-1h0m31.2 0h0m11.3 .5h0m47.9 .1h0m11.3-.2h0m22.6 .4h0m35.3-.1h0m11.3 .3h0m11.3 .4h0m23.9-1h0m33.9 .2h0m10 .5h0m21.2 .4h0m35.3-.3h0m11.3-1.2h0m23.9 .8h0m11.3 .5h0m11.3-1.1h0m10 0h0m22.6 .9h0m11.3-.6h0m9.9 1h0m45.2-1.4h0m33.9-.1h0m11.3 .1h0m45.2 1.1h0m11.3-.2h0m46.6-1.1h0m12.6 .9h0m22.6-.3h0m11.3-.6h0m10 .6h0m11.3 .5h0m22.6 .5h0m-1257 12.7h0m20.3-.4h0m31.6-.1h0m27.2-.7h0m31.6 .5h0m31.6 .6h0m20.4-.7h0m47.4 .6h0m31.7 .1h0m27.1 .3h0m22.6-.2h0m31.6-.3h0m27.2-.2h0m21.2 .8h0m12.7-1h0m22.6 0h0m11.3 .4h0m32.5-.4h0m11.3 .5h0m11.3 0h0m12.7 .3h0m22.6-.9h0m11.3 .5h0m22.6 0h0m22.6-.9h0m9.9 1.2h0m22.6-.6h0m12.7 .1h0m22.6-.4h0m12.6 1.1h0m11.3-1.5h0m22.6 .9h0m12.7-.6h0m11.3 .7h0m11.3 .1h0m11.3-1h0m11.3 1.2h0m23.9 .1h0m11.3 .1h0m22.6-.4h0m21.3-.9h0m9.9 .1h0m12.7-.1h0m22.6 0h0m11.3 1h0m35.2 .3h0m21.3 0h0m11.3-1.3h0m11.3 .1h0m11.3 .4h0m9.9 .5h0m11.3-.6h0m11.3 0h0m10 .4h0m12.6 .1h0m22.6 .4h0m22.6-.3h0m11.3-.7h0m11.3 .3h0m22.6 .4h0m24-.7h0m11.3 .6h0m22.6-.6h0m12.6 .9h0m22.6-1.3h0m11.3 .3h0m10-.3h0m11.3 .1h0m22.6 1.4h0m11.3-1h0m21.2 0h0m-1289.5 16.1h0m20.3-1.2h0m31.6 .7h0m27.2 .1h0m31.6-.5h0m52 .5h0m20.3-.4h0m58.8 .4h0m27.1-.2h0m11.3 .1h0m11.3 .7h0m31.6-.4h0m27.2-1h0m9.9 .7h0m57.9 .9h0m11.3-.2h0m9.9-.2h0m11.3 .4h0m22.6-.9h0m12.7 .1h0m22.6 .3h0m11.3-.8h0m11.3-.2h0m11.3 1.3h0m22.6-1.4h0m32.5 .2h0m12.7 1.3h0m22.6-1.2h0m12.6 .1h0m11.3 .2h0m22.6-.4h0m12.7 1.4h0m11.3-1.5h0m11.3 .9h0m11.3-.4h0m11.3 .3h0m23.9 0h0m11.3 0h0m22.6-.7h0m10 .9h0m11.3 .1h0m9.9-.4h0m12.7 .5h0m22.6-.5h0m11.3-.2h0m12.6-.6h0m11.3 .7h0m11.3 .8h0m11.3-.7h0m10 .7h0m33.9-1.2h0m21.2 .4h0m11.3 .1h0m10 .7h0m12.6-.6h0m33.9-.3h0m11.3 .3h0m11.3-.2h0m11.3-.6h0m22.6 .1h0m24 .2h0m11.3 .8h0m11.3 .1h0m11.3-.7h0m12.6-.2h0m22.6 1h0m11.3 0h0m10-1.2h0m11.3 1h0m22.6-1.2h0m11.3 1.3h0m9.9 .1h0m11.3-.5h0m11.3 .3h0m-1300.8 30.8h0m20.3 .5h0m31.6-1.4h0m27.2 0h0m31.6 .6h0m31.6 .7h0m20.4-1.3h0m20.3 1.2h0m27.1-.1h0m31.7-.7h0m27.1 .7h0m11.3 .2h0m11.3-1.2h0m31.6 .2h0m37.1-.3h0m11.3 0h0m12.7 .9h0m22.6-.7h0m11.3 .5h0m11.3-.1h0m9.9 .8h0m11.3-1.1h0m11.3 .5h0m24 .2h0m22.6 .2h0m22.6-1.1h0m11.3 .4h0m22.6 .4h0m9.9 .5h0m11.3-.3h0m11.3-1h0m12.7 1.2h0m11.3-1.3h0m23.9 .9h0m11.3-.6h0m22.6 .1h0m12.7-.4h0m11.3 .6h0m22.6-.2h0m11.3 1h0m11.3-.1h0m12.6-1.2h0m11.3 .2h0m22.6 .5h0m10-.7h0m11.3 1.3h0m22.6-1.3h0m22.6 0h0m11.3-.1h0m23.9 .6h0m11.3 .2h0m21.3-.6h0m11.3 1.2h0m11.3-.5h0m21.2 .3h0m11.3-1.1h0m11.3 1.3h0m10-.8h0m35.2 .1h0m11.3 .4h0m11.3-.4h0m11.3 .2h0m11.3-.7h0m22.6 .9h0m11.3 .4h0m12.7-1.3h0m11.3 .4h0m11.3 .7h0m11.3-.3h0m12.6-.2h0m22.6-.3h0m11.3 .6h0m10 0h0m11.3-.3h0m22.6-.1h0m32.5-.3h0m-1289.5 29.7h0m20.3 .9h0m31.6-.6h0m27.2 .2h0m31.6 .3h0m31.6-.1h0m20.4-.7h0m47.4-.2h0m31.7 .3h0m27.1 .2h0m22.6-.2h0m31.6 .5h0m48.4-.4h0m12.7-.7h0m22.6 1.4h0m22.6-.3h0m9.9-.7h0m11.3-.2h0m11.3-.4h0m11.3 .9h0m12.7-.1h0m22.6-.3h0m11.3 .1h0m11.3 .6h0m11.3-.1h0m12.6-.7h0m19.9-.3h0m11.3 1.1h0m11.3-.5h0m12.7 .6h0m11.3-.5h0m11.3 .5h0m23.9 0h0m22.6-.2h0m24-1.1h0m33.9 .1h0m11.3 .1h0m12.6-.1h0m11.3-.1h0m22.6 .5h0m10 .1h0m11.3 .9h0m22.6-1.2h0m22.6 .4h0m11.3-.7h0m12.6 1.2h0m11.3 .2h0m11.3-.2h0m43.9-.1h0m11.3 .3h0m9.9-.7h0m11.3-.2h0m11.3 .6h0m22.6-.2h0m33.9-.7h0m11.3 .4h0m11.3-.1h0m11.3-.3h0m22.6 0h0m11.3 .7h0m35.3 .6h0m11.3-1.3h0m12.6-.1h0m22.6 1.1h0m11.3 .1h0m10 .2h0m11.3-.6h0m22.6-.2h0m11.3 .6h0m9.9-.8h0m22.6 .4h0m-1300.8 58.7h0m20.3-.9h0m58.8 .3h0m83.6 .6h0m20.3-.3h0m27.1 .2h0m58.8-.9h0m11.3 .7h0m11.3-.6h0m31.6 .5h0m27.2 .4h0m9.9-.6h0m11.3 0h0m35.3-.3h0m11.3 1.3h0m11.3-1h0m9.9 .6h0m11.3-.9h0m22.6 .9h0m12.7 .3h0m22.6-1h0m11.3 0h0m22.6 .2h0m12.6 .8h0m10-.7h0m9.9 .3h0m11.3-.3h0m11.3 0h0m24-.1h0m11.3 .3h0m12.6-.2h0m33.9-.5h0m35.3-.1h0m11.3 .4h0m11.3-.4h0m11.3 .2h0m12.6 .8h0m11.3 .3h0m32.6 0h0m11.3-.6h0m9.9 .2h0m12.7 .4h0m22.6-.1h0m35.2 .1h0m22.6-.2h0m21.3-.8h0m11.3 .3h0m21.2-.3h0m11.3 .3h0m11.3 0h0m10-.6h0m35.2 .3h0m11.3 .5h0m11.3 .5h0m22.6-.9h0m22.6-.2h0m24 .5h0m11.3 0h0m11.3-.4h0m46.5 .3h0m11.3-.5h0m10 1.4h0m11.3-1.2h0m22.6-.2h0m-1236.7 56.6h0m31.6-.2h0m27.2 1.1h0m31.6-1.2h0m31.6 1.4h0m126.6-.8h0m11.3-.1h0m11.3-.1h0m31.6-.2h0m27.2 .2h0m9.9 1.1h0m11.3-.2h0m35.3-.8h0m11.3 0h0m11.3 .9h0m21.2-1.2h0m11.3 .7h0m11.3-.9h0m12.7 .4h0m22.6 .7h0m11.3-.6h0m22.6 1h0m12.6-.6h0m10 .3h0m9.9 .2h0m11.3-.3h0m11.3-.8h0m12.7 .6h0m11.3 .3h0m11.3-.4h0m12.6 .5h0m11.3-.4h0m22.6 .1h0m12.7-.6h0m11.3 .6h0m11.3-.8h0m11.3 .7h0m11.3-.7h0m23.9 .6h0m11.3-.8h0m22.6 .3h0m10 1.2h0m11.3-.9h0m9.9 .4h0m12.7-.6h0m22.6 1h0m11.3-1h0m12.6 .4h0m11.3 .3h0m22.6-.2h0m32.6-.8h0m11.3 1h0m9.9 0h0m11.3-.1h0m11.3 .1h0m22.6 0h0m22.6-.7h0m11.3 .6h0m11.3 .2h0m11.3-.4h0m11.3 .4h0m33.9 .3h0m12.7-.6h0m22.6 .2h0m23.9 .1h0m22.6-.3h0m32.6-.1h0m22.6 .3h0m43.8-.4h0m-940.6 51.8h0m46.6-1.2h0m158.2-.1h0m183.5 .5h0m77.7 .7h0m35.3-1h0m57.8 .1h0m86.4 .2h0m138.3-.3h0m124.3-.2h0m21.2 .9h0m-1126.8 41h0m117.5 1.3h0m70.1-.7h0m67.8 .1h0m90.4 .7h0m124.3-1.1h0m59.2 .2h0m22.6-.2h0m111.6 1h0m12.7-1.1h0m113-.2h0m100.3 1.3h0m22.6-.7h0m-1074.8 77.6h0m20.3 0h0m31.6 .8h0m27.2-.7h0m31.6-.4h0m31.6 .6h0m20.4 .5h0m47.4-.7h0m58.8 .5h0m11.3-.4h0m42.9 .6h0m27.2 .2h0m9.9-.3h0m24-.6h0m22.6 1.2h0m11.3-.8h0m11.3 .2h0m9.9-.9h0m11.3 .8h0m11.3 .7h0m11.3-.2h0m35.3-.7h0m11.3-.1h0m22.6-.4h0m22.6 1h0m9.9-.3h0m11.3-.7h0m11.3 1h0m12.7-1h0m46.5 0h0m35.3 .9h0m11.3-.7h0m11.3 .5h0m22.6 .7h0m11.3-.4h0m12.6-.3h0m11.3-.5h0m22.6 .6h0m21.3-.2h0m9.9 .2h0m12.7-.6h0m22.6 .2h0m11.3-.3h0m12.6 .8h0m11.3-.3h0m22.6-.2h0m21.3 .1h0m22.6 .2h0m32.5 .4h0m10 .2h0m12.6-.4h0m22.6 .5h0m11.3-1h0m11.3 .5h0m11.3 .3h0m11.3-1.1h0m33.9 .9h0m12.7-.8h0m11.3 1.2h0m11.3-.2h0m23.9-1h0m43.9 0h0m11.3 1.1h0m22.6-1.3h0m11.3 .8h0m9.9-1h0m11.3 .4h0m11.3-.3h0m-1300.8 57h0m20.3-.2h0m31.6 .4h0m27.2-.3h0m31.6 .3h0m31.6-1.1h0m67.8 1.2h0m31.7 0h0m27.1-.8h0m11.3 .6h0m11.3-.4h0m31.6-.2h0m37.1-.3h0m46.6 0h0m22.6 .5h0m9.9-.4h0m11.3-.1h0m11.3 .6h0m11.3 .5h0m12.7 .1h0m22.6-1h0m11.3 0h0m22.6 .8h0m22.6-1h0m9.9 0h0m11.3 .2h0m11.3 .6h0m12.7-.6h0m11.3-.3h0m11.3 .5h0m12.6 .1h0m11.3 .4h0m22.6 .2h0m35.3 .1h0m11.3-.1h0m11.3-.5h0m11.3 .3h0m12.6 .2h0m11.3-.7h0m22.6-.3h0m10 .2h0m11.3-.6h0m9.9 1.4h0m35.3-.3h0m11.3 .5h0m23.9-.8h0m22.6 .2h0m10 .1h0m11.3 .4h0m43.8-1.4h0m11.3 1.2h0m10-.9h0m12.6 0h0m22.6-.2h0m22.6 .1h0m11.3-.1h0m33.9 1.2h0m35.3-.7h0m11.3-.1h0m23.9 .7h0m22.6-1.2h0m11.3 .8h0m21.3-.5h0m22.6 .3h0m11.3 .8h0m9.9-1.1h0m11.3 .4h0m11.3-.2h0m-1300.8 43.5h0m79.1-.5h0m31.6 .3h0m31.6 0h0m20.4-.6h0m20.3 1h0m27.1-.8h0m31.7 .5h0m27.1-.5h0m11.3 .2h0m11.3 .7h0m31.6-.5h0m27.2 .2h0m9.9-.7h0m24 .7h0m22.6-.3h0m11.3-.4h0m11.3 1.1h0m9.9-1.3h0m22.6 .1h0m46.6 .8h0m11.3 .5h0m11.3-.2h0m11.3-1.2h0m12.6 .9h0m10-1h0m32.5 0h0m12.7 1.5h0m22.6-.9h0m12.6 .8h0m11.3-1.4h0m22.6 1.4h0m12.7 0h0m11.3-1.3h0m11.3 .5h0m11.3-.3h0m46.5 .4h0m22.6-.1h0m10 .1h0m33.9 .3h0m33.9 .3h0m23.9-.4h0m11.3-.3h0m11.3 .7h0m10 0h0m11.3-.1h0m11.3-1h0m21.2 .1h0m22.6 .7h0m22.6-.2h0m22.6-.4h0m11.3 1h0m11.3-1.1h0m11.3 .6h0m11.3 .1h0m22.6 .1h0m11.3 .1h0m12.7-1h0m11.3-.1h0m35.2 .2h0m43.9 .1h0m11.3-.3h0m22.6 .4h0m11.3-.4h0m9.9 .3h0m-1278.2 26.4h0m51.9 1h0m27.2-.3h0m63.2 .1h0m20.4-1h0m20.3 1.3h0m27.1-1h0m31.7 .2h0m38.4-.5h0m11.3 .3h0m58.8 .5h0m9.9-.4h0m11.3-.5h0m46.6 .2h0m21.2 .9h0m22.6 .1h0m11.3-1.1h0m46.6 .4h0m22.6 .1h0m22.6 .8h0m32.5-1.2h0m12.7 0h0m22.6 1h0m12.6-.5h0m33.9-.4h0m24 .9h0m33.9-.1h0m11.3-.8h0m12.6 1.1h0m11.3-1.4h0m22.6 1.5h0m10-.8h0m11.3 .2h0m9.9-.2h0m70.5-.5h0m11.3 .1h0m11.3 1.1h0m10-.2h0m22.6-1.3h0m11.3 1h0m9.9-.4h0m11.3-.3h0m11.3 1h0m22.6-.4h0m22.6-.5h0m11.3-.3h0m11.3 1.4h0m11.3-.6h0m11.3 .5h0m22.6-.7h0m11.3 .9h0m24-.3h0m11.3-.8h0m11.3-.1h0m35.2 .5h0m11.3 .5h0m43.9-.2h0m11.3-.3h0m9.9-.1h0m11.3-.7h0m11.3 .3h0m-1300.8 19.6h0m20.3-.5h0m58.8 1.4h0m31.6-1.2h0m31.6 .6h0m20.4 .1h0m20.3-.4h0m85.9 .2h0m22.6-.5h0m31.6 1.2h0m27.2-.3h0m21.2-.8h0m12.7 .2h0m22.6 .5h0m32.5 .3h0m11.3-1h0m11.3 .1h0m11.3 .2h0m12.7-.5h0m22.6 1.4h0m11.3-.9h0m11.3 .5h0m11.3-.5h0m12.6-.2h0m19.9 .7h0m11.3-.1h0m11.3-.2h0m12.7-.8h0m11.3 .7h0m81.8-.5h0m11.3 1.1h0m11.3-.8h0m11.3 1h0m11.3-1.1h0m12.6 .7h0m11.3-.2h0m22.6 0h0m10 .4h0m33.9-1.2h0m22.6-.1h0m11.3 .8h0m56.5 .4h0m11.3-.8h0m22.6 .4h0m9.9 .5h0m11.3-.1h0m21.3-.3h0m12.6-.5h0m45.2-.3h0m11.3 0h0m11.3 .4h0m22.6 .7h0m11.3 .3h0m12.7-.9h0m11.3 .6h0m11.3-.9h0m11.3 .6h0m35.2 .5h0m21.3-.6h0m45.2-.5h0m21.2 .1h0m11.3 .7h0m-1221.7 14.3h0m31.6-.5h0m52-.7h0m20.3-.2h0m58.8 1.3h0m38.4-.8h0m11.3-.1h0m31.6 0h0m27.2 .3h0m9.9 .9h0m11.3-1.4h0m35.3 .7h0m11.3 .5h0m32.5-.8h0m35.3 0h0m22.6 0h0m22.6 .1h0m11.3 .4h0m12.6-.5h0m19.9-.5h0m35.3 .5h0m22.6 .1h0m12.6-.2h0m69.2-.4h0m11.3 .5h0m11.3-.5h0m35.2 0h0m32.6 .4h0m11.3-.2h0m9.9 .4h0m35.3 .1h0m11.3 .5h0m35.2-1.1h0m21.3 1h0m11.3 .2h0m11.3-.2h0m11.3-.8h0m9.9 .3h0m11.3 .2h0m11.3 .2h0m10-.1h0m12.6-.2h0m22.6 .5h0m11.3-.8h0m11.3 0h0m22.6-.3h0m33.9 .1h0m12.7 1h0m46.5-.5h0m22.6 .3h0m76.4-.2h0m11.3 .6h0m11.3-1.2h0" stroke="#000" stroke-width="3" stroke-linecap="round" fill="none"/><path d="M218.8 25.7c0 3.4 .2 14.2 0 20.3s-.4 11.9-1.2 16.6s-1.6 7.5-3.6 11.9s-6.7 10.7-8.3 14.3s-2.4 4.6-1.2 7.2s4.6 6.2 8.4 8.3s9.8 3.6 14.2 4s8.7 .1 11.9-1.6s5.2-5.2 7.2-8.4s2.8-7.3 4.8-10.7s4.7-7.1 7.1-9.5s4.7-3.6 7.1-4.8s5-.7 7.2-2.3s4.5-5.6 5.9-7.2s2-2 2.4-2.4" fill="none" stroke="#000" stroke-width="2.4" stroke-linejoin="round" stroke-linecap="round"/><path d="M334.3 113.1c-2-.9-8.3-3.3-11.9-5.2s-7.7-4.2-9.5-6s-2-3-1.2-4.8s2.5-3.5 5.9-5.9s9.5-5.7 14.3-8.3s9.5-5.4 14.3-7.2s9.5-3.2 14.3-3.6s9.9 0 14.3 1.2s8.5 3 11.9 6s6.3 7.5 8.3 11.9s3.4 9.9 3.6 14.3s-1.2 8.5-2.4 11.9s-3 6.2-4.8 8.3s-4.9 3.4-5.9 4.1" fill="none" stroke="#000" stroke-width="2.4" stroke-linejoin="round" stroke-linecap="round"/><path d="M291.4 71c3.6-.3 13.9-.9 21.5-1.7s17.1-2.2 23.8-3.1s10.7-1.8 16.6-2.4s12.7-1 19.1-1.2s13.1-1 19 0s10.8 3.2 16.7 6s13.1 6.5 19 10.7s12.5 9.1 16.7 14.3s6.7 10.7 8.3 16.6s1.6 12 1.2 19.1s-3.1 15.9-3.5 23.8s-.4 16.8 1.2 23.8s4.3 12.9 8.3 17.9s10.7 9.2 15.5 11.9s10.9 3.3 13.1 4" fill="none" stroke="#000" stroke-width="2.4" stroke-linejoin="round" stroke-linecap="round"/><path d="M439 59c2 .8 8 2.8 12 4.8s7.9 5.4 11.9 7.2s7.9 3.3 11.9 3.5s7.9-1 11.9-2.4s9.9-4.9 11.9-5.9" fill="none" stroke="#000" stroke-width="2.4" stroke-linejoin="round" stroke-linecap="round"/><path d="M448.6 50.7c2 1.4 8.3 6.3 11.9 8.3s6.3 3.2 9.5 3.6s6.3-.2 9.5-1.2s7.9-3.9 9.5-4.7" fill="none" stroke="#000" stroke-width="2.4" stroke-linejoin="round" stroke-linecap="round"/><path d="M458.1 69.8c2 1.6 7.9 7.5 11.9 9.5s7.9 3 11.9 2.4s8.3-4.4 11.9-6s7.9-3 9.5-3.6" fill="none" stroke="#000" stroke-width="2.4" stroke-linejoin="round" stroke-linecap="round"/><path d="M305.7 57.9c2.8 .2 10.8 1.1 16.7 1.1s13.1-.5 19-1.1s11.5-2.2 16.7-2.4s11.9 1 14.3 1.2" fill="none" stroke="#000" stroke-width="2.4" stroke-linejoin="round" stroke-linecap="round"/><path d="M500 38.8c1.6 1.2 6.7 4.4 9.5 7.2s5.2 5.9 7.2 9.5s3.5 6.8 4.7 11.9s2.6 12.7 2.4 19s-2.8 13.1-3.6 19.1s-1.8 11-1.2 16.6s2.8 11.5 4.8 16.7s5.2 9.1 7.2 14.3s3.5 11.2 4.7 16.7s2 11.4 2.4 16.6s1.2 10.7 0 14.3s-3.9 5.2-7.1 7.2s-10 3.9-12 4.7" fill="none" stroke="#000" stroke-width="2.4" stroke-linejoin="round" stroke-linecap="round"/><path d="M531 72.1c2.8 .4 10.6 2.2 16.6 2.4s13.1-.8 19.1-1.2s11-1 16.6-1.2s11.9 .4 16.7 0s8.7-2.3 11.9-2.3s3.5 1.3 7.1 2.3s9.5 3.2 14.3 3.6s10.7-.6 14.3-1.2s3.2-2 7.2-2.4s11-.4 16.6 0s12.7 .4 16.7 2.4s4.3 7.7 7.1 9.5s6.4 2 9.6 1.2s5.5-4.5 9.5-5.9s10.3-1.6 14.3-2.4s6.3-.6 9.5-2.4s7.9-6.9 9.5-8.3" fill="none" stroke="#000" stroke-width="2.4" stroke-linejoin="round" stroke-linecap="round"/><path d="M654.8 131.7c-.2-2-1.2-7.9-1.2-11.9s-.6-7.5 1.2-11.9s6.7-11.9 9.5-14.3s4.9-2 7.1 0s4.8 7.2 6 11.9s1.2 11.8 1.2 16.6s-.4 9.1-1.2 11.9s-3 4-3.6 4.8" fill="none" stroke="#000" stroke-width="2.4" stroke-linejoin="round" stroke-linecap="round"/><path d="M782.1 138.8c-1.4 .6-6.1 3.6-8.3 3.6s-2.4-1.8-4.8-3.6s-6.3-3.9-9.5-7.1s-7.5-7.5-9.5-11.9s-2.2-9.1-2.4-14.3s-.2-11.9 1.2-16.7s4.2-9.3 7.2-11.9s6.9-3.4 10.7-3.6s8.3 1 11.9 2.4s7.9 5 9.5 6" fill="none" stroke="#000" stroke-width="2.4" stroke-linejoin="round" stroke-linecap="round"/><path d="M804.8 62.6c1.2 .6 4.7 1.6 7.1 3.6s4.3 5.5 7.1 8.3s6 7 9.6 8.4s8.3-.6 11.9 0s7.5 1.7 9.5 3.5s2.8 4.6 2.4 7.2s-2.4 6.1-4.8 8.3s-6.7 3-9.5 4.8s-5.1 3.3-7.1 5.9s-3.2 5.9-4.8 9.5s-3.4 7.9-4.8 11.9s-2.3 8.8-3.5 12s-3 5.9-3.6 7.1" fill="none" stroke="#000" stroke-width="2.4" stroke-linejoin="round" stroke-linecap="round"/><path d="M830 53.1c2 .6 8.5 .8 11.9 3.6s6.3 8.1 8.3 13.1s3.4 12.1 3.6 16.6s0 7.9-2.4 10.7s-8.3 4-11.9 6s-7.9 4.9-9.5 5.9" fill="none" stroke="#000" stroke-width="2.4" stroke-linejoin="round" stroke-linecap="round"/><path d="M847.9 25.7c.2 1.8-.3 7.7 1.1 10.7s4.4 5 7.2 7.2s6.5 4.3 9.5 5.9s6.9 3 8.3 3.6" fill="none" stroke="#000" stroke-width="2.4" stroke-linejoin="round" stroke-linecap="round"/><path d="M877.6 73.3c1.2-1.2 4.4-5.5 7.2-7.1s6.3-2.6 9.5-2.4s6.3 2 9.5 3.6s5.9 4.5 9.5 5.9s7.9 2 11.9 2.4s7.9 .2 11.9 0s8.3-1.6 11.9-1.2s6.4 2.6 9.6 3.6s7.9 2 9.5 2.4" fill="none" stroke="#000" stroke-width="2.4" stroke-linejoin="round" stroke-linecap="round"/><path d="M994.3 59c1.2 1.8 4.3 7.4 7.1 10.8s6.4 6.9 9.6 9.5s6.7 3.9 9.5 5.9s5.1 3 7.1 6s3.6 6.7 4.8 11.9s1.6 11.8 2.4 19s1.5 16 2.3 23.9s1.6 16.3 2.4 23.8s1.6 15 2.4 21.4s1 12.1 2.4 16.7s3.7 9.1 5.9 10.7s5.2 1 7.2-1.2s3.1-6.7 4.7-11.9s3-13.5 4.8-19.1s4.2-11.1 6-14.3s2.7-5.5 4.7-4.7s4.4 6.3 7.2 9.5s6.3 7.3 9.5 9.5s6.3 2 9.5 3.6s6.7 3.8 9.5 6s4.4 5.3 7.2 7.1s6.3 3.6 9.5 3.6s6.7-1.4 9.5-3.6s4.4-5.9 7.2-9.5s5.9-8.5 9.5-11.9s7.9-6.5 11.9-8.4s8.2-2.9 11.9-3.1s8.3 1.6 10 1.9" fill="none" stroke="#000" stroke-width="2.4" stroke-linejoin="round" stroke-linecap="round"/><path d="M952.6 151.9c-.6-.6-2.8-1-3.6-3.6s-.7-7.5-1.1-11.9s-3-11.5-1.2-14.3s8.3-1.5 11.9-2.3s6.7-.4 9.5-2.4s4.5-7.1 7.1-9.5s5.6-4.8 8.4-4.8s5.9 2.4 8.3 4.8s4.6 5.5 6 9.5s2.5 9.1 2.3 14.3s-1.7 11.9-3.5 16.6s-4.4 9.1-7.2 11.9s-6.7 3.6-9.5 4.8s-5.3 1.2-7.1 2.4s-2.4 3.1-3.6 4.7s-3 4-3.6 4.8" fill="none" stroke="#000" stroke-width="2.4" stroke-linejoin="round" stroke-linecap="round"/><path d="M996.7 46c1.6 1.6 5.9 7.1 9.5 9.5s7.5 3.7 11.9 4.7s9.9 1.4 14.3 1.2s8.3-1.4 11.9-2.4s7.9-2.9 9.5-3.5" fill="none" stroke="#000" stroke-width="2.4" stroke-linejoin="round" stroke-linecap="round"/><path d="M999 53.1c1.6 1.6 6 7.1 9.6 9.5s7.5 3.6 11.9 4.8s9.5 2.2 14.3 2.4s10.2-1.2 14.2-1.2s8 1 9.6 1.2" fill="none" stroke="#000" stroke-width="2.4" stroke-linejoin="round" stroke-linecap="round"/><path d="M1001.4 62.6c2.4 1.6 9.5 7.1 14.3 9.5s9.5 3.6 14.3 4.8s9.9 1.2 14.3 2.4s8.7 3.9 11.9 4.7s5.9 0 7.1 0" fill="none" stroke="#000" stroke-width="2.4" stroke-linejoin="round" stroke-linecap="round"/><path d="M1115.7 63.8c2 .4 7.9 1.2 11.9 2.4s7.9 3.4 11.9 4.8s7.9 2.9 11.9 3.5s9.9 0 11.9 0" fill="none" stroke="#000" stroke-width="2.4" stroke-linejoin="round" stroke-linecap="round"/><path d="M1177.6 86.4c1.2 1.2 5.1 5.6 7.2 7.2s4.3 2 5.2 2.4" fill="none" stroke="#000" stroke-width="2.4" stroke-linejoin="round" stroke-linecap="round"/><path d="M1174.3 41.2c1.2 1.6 5.1 5.9 7.1 9.5s4.8 7.5 4.8 11.9s-3.2 10.3-4.8 14.3s-4.7 6.3-4.7 9.5s2.3 7.6 4.7 9.6s7.2 3.9 9.6 2.3s3.5-7.5 4.7-11.9s.8-10.3 2.4-14.3s4.3-7.5 7.1-9.5s6.4-3.6 9.6-2.4s5.9 7.6 9.5 9.6s9.9 1.9 11.9 2.3" fill="none" stroke="#000" stroke-width="2.4" stroke-linejoin="round" stroke-linecap="round"/><path d="M1255.2 81.7c-1 1.6-4.8 4.8-5.9 9.5s-.7 11.9-.7 19s.5 15.8 .7 23.8s.9 16 .7 23.9s-1 17.8-1.9 23.8s-3 9.9-3.6 11.9" fill="none" stroke="#000" stroke-width="2.4" stroke-linejoin="round" stroke-linecap="round"/><path d="M1160 174.5c2-.6 7.9-2.9 11.9-3.5s8.3-1.4 11.9 0s6.7 6.1 9.5 8.3s4.4 4.7 7.2 4.7s6.7-4.3 9.5-4.7s5 1.2 7.1 2.4s4.4 3.9 5.3 4.7" fill="none" stroke="#000" stroke-width="2.4" stroke-linejoin="round" stroke-linecap="round"/><path d="M1255.2 81.7c1.6 .4 6.8-.5 9.6 2.3s5.1 9.5 7.1 14.3s2.8 10.7 4.8 14.3s4.7 8.4 7.1 7.2s4.8-9.9 7.2-14.3s4.3-9.9 7.1-11.9s6.3-1.2 9.5 0s6.3 3.5 9.5 7.1s6.8 10.1 9.6 14.3s4.7 11.1 7.1 10.7s4.8-10.5 7.2-13.1s4.7-3.6 7.1-2.4s4.3 5.2 7.1 9.6s6.4 10.3 9.6 16.6s6.7 15.9 9.5 21.5s4.7 9.5 7.1 11.9s4.4 3.5 7.2 2.3s6.3-5.5 9.5-9.5s6.3-11.1 9.5-14.3s6.3-4.7 9.5-4.7s6.4 1.1 9.6 4.7s6.3 11.9 9.5 16.7s6.7 9.5 9.5 11.9s4.4 3.2 7.2 2.4s6.3-3.2 9.5-7.2s6.3-10.2 9.5-16.6s6.3-15.6 9.5-21.5s6.8-11.6 9.6-14.2s3.9-2.4 7.1-1.2s9.9 6.9 11.9 8.3" fill="none" stroke="#000" stroke-width="2.4" stroke-linejoin="round" stroke-linecap="round"/><path d="M1300.5 66.2c2 .8 7.5 3.6 11.9 4.8s9.5 1.5 14.3 2.3s10.3 1 14.3 2.4s6.3 2.6 9.5 6s6.3 10.3 9.5 14.3s6.3 8.1 9.5 9.5s6.3 .8 9.5-1.2s6.4-7.7 9.6-10.7s5.5-5.4 9.5-7.2s9.5-2.3 14.3-3.5s10.3-2.8 14.3-3.6s6.3-2.2 9.5-1.2s7.1 5.5 9.5 7.1s4 2 4.8 2.4" fill="none" stroke="#000" stroke-width="2.4" stroke-linejoin="round" stroke-linecap="round"/><path d="M1476.7 96c.8-1.6 1.9-6.8 4.7-9.6s8.3-6.3 11.9-7.1s6.8 1.6 9.6 2.4s5.9 1.9 7.1 2.3" fill="none" stroke="#000" stroke-width="2.4" stroke-linejoin="round" stroke-linecap="round"/><path d="M1250.5 55.5c2 .2 7.9 1.4 11.9 1.2s8.3-1.4 11.9-2.4s7.9-3 9.5-3.6" fill="none" stroke="#000" stroke-width="2.4" stroke-linejoin="round" stroke-linecap="round"/><path d="M1379 72.1c1.6-.6 6.4-3.1 9.6-3.5s6.3 1.6 9.5 1.2s7.9-3 9.5-3.6" fill="none" stroke="#000" stroke-width="2.4" stroke-linejoin="round" stroke-linecap="round"/><path d="M1467.1 57.9c2 .2 7.9 1.3 11.9 1.1s8-2.1 12-2.3s9.9 1 11.9 1.2" fill="none" stroke="#000" stroke-width="2.4" stroke-linejoin="round" stroke-linecap="round"/><path d="M189.7 367.7c4-.3 16.5-1.6 24.1-1.6s15.1 1.2 21.3 1.6s10.8 2.8 16.1 1s11.6-9.6 16-11.7s5.3-1.7 10.7-1.1s14.3 4.3 21.4 4.8s14.2-1 21.3-1.6s14.3-2.8 21.4-2.1s14.3 4.4 21.4 6.4s15.6 3.5 21.4 5.3s9 3.6 13.3 5.4s8.3 5.3 12.3 5.3s8.1-3.3 11.8-5.3s5.4-5 10.7-6.4s13.3-1.7 21.3-2.2s17.8-.6 26.7-1s17.9-.7 26.8-1.1s18.7-.4 26.7-1.1s15.2-3.4 21.4-3.2s9.8 3.9 16 4.3s14.3-1.5 21.4-2.2s14.2-2.8 21.3-2.1s16 4.8 21.4 6.4s6.7 2.8 10.7 3.2s8.9-1.9 13.4-1s9.3 5 13.3 6.4s6.2 3 10.7 2.1s11.5-5.7 16-7.5s5.4-2.8 10.7-3.2s14.3 2 21.4 1.1s15.2-5.2 21.4-6.4s10.6-2 16-1.1s10.8 4.8 16.1 6.4s10.5 5.3 16 3.2s10.7-12.3 17.1-16s14.3-4.6 21.4-6.4s15.5-3.4 21.3-4.3s8.9-1.6 13.4-1.1s9.4 1.8 13.4 3.8s7.5 5.1 10.6 8s3.6 7.8 8.1 9.6s12 2 18.7 1.1s14.2-4.6 21.3-6.4s13.4-3.6 21.4-4.3s18.7-1.1 26.7 0s15.2 4.1 21.4 6.4s10.7 6.8 16 7.5s11.2-1.1 16.1-3.2s8.8-8.9 13.3-9.6s8.5 3.4 13.4 5.3s10.7 3.9 16 6.4s9.9 5.8 16.1 8.6s14.2 6.1 21.3 8s14.3 2.4 21.4 3.7s14.3 2.9 21.4 4.3s14.3 3 21.4 4.3s14.2 3.4 21.3 3.7s14.3-1.6 21.4-1.6s14.3 0 21.4 1.6s14.7 6.5 21.4 8s12.5-.2 18.7 1.1s12 4.5 18.7 7s15.1 5.3 21.3 8s10.8 4.9 16.1 8s10.7 9.4 16 10.7s11.5-2.7 16-2.7s7.1 1.6 10.7 2.7s6.2 4 10.7 3.7s9.8-4.6 16-5.3s14.3 .3 21.4 1s15.2 2.1 21.4 3.2s10.6 3.2 16 3.2s11.2-1.6 16.1-3.2s11.1-5.3 13.3-6.4" fill="none" stroke="#000" stroke-width="2.4" stroke-linejoin="round" stroke-linecap="round"/><ellipse cx="803.5" cy="98" rx="3.5" ry="9.5" fill="none" stroke="#000" stroke-width="1.6"/><ellipse cx="1078.5" cy="120" rx="3" ry="10.5" fill="none" stroke="#000" stroke-width="1.6"/><path d="M273.6 32.2a9.4 17.6 0 1 0 18.8 0a9.4 17.6 0 1 0 -18.8 0M276.4 32.2a6.6 12.3 0 1 0 13.2 0a6.6 12.3 0 1 0 -13.2 0M279.3 32.2a3.7 6.9 0 1 0 7.4 0a3.7 6.9 0 1 0 -7.4 0M293.1 26.3a11.5 18.5 0 1 0 23 0a11.5 18.5 0 1 0 -23 0M295.8 26.3a8.8 14.2 0 1 0 17.6 0a8.8 14.2 0 1 0 -17.6 0M298.5 26.3a6.1 9.9 0 1 0 12.2 0a6.1 9.9 0 1 0 -12.2 0M301.1 26.3a3.5 5.6 0 1 0 7 0a3.5 5.6 0 1 0 -7 0M313.9 27.6a14 16.6 0 1 0 28 0a14 16.6 0 1 0 -28 0M317.2 27.6a10.7 12.7 0 1 0 21.4 0a10.7 12.7 0 1 0 -21.4 0M320.4 27.6a7.5 8.9 0 1 0 15 0a7.5 8.9 0 1 0 -15 0M323.7 27.6a4.2 5 0 1 0 8.4 0a4.2 5 0 1 0 -8.4 0M353.1 30.7a9.4 12.1 0 1 0 18.8 0a9.4 12.1 0 1 0 -18.8 0M355.3 30.7a7.2 9.3 0 1 0 14.4 0a7.2 9.3 0 1 0 -14.4 0M357.5 30.7a5 6.5 0 1 0 10 0a5 6.5 0 1 0 -10 0M359.7 30.7a2.8 3.7 0 1 0 5.6 0a2.8 3.7 0 1 0 -5.6 0M377.6 26.7a8.4 20.6 0 1 0 16.8 0a8.4 20.6 0 1 0 -16.8 0M381.3 26.7a4.7 11.7 0 1 0 9.4 0a4.7 11.7 0 1 0 -9.4 0M387.8 30.4a13.2 16.6 0 1 0 26.4 0a13.2 16.6 0 1 0 -26.4 0M390.9 30.4a10.1 12.8 0 1 0 20.2 0a10.1 12.8 0 1 0 -20.2 0M393.9 30.4a7.1 8.9 0 1 0 14.2 0a7.1 8.9 0 1 0 -14.2 0M397 30.4a4 5 0 1 0 8 0a4 5 0 1 0 -8 0M424.2 32.7a10.4 21.2 0 1 0 20.8 0a10.4 21.2 0 1 0 -20.8 0M426.6 32.7a8 16.3 0 1 0 16 0a8 16.3 0 1 0 -16 0M429.1 32.7a5.5 11.3 0 1 0 11 0a5.5 11.3 0 1 0 -11 0M431.5 32.7a3.1 6.4 0 1 0 6.2 0a3.1 6.4 0 1 0 -6.2 0M444.5 26a10.2 10.5 0 1 0 20.4 0a10.2 10.5 0 1 0 -20.4 0M446.9 26a7.8 8.1 0 1 0 15.6 0a7.8 8.1 0 1 0 -15.6 0M449.2 26a5.5 5.6 0 1 0 11 0a5.5 5.6 0 1 0 -11 0M451.6 26a3.1 3.2 0 1 0 6.2 0a3.1 3.2 0 1 0 -6.2 0M472.2 27.8a10.6 18.8 0 1 0 21.2 0a10.6 18.8 0 1 0 -21.2 0M475.4 27.8a7.4 13.1 0 1 0 14.8 0a7.4 13.1 0 1 0 -14.8 0M478.6 27.8a4.2 7.4 0 1 0 8.4 0a4.2 7.4 0 1 0 -8.4 0M498.9 29.3a11.4 17.5 0 1 0 22.8 0a11.4 17.5 0 1 0 -22.8 0M501.5 29.3a8.8 13.4 0 1 0 17.6 0a8.8 13.4 0 1 0 -17.6 0M504.2 29.3a6.1 9.3 0 1 0 12.2 0a6.1 9.3 0 1 0 -12.2 0M506.8 29.3a3.5 5.3 0 1 0 7 0a3.5 5.3 0 1 0 -7 0M528.2 32.9a12.1 23 0 1 0 24.2 0a12.1 23 0 1 0 -24.2 0M531.9 32.9a8.4 16 0 1 0 16.8 0a8.4 16 0 1 0 -16.8 0M535.5 32.9a4.8 9.1 0 1 0 9.6 0a4.8 9.1 0 1 0 -9.6 0M560.2 30.4a9 22 0 1 0 18 0a9 22 0 1 0 -18 0M564.1 30.4a5.1 12.5 0 1 0 10.2 0a5.1 12.5 0 1 0 -10.2 0M574.2 25.1a13 18 0 1 0 26 0a13 18 0 1 0 -26 0M578.1 25.1a9.1 12.6 0 1 0 18.2 0a9.1 12.6 0 1 0 -18.2 0M582.1 25.1a5.1 7.1 0 1 0 10.2 0a5.1 7.1 0 1 0 -10.2 0M604.2 31.2a11.8 16.8 0 1 0 23.6 0a11.8 16.8 0 1 0 -23.6 0M607.8 31.2a8.2 11.7 0 1 0 16.4 0a8.2 11.7 0 1 0 -16.4 0M611.3 31.2a4.7 6.6 0 1 0 9.4 0a4.7 6.6 0 1 0 -9.4 0M632.9 31.9a8.9 14.1 0 1 0 17.8 0a8.9 14.1 0 1 0 -17.8 0M635 31.9a6.8 10.8 0 1 0 13.6 0a6.8 10.8 0 1 0 -13.6 0M637 31.9a4.8 7.5 0 1 0 9.6 0a4.8 7.5 0 1 0 -9.6 0M639.1 31.9a2.7 4.3 0 1 0 5.4 0a2.7 4.3 0 1 0 -5.4 0M646.3 29a11.7 10.6 0 1 0 23.4 0a11.7 10.6 0 1 0 -23.4 0M649.9 29a8.1 7.4 0 1 0 16.2 0a8.1 7.4 0 1 0 -16.2 0M653.4 29a4.6 4.2 0 1 0 9.2 0a4.6 4.2 0 1 0 -9.2 0M678.9 26.8a9.7 13.3 0 1 0 19.4 0a9.7 13.3 0 1 0 -19.4 0M683.1 26.8a5.5 7.5 0 1 0 11 0a5.5 7.5 0 1 0 -11 0M695.2 32.7a11.6 10.4 0 1 0 23.2 0a11.6 10.4 0 1 0 -23.2 0M698.7 32.7a8.1 7.3 0 1 0 16.2 0a8.1 7.3 0 1 0 -16.2 0M702.2 32.7a4.6 4.1 0 1 0 9.2 0a4.6 4.1 0 1 0 -9.2 0M721.3 26.8a9.6 19.7 0 1 0 19.2 0a9.6 19.7 0 1 0 -19.2 0M724.2 26.8a6.7 13.7 0 1 0 13.4 0a6.7 13.7 0 1 0 -13.4 0M727.1 26.8a3.8 7.7 0 1 0 7.6 0a3.8 7.7 0 1 0 -7.6 0M744.2 31.8a13.4 15.3 0 1 0 26.8 0a13.4 15.3 0 1 0 -26.8 0M747.3 31.8a10.3 11.7 0 1 0 20.6 0a10.3 11.7 0 1 0 -20.6 0M750.4 31.8a7.2 8.2 0 1 0 14.4 0a7.2 8.2 0 1 0 -14.4 0M753.6 31.8a4 4.6 0 1 0 8 0a4 4.6 0 1 0 -8 0M773 29.6a13.2 19.5 0 1 0 26.4 0a13.2 19.5 0 1 0 -26.4 0M778.7 29.6a7.5 11 0 1 0 15 0a7.5 11 0 1 0 -15 0M809 32.4a11 16 0 1 0 22 0a11 16 0 1 0 -22 0M812.3 32.4a7.7 11.2 0 1 0 15.4 0a7.7 11.2 0 1 0 -15.4 0M815.7 32.4a4.3 6.3 0 1 0 8.6 0a4.3 6.3 0 1 0 -8.6 0M835 24.1a9.5 14.2 0 1 0 19 0a9.5 14.2 0 1 0 -19 0M837.8 24.1a6.7 9.9 0 1 0 13.4 0a6.7 9.9 0 1 0 -13.4 0M840.7 24.1a3.8 5.6 0 1 0 7.6 0a3.8 5.6 0 1 0 -7.6 0M854.3 24.5a11.5 10.3 0 1 0 23 0a11.5 10.3 0 1 0 -23 0M857.8 24.5a8 7.2 0 1 0 16 0a8 7.2 0 1 0 -16 0M861.3 24.5a4.5 4 0 1 0 9 0a4.5 4 0 1 0 -9 0M882.2 29.5a10.8 19.5 0 1 0 21.6 0a10.8 19.5 0 1 0 -21.6 0M885.5 29.5a7.5 13.6 0 1 0 15 0a7.5 13.6 0 1 0 -15 0M888.7 29.5a4.3 7.7 0 1 0 8.6 0a4.3 7.7 0 1 0 -8.6 0M904.5 32.7a10.9 18.3 0 1 0 21.8 0a10.9 18.3 0 1 0 -21.8 0M909.2 32.7a6.2 10.3 0 1 0 12.4 0a6.2 10.3 0 1 0 -12.4 0M927.1 25.6a10.7 18.3 0 1 0 21.4 0a10.7 18.3 0 1 0 -21.4 0M930.3 25.6a7.5 12.8 0 1 0 15 0a7.5 12.8 0 1 0 -15 0M933.6 25.6a4.2 7.2 0 1 0 8.4 0a4.2 7.2 0 1 0 -8.4 0M946.6 26.7a12.5 21.8 0 1 0 25 0a12.5 21.8 0 1 0 -25 0M950.4 26.7a8.7 15.2 0 1 0 17.4 0a8.7 15.2 0 1 0 -17.4 0M954.2 26.7a4.9 8.6 0 1 0 9.8 0a4.9 8.6 0 1 0 -9.8 0M973.4 26.8a12.6 10.4 0 1 0 25.2 0a12.6 10.4 0 1 0 -25.2 0M977.2 26.8a8.8 7.2 0 1 0 17.6 0a8.8 7.2 0 1 0 -17.6 0M981 26.8a5 4.1 0 1 0 10 0a5 4.1 0 1 0 -10 0M998.7 30.1a12.8 13.3 0 1 0 25.6 0a12.8 13.3 0 1 0 -25.6 0M1002.6 30.1a8.9 9.3 0 1 0 17.8 0a8.9 9.3 0 1 0 -17.8 0M1006.4 30.1a5.1 5.3 0 1 0 10.2 0a5.1 5.3 0 1 0 -10.2 0M1033 30.1a8.6 18.4 0 1 0 17.2 0a8.6 18.4 0 1 0 -17.2 0M1035.6 30.1a6 12.8 0 1 0 12 0a6 12.8 0 1 0 -12 0M1038.2 30.1a3.4 7.3 0 1 0 6.8 0a3.4 7.3 0 1 0 -6.8 0M1046.1 27a12.9 23.4 0 1 0 25.8 0a12.9 23.4 0 1 0 -25.8 0M1051.7 27a7.3 13.3 0 1 0 14.6 0a7.3 13.3 0 1 0 -14.6 0M1075.9 31.1a13.3 16.3 0 1 0 26.6 0a13.3 16.3 0 1 0 -26.6 0M1079.9 31.1a9.3 11.4 0 1 0 18.6 0a9.3 11.4 0 1 0 -18.6 0M1084 31.1a5.2 6.4 0 1 0 10.4 0a5.2 6.4 0 1 0 -10.4 0M1100.5 31.8a13.7 14.4 0 1 0 27.4 0a13.7 14.4 0 1 0 -27.4 0M1104.6 31.8a9.6 10 0 1 0 19.2 0a9.6 10 0 1 0 -19.2 0M1108.8 31.8a5.4 5.7 0 1 0 10.8 0a5.4 5.7 0 1 0 -10.8 0M1130.1 29.3a13 11.2 0 1 0 26 0a13 11.2 0 1 0 -26 0M1134.1 29.3a9 7.8 0 1 0 18 0a9 7.8 0 1 0 -18 0M1138 29.3a5.1 4.4 0 1 0 10.2 0a5.1 4.4 0 1 0 -10.2 0M1160.1 27.1a11.1 21.9 0 1 0 22.2 0a11.1 21.9 0 1 0 -22.2 0M1162.7 27.1a8.5 16.8 0 1 0 17 0a8.5 16.8 0 1 0 -17 0M1165.3 27.1a5.9 11.7 0 1 0 11.8 0a5.9 11.7 0 1 0 -11.8 0M1167.8 27.1a3.4 6.6 0 1 0 6.8 0a3.4 6.6 0 1 0 -6.8 0M1185.1 25.4a10.5 15.7 0 1 0 21 0a10.5 15.7 0 1 0 -21 0M1187.5 25.4a8.1 12.1 0 1 0 16.2 0a8.1 12.1 0 1 0 -16.2 0M1190 25.4a5.6 8.4 0 1 0 11.2 0a5.6 8.4 0 1 0 -11.2 0M1192.4 25.4a3.2 4.8 0 1 0 6.4 0a3.2 4.8 0 1 0 -6.4 0M1201 29a13.7 22.3 0 1 0 27.4 0a13.7 22.3 0 1 0 -27.4 0M1204.2 29a10.5 17.1 0 1 0 21 0a10.5 17.1 0 1 0 -21 0M1207.4 29a7.3 11.9 0 1 0 14.6 0a7.3 11.9 0 1 0 -14.6 0M1210.6 29a4.1 6.7 0 1 0 8.2 0a4.1 6.7 0 1 0 -8.2 0M1237.6 31.5a12.3 10.5 0 1 0 24.6 0a12.3 10.5 0 1 0 -24.6 0M1240.5 31.5a9.4 8 0 1 0 18.8 0a9.4 8 0 1 0 -18.8 0M1243.3 31.5a6.6 5.6 0 1 0 13.2 0a6.6 5.6 0 1 0 -13.2 0M1246.2 31.5a3.7 3.2 0 1 0 7.4 0a3.7 3.2 0 1 0 -7.4 0M1268 32a11.1 14 0 1 0 22.2 0a11.1 14 0 1 0 -22.2 0M1271.4 32a7.7 9.8 0 1 0 15.4 0a7.7 9.8 0 1 0 -15.4 0M1274.7 32a4.4 5.5 0 1 0 8.8 0a4.4 5.5 0 1 0 -8.8 0M1294.8 31.3a13.1 23.6 0 1 0 26.2 0a13.1 23.6 0 1 0 -26.2 0M1300.5 31.3a7.4 13.3 0 1 0 14.8 0a7.4 13.3 0 1 0 -14.8 0M1319.3 32.1a13.4 19.7 0 1 0 26.8 0a13.4 19.7 0 1 0 -26.8 0M1323.3 32.1a9.4 13.7 0 1 0 18.8 0a9.4 13.7 0 1 0 -18.8 0M1327.4 32.1a5.3 7.8 0 1 0 10.6 0a5.3 7.8 0 1 0 -10.6 0M1355 25.5a11.5 10.2 0 1 0 23 0a11.5 10.2 0 1 0 -23 0M1360 25.5a6.5 5.8 0 1 0 13 0a6.5 5.8 0 1 0 -13 0M1378.5 24.5a12 17.3 0 1 0 24 0a12 17.3 0 1 0 -24 0M1381.3 24.5a9.2 13.3 0 1 0 18.4 0a9.2 13.3 0 1 0 -18.4 0M1384.1 24.5a6.4 9.3 0 1 0 12.8 0a6.4 9.3 0 1 0 -12.8 0M1386.9 24.5a3.6 5.2 0 1 0 7.2 0a3.6 5.2 0 1 0 -7.2 0M1412.8 31.3a8.7 11.8 0 1 0 17.4 0a8.7 11.8 0 1 0 -17.4 0M1414.8 31.3a6.7 9 0 1 0 13.4 0a6.7 9 0 1 0 -13.4 0M1416.9 31.3a4.6 6.3 0 1 0 9.2 0a4.6 6.3 0 1 0 -9.2 0M1418.9 31.3a2.6 3.6 0 1 0 5.2 0a2.6 3.6 0 1 0 -5.2 0M1428.2 25.5a9.3 11.7 0 1 0 18.6 0a9.3 11.7 0 1 0 -18.6 0M1432.2 25.5a5.3 6.6 0 1 0 10.6 0a5.3 6.6 0 1 0 -10.6 0M1448.6 28.4a13.5 21.3 0 1 0 27 0a13.5 21.3 0 1 0 -27 0M1454.5 28.4a7.6 12 0 1 0 15.2 0a7.6 12 0 1 0 -15.2 0M1482.5 26.4a10.4 20.6 0 1 0 20.8 0a10.4 20.6 0 1 0 -20.8 0M1485.7 26.4a7.2 14.4 0 1 0 14.4 0a7.2 14.4 0 1 0 -14.4 0M1488.8 26.4a4.1 8.1 0 1 0 8.2 0a4.1 8.1 0 1 0 -8.2 0" fill="none" stroke="#000" stroke-width="1.5"/><path d="M198.6 78.1c1.6 .4 6.3 1 9.5 2.4s5.5 3.5 9.5 5.9s9.9 6.3 14.3 8.4s8.7 3.4 11.9 4s4.8 1 7.2-.5s4.7-4.7 7.1-8.3s4.7-9.1 7.1-13.1s4.8-7.5 7.2-10.7s4.3-6.6 7.1-8.3s6.7-.5 9.5-1.9s4.8-3.6 7.2-6.5s4.7-8.1 7.1-10.7s4.4-3.7 7.2-4.8s5.9-1.7 9.5-1.9s8.3-.1 11.9 .8s6.7 2.7 9.5 4.7s4.8 5.8 7.2 7.2s4.7 1.6 7.1 1.2s4.8-3 7.2-3.6s4.7-1 7.1 0s4.5 3.4 7.1 5.9s5.8 8.7 8.4 9.1s4.7-4.2 7.1-6.7s4.6-6.8 7.2-8.3s5.7-1.3 8.3-.7s4.7 2.3 7.1 4.3s4.8 5.3 7.2 7.6s4.7 6.1 7.1 6.2s4.8-2.8 7.2-5.5s4.7-8.3 7.1-10.7s4.8-3.6 7.2-3.6s4.3 1.4 7.1 3.6s6.3 8.4 9.5 9.5s6.3-1.4 9.5-2.9s6.4-5.5 9.6-6.2s6.9-.7 9.5 2s4.6 9.9 6.2 14.2s2 7.5 3.6 11.9s3.7 10.3 5.9 14.3s4.7 7.6 7.1 9.6s4.8 3.1 7.2 2.3s4.9-2.7 7.1-7.1s4.2-13.4 6-19.1s2.9-12.6 4.7-15.4s3.8-3 6-1.2s4.5 7 7.1 11.9s6 16.6 8.4 17.8s3.7-5.8 5.9-10.7s4.8-14.6 7.2-19s4.7-6 7.1-7.2s5-1.6 7.2 0s4.1 4 5.9 9.6s3 14.9 4.8 23.8s4.1 27.7 5.9 29.7s3.2-9.7 4.8-17.8s3.1-22.7 4.7-31s3-15.6 4.8-19s3.6-3.2 6-1.2s5.7 7.4 8.3 13.1s4.7 14.3 7.1 21.4s4.8 16.2 7.2 21.4s4.9 10 7.1 9.6s4-5.9 6-11.9s3.9-17.2 5.9-23.9s3.8-13 6-16.6s4.5-5 7.1-4.8s5.6 4.2 8.4 6s5.5 5.3 8.3 4.7s5.7-5.5 8.3-8.3s4.8-6.9 7.2-8.3s4.5-1.6 7.1 0s5.5 6.3 8.3 9.5s5.8 7.1 8.4 9.5s4.3 5.2 7.1 4.8s6.3-4.2 9.5-7.2s6.8-8.9 9.6-10.7s4.7-1.8 7.1 0s4.8 6.3 7.2 10.7s4.9 11.5 7.1 15.5s3.9 10.3 5.9 8.3s4-13.7 6-20.2s4-16.2 6-19s3.3-.1 5.9 2.3s6.3 8.9 9.5 11.9s7.2 3 9.8 6s3.7 12.5 5.9 11.9s4.8-11.7 7.2-15.5s4.3-7.1 7.1-7.1s6.4 3.5 9.6 7.1s6.7 9.1 9.5 14.3s4.9 11.7 7.1 16.7s4 12.7 6 13.1s3.7-4.9 5.9-10.7s5-15.6 7.2-23.9s3.9-20.1 5.9-26.1s3.8-8.6 6-9.6s4.7 0 7.1 3.6s4.8 12.9 7.2 17.9s4.3 10.7 7.1 11.9s6.7-2 9.5-4.8s5.2-8.7 7.2-11.9s2.9-7.5 4.7-7.1s3.6 4 6 9.5s5.7 16.5 8.3 23.8s4.8 17.8 7.2 20.2s4.7-.6 7.1-5.9s4.9-17.9 7.1-26.2s4-18.8 6-23.8s3.3-5.6 5.9-6s6.8 2.2 9.6 3.6s4.3 4.8 7.1 4.8s6.3-2.8 9.5-4.8s7-5.8 9.6-7.2s3.9-2.3 5.9-1.1s3.8 3.4 6 8.3s4.5 14.3 7.1 21.4s5.9 19.4 8.3 21.4s3.8-5.5 6-9.5s4.7-9.9 7.1-14.3s5-9.3 7.2-11.9s3.9-5.5 5.9-3.5s4.2 7.3 6 15.4s3.1 21.9 4.7 33.4s3.4 27.6 4.8 35.7s2.2 13.5 3.6 13.1s2.9-7 4.7-15.5s3.8-25 6-35.7s4.7-22.5 7.1-28.6s4.8-7.5 7.2-8.3s4.3 1 7.1 3.6s6.7 9.1 9.5 11.9s4.8 4.5 7.2 4.7s5.2-2.9 7.4-3.5s3.3-1.8 5.9 0s5.9 6.5 9.5 10.7s8.6 10.9 12 14.3s5.5 6.7 8.3 5.9s5.7-5.7 8.3-10.7s4.8-14.3 7.2-19.1s4.7-9.1 7.1-9.5s4.7 3.6 7.1 7.2s4.6 10.4 7.2 14.2s5.9 8.4 8.3 8.4s3.8-4 6-8.4s4.7-13.2 7.1-17.8s4.8-9.3 7.2-9.5s4.7 4.1 7.1 8.3s4.7 12.5 7.1 16.7s5 8.3 7.2 8.3s3.9-3.3 5.9-8.3s3.8-15.9 6-21.5s4.7-9.7 7.1-11.9s4.8-2.4 7.2-1.2s4.7 5 7.1 8.4s4.8 8.7 7.2 11.9s4.7 7.1 7.1 7.1s4.4-3.7 7.2-7.1s6.5-10.1 9.5-13.1s5.9-5 8.3-4.8s3.8 2.6 6 6s4.7 10.1 7.1 14.3s4.3 9.7 7.1 10.7s6.4-1.4 9.6-4.8s6.7-11.9 9.5-15.5s4.7-6.3 7.1-5.9s4.4 4.7 7.2 8.3s5.9 9.7 9.5 13.1s8.7 7.2 11.9 7.2s4.8-4.4 7.2-7.2s4.3-8.7 7.1-9.5s6.3 2.8 9.5 4.8s6.3 5.7 9.5 7.1s6.8 2.2 9.6 1.2s4.3-3.6 7.1-7.2s6.3-12.4 9.5-14.2s6.8 2.1 9.6 3.5s5.9 4 7.1 4.8" fill="none" stroke="#f4c73e" stroke-width="2.4" stroke-linejoin="round" stroke-linecap="round"/><line x1="181" y1="210.6" x2="1510" y2="210.6" stroke="#e4e4e4" stroke-width="5.2" stroke-dasharray="24 18.3" opacity="0.88"/><line x1="181" y1="371" x2="1512" y2="371" stroke="#e4e4e4" stroke-width="4.8" stroke-dasharray="5.2 6.8" opacity="0.88"/><text transform="translate(334 136) rotate(-5) scale(0.85 1)" font-size="24" text-anchor="start" fill="#000" font-style="italic">-0.5</text><text transform="translate(258 66) rotate(-40) scale(0.85 1)" font-size="22" text-anchor="start" fill="#000" font-style="italic">0</text><text transform="translate(310 60) rotate(0) scale(0.85 1)" font-size="24" text-anchor="start" fill="#000" font-style="italic">2.5</text><text transform="translate(355 60) rotate(0) scale(0.85 1)" font-size="22" text-anchor="start" fill="#000" font-style="italic">1.5</text><text transform="translate(395 60) rotate(0) scale(0.85 1)" font-size="22" text-anchor="start" fill="#000" font-style="italic">1.5</text><text transform="translate(446 52) rotate(0) scale(0.85 1)" font-size="24" text-anchor="start" fill="#000" font-style="italic">3</text><text transform="translate(468 44) rotate(0) scale(0.85 1)" font-size="24" text-anchor="start" fill="#000" font-style="italic">3</text><text transform="translate(491 222) rotate(15) scale(0.85 1)" font-size="26" text-anchor="start" fill="#000" font-style="italic">0</text><text transform="translate(605 122) rotate(-25) scale(0.85 1)" font-size="26" text-anchor="start" fill="#000" font-style="italic">1.5</text><text transform="translate(656 137) rotate(60) scale(0.85 1)" font-size="25" text-anchor="start" fill="#000" font-style="italic">-0.5</text><text transform="translate(789 151) rotate(60) scale(0.85 1)" font-size="25" text-anchor="start" fill="#000" font-style="italic">-0.5</text><text transform="translate(990 213) rotate(15) scale(0.85 1)" font-size="24" text-anchor="start" fill="#000" font-style="italic">0</text><text transform="translate(552 60) rotate(0) scale(0.85 1)" font-size="22" text-anchor="start" fill="#000" font-style="italic">1.5</text><text transform="translate(636 60) rotate(0) scale(0.85 1)" font-size="22" text-anchor="start" fill="#000" font-style="italic">1.5</text><text transform="translate(895 58) rotate(0) scale(0.85 1)" font-size="24" text-anchor="start" fill="#000" font-style="italic">1.5</text><text transform="translate(936 58) rotate(0) scale(0.85 1)" font-size="24" text-anchor="start" fill="#000" font-style="italic">1.5</text><text transform="translate(1040 56) rotate(0) scale(0.85 1)" font-size="24" text-anchor="start" fill="#000" font-style="italic">3</text><text transform="translate(1085 66) rotate(0) scale(0.85 1)" font-size="24" text-anchor="start" fill="#000" font-style="italic">1.5</text><text transform="translate(1150 84) rotate(0) scale(0.85 1)" font-size="24" text-anchor="start" fill="#000" font-style="italic">1.5</text><text transform="translate(947 168) rotate(58) scale(0.85 1)" font-size="25" text-anchor="start" fill="#000" font-style="italic">-0.5</text><text transform="translate(1228 218) rotate(20) scale(0.85 1)" font-size="26" text-anchor="start" fill="#000" font-style="italic">0</text><text transform="translate(1440 102) rotate(20) scale(0.85 1)" font-size="24" text-anchor="start" fill="#000" font-style="italic">0.5</text><text transform="translate(1222 60) rotate(0) scale(0.85 1)" font-size="24" text-anchor="start" fill="#000" font-style="italic">1.5</text><text transform="translate(1160 72) rotate(0) scale(0.85 1)" font-size="22" text-anchor="start" fill="#000" font-style="italic">5</text><text transform="translate(1310 62) rotate(0) scale(0.85 1)" font-size="22" text-anchor="start" fill="#000" font-style="italic">1.5</text><text transform="translate(1385 52) rotate(20) scale(0.85 1)" font-size="22" text-anchor="start" fill="#000" font-style="italic">2.5</text><text transform="translate(291 171.5) scale(0.822 1)" font-size="50.5" text-anchor="start" fill="#000">Subsurface</text><text transform="translate(264 316.5) scale(0.82 1)" font-size="50" text-anchor="start" fill="#000">Intermediated</text><text transform="translate(311.5 502.5) scale(0.83 1)" font-size="49" text-anchor="start" fill="#000">Deep</text><text transform="translate(196 555) scale(0.94 1)" font-size="66" text-anchor="start" fill="#000">A</text><text transform="translate(1147.5 560) scale(0.856 1)" font-size="55.5" text-anchor="start" fill="#000" font-weight="bold">Temperature</text>
</g>
<line x1="110.5" y1="23.5" x2="110.5" y2="597" stroke="#000" stroke-width="6.5"/><line x1="110.5" y1="25" x2="1512" y2="25" stroke="#000" stroke-width="3"/><line x1="1510.5" y1="25" x2="1510.5" y2="596" stroke="#000" stroke-width="3"/><line x1="110.5" y1="594.5" x2="1512" y2="594.5" stroke="#000" stroke-width="3"/><line x1="107.2" y1="594.5" x2="181" y2="594.5" stroke="#000" stroke-width="5.5"/><line x1="94.5" y1="25" x2="110.5" y2="25" stroke="#000" stroke-width="1.3"/><line x1="94.5" y1="176.7" x2="110.5" y2="176.7" stroke="#000" stroke-width="1.3"/><line x1="94.5" y1="309.5" x2="110.5" y2="309.5" stroke="#000" stroke-width="1.3"/><line x1="94.5" y1="414.7" x2="110.5" y2="414.7" stroke="#000" stroke-width="1.3"/><line x1="94.5" y1="488" x2="110.5" y2="488" stroke="#000" stroke-width="1.3"/><line x1="94.5" y1="537" x2="110.5" y2="537" stroke="#000" stroke-width="1.3"/><line x1="94.5" y1="568" x2="110.5" y2="568" stroke="#000" stroke-width="1.3"/><line x1="94.5" y1="587" x2="110.5" y2="587" stroke="#000" stroke-width="1.3"/><line x1="99.5" y1="86.5" x2="110.5" y2="86.5" stroke="#000" stroke-width="1.1" opacity="0.8"/><line x1="99.5" y1="146.8" x2="110.5" y2="146.8" stroke="#000" stroke-width="1.1" opacity="0.8"/><line x1="99.5" y1="205" x2="110.5" y2="205" stroke="#000" stroke-width="1.1" opacity="0.8"/><line x1="99.5" y1="260.6" x2="110.5" y2="260.6" stroke="#000" stroke-width="1.1" opacity="0.8"/><line x1="99.5" y1="356.5" x2="110.5" y2="356.5" stroke="#000" stroke-width="1.1" opacity="0.8"/><line x1="99.5" y1="395.3" x2="110.5" y2="395.3" stroke="#000" stroke-width="1.1" opacity="0.8"/><line x1="99.5" y1="431.3" x2="110.5" y2="431.3" stroke="#000" stroke-width="1.1" opacity="0.8"/><line x1="99.5" y1="461.5" x2="110.5" y2="461.5" stroke="#000" stroke-width="1.1" opacity="0.8"/><line x1="99.5" y1="510" x2="110.5" y2="510" stroke="#000" stroke-width="1.1" opacity="0.8"/><line x1="99.5" y1="528.4" x2="110.5" y2="528.4" stroke="#000" stroke-width="1.1" opacity="0.8"/><line x1="99.5" y1="543.8" x2="110.5" y2="543.8" stroke="#000" stroke-width="1.1" opacity="0.8"/><line x1="99.5" y1="557" x2="110.5" y2="557" stroke="#000" stroke-width="1.1" opacity="0.8"/><line x1="99.5" y1="577.4" x2="110.5" y2="577.4" stroke="#000" stroke-width="1.1" opacity="0.8"/><line x1="99.5" y1="584" x2="110.5" y2="584" stroke="#000" stroke-width="1.1" opacity="0.8"/><line x1="198.8" y1="594.5" x2="198.8" y2="603.5" stroke="#000" stroke-width="1.2"/><line x1="311.8" y1="594.5" x2="311.8" y2="600.5" stroke="#000" stroke-width="1.2" opacity="0.45"/><line x1="424.8" y1="594.5" x2="424.8" y2="603.5" stroke="#000" stroke-width="1.2"/><line x1="537.8" y1="594.5" x2="537.8" y2="600.5" stroke="#000" stroke-width="1.2" opacity="0.45"/><line x1="650.8" y1="594.5" x2="650.8" y2="603.5" stroke="#000" stroke-width="1.2"/><line x1="763.8" y1="594.5" x2="763.8" y2="600.5" stroke="#000" stroke-width="1.2" opacity="0.45"/><line x1="876.8" y1="594.5" x2="876.8" y2="603.5" stroke="#000" stroke-width="1.2"/><line x1="989.8" y1="594.5" x2="989.8" y2="600.5" stroke="#000" stroke-width="1.2" opacity="0.45"/><line x1="1102.8" y1="594.5" x2="1102.8" y2="603.5" stroke="#000" stroke-width="1.2"/><line x1="1215.8" y1="594.5" x2="1215.8" y2="600.5" stroke="#000" stroke-width="1.2" opacity="0.45"/><line x1="1328.8" y1="594.5" x2="1328.8" y2="603.5" stroke="#000" stroke-width="1.2"/><line x1="1441.8" y1="594.5" x2="1441.8" y2="600.5" stroke="#000" stroke-width="1.2" opacity="0.45"/>
<text transform="translate(79.5 38.1) scale(0.84 1)" font-size="35" text-anchor="end" fill="#000" font-style="italic">0</text><text transform="translate(79.5 189.8) scale(0.84 1)" font-size="39" text-anchor="end" fill="#000" font-style="italic">250</text><text transform="translate(79.5 323.8) scale(0.84 1)" font-size="39" text-anchor="end" fill="#000" font-style="italic">500</text><text transform="translate(79.5 425.8) scale(0.84 1)" font-size="39" text-anchor="end" fill="#000" font-style="italic">750</text><text transform="translate(79.5 501.8) scale(0.84 1)" font-size="39" text-anchor="end" fill="#000" font-style="italic">1000</text><text transform="translate(79.5 548.8) scale(0.84 1)" font-size="39" text-anchor="end" fill="#000" font-style="italic">1250</text><text transform="translate(79.5 598.8) scale(0.84 1)" font-size="39" text-anchor="end" fill="#000" font-style="italic">1750</text><text transform="translate(197.3 664) scale(0.82 1)" font-size="39" text-anchor="middle" fill="#000" font-style="italic">1985</text><text transform="translate(423.3 664) scale(0.82 1)" font-size="39" text-anchor="middle" fill="#000" font-style="italic">1990</text><text transform="translate(649.3 664) scale(0.82 1)" font-size="39" text-anchor="middle" fill="#000" font-style="italic">1995</text><text transform="translate(875.3 664) scale(0.82 1)" font-size="39" text-anchor="middle" fill="#000" font-style="italic">2000</text><text transform="translate(1101.3 664) scale(0.82 1)" font-size="39" text-anchor="middle" fill="#000" font-style="italic">2005</text><text transform="translate(1327.3 664) scale(0.82 1)" font-size="39" text-anchor="middle" fill="#000" font-style="italic">2010</text>
<g clip-path="url(#clipB)">
<g filter="url(#fbb)"><rect x="98.5" y="681.5" width="11.6" height="545" fill="url(#b0)"/><rect x="109.5" y="681.5" width="11.6" height="545" fill="url(#b1)"/><rect x="120.5" y="681.5" width="11.6" height="545" fill="url(#b2)"/><rect x="131.5" y="681.5" width="11.6" height="545" fill="url(#b3)"/><rect x="142.5" y="681.5" width="11.6" height="545" fill="url(#b4)"/><rect x="153.5" y="681.5" width="11.6" height="545" fill="url(#b5)"/><rect x="164.5" y="681.5" width="11.6" height="545" fill="url(#b6)"/><rect x="175.5" y="681.5" width="11.6" height="545" fill="url(#b7)"/><rect x="186.5" y="681.5" width="11.6" height="545" fill="url(#b8)"/><rect x="197.5" y="681.5" width="11.6" height="545" fill="url(#b9)"/><rect x="208.5" y="681.5" width="11.6" height="545" fill="url(#b10)"/><rect x="219.5" y="681.5" width="11.6" height="545" fill="url(#b11)"/><rect x="230.5" y="681.5" width="11.6" height="545" fill="url(#b12)"/><rect x="241.5" y="681.5" width="11.6" height="545" fill="url(#b13)"/><rect x="252.5" y="681.5" width="11.6" height="545" fill="url(#b14)"/><rect x="263.5" y="681.5" width="11.6" height="545" fill="url(#b15)"/><rect x="274.5" y="681.5" width="11.6" height="545" fill="url(#b16)"/><rect x="285.5" y="681.5" width="11.6" height="545" fill="url(#b17)"/><rect x="296.5" y="681.5" width="11.6" height="545" fill="url(#b18)"/><rect x="307.5" y="681.5" width="11.6" height="545" fill="url(#b19)"/><rect x="318.5" y="681.5" width="11.6" height="545" fill="url(#b20)"/><rect x="329.5" y="681.5" width="11.6" height="545" fill="url(#b21)"/><rect x="340.5" y="681.5" width="11.6" height="545" fill="url(#b22)"/><rect x="351.5" y="681.5" width="11.6" height="545" fill="url(#b23)"/><rect x="362.5" y="681.5" width="11.6" height="545" fill="url(#b24)"/><rect x="373.5" y="681.5" width="11.6" height="545" fill="url(#b25)"/><rect x="384.5" y="681.5" width="11.6" height="545" fill="url(#b26)"/><rect x="395.5" y="681.5" width="11.6" height="545" fill="url(#b27)"/><rect x="406.5" y="681.5" width="11.6" height="545" fill="url(#b28)"/><rect x="417.5" y="681.5" width="11.6" height="545" fill="url(#b29)"/><rect x="428.5" y="681.5" width="11.6" height="545" fill="url(#b30)"/><rect x="439.5" y="681.5" width="11.6" height="545" fill="url(#b31)"/><rect x="450.5" y="681.5" width="11.6" height="545" fill="url(#b32)"/><rect x="461.5" y="681.5" width="11.6" height="545" fill="url(#b33)"/><rect x="472.5" y="681.5" width="11.6" height="545" fill="url(#b34)"/><rect x="483.5" y="681.5" width="11.6" height="545" fill="url(#b35)"/><rect x="494.5" y="681.5" width="11.6" height="545" fill="url(#b36)"/><rect x="505.5" y="681.5" width="11.6" height="545" fill="url(#b37)"/><rect x="516.5" y="681.5" width="11.6" height="545" fill="url(#b38)"/><rect x="527.5" y="681.5" width="11.6" height="545" fill="url(#b39)"/><rect x="538.5" y="681.5" width="11.6" height="545" fill="url(#b40)"/><rect x="549.5" y="681.5" width="11.6" height="545" fill="url(#b41)"/><rect x="560.5" y="681.5" width="11.6" height="545" fill="url(#b42)"/><rect x="571.5" y="681.5" width="11.6" height="545" fill="url(#b43)"/><rect x="582.5" y="681.5" width="11.6" height="545" fill="url(#b44)"/><rect x="593.5" y="681.5" width="11.6" height="545" fill="url(#b45)"/><rect x="604.5" y="681.5" width="11.6" height="545" fill="url(#b46)"/><rect x="615.5" y="681.5" width="11.6" height="545" fill="url(#b47)"/><rect x="626.5" y="681.5" width="11.6" height="545" fill="url(#b48)"/><rect x="637.5" y="681.5" width="11.6" height="545" fill="url(#b49)"/><rect x="648.5" y="681.5" width="11.6" height="545" fill="url(#b50)"/><rect x="659.5" y="681.5" width="11.6" height="545" fill="url(#b51)"/><rect x="670.5" y="681.5" width="11.6" height="545" fill="url(#b52)"/><rect x="681.5" y="681.5" width="11.6" height="545" fill="url(#b53)"/><rect x="692.5" y="681.5" width="11.6" height="545" fill="url(#b54)"/><rect x="703.5" y="681.5" width="11.6" height="545" fill="url(#b55)"/><rect x="714.5" y="681.5" width="11.6" height="545" fill="url(#b56)"/><rect x="725.5" y="681.5" width="11.6" height="545" fill="url(#b57)"/><rect x="736.5" y="681.5" width="11.6" height="545" fill="url(#b58)"/><rect x="747.5" y="681.5" width="11.6" height="545" fill="url(#b59)"/><rect x="758.5" y="681.5" width="11.6" height="545" fill="url(#b60)"/><rect x="769.5" y="681.5" width="11.6" height="545" fill="url(#b61)"/><rect x="780.5" y="681.5" width="11.6" height="545" fill="url(#b62)"/><rect x="791.5" y="681.5" width="11.6" height="545" fill="url(#b63)"/><rect x="802.5" y="681.5" width="11.6" height="545" fill="url(#b64)"/><rect x="813.5" y="681.5" width="11.6" height="545" fill="url(#b65)"/><rect x="824.5" y="681.5" width="11.6" height="545" fill="url(#b66)"/><rect x="835.5" y="681.5" width="11.6" height="545" fill="url(#b67)"/><rect x="846.5" y="681.5" width="11.6" height="545" fill="url(#b68)"/><rect x="857.5" y="681.5" width="11.6" height="545" fill="url(#b69)"/><rect x="868.5" y="681.5" width="11.6" height="545" fill="url(#b70)"/><rect x="879.5" y="681.5" width="11.6" height="545" fill="url(#b71)"/><rect x="890.5" y="681.5" width="11.6" height="545" fill="url(#b72)"/><rect x="901.5" y="681.5" width="11.6" height="545" fill="url(#b73)"/><rect x="912.5" y="681.5" width="11.6" height="545" fill="url(#b74)"/><rect x="923.5" y="681.5" width="11.6" height="545" fill="url(#b75)"/><rect x="934.5" y="681.5" width="11.6" height="545" fill="url(#b76)"/><rect x="945.5" y="681.5" width="11.6" height="545" fill="url(#b77)"/><rect x="956.5" y="681.5" width="11.6" height="545" fill="url(#b78)"/><rect x="967.5" y="681.5" width="11.6" height="545" fill="url(#b79)"/><rect x="978.5" y="681.5" width="11.6" height="545" fill="url(#b80)"/><rect x="989.5" y="681.5" width="11.6" height="545" fill="url(#b81)"/><rect x="1000.5" y="681.5" width="11.6" height="545" fill="url(#b82)"/><rect x="1011.5" y="681.5" width="11.6" height="545" fill="url(#b83)"/><rect x="1022.5" y="681.5" width="11.6" height="545" fill="url(#b84)"/><rect x="1033.5" y="681.5" width="11.6" height="545" fill="url(#b85)"/><rect x="1044.5" y="681.5" width="11.6" height="545" fill="url(#b86)"/><rect x="1055.5" y="681.5" width="11.6" height="545" fill="url(#b87)"/><rect x="1066.5" y="681.5" width="11.6" height="545" fill="url(#b88)"/><rect x="1077.5" y="681.5" width="11.6" height="545" fill="url(#b89)"/><rect x="1088.5" y="681.5" width="11.6" height="545" fill="url(#b90)"/><rect x="1099.5" y="681.5" width="11.6" height="545" fill="url(#b91)"/><rect x="1110.5" y="681.5" width="11.6" height="545" fill="url(#b92)"/><rect x="1121.5" y="681.5" width="11.6" height="545" fill="url(#b93)"/><rect x="1132.5" y="681.5" width="11.6" height="545" fill="url(#b94)"/><rect x="1143.5" y="681.5" width="11.6" height="545" fill="url(#b95)"/><rect x="1154.5" y="681.5" width="11.6" height="545" fill="url(#b96)"/><rect x="1165.5" y="681.5" width="11.6" height="545" fill="url(#b97)"/><rect x="1176.5" y="681.5" width="11.6" height="545" fill="url(#b98)"/><rect x="1187.5" y="681.5" width="11.6" height="545" fill="url(#b99)"/><rect x="1198.5" y="681.5" width="11.6" height="545" fill="url(#b100)"/><rect x="1209.5" y="681.5" width="11.6" height="545" fill="url(#b101)"/><rect x="1220.5" y="681.5" width="11.6" height="545" fill="url(#b102)"/><rect x="1231.5" y="681.5" width="11.6" height="545" fill="url(#b103)"/><rect x="1242.5" y="681.5" width="11.6" height="545" fill="url(#b104)"/><rect x="1253.5" y="681.5" width="11.6" height="545" fill="url(#b105)"/><rect x="1264.5" y="681.5" width="11.6" height="545" fill="url(#b106)"/><rect x="1275.5" y="681.5" width="11.6" height="545" fill="url(#b107)"/><rect x="1286.5" y="681.5" width="11.6" height="545" fill="url(#b108)"/><rect x="1297.5" y="681.5" width="11.6" height="545" fill="url(#b109)"/><rect x="1308.5" y="681.5" width="11.6" height="545" fill="url(#b110)"/><rect x="1319.5" y="681.5" width="11.6" height="545" fill="url(#b111)"/><rect x="1330.5" y="681.5" width="11.6" height="545" fill="url(#b112)"/><rect x="1341.5" y="681.5" width="11.6" height="545" fill="url(#b113)"/><rect x="1352.5" y="681.5" width="11.6" height="545" fill="url(#b114)"/><rect x="1363.5" y="681.5" width="11.6" height="545" fill="url(#b115)"/><rect x="1374.5" y="681.5" width="11.6" height="545" fill="url(#b116)"/><rect x="1385.5" y="681.5" width="11.6" height="545" fill="url(#b117)"/><rect x="1396.5" y="681.5" width="11.6" height="545" fill="url(#b118)"/><rect x="1407.5" y="681.5" width="11.6" height="545" fill="url(#b119)"/><rect x="1418.5" y="681.5" width="11.6" height="545" fill="url(#b120)"/><rect x="1429.5" y="681.5" width="11.6" height="545" fill="url(#b121)"/><rect x="1440.5" y="681.5" width="11.6" height="545" fill="url(#b122)"/><rect x="1451.5" y="681.5" width="11.6" height="545" fill="url(#b123)"/><rect x="1462.5" y="681.5" width="11.6" height="545" fill="url(#b124)"/><rect x="1473.5" y="681.5" width="11.6" height="545" fill="url(#b125)"/><rect x="1484.5" y="681.5" width="11.6" height="545" fill="url(#b126)"/><rect x="1495.5" y="681.5" width="11.6" height="545" fill="url(#b127)"/><rect x="1506.5" y="681.5" width="11.6" height="545" fill="url(#b128)"/><rect x="1517.5" y="681.5" width="11.6" height="545" fill="url(#b129)"/></g>
</g>
<line x1="86.3" y1="852" x2="110.5" y2="852" stroke="#000" stroke-width="1.1" opacity="0.8"/><line x1="110.5" y1="852" x2="1507" y2="852" stroke="#000" stroke-width="1.1" opacity="0.45"/><line x1="86.3" y1="989" x2="110.5" y2="989" stroke="#000" stroke-width="1.1" opacity="0.8"/><line x1="110.5" y1="989" x2="1507" y2="989" stroke="#000" stroke-width="1.1" opacity="0.1"/><line x1="86.3" y1="1091.6" x2="110.5" y2="1091.6" stroke="#000" stroke-width="1.1" opacity="0.8"/><line x1="110.5" y1="1091.6" x2="1507" y2="1091.6" stroke="#000" stroke-width="1.1" opacity="0.5"/><line x1="86.3" y1="1159.5" x2="110.5" y2="1159.5" stroke="#000" stroke-width="1.1" opacity="0.8"/><line x1="110.5" y1="1159.5" x2="1507" y2="1159.5" stroke="#000" stroke-width="1.1" opacity="0.7"/><line x1="86.3" y1="1202.8" x2="110.5" y2="1202.8" stroke="#000" stroke-width="1.1" opacity="0.8"/><line x1="110.5" y1="1202.8" x2="1507" y2="1202.8" stroke="#000" stroke-width="1.1" opacity="0.1"/><line x1="86.3" y1="1230" x2="110.5" y2="1230" stroke="#000" stroke-width="1.1" opacity="0.8"/><line x1="110.5" y1="1230" x2="1507" y2="1230" stroke="#000" stroke-width="1.1" opacity="0.7"/><line x1="196.8" y1="693.5" x2="196.8" y2="1244" stroke="#000" stroke-width="1.1" opacity="0.0"/><line x1="422.6" y1="693.5" x2="422.6" y2="1244" stroke="#000" stroke-width="1.1" opacity="0.85"/><line x1="648.3" y1="693.5" x2="648.3" y2="1244" stroke="#000" stroke-width="1.1" opacity="0.08"/><line x1="874" y1="693.5" x2="874" y2="1244" stroke="#000" stroke-width="1.1" opacity="0.0"/><line x1="1099.8" y1="693.5" x2="1099.8" y2="1244" stroke="#000" stroke-width="1.1" opacity="0.85"/><line x1="1325.5" y1="693.5" x2="1325.5" y2="1244" stroke="#000" stroke-width="1.1" opacity="0.25"/>
<g clip-path="url(#clipB)">
<path d="M117.3 699.4h0m21.2 .7h0m11.3-.8h0m21.2 .6h0m11.3-.6h0m43.8 .3h0m67.7 1.2h0m11.3-.2h0m12.6-1.2h0m12.7 .3h0m33.8 .4h0m22.6 0h0m11.3-.8h0m12.6 1h0m21.3-.2h0m33.8 .4h0m33.9-.4h0m43.8 .7h0m11.3-.9h0m32.5 .1h0m12.6 .3h0m45.2 0h0m88.9 0h0m67.7-.5h0m21.3 .1h0m11.2-.5h0m12.7 1h0m11.3-.8h0m11.3 1h0m9.9-.7h0m55.1 0h0m9.9 .7h0m45.2-1.1h0m11.2 .1h0m45.2-.4h0m22.6 .9h0m102.9 .5h0m45.2-.8h0m12.6 .4h0m22.6-.9h0m9.9 .2h0m11.3-.2h0m11.3 .1h0m11.3 .4h0m12.6 .8h0m21.2-1h0m11.3 .2h0m10 .8h0m43.8-1.2h0m9.9 .2h0m22.6-.4h0m45.1 .9h0m11.3-.1h0m-1355 6.3h0m10 .6h0m32.5-.8h0m110.2 .4h0m12.6-.8h0m11.3 .4h0m12.6 .7h0m80.4-.7h0m12.6-.1h0m10 .7h0m90.3 .1h0m66.3 .2h0m10 0h0m22.5-.7h0m35.3-.4h0m9.9 1.2h0m22.6-.1h0m33.8-.4h0m11.3-.9h0m111.5 .4h0m12.7 0h0m22.6 .3h0m9.9 .8h0m9.9-.8h0m111.5 0h0m11.3-.7h0m33.9 .8h0m45.1 0h0m56.5 .1h0m12.6-.5h0m213.1 .5h0m31.2-.7h0m22.6 .2h0m22.5 .7h0m33.9 0h0m21.2 .3h0m-1376.2 6.6h0m10-.7h0m32.5-.1h0m21.2-.4h0m22.6 .9h0m11.3-.3h0m22.5-.9h0m10 1h0m35.2 .6h0m36.6-1.2h0m11.3 .8h0m22.5-1h0m11.3 1.3h0m22.6-1.3h0m45.1-.1h0m45.2 0h0m45.1 1.3h0m10 0h0m33.8-.5h0m22.6-.7h0m21.2 0h0m11.3-.1h0m12.7 .4h0m9.9 .7h0m11.3-.4h0m11.3-.2h0m11.3-.2h0m11.2 .8h0m22.6-.4h0m33.9 .5h0m11.3-.5h0m33.8 0h0m32.5 .5h0m35.3-.7h0m9.9-.4h0m9.9 1h0m11.3-.9h0m11.3 1h0m32.5-.9h0m22.6 .3h0m22.6 0h0m11.2 .8h0m45.2 0h0m11.3-.9h0m11.3 0h0m56.4 .2h0m22.6-.4h0m12.6 .2h0m11.3-.6h0m11.3 .4h0m90.3 .1h0m22.6 .7h0m22.5 .1h0m55.1-.5h0m110.2-.8h0m11.3 .6h0m9.9 .7h0m-1333.7 7h0m77.6-.1h0m10-1.1h0m22.6 1.1h0m12.6 0h0m36.6-.4h0m67.7-.6h0m12.6 1h0m10-.3h0m11.3-.8h0m11.2 1h0m56.5-.3h0m33.8 .6h0m10 .2h0m33.8-.9h0m32.5-.3h0m11.3 1.1h0m11.3-.6h0m12.7-.1h0m21.2 .5h0m45.1 .1h0m22.6-1.4h0m45.2 .2h0m22.5 .3h0m21.3 .7h0m23.9 .3h0m32.5-.9h0m9.9 1h0m22.6-.9h0m11.3-.6h0m11.3 1.2h0m9.9 .2h0m22.6-1.1h0m33.8 .2h0m146.8 .6h0m46.5-1.1h0m22.6 .7h0m12.6-.3h0m43.8 .5h0m11.3-.1h0m11.3-.6h0m12.6 0h0m32.5 1.2h0m22.6-1.3h0m9.9-.1h0m11.3 0h0m10 .3h0m55 .3h0m22.6-.2h0m11.3-.1h0m21.2 .4h0m-1366.2 6.6h0m11.3 .2h0m9.9 .9h0m32.5-1.4h0m89 .5h0m60.5-.4h0m22.5 .6h0m101.6 .5h0m22.6 .2h0m22.6-1.3h0m11.3 .8h0m21.2-.9h0m43.8 .3h0m22.5 .1h0m67.8-.1h0m33.8-.4h0m45.2 .4h0m45.1-.3h0m11.3 .6h0m21.2 .6h0m35.3 .3h0m9.9-.3h0m9.9-.9h0m22.6 1.1h0m22.6-1.1h0m9.9 .7h0m45.2-.5h0m11.2 1h0m11.3-1.5h0m22.6 .5h0m90.3-.3h0m46.5 .8h0m11.3-.5h0m11.3-.3h0m12.6 .1h0m10 1.1h0m12.6 0h0m22.6-.9h0m32.5-.5h0m23.9 1.4h0m9.9-.9h0m22.6 .1h0m32.5-.6h0m11.3 1.4h0m10-.3h0m21.2-.8h0m45.1 .7h0m11.3-.7h0m11.3 .8h0m-1355 14.2h0m10 1.1h0m21.2-1.1h0m11.3 .4h0m21.2 .5h0m22.6 0h0m33.8-.8h0m10 .1h0m35.2-.3h0m11.3 .1h0m12.6-.3h0m12.7 .4h0m56.4-.4h0m11.3 .7h0m12.6-.1h0m10 0h0m11.3 .4h0m11.2 .3h0m22.6-1.2h0m33.9 .7h0m11.3 .3h0m11.3-.8h0m11.2-.2h0m21.3 .3h0m22.5 1.1h0m10-1.2h0m22.5 1.2h0m11.3-.8h0m45.2-.3h0m11.3-.2h0m22.5 1.2h0m11.3-.1h0m11.3-1h0m45.2 .6h0m11.3-.7h0m22.5-.1h0m11.3 .2h0m10 .6h0m11.2-1h0m12.7 1.1h0m11.3-.6h0m11.3 .8h0m9.9-1.2h0m9.9 .5h0m11.3 .4h0m11.3-.7h0m11.3 .4h0m11.3-.2h0m32.5 .4h0m22.6-.2h0m45.1-.4h0m11.3 0h0m11.3 1.1h0m11.3-.1h0m22.5 .1h0m11.3-1.1h0m22.6 .6h0m22.6 .6h0m12.6-.5h0m11.3-.2h0m11.3-.3h0m11.3 1h0m12.6-.7h0m45.2-.6h0m32.5-.1h0m23.9 1.3h0m9.9-.1h0m11.3 0h0m11.3-.7h0m32.5-.3h0m11.3 .5h0m10-.6h0m9.9 1h0m22.6-.3h0m22.5-.8h0m22.6 .9h0m11.3 0h0m11.3-.3h0m9.9 0h0m-1387.4 17h0m11.2-.7h0m10 .8h0m11.3 .4h0m21.2-.9h0m11.3-.1h0m9.9 .5h0m22.6 0h0m11.3-.6h0m22.5 0h0m10 1.1h0m22.6-1.1h0m12.6 .5h0m23.9 .8h0m24-.1h0m22.5 .3h0m11.3-.1h0m22.6-.2h0m22.6-.7h0m11.3-.3h0m33.8 1h0m22.6-.5h0m22.6-.4h0m11.3 .1h0m11.2-.2h0m10 1.2h0m11.3-.1h0m22.5-.1h0m10-.5h0m12.6-.2h0m21.2 .3h0m24 .7h0m9.9-1h0m22.6 1h0m11.3-1h0m11.2 .1h0m11.3 .5h0m11.3 .1h0m11.3-.3h0m33.9 .1h0m11.3-1.1h0m22.5 .2h0m11.3 .5h0m10 .7h0m11.2-1h0m12.7-.4h0m11.3 .6h0m11.3 0h0m9.9 .3h0m9.9-.6h0m11.3 .5h0m11.3 .7h0m11.3-1.3h0m11.3 .8h0m55.1-.6h0m11.2 .6h0m11.3-.4h0m22.6 .1h0m22.6-.3h0m33.8 .5h0m11.3-.5h0m22.6 .8h0m22.6-.3h0m23.9-.6h0m11.3 .5h0m11.3 .5h0m12.6-.8h0m10-.4h0m45.1-.1h0m22.6 .7h0m11.3 0h0m12.6-.5h0m9.9-.1h0m11.3 1.1h0m11.3 .2h0m10-1h0m12.6 .3h0m21.2-.3h0m10 1.1h0m9.9-.1h0m11.3-1h0m11.3 .8h0m33.8-.7h0m22.6-.1h0m21.2 .7h0m-1387.4 32.5h0m11.2-.3h0m10 .1h0m11.3-.2h0m9.9-.7h0m11.3 .5h0m11.3 .5h0m9.9-1.5h0m22.6 1.5h0m11.3-1.3h0m22.5-.1h0m10 .9h0m22.6 .2h0m12.6-.3h0m11.3 .4h0m36.6 .1h0m45.1-1.1h0m11.3-.2h0m33.9 1.2h0m11.2-.8h0m22.6-.3h0m22.6 .1h0m11.3 .4h0m11.3-.3h0m11.3 .7h0m11.2-.6h0m21.3 .9h0m22.5-1.4h0m10 .7h0m22.5 .4h0m11.3-.8h0m24 1h0m9.9-1.3h0m11.3 1.2h0m22.6-.4h0m11.2 .5h0m11.3-.5h0m11.3 .5h0m11.3 .2h0m22.6-1.2h0m11.3 .5h0m11.3 .2h0m22.5 .3h0m11.3 0h0m10-.7h0m11.2 0h0m24 .8h0m11.3-1.1h0m9.9 1.1h0m9.9-.8h0m22.6 .1h0m11.3 .5h0m11.3-.2h0m9.9-.5h0m22.6 .8h0m22.6-.1h0m11.2-.5h0m33.9-.5h0m11.3 1.2h0m11.3-1.1h0m11.3 .8h0m33.8-.9h0m22.6 .3h0m22.6-.2h0m12.6 0h0m22.6-.1h0m23.9 .4h0m45.2 .1h0m9.9 .3h0m11.3-.7h0m11.3-.2h0m11.3 1.2h0m12.6-.5h0m9.9-.1h0m11.3 .3h0m11.3 .2h0m22.6-.3h0m9.9-.2h0m11.3 .5h0m31.2 .2h0m11.3-.4h0m22.5-.5h0m11.3-.3h0m11.3 1.1h0m11.3-.3h0m11.3-.3h0m9.9 .3h0m-1387.4 30.1h0m21.2-.1h0m21.2-.2h0m22.6 .1h0m9.9 .4h0m33.9-1.1h0m22.5 .7h0m10-.1h0m22.6 .5h0m12.6-.6h0m23.9 .4h0m12.7 .1h0m11.3 .4h0m22.5-1.5h0m11.3 .5h0m11.3 .1h0m11.3 .4h0m12.6-.7h0m10 .8h0m22.5-.8h0m45.2-.1h0m11.3 .9h0m22.6-.4h0m11.2-.4h0m21.3 .6h0m45.1-.5h0m9.9-.3h0m22.6 1.2h0m12.7-.8h0m9.9 .1h0m11.3-.7h0m11.3 .4h0m11.3 .1h0m11.2 .2h0m11.3 .4h0m11.3 .4h0m33.9-.2h0m45.1 0h0m11.3-1.3h0m10 1.5h0m11.2-1.1h0m12.7-.2h0m11.3 1h0m11.3-1h0m31.1 1.2h0m11.3-.1h0m11.3 .1h0m43.8-.3h0m22.6 .1h0m11.2 .2h0m11.3-1h0m22.6-.2h0m11.3-.1h0m11.3 .1h0m11.3 .6h0m22.5 .6h0m11.3-.1h0m22.6-.4h0m22.6 .4h0m12.6-.6h0m22.6 .3h0m11.3-1h0m12.6 1.1h0m22.6 .5h0m22.6-.8h0m21.2 .3h0m11.3-.6h0m23.9 .3h0m9.9 .4h0m11.3-.5h0m11.3 .2h0m22.6 .4h0m9.9-.5h0m11.3 0h0m19.9 .5h0m11.3-.8h0m11.3 .4h0m22.5 .4h0m11.3-.1h0m22.6-1.1h0m11.3-.1h0m9.9 1.5h0m-1387.4 61.6h0m32.5-.1h0m9.9 .1h0m11.3 0h0m11.3 0h0m9.9 .1h0m22.6-.9h0m11.3 .9h0m55.1 .1h0m23.9-.9h0m12.6 .3h0m12.7 0h0m45.1 .2h0m11.3-.7h0m23.9 1.3h0m10-1.5h0m11.3 .9h0m56.4-.2h0m11.3 .3h0m11.3-.8h0m11.3-.2h0m21.2 1.5h0m11.3-.1h0m22.5-1.4h0m22.6 1.2h0m9.9-1.1h0m56.5 .9h0m22.6 .5h0m11.2 0h0m22.6-1.5h0m45.2 .5h0m33.8 .9h0m11.3-1.3h0m10 .8h0m11.2 .2h0m12.7 .2h0m11.3-.3h0m11.3-.3h0m9.9 .6h0m32.5-.8h0m11.3 1.1h0m43.8-.6h0m45.1-.5h0m22.6 .9h0m11.3-.3h0m11.3 .3h0m33.8-1.4h0m11.3 .7h0m22.6 .6h0m35.2 0h0m33.9-.9h0m67.7-.3h0m11.3 1.2h0m11.3-.1h0m23.9-.2h0m21.2-.7h0m11.3 .9h0m22.6-1.1h0m31.2 .8h0m32.5-.1h0m22.5-.5h0m11.3 0h0m22.6 .6h0m11.3-.1h0m9.9-.7h0m-1376.2 56.1h0m10 1.1h0m11.3-.3h0m9.9-.2h0m11.3-.7h0m43.8 .8h0m11.3 .3h0m22.5 .3h0m56.5-1.4h0m12.6 .2h0m12.7-.2h0m11.3 1.3h0m22.5 .1h0m22.6-.5h0m11.3-.8h0m22.6 .7h0m11.3 .6h0m11.2-.9h0m22.6-.3h0m45.2-.2h0m11.3 .5h0m55 .7h0m10-.3h0m22.5-.8h0m11.3 1.3h0m11.3-1h0m12.7 .7h0m9.9-.7h0m11.3-.3h0m11.3 .1h0m11.3-.1h0m11.2-.2h0m11.3 .3h0m11.3 1.2h0m11.3 0h0m45.2-.8h0m22.5 .8h0m21.3-.8h0m11.2 .6h0m12.7-.3h0m11.3-.6h0m11.3 .7h0m9.9-.9h0m21.2 .5h0m11.3-.3h0m22.6-.1h0m9.9 .2h0m45.2 1.1h0m11.2-.2h0m11.3-1.1h0m22.6 .2h0m11.3-.2h0m11.3 1.3h0m45.1-1.1h0m45.2 .7h0m12.6 .4h0m11.3-.3h0m11.3-1.1h0m11.3 1.1h0m12.6-1h0m10 1.2h0m12.6-.6h0m22.6-.6h0m21.2 0h0m11.3-.2h0m11.3 .7h0m12.6-.5h0m9.9 .8h0m22.6-.8h0m10 .9h0m12.6 0h0m9.9 .1h0m11.3 0h0m19.9-1.3h0m22.6 1.4h0m22.5-1.1h0m22.6 0h0m11.3 .7h0m11.3-.2h0m9.9 0h0m-1387.4 52.3h0m74.9 .3h0m101.6 .1h0m11.3-1.2h0m12.6 .1h0m24-.2h0m33.8-.2h0m56.5 1.4h0m33.8-1.2h0m56.5 .4h0m11.2 .3h0m21.3 0h0m32.5 .4h0m112.8-.8h0m101.6 .3h0m32.5-.1h0m45.2 0h0m21.2-.5h0m111.5 .8h0m22.6 .1h0m67.7-.3h0m91.7 .2h0m35.2-.3h0m32.5-.5h0m11.3 .3h0m35.2-.4h0m65 1h0m76.3-.7h0m45.2 .2h0m-1377.5 46.3h0m11.2-.4h0m21.3 .7h0m9.9-1.1h0m22.6 0h0m9.9 .6h0m22.6-.5h0m11.3 1.3h0m22.5-1.3h0m10 .4h0m22.6 .4h0m36.5 .2h0m12.7 0h0m11.3 .1h0m22.5 .2h0m11.3-.1h0m11.3-.2h0m11.3-.4h0m22.6-.1h0m45.1-.1h0m22.6 .1h0m11.3-.2h0m11.3 .4h0m11.3-.4h0m32.5 .2h0m22.5-.2h0m10 .4h0m12.6-.8h0m21.2 1.2h0m33.9-.6h0m22.6-.6h0m11.3 .7h0m33.8 .8h0m11.3-.8h0m22.6-.2h0m11.3 .4h0m11.3 .5h0m22.5-.7h0m11.3-.2h0m10 .3h0m11.2 .5h0m24-.7h0m11.3 .9h0m9.9-.8h0m21.2-.3h0m33.9-.3h0m32.5 1.1h0m45.1-1h0m22.6 .5h0m11.3-.5h0m11.3 .7h0m11.3-.4h0m33.8-.5h0m22.6 1.2h0m22.6-.2h0m12.6-.6h0m22.6 .6h0m11.3-.3h0m12.6-.4h0m10 .5h0m35.2-.2h0m9.9-.4h0m11.3-.1h0m11.3 .1h0m11.3 1h0m12.6 0h0m9.9-1.3h0m22.6 1.1h0m10-.8h0m12.6-.1h0m21.2 .4h0m10 0h0m9.9 .8h0m11.3 .1h0m11.3-.5h0m22.5-.9h0m33.9 1.3h0m21.2-.4h0m-1376.2 73.5h0m10-.9h0m11.3-.2h0m9.9 1h0m11.3-.1h0m11.3-1h0m9.9 0h0m33.9 .6h0m22.5 0h0m10-.3h0m22.6-.4h0m23.9 .2h0m12.6 .1h0m12.7-.4h0m11.3 .4h0m22.5 .6h0m11.3-.7h0m22.6 .3h0m33.9-.1h0m11.2 0h0m45.2 .9h0m11.3-1.1h0m11.3-.2h0m11.3 .2h0m21.2 .2h0m11.3 .4h0m22.5 .4h0m10-.6h0m12.6-.4h0m21.2 .7h0m11.3-.6h0m12.7-.4h0m9.9 1.3h0m11.3-.3h0m11.3-.2h0m11.3-.1h0m11.2-.7h0m11.3 .3h0m11.3 .7h0m11.3-.5h0m79-.2h0m10 .7h0m11.2-.5h0m12.7 .5h0m11.3-.7h0m21.2 .6h0m9.9-.8h0m22.6 .9h0m11.3-1h0m11.3 .2h0m9.9 .3h0m22.6-.1h0m22.6-.2h0m22.5 .8h0m22.6-.4h0m11.3-.1h0m11.3 .7h0m33.8-1.2h0m33.9 0h0m22.6 .1h0m23.9 1.3h0m11.3-1.4h0m11.3 .5h0m12.6 .7h0m10-1.2h0m35.2 1.4h0m9.9-.3h0m22.6-.5h0m11.3 .4h0m12.6-.3h0m21.2 .4h0m11.3-.1h0m22.6-.2h0m21.2 0h0m10-.8h0m9.9 .6h0m11.3-.2h0m11.3 .6h0m22.5-.7h0m11.3 .4h0m11.3 .7h0m11.3-1h0m21.2 .4h0m-1387.4 46.4h0m11.2-.1h0m10-.1h0m11.3-.4h0m32.5-.2h0m9.9-.2h0m22.6 .1h0m11.3 .7h0m22.5-.9h0m10 .5h0m22.6-.4h0m12.6-.3h0m36.6 1.1h0m33.8-.9h0m11.3 .5h0m11.3 .2h0m11.3 .6h0m12.6-.5h0m21.3-.6h0m11.2-.2h0m22.6 1h0m33.9-.9h0m11.3 1.1h0m22.5-.1h0m43.8-1h0m22.6 .3h0m9.9 0h0m22.6-.5h0m12.7 .9h0m21.2 .4h0m22.6-.6h0m11.2-.3h0m11.3-.4h0m11.3 .2h0m11.3 1.3h0m22.6-1.5h0m11.3 .2h0m33.8 1h0m32.5-.8h0m12.7 .3h0m11.3-.3h0m11.3 .6h0m31.1-.6h0m11.3 .4h0m11.3-.6h0m11.3 .2h0m9.9 1.1h0m90.3-.3h0m11.3-.2h0m11.3-.6h0m11.3 1h0m22.5-.5h0m11.3-.5h0m45.2-.2h0m12.6 .4h0m11.3 .4h0m11.3-.2h0m11.3-.1h0m12.6-.2h0m10-.3h0m35.2-.1h0m21.2 0h0m11.3 .2h0m11.3 .5h0m12.6 0h0m9.9-.1h0m11.3-.7h0m11.3 0h0m10 1.3h0m12.6-.3h0m21.2 .5h0m19.9-.3h0m11.3-1h0m33.8 .9h0m11.3 0h0m11.3-.8h0m11.3-.4h0m11.3 .3h0m9.9 .8h0m-1312.5 8.1h0m22.6 0h0m43.8-.6h0m59.1 .4h0m12.7-.1h0m33.8 .6h0m22.6-1.2h0m45.2-.3h0m11.2 1.3h0m22.6-.4h0m22.6 .2h0m22.6 .3h0m66.3-.9h0m10 .3h0m33.8-.5h0m56.5 1.1h0m45.1-.9h0m11.3 .9h0m33.9-1.1h0m66.3-.3h0m24 0h0m31.1 .2h0m22.6 .2h0m22.6 .5h0m66.3 0h0m101.6 .4h0m69.1-.1h0m45.2-.3h0m35.2-.4h0m9.9 1.1h0m33.9-1.2h0m12.6-.2h0m9.9 1.2h0m45.2-1.1h0m9.9 .2h0m11.3 .7h0m31.2 .3h0m33.8-1.2h0m33.9 .9h0" stroke="#000" stroke-width="2.8" stroke-linecap="round" fill="none"/><path d="M110.9 723.9c1.8 2.9 8 9.1 10.9 17.1s4.7 18.6 6.2 31s2.3 29.1 3.1 43.6s.7 32.1 1.5 43.5s1 19.2 3.1 24.8s6.6 8.7 9.4 8.7s5.6-2.1 7.7-8.7s3.1-21.4 4.7-31s3.1-23.4 4.7-26.5s3.3 2.4 4.6 7.8s2.1 16.1 3.1 24.9s1.3 18.7 3.1 28s3.9 19.1 7.8 27.9s10.4 17.1 15.6 24.9s12.1 16 15.5 21.8s3.9 11.1 4.7 13.3" fill="none" stroke="#000" stroke-width="2.3" stroke-linejoin="round" stroke-linecap="round"/><path d="M215 965c.8 3.1 2.9 12.5 4.7 18.7s4.1 12.6 6.2 18.6s5.2 14.2 6.2 17.1" fill="none" stroke="#000" stroke-width="2.3" stroke-linejoin="round" stroke-linecap="round"/><path d="M257 1042.7c.8-2.6 2.5-9.3 4.6-15.5s4.9-15.6 7.8-21.8s5.9-11.9 9.3-15.5s7-4.1 10.9-6.2s8.6-3.2 12.5-6.3s9-10.3 10.8-12.4" fill="none" stroke="#000" stroke-width="2.3" stroke-linejoin="round" stroke-linecap="round"/><path d="M305.2 975c1-2 4.1-9 6.2-11.8s4.1-5 6.2-4.7s4.1 3.5 6.2 6.3s5.2 8.5 6.2 10.2" fill="none" stroke="#000" stroke-width="2.3" stroke-linejoin="round" stroke-linecap="round"/><path d="M322.3 965c1.8 2.6 6.9 10.3 10.8 15.5s8.6 10.9 12.5 15.6s7.3 9.5 10.9 12.4s7.2 4.7 10.8 4.7s7.3-1.3 10.9-4.7s7.3-10.3 10.9-15.5s7-11.2 10.9-15.6s10.3-9 12.4-10.8" fill="none" stroke="#000" stroke-width="2.3" stroke-linejoin="round" stroke-linecap="round"/><path d="M401.5 975c1.6-1.5 6.2-6.5 9.3-8.7s6.3-4.6 9.4-4.6s6.4 2.4 9.3 4.6s6.5 7.2 7.8 8.7" fill="none" stroke="#000" stroke-width="2.3" stroke-linejoin="round" stroke-linecap="round"/><path d="M424.8 965c1.8 2.6 7.5 11.1 10.9 15.5s6.2 8.3 9.3 10.9s5.8 4 9.4 4.7s8.3-1.4 12.4-.6s8.2 2.5 12.4 5.2s8.6 7.5 12.5 10.9s7.7 7.6 10.8 9.4s4.4 2.3 7.8 1.5s8.9-3.4 12.5-6.2s6.2-6.5 9.3-10.9s6.7-10.3 9.3-15.5s4.6-11.5 6.2-15.6s2.6-7.8 3.1-9.3" fill="none" stroke="#000" stroke-width="2.3" stroke-linejoin="round" stroke-linecap="round"/><path d="M549.2 975c.5-5.9 2.1-23 3.1-35.1s2.1-23.8 3.1-37.3s2.1-31.6 3.1-43.5s2.3-18.7 3.1-28s1.1-19.2 1.6-28s.4-19.1 1.5-24.8s4.4-7.8 5.3-9.4" fill="none" stroke="#000" stroke-width="2.3" stroke-linejoin="round" stroke-linecap="round"/><path d="M570 768.9c.5 4.1 2.1 15.6 3.1 24.9s1.8 20.2 3.1 31.1s3.1 24.4 4.7 34.2s2.8 18.6 4.6 24.8s3.7 9.6 6.3 12.5s6.2 2.5 9.3 4.6s6.4 3.4 9.3 7.8s5.2 12.5 7.8 18.7s5.2 13.2 7.8 18.6s5.1 13 7.7 14s5.5-2.4 7.8-7.8s4.4-17.8 6.2-24.8s3.1-13.9 4.7-17.1s3.1-3.5 4.6-2.2s3.1 4.6 4.7 9.9s3.1 14 4.7 21.8s3.3 19 4.6 24.9s2.6 8.5 3.1 10.2" fill="none" stroke="#000" stroke-width="2.3" stroke-linejoin="round" stroke-linecap="round"/><path d="M672.6 965c.8 3.1 2.3 12.5 4.6 18.7s6.5 12.4 9.4 18.6s5.6 13 7.7 18.7s2.6 10.6 4.7 15.5s5.5 10.9 7.8 14s3.6 4.3 6.2 4.6s6.4-2.3 9.3-3.1s5.2-3.1 7.8-1.5s5.6 7.1 7.8 10.9s3.8 11.8 5.6 11.8s3-7.2 5.2-11.8s5.2-11.5 7.8-15.6s5.7-7.5 7.8-9.3s2.5-2.9 4.6-1.6s5.2 6.3 7.8 9.4s5.2 7.1 7.8 9.3s4.9 4 7.8 4s6.2-2.8 9.3-4s6.4-3.3 9.3-3.1s5.2 2.3 7.8 4.6s5.2 6.9 7.8 9.4s4.9 4.8 7.7 5.6s6.4 .2 9.3-1s4.9-2.8 7.8-6.2s6.2-8.6 9.3-14s6.3-12.7 9.4-18.6s5.9-12.9 9.3-17.1s7.5-7.8 10.9-7.8s6.2 4.2 9.3 7.8s6.2 9.3 9.3 14s6.3 10.1 9.4 14s6.2 7.5 9.3 9.3s6.2 1.5 9.3 1.5s5.9-.7 9.3-1.5s7.5-3.1 10.9-3.1s6.4 3.6 9.3 3.1s5.5-3.6 7.8-6.2s4.1-7.5 6.2-9.4s3.9-3.4 6.2-2.1s5.2 5.9 7.8 9.9s5 10.1 7.8 14s6.2 7.5 9.3 9.3s6.2 2.4 9.3 1.6s6.2-4.6 9.4-6.2s8.2-2.6 9.9-3.1" fill="none" stroke="#000" stroke-width="2.3" stroke-linejoin="round" stroke-linecap="round"/><path d="M1040 1061.4c1 1.5 4.1 5.9 6.2 9.3s5.2 9.1 6.2 10.9" fill="none" stroke="#000" stroke-width="2.3" stroke-linejoin="round" stroke-linecap="round"/><path d="M1078.9 1083.1c1.8-1.5 7.7-5.2 10.8-9.3s5.5-11.6 7.8-15.5s3.9-6.5 6.2-7.8s5-1.3 7.8 0s6.2 5 9.3 7.8s6.2 6.5 9.3 9.3s6.3 5 9.4 7.8s5.9 7.5 9.3 9.3s7.3 2.5 10.9 1.5s7.5-6.2 10.9-7.7s6.2-2.6 9.3-1.6s6.2 5.7 9.3 7.8s6.2 3.6 9.3 4.6s6.3 2.4 9.4 1.6s6.2-2.8 9.3-6.2s6.5-9.3 9.3-14s5.2-10.6 7.8-14s5-5.9 7.8-6.2s6.2 3.3 9.3 4.6s6.2 3.7 9.3 3.2s6.2-4 9.3-6.3s6.3-5.9 9.4-7.7s6.5-2.3 9.3-3.1s5.2-3.4 7.8-1.6s4.9 8 7.7 12.4s6.2 9.8 9.3 14s6.3 8.3 9.4 10.9s6.5 4.2 9.3 4.7s5.2-2.6 7.8-1.6s5.4 5.5 7.7 7.8s3.7 6 6.3 6.2s6.2-2.9 9.3-4.7s6.5-3.1 9.3-6.2s5.5-7.7 7.8-12.4s3.9-9.9 6.2-15.6s5.2-12.9 7.8-18.6s5.1-11.3 7.7-15.5s5.2-7.6 7.8-9.4s4.7-1.8 7.8-1.5s7 2.3 10.9 3.1s8.3 .5 12.4 1.5s9 2.6 12.4 4.7s5.2 3.9 7.8 7.8s5.5 10.3 7.8 15.5s3.9 11.2 6.2 15.6s5.2 8.2 7.8 10.8s4.9 4.2 7.7 4.7s6.2-.8 9.4-1.6s8.2-2.6 9.9-3.1" fill="none" stroke="#000" stroke-width="2.3" stroke-linejoin="round" stroke-linecap="round"/><path d="M110.9 1017.8c1.8 1.3 7.5 4.7 10.9 7.8s6.2 8.1 9.3 10.9s6.2 5.2 9.3 6.2s6.4 .4 9.3 0s5-2.7 7.8-2.2s5.9 2.9 9.3 5.3s7 5.7 10.9 9.3s8.8 7.6 12.4 12.5s6.3 11.9 9.4 17.1s6.2 10.1 9.3 14s6.2 5.7 9.3 9.3s6.2 8.5 9.3 12.4s6.3 8 9.4 10.9s6.2 5.2 9.3 6.2s6.2 1.3 9.3 0s6.4-3.9 9.3-7.8s5.2-10.8 7.8-15.5s4.9-9.3 7.8-12.4s5.7-5 9.3-6.2s8.9 .9 12.5-.7s6.7-6.8 9.3-8.7s3.9-3.5 6.2-2.5s4.7 4.7 7.8 8.7s7.4 10.9 10.8 15.6s6.3 9.3 9.4 12.4s5.7 4.9 9.3 6.2s8.5 2.1 12.4 1.6s7.3-2.4 10.9-4.7s7.5-6.2 10.9-9.3s6.4-7.2 9.3-9.3s4.7-3.1 7.8-3.1s7 1.3 10.9 3.1s8.3 5.7 12.4 7.8s8.2 3.8 12.4 4.6s8.4 .1 12.5 0s8.3-1.1 12.4-.6s8.2 2.6 12.4 3.7s8.9 2.3 12.5 3.1s6.2 0 9.3 1.6s6.2 4.7 9.3 7.8s6.4 8.5 9.3 10.8s5.5 3.6 7.8 3.1s4.1-2.8 6.2-6.2s4.2-8.6 6.3-14s4.1-11.9 6.2-18.6s4.1-15.1 6.2-21.8s4.1-14 6.2-18.6s4.3-7.2 6.2-9.3s4.4-2.7 5.3-3.2" fill="none" stroke="#000" stroke-width="2.3" stroke-linejoin="round" stroke-linecap="round"/><path d="M570 1055.1c1.3-.5 5.2-3.4 7.8-3.1s4.9 2.1 7.7 4.7s6.3 7.5 9.4 10.9s6.2 5.7 9.3 9.3s6.2 8.2 9.3 12.4s6.2 8.9 9.3 12.5s6 6.2 9.4 9.3s7.4 6.7 10.8 9.3s6.5 5.9 9.4 6.2s5.1-3 7.7-4.6s5.2-5 7.8-4.7s5 3.1 7.8 6.2s6.2 8.3 9.3 12.5s6.2 9 9.3 12.4s6.6 6.3 9.4 7.8s5.1 1.7 7.7 .9s5-3.7 7.8-5.6s6.2-5 9.3-5.6s6.5 1.4 9.4 1.9s4.6 1.9 7.7 1.2s7.3-3.6 10.9-5.3s7.5-4.4 10.9-4.6s5.9 1.7 9.3 3.1s7.5 4.3 10.9 5.6s6.2 2.1 9.3 2.2s7.8-1.3 9.3-1.6" fill="none" stroke="#000" stroke-width="2.3" stroke-linejoin="round" stroke-linecap="round"/><path d="M842 1148.4c1.8-.3 7.5-.3 10.9-1.6s6.2-2.3 9.3-6.2s6.2-12.2 9.3-17.1s6.2-10.1 9.3-12.4s6.3-2.6 9.4-1.6s6.2 5 9.3 7.8s6.2 6.2 9.3 9.3s6.3 6.8 9.4 9.4s6.2 4.9 9.3 6.2s6.2 1.5 9.3 1.5s5.7-.7 9.3-1.5s8.4-2.3 12.5-3.1s8.8-.6 12.4-1.6s6.2-3.3 9.3-4.6s6.5-3.7 9.3-3.2s5.2 3.7 7.8 6.3s5 6.8 7.8 9.3s5.7 4.6 9.3 5.6s8.2 .5 12.4 .6s10.9 0 13.1 0" fill="none" stroke="#000" stroke-width="2.3" stroke-linejoin="round" stroke-linecap="round"/><path d="M1040 1151.5c1.3 2.1 5.5 6.2 7.8 12.4s4.1 17.6 6.2 24.9s4.1 14.5 6.2 18.7s5.2 5.2 6.2 6.2" fill="none" stroke="#000" stroke-width="2.3" stroke-linejoin="round" stroke-linecap="round"/><path d="M1074.2 1213.7c1.3-3.1 5.2-11.5 7.8-18.7s5.1-17.5 7.7-24.8s5.2-14.1 7.8-18.7s5-7.7 7.8-8.7s5.9 1 9.3 2.5s7.5 3.6 10.9 6.2s6.7 5.7 9.3 9.3s4.1 8.6 6.2 12.5s3.6 8 6.2 10.8s6.3 6.6 9.4 6.3s6.2-4.4 9.3-7.8s6.2-8.8 9.3-12.4s6.2-7.3 9.3-9.4s6.3-2.8 9.4-3.1s6.5 0 9.3 1.6s5.2 5.2 7.8 7.8s5.4 6.2 7.7 7.7s4 2.6 6.3 1.6s4.9-5 7.7-7.8s5.8-6.7 9.4-9.3s8.8-3.9 12.4-6.2s6.2-5 9.3-7.8s6.2-6.7 9.3-9.3s6.3-5.2 9.4-6.3s6.2-1 9.3 0s6.2 3.7 9.3 6.3s5.7 6.7 9.3 9.3s8.3 4.5 12.5 6.2s8.9 2.2 12.4 3.7s7.2 1 8.7 5.6s.2 13 .6 21.8s1.3 25.9 1.6 31.1" fill="none" stroke="#000" stroke-width="2.3" stroke-linejoin="round" stroke-linecap="round"/><path d="M1383.5 1213.7c.4-5.2 1.4-22.3 2.2-31.1s1-16.1 2.5-21.8s3.6-7.7 6.2-12.4s6.2-10.8 9.3-15.5s6.2-9.7 9.3-12.5s5.7-4.1 9.3-4.6s8.9 .7 12.5 1.5s5.7 1.6 9.3 3.1s8.8 3.6 12.4 6.2s6.3 6 9.4 9.4s5.7 8 9.3 10.8s8.2 5 12.4 6.3s8.8 1 12.5 1.5s8.2 1.3 9.9 1.6" fill="none" stroke="#000" stroke-width="2.3" stroke-linejoin="round" stroke-linecap="round"/><path d="M663.3 695.9c.5 2.3 1 10.1 3.1 14s5.7 8 9.3 9.3s8.8-.6 12.4-1.6s6.2-5.9 9.3-4.6s6.3 6.2 9.4 12.4s6.5 18.2 9.3 24.9s5.5 12.1 7.8 15.5s3.9 5.7 6.2 4.7s5.5-6.8 7.8-10.9s4.1-11.4 6.2-14s4.1-4.4 6.2-1.5s4.6 10.3 6.2 18.6s2.7 20.7 3.7 31.1s1.8 20.7 2.5 31.1s.8 21.3 1.6 31.1s1.3 19.1 3.1 27.9s5 17.6 7.8 24.9s6.4 14.6 9.3 18.7s6.5 5.2 7.8 6.2" fill="none" stroke="#000" stroke-width="2.3" stroke-linejoin="round" stroke-linecap="round"/><path d="M809.4 936.8c1 1.5 4.1 7 6.2 9.3s4.1 6.2 6.2 4.7s3.9-9.3 6.2-14s5.2-10.9 7.8-14s4.9-4.4 7.7-4.7s6.3 4.6 9.4 3.1s7-6.7 9.3-12.4s3.4-12.9 4.7-21.7s2.1-18.1 3.1-31.1s2.1-32.7 3.1-46.7s1.8-26.7 3.1-37.3s2.8-21 4.6-26.4s4.2-7 6.3-6.2s4.1 4.4 6.2 10.9s4.4 17.1 6.2 28s3.2 24.4 4.7 37.3s3 30 4.6 40.4s2.9 21.2 4.7 21.7s4.4-11.9 6.2-18.6s3.1-17.7 4.7-21.8s3.1-6.2 4.6-3.1s3.1 13 4.7 21.8s3.1 22.3 4.7 31.1s2.8 16.5 4.6 21.7s3.9 9.3 6.2 9.3s5.7-3.6 7.8-9.3s3.2-15 4.7-24.9s3-23.8 4.6-34.2s2.9-22 4.7-27.9s4.1-8.8 6.2-7.8s4.1 6.5 6.2 14s4.1 19.7 6.2 31.1s4.2 25.9 6.3 37.3s3.6 22.8 6.2 31.1s6.2 14.5 9.3 18.6s5.7 6.2 9.3 6.2s9.3-5.4 12.5-6.2s5.7 1.3 6.8 1.6" fill="none" stroke="#000" stroke-width="2.3" stroke-linejoin="round" stroke-linecap="round"/><path d="M1040 955.4c.8 1.6 3.2 6.1 4.7 9.4s3.8 8.5 4.6 10.2" fill="none" stroke="#000" stroke-width="2.3" stroke-linejoin="round" stroke-linecap="round"/><path d="M1040 965c1.3 2.6 5 10.3 7.8 15.5s6.2 14.6 9.3 15.6s5.9-5.7 9.3-9.3s7-9.4 10.9-12.5s9-4.6 12.4-6.2s6.5-2.6 7.8-3.1" fill="none" stroke="#000" stroke-width="2.3" stroke-linejoin="round" stroke-linecap="round"/><path d="M1094.4 975c.8-3.8 2.6-15.3 4.7-22.7s5.1-16.8 7.7-21.7s5.2-8.3 7.8-7.8s5.2 5.5 7.8 10.9s4.8 16 7.7 21.7s6.3 11.4 9.4 12.5s6.2-3.6 9.3-6.2s6.2-7.6 9.3-9.4s5.7-2.3 9.3-1.5s7.8 3.4 12.5 6.2s11.4 7.9 15.5 10.9s7.8 5.9 9.3 7.1" fill="none" stroke="#000" stroke-width="2.3" stroke-linejoin="round" stroke-linecap="round"/><path d="M1192.3 965c2.1 1.3 8.5 5.7 12.4 7.8s7.3 5.4 10.9 4.6s8.3-7.2 10.9-9.3s3.9-2.6 4.7-3.1" fill="none" stroke="#000" stroke-width="2.3" stroke-linejoin="round" stroke-linecap="round"/><path d="M1226.5 975c.8-3.8 2.9-15.8 4.7-22.7s3.9-15 6.2-18.6s5-4.1 7.8-3.1s6.2 6.2 9.3 9.3s6.2 8.8 9.3 9.3s6.2-3.1 9.3-6.2s6-10.1 9.4-12.4s7.7-2.6 10.8-1.6s5.5 3.9 7.8 7.8s4.1 9.8 6.2 15.5s4.6 14.9 6.2 18.7s2.7 3.3 3.2 4" fill="none" stroke="#000" stroke-width="2.3" stroke-linejoin="round" stroke-linecap="round"/><path d="M1313.5 965c1 1.8 4 7.8 6.3 10.9s5.1 7.6 7.7 7.8s5.2-4.5 7.8-6.3s5.5-5.1 7.8-4.6s4.7 5.4 6.2 7.7s2.6 5.2 3.1 6.3" fill="none" stroke="#000" stroke-width="2.3" stroke-linejoin="round" stroke-linecap="round"/><path d="M1369.5 977.4L1374.2 965" fill="none" stroke="#000" stroke-width="2.3" stroke-linejoin="round" stroke-linecap="round"/><path d="M1374.2 975c1.3-5.3 4.9-21.5 7.7-32s6.3-21.8 9.4-31.1s6.5-16 9.3-24.8s5.5-19.2 7.8-28s4.1-17.6 6.2-24.9s4.4-17 6.2-18.6s3.2 3.1 4.7 9.3s2.5 19.2 4.6 28s5 18.1 7.8 24.8s5.7 11.4 9.3 15.6s8.8 6.7 12.4 9.3s6.8 1 9.4 6.2s4.1 17.1 6.2 24.9s3.6 15.5 6.2 21.7s6.7 12.3 9.3 15.6s5.2 3.3 6.2 4" fill="none" stroke="#000" stroke-width="2.3" stroke-linejoin="round" stroke-linecap="round"/><path d="M1484.5 965c1.5 1.5 6.2 7 9.3 9.3s6.7 3.9 9.4 4.7s5.7 0 6.8 0" fill="none" stroke="#000" stroke-width="2.3" stroke-linejoin="round" stroke-linecap="round"/><path d="M129.5 695.9c.5 2.3 1.5 11.4 3.1 14s4.5 2.5 6.3 1.5s3.3-5.1 4.6-7.7s2.6-6.5 3.1-7.8" fill="none" stroke="#000" stroke-width="2.3" stroke-linejoin="round" stroke-linecap="round"/><path d="M171.5 695.9c.5 2.9 1.3 13.5 3.1 17.1s5.2 4.9 7.8 4.6s5.9-2.6 7.7-6.2s2.7-12.9 3.2-15.5" fill="none" stroke="#000" stroke-width="2.3" stroke-linejoin="round" stroke-linecap="round"/><path d="M207.2 695.9c.8 3.4 2.6 15 4.7 20.2s6.5 9.1 7.8 10.9" fill="none" stroke="#000" stroke-width="2.3" stroke-linejoin="round" stroke-linecap="round"/><path d="M239.9 725.4c1.5-2.1 7.2-7.5 9.3-12.4s2.6-14.2 3.1-17.1" fill="none" stroke="#000" stroke-width="2.3" stroke-linejoin="round" stroke-linecap="round"/><path d="M291.2 695.9c.8 4.4 2.3 18.9 4.6 26.4s5.8 13.8 9.4 18.7s8.3 9.8 12.4 10.8s9.3-2.3 12.4-4.6s3.6-7.1 6.2-9.4s6.6-4.9 9.4-4.6s6.4 5.2 7.7 6.2" fill="none" stroke="#000" stroke-width="2.3" stroke-linejoin="round" stroke-linecap="round"/><path d="M364.2 741c1.6-1.6 6.7-3.2 9.3-9.4s5-21.9 6.3-27.9s1.2-6.5 1.5-7.8" fill="none" stroke="#000" stroke-width="2.3" stroke-linejoin="round" stroke-linecap="round"/><path d="M390.6 695.9c.8 4.4 2.6 17.9 4.7 26.4s5.2 18.4 7.8 24.9s4.9 11.4 7.7 14s7.8 1.2 9.4 1.5" fill="none" stroke="#000" stroke-width="2.3" stroke-linejoin="round" stroke-linecap="round"/><path d="M445 695.9c.5 2.3 1.6 11.1 3.2 14s4.4 4.1 6.2 3.1s3.6-6.4 4.6-9.3s1.3-6.5 1.6-7.8" fill="none" stroke="#000" stroke-width="2.3" stroke-linejoin="round" stroke-linecap="round"/><path d="M477.7 695.9c.8 1.3 2.5 6.3 4.6 7.8s5.5 2.3 7.8 1.5s4.9-4.7 6.2-6.2s1.3-2.6 1.6-3.1" fill="none" stroke="#000" stroke-width="2.3" stroke-linejoin="round" stroke-linecap="round"/><path d="M305.2 695.9c.5 3.4 1.6 15.3 3.1 20.2s4.1 8.8 6.2 9.3s4.6-1.3 6.2-6.2s2.6-19.4 3.1-23.3" fill="none" stroke="#000" stroke-width="2.3" stroke-linejoin="round" stroke-linecap="round"/><path d="M112.4 1153.1c1 1.8 5.5 6.9 6.3 10.8s-.6 8.3-1.6 12.5s-3.9 10.3-4.7 12.4" fill="none" stroke="#000" stroke-width="2.3" stroke-linejoin="round" stroke-linecap="round"/><path d="M660.4 693C661.9 734.6 674.1 734.6 675.6 693" fill="none" stroke="#000" stroke-width="1.9"/><ellipse cx="668" cy="709.4" rx="2.3" ry="10" fill="none" stroke="#000" stroke-width="1.7"/><path d="M699.5 693C700.8 715.5 711.4 715.5 712.7 693" fill="none" stroke="#000" stroke-width="1.9"/><path d="M719.8 693C721.9 721.2 738.7 721.2 740.8 693" fill="none" stroke="#000" stroke-width="1.9"/><path d="M761.8 693C763.3 731.1 775 731.1 776.5 693" fill="none" stroke="#000" stroke-width="1.9"/><ellipse cx="769.2" cy="708.6" rx="2.2" ry="9.2" fill="none" stroke="#000" stroke-width="1.7"/><path d="M789.3 693C790.6 716.1 800.4 716.1 801.6 693" fill="none" stroke="#000" stroke-width="1.9"/><path d="M826.8 693C828.5 712 842.3 712 844.1 693" fill="none" stroke="#000" stroke-width="1.9"/><path d="M876.1 693C877.4 725.5 887.7 725.5 889 693" fill="none" stroke="#000" stroke-width="1.9"/><path d="M908.9 693C910.6 727.3 924 727.3 925.6 693" fill="none" stroke="#000" stroke-width="1.9"/><path d="M943.3 693C945.7 724.4 965.4 724.4 967.9 693" fill="none" stroke="#000" stroke-width="1.9"/><ellipse cx="955.6" cy="707.1" rx="3.7" ry="7.6" fill="none" stroke="#000" stroke-width="1.7"/><path d="M975.1 693C977.7 722 997.9 722 1000.4 693" fill="none" stroke="#000" stroke-width="1.9"/><ellipse cx="987.8" cy="706.5" rx="3.8" ry="7" fill="none" stroke="#000" stroke-width="1.7"/><path d="M1031.7 693C1033.7 728.3 1049.8 728.3 1051.8 693" fill="none" stroke="#000" stroke-width="1.9"/><path d="M1066.2 693C1067.9 732.3 1081.5 732.3 1083.2 693" fill="none" stroke="#000" stroke-width="1.9"/><ellipse cx="1074.7" cy="708.9" rx="2.5" ry="9.5" fill="none" stroke="#000" stroke-width="1.7"/><path d="M1109.3 693C1110.7 727.3 1121.4 727.3 1122.7 693" fill="none" stroke="#000" stroke-width="1.9"/><path d="M1146.3 693C1148.6 722.4 1167.7 722.4 1170.1 693" fill="none" stroke="#000" stroke-width="1.9"/><ellipse cx="1158.2" cy="706.6" rx="3.6" ry="7.1" fill="none" stroke="#000" stroke-width="1.7"/><path d="M1181.9 693C1183.8 722.5 1199.3 722.5 1201.3 693" fill="none" stroke="#000" stroke-width="1.9"/><ellipse cx="1191.6" cy="706.7" rx="2.9" ry="7.1" fill="none" stroke="#000" stroke-width="1.7"/><path d="M1229.1 693C1231 727.6 1246.3 727.6 1248.2 693" fill="none" stroke="#000" stroke-width="1.9"/><path d="M1263.5 693C1264.8 718.1 1274.5 718.1 1275.7 693" fill="none" stroke="#000" stroke-width="1.9"/><path d="M1289.3 693C1291 731.2 1304.9 731.2 1306.6 693" fill="none" stroke="#000" stroke-width="1.9"/><path d="M1316.7 693C1318.4 713.4 1332.5 713.4 1334.2 693" fill="none" stroke="#000" stroke-width="1.9"/><path d="M1365 693C1366.4 729.3 1378.3 729.3 1379.8 693" fill="none" stroke="#000" stroke-width="1.9"/><path d="M1382.2 693C1384.4 718.1 1402.6 718.1 1404.9 693" fill="none" stroke="#000" stroke-width="1.9"/><ellipse cx="1393.5" cy="705.7" rx="3.4" ry="6" fill="none" stroke="#000" stroke-width="1.7"/><path d="M1425.1 693C1426.6 719.9 1438.8 719.9 1440.3 693" fill="none" stroke="#000" stroke-width="1.9"/><path d="M1453.8 693C1455.9 716.6 1472 716.6 1474.1 693" fill="none" stroke="#000" stroke-width="1.9"/><ellipse cx="1464" cy="705.3" rx="3" ry="5.7" fill="none" stroke="#000" stroke-width="1.7"/><path d="M1485.5 693C1486.8 722.8 1497.6 722.8 1499 693" fill="none" stroke="#000" stroke-width="1.9"/><path d="M112.4 812.4c.3-4.1 .8-16.5 1.6-24.8s2.1-17.4 3.1-24.9s1-15.5 3.1-20.2s6.5-9.1 9.3-7.8s5 8.9 7.8 15.6s5.7 19.1 9.3 24.8s8.3 10.4 12.5 9.4s8.8-11.5 12.4-15.6s5.9-10.1 9.3-9.3s7.3 8.8 10.9 14s7 16.6 10.9 17.1s8.5-10.4 12.4-14s8.1-9.6 10.9-7.8s4.1 10.9 6.2 18.7s3.6 20.2 6.2 28s5 14.5 9.4 18.6s11.1 4.2 17 6.2s14 6.1 18.7 5.6s7.1-2.6 9.3-8.7s3.2-17.1 3.8-28s-.1-25.9 0-37.3s0-22.2 .9-31s2.1-16.9 4.7-21.8s7.7-9.9 10.8-7.8s5.2 12.7 7.8 20.2s6.2 15.6 7.8 24.9s.7 19.7 1.5 31.1s1.8 33.7 3.1 37.3s3.1-6.8 4.7-15.6s2.9-27.7 4.7-37.3s3.3-15.6 6.2-20.2s7.8-11.1 10.9-7.7s5.4 18.1 7.7 27.9s4.4 20.7 6.2 31.1s2.9 24.1 4.7 31.1s3.6 9.9 6.2 10.9s7.1 .2 9.4-4.7s3.4-14.4 4.6-24.8s1.7-27.5 2.5-37.3s.6-18.4 2.2-21.8s5.1 .2 7.7 1.5s5.5 8.1 7.8 6.3s3.9-9.1 6.2-17.1s4.9-25.4 7.8-31.1s5.7-6.2 9.3-3.1s8.9 16.3 12.5 21.7s5.7 10.4 9.3 10.9s8.3-4.4 12.4-7.8s8.9-11.4 12.5-12.4s7.2 0 9.3 6.2s2.5 19.2 3.1 31.1s.1 29 .6 40.4s1.1 20.8 2.5 28s3.1 12.1 6.2 15.5s8.6 5.7 12.5 4.7s8.5-3.9 10.8-10.9s2.4-19.7 3.1-31.1s.2-26.9 1-37.3s1.5-20.7 3.7-24.8s7-4.1 9.3 0s3.7 15.5 4.7 24.8s.8 21.2 1.5 31.1s-4.6 30.6 2.5 28s33.1-33.6 40.1-43.5s.8-10.4 1.6-15.6s1.6-9.8 3.1-15.5s4.1-12.7 6.2-18.7s3.1-13 6.2-17.1s8.6-7.5 12.5-7.7s8.5 .5 10.8 6.2s2.3 18.1 3.1 28s.8 18.7 1.6 31.1s1.6 32.9 3.1 43.5s4.4 19.7 6.2 20.2s3.4-9.1 4.7-17.1s1.8-22.3 3.1-31.1s2.6-14.8 4.7-21.8s5.6-16.1 7.7-20.2s2.6-6.9 4.7-4.6s5.5 11.9 7.8 18.6s4.6 13.5 6.2 21.8s2.2 21 3.1 28s1.2 14.9 2.2 13.9s3.1-11.7 4-20.2s1.2-20.6 1.6-31s.1-22.3 .6-31.1s1-16.1 2.5-21.8s3.4-10.6 6.2-12.4s8.6-1.6 10.9 1.5s2.3 11.6 3.1 17.1s.2 9.4 1.5 15.6s4.4 14.4 6.2 21.7s3.4 15.1 4.7 21.8s2.4 12.4 3.1 18.6s.3 18.7 1 18.7s2.2-10.4 3.1-18.7s1.6-20.6 2.1-31s.5-22.3 1-31.1s1-16.4 2.1-21.8s2.4-9.9 4.7-10.9s6.7 .8 9.3 4.7s5 12.4 6.3 18.6s.7 12 1.5 18.7s1.6 15.6 3.1 21.8s4.4 10.3 6.2 15.5s3.7 11.1 4.7 15.5s.7 11.9 1.5 10.9s2.1-10.1 3.2-17.1s2.3-15.5 3.1-24.8s1-23.3 1.5-31.1s.6-10.9 1.6-15.6s2.5-11.4 4.6-12.4s5.7 2.6 7.8 6.2s3.7 8.9 4.7 15.6s1.1 16 1.5 24.8s.3 18.7 .6 28s.1 20 1 28s2.5 16.6 4.6 20.2s5.6 2.8 7.8 1.5s4.3-3.6 5.6-9.3s1.7-16.6 2.2-24.9s.4-17.5 .9-24.8s.5-13.5 2.2-18.7s4.7-8.8 7.8-12.4s7.7-10.9 10.8-9.3s5.7 12.9 7.8 18.6s3.4 9.9 4.7 15.6s2.1 12.9 3.1 18.6s2.1 17 3.1 15.5s2.2-16.5 3.1-24.8s.9-16.1 2.2-24.9s3.1-21.8 5.6-28s6.8-9.8 9.3-9.3s4.5 6.2 5.6 12.4s.6 16.6 1.2 24.9s1.3 17.1 2.5 24.9s2.9 15.5 4.7 21.7s3.9 10.4 6.2 15.6s5.5 11.9 7.8 15.5s4.1 8.8 6.2 6.2s4.6-12.9 6.2-21.7s2.3-20.7 3.1-31.1s1-22.3 1.6-31.1s1.1-21.7 2.1-21.7s2.6 15.5 4.1 21.7s2.9 8.9 4.7 15.6s4.4 17 6.2 24.8s3.3 15.1 4.6 21.8s1.3 16 3.1 18.6s5.7 0 7.8-3.1s3.4-7.7 4.7-15.5s2.1-20.7 3.1-31.1s2.2-19.7 3.1-31.1s1.2-34.7 2.2-37.3s2.3 14 4 21.8s4.4 17 6.2 24.8s3.4 14.5 4.7 21.8s2.1 14.6 3.1 21.8s1.5 16.8 3.1 21.7s3.6 7.3 6.2 7.8s7.2 .2 9.3-4.7s2.1-16 3.2-24.8s1.8-21.8 3.1-28s3.5-11.9 4.6-9.3s.8 18.1 2.2 24.8s3.9 9.9 6.2 15.6s4.7 13.4 7.8 18.6s7.3 10.9 10.9 12.4s7.2-.5 10.8-3.1s6.7-10.1 10.9-12.4s10.6 .6 14-1.5s4.1-4.9 6.2-10.9s3.6-17.1 6.2-24.9s6.8-15.6 9.4-21.8s4.6-16 6.2-15.5s2.3 10.4 3.1 18.7s.8 21.7 1.6 31s1.3 18.9 3.1 24.9s5.1 10.9 7.7 10.9s6-4.9 7.8-10.9s2.3-15.6 3.1-24.9s1.1-20.6 1.6-31s.6-23.1 1.5-31.1s2.3-15.5 3.8-17.1s3.8 2.3 5.5 7.7s2.6 18.2 4.7 24.9s5.5 8.9 7.8 15.6s4.4 16.5 6.2 24.8s2.9 17.9 4.7 24.9s3.6 15.6 6.2 17.1s7-2.9 9.3-7.8s3.2-13.4 4.7-21.7s3.3-21.2 4.6-28s1.8-13 3.1-12.5s2.6 9.9 4.7 15.6s5.2 13.4 7.8 18.6s5.6 12.5 7.7 12.5s3.6-5.2 4.7-12.5s1.1-20.6 1.6-31s.9-22.3 1.5-31.1s.4-17.4 2.2-21.8s6.2-5.7 8.7-4.7s4.7 3.9 6.2 10.9s2.3 20.7 3.1 31.1s1.1 20.7 1.6 31.1s.5 22.8 1.5 31.1s2.4 14.5 4.7 18.6s5.7 5.7 9.3 6.2s9.1 .5 12.5-3.1s5.8-12.9 7.7-18.6s2-16.1 3.8-15.6s4.9 13.2 7.1 18.7s4.1 11.9 6.2 14s4.4 2.3 6.2-1.6s2.9-12.9 4.7-21.7s4.1-21.8 6.2-31.1s4.4-17.1 6.2-24.9s3.1-16.5 4.7-21.7s2.4-9.4 4.7-9.4s7 4.2 9.3 9.4s3.5 13.9 4.6 21.7s1.4 16.1 2.2 24.9s1.3 20 2.5 28s2.6 16.6 4.7 20.2s5.4 3.8 7.7 1.5s4.5-9.3 6.3-15.5s2.5-19.7 4.6-21.8s5 5.7 7.8 9.3s6.2 8.4 9.3 12.5s6.5 10.1 9.3 12.4s5.5 4.7 7.8 1.6s4.7-12.7 6.2-20.2s2-17.6 3.1-24.9s2-16.1 3.8-18.7s4.6 .1 7.1 3.2s5.5 9.3 7.8 15.5s4.1 15.1 6.2 21.8s3.9 15.2 6.2 18.6s5.7 4.2 7.8 1.6s3.4-11.1 4.7-17.1s1.8-13.5 3.1-18.7s2.8-12.4 4.6-12.4s3.6 8.8 6.2 12.4s7.8 7.8 9.4 9.3" fill="none" stroke="#000" stroke-width="4.9" stroke-linejoin="round" stroke-linecap="butt" stroke-dasharray="7.6 3.4"/><line x1="110" y1="887.5" x2="1500" y2="887.5" stroke="#ececec" stroke-width="4.8" stroke-dasharray="24 18.3" stroke-dashoffset="9.4" opacity="0.9"/><line x1="110" y1="1048" x2="1507" y2="1048" stroke="#f0f0f0" stroke-width="4.6" stroke-dasharray="5.2 6.8" opacity="0.9"/><text transform="translate(221 747) rotate(0) scale(0.85 1)" font-size="27" text-anchor="start" fill="#000" font-style="italic">7</text><text transform="translate(458 770) rotate(0) scale(0.85 1)" font-size="27" text-anchor="start" fill="#000" font-style="italic">7</text><text transform="translate(231 1037) rotate(-75) scale(0.85 1)" font-size="27" text-anchor="start" fill="#000" font-style="italic">6</text><text transform="translate(315 755) rotate(40) scale(0.85 1)" font-size="25" text-anchor="start" fill="#000" font-style="italic">7</text><text transform="translate(816 1164) rotate(0) scale(0.85 1)" font-size="31" text-anchor="start" fill="#000" font-style="italic">5</text><text transform="translate(790 955) rotate(-40) scale(0.85 1)" font-size="27" text-anchor="start" fill="#000" font-style="italic">7</text><text transform="translate(1051 1105) rotate(0) scale(0.85 1)" font-size="29" text-anchor="start" fill="#000" font-style="italic">6</text><text transform="translate(1352 1008) rotate(0) scale(0.85 1)" font-size="29" text-anchor="start" fill="#000" font-style="italic">7</text><text transform="translate(311 739) rotate(0) scale(0.85 1)" font-size="19" text-anchor="start" fill="#000" font-style="italic">8</text><text transform="translate(311 728) rotate(0) scale(0.85 1)" font-size="19" text-anchor="start" fill="#000" font-style="italic">8</text><text transform="translate(718 742) scale(0.85 1)" font-size="26" text-anchor="start" fill="#000" font-style="italic">8</text><text transform="translate(770 745) scale(0.85 1)" font-size="26" text-anchor="start" fill="#000" font-style="italic">8</text><text transform="translate(821 738) scale(0.85 1)" font-size="26" text-anchor="start" fill="#000" font-style="italic">8</text><text transform="translate(900 735) scale(0.85 1)" font-size="26" text-anchor="start" fill="#000" font-style="italic">8</text><text transform="translate(1007 738) scale(0.85 1)" font-size="26" text-anchor="start" fill="#000" font-style="italic">8</text><text transform="translate(1040 760) scale(0.85 1)" font-size="26" text-anchor="start" fill="#000" font-style="italic">8</text><text transform="translate(1127 738) scale(0.85 1)" font-size="26" text-anchor="start" fill="#000" font-style="italic">8</text><text transform="translate(1220 740) scale(0.85 1)" font-size="26" text-anchor="start" fill="#000" font-style="italic">8</text><text transform="translate(1272 734) scale(0.85 1)" font-size="26" text-anchor="start" fill="#000" font-style="italic">8</text><text transform="translate(1358 750) scale(0.85 1)" font-size="26" text-anchor="start" fill="#000" font-style="italic">8</text><text transform="translate(1446 735) scale(0.85 1)" font-size="26" text-anchor="start" fill="#000" font-style="italic">8</text><text transform="translate(1175 705) scale(0.85 1)" font-size="26" text-anchor="start" fill="#000" font-style="italic">8</text><text transform="translate(1080 720) scale(0.85 1)" font-size="26" text-anchor="start" fill="#000" font-style="italic">8</text><text transform="translate(960 702) scale(0.85 1)" font-size="26" text-anchor="start" fill="#000" font-style="italic">8</text><text transform="translate(199 1176.5) scale(0.95 1)" font-size="59" text-anchor="start" fill="#000">B</text><text transform="translate(1157.5 1126.6) scale(0.856 1)" font-size="55.5" text-anchor="start" fill="#000" font-weight="bold">Temperature</text>
</g>
<line x1="102.3" y1="692" x2="102.3" y2="1246.5" stroke="#000" stroke-width="2"/><line x1="102.3" y1="693.5" x2="1508.5" y2="693.5" stroke="#000" stroke-width="3"/><line x1="1507" y1="693.5" x2="1507" y2="1245.5" stroke="#000" stroke-width="3"/><line x1="102.3" y1="1244" x2="1508.5" y2="1244" stroke="#000" stroke-width="3"/><line x1="86.3" y1="693.5" x2="102.3" y2="693.5" stroke="#000" stroke-width="1.3"/><line x1="86.3" y1="852" x2="102.3" y2="852" stroke="#000" stroke-width="1.3"/><line x1="86.3" y1="989" x2="102.3" y2="989" stroke="#000" stroke-width="1.3"/><line x1="86.3" y1="1091.6" x2="102.3" y2="1091.6" stroke="#000" stroke-width="1.3"/><line x1="86.3" y1="1159.5" x2="102.3" y2="1159.5" stroke="#000" stroke-width="1.3"/><line x1="86.3" y1="1202.8" x2="102.3" y2="1202.8" stroke="#000" stroke-width="1.3"/><line x1="86.3" y1="1230" x2="102.3" y2="1230" stroke="#000" stroke-width="1.3"/><line x1="91.3" y1="756.9" x2="102.3" y2="756.9" stroke="#000" stroke-width="1.1" opacity="0.8"/><line x1="91.3" y1="820.3" x2="102.3" y2="820.3" stroke="#000" stroke-width="1.1" opacity="0.8"/><line x1="91.3" y1="879.4" x2="102.3" y2="879.4" stroke="#000" stroke-width="1.1" opacity="0.8"/><line x1="91.3" y1="934.2" x2="102.3" y2="934.2" stroke="#000" stroke-width="1.1" opacity="0.8"/><line x1="91.3" y1="1030" x2="102.3" y2="1030" stroke="#000" stroke-width="1.1" opacity="0.8"/><line x1="91.3" y1="1071.1" x2="102.3" y2="1071.1" stroke="#000" stroke-width="1.1" opacity="0.8"/><line x1="91.3" y1="1105.2" x2="102.3" y2="1105.2" stroke="#000" stroke-width="1.1" opacity="0.8"/><line x1="91.3" y1="1132.3" x2="102.3" y2="1132.3" stroke="#000" stroke-width="1.1" opacity="0.8"/><line x1="91.3" y1="1176.8" x2="102.3" y2="1176.8" stroke="#000" stroke-width="1.1" opacity="0.8"/><line x1="91.3" y1="1194.1" x2="102.3" y2="1194.1" stroke="#000" stroke-width="1.1" opacity="0.8"/><line x1="91.3" y1="1208.2" x2="102.3" y2="1208.2" stroke="#000" stroke-width="1.1" opacity="0.8"/><line x1="91.3" y1="1219.1" x2="102.3" y2="1219.1" stroke="#000" stroke-width="1.1" opacity="0.8"/><line x1="196.8" y1="684.5" x2="196.8" y2="693.5" stroke="#000" stroke-width="1.2"/><line x1="309.7" y1="687.5" x2="309.7" y2="693.5" stroke="#000" stroke-width="1.2" opacity="0.45"/><line x1="422.6" y1="684.5" x2="422.6" y2="693.5" stroke="#000" stroke-width="1.2"/><line x1="535.4" y1="687.5" x2="535.4" y2="693.5" stroke="#000" stroke-width="1.2" opacity="0.45"/><line x1="648.3" y1="684.5" x2="648.3" y2="693.5" stroke="#000" stroke-width="1.2"/><line x1="761.2" y1="687.5" x2="761.2" y2="693.5" stroke="#000" stroke-width="1.2" opacity="0.45"/><line x1="874" y1="684.5" x2="874" y2="693.5" stroke="#000" stroke-width="1.2"/><line x1="986.9" y1="687.5" x2="986.9" y2="693.5" stroke="#000" stroke-width="1.2" opacity="0.45"/><line x1="1099.8" y1="684.5" x2="1099.8" y2="693.5" stroke="#000" stroke-width="1.2"/><line x1="1212.7" y1="687.5" x2="1212.7" y2="693.5" stroke="#000" stroke-width="1.2" opacity="0.45"/><line x1="1325.5" y1="684.5" x2="1325.5" y2="693.5" stroke="#000" stroke-width="1.2"/><line x1="1438.4" y1="687.5" x2="1438.4" y2="693.5" stroke="#000" stroke-width="1.2" opacity="0.45"/>
<text transform="translate(77 705.8) scale(0.84 1)" font-size="35" text-anchor="end" fill="#000" font-style="italic">0</text><text transform="translate(77 865.8) scale(0.84 1)" font-size="39" text-anchor="end" fill="#000" font-style="italic">250</text><text transform="translate(77 1002.8) scale(0.84 1)" font-size="39" text-anchor="end" fill="#000" font-style="italic">500</text><text transform="translate(77 1105.4) scale(0.84 1)" font-size="39" text-anchor="end" fill="#000" font-style="italic">750</text><text transform="translate(77 1173.3) scale(0.84 1)" font-size="39" text-anchor="end" fill="#000" font-style="italic">1000</text><text transform="translate(77 1216.6) scale(0.84 1)" font-size="39" text-anchor="end" fill="#000" font-style="italic">1250</text><text transform="translate(77 1257.8) scale(0.84 1)" font-size="39" text-anchor="end" fill="#000" font-style="italic">1750</text>
<g clip-path="url(#clipC)">
<g filter="url(#fbc)"><rect x="162" y="1368" width="11.6" height="578" fill="url(#c0)"/><rect x="173" y="1368" width="11.6" height="578" fill="url(#c1)"/><rect x="184" y="1368" width="11.6" height="578" fill="url(#c2)"/><rect x="195" y="1368" width="11.6" height="578" fill="url(#c3)"/><rect x="206" y="1368" width="11.6" height="578" fill="url(#c4)"/><rect x="217" y="1368" width="11.6" height="578" fill="url(#c5)"/><rect x="228" y="1368" width="11.6" height="578" fill="url(#c6)"/><rect x="239" y="1368" width="11.6" height="578" fill="url(#c7)"/><rect x="250" y="1368" width="11.6" height="578" fill="url(#c8)"/><rect x="261" y="1368" width="11.6" height="578" fill="url(#c9)"/><rect x="272" y="1368" width="11.6" height="578" fill="url(#c10)"/><rect x="283" y="1368" width="11.6" height="578" fill="url(#c11)"/><rect x="294" y="1368" width="11.6" height="578" fill="url(#c12)"/><rect x="305" y="1368" width="11.6" height="578" fill="url(#c13)"/><rect x="316" y="1368" width="11.6" height="578" fill="url(#c14)"/><rect x="327" y="1368" width="11.6" height="578" fill="url(#c15)"/><rect x="338" y="1368" width="11.6" height="578" fill="url(#c16)"/><rect x="349" y="1368" width="11.6" height="578" fill="url(#c17)"/><rect x="360" y="1368" width="11.6" height="578" fill="url(#c18)"/><rect x="371" y="1368" width="11.6" height="578" fill="url(#c19)"/><rect x="382" y="1368" width="11.6" height="578" fill="url(#c20)"/><rect x="393" y="1368" width="11.6" height="578" fill="url(#c21)"/><rect x="404" y="1368" width="11.6" height="578" fill="url(#c22)"/><rect x="415" y="1368" width="11.6" height="578" fill="url(#c23)"/><rect x="426" y="1368" width="11.6" height="578" fill="url(#c24)"/><rect x="437" y="1368" width="11.6" height="578" fill="url(#c25)"/><rect x="448" y="1368" width="11.6" height="578" fill="url(#c26)"/><rect x="459" y="1368" width="11.6" height="578" fill="url(#c27)"/><rect x="470" y="1368" width="11.6" height="578" fill="url(#c28)"/><rect x="481" y="1368" width="11.6" height="578" fill="url(#c29)"/><rect x="492" y="1368" width="11.6" height="578" fill="url(#c30)"/><rect x="503" y="1368" width="11.6" height="578" fill="url(#c31)"/><rect x="514" y="1368" width="11.6" height="578" fill="url(#c32)"/><rect x="525" y="1368" width="11.6" height="578" fill="url(#c33)"/><rect x="536" y="1368" width="11.6" height="578" fill="url(#c34)"/><rect x="547" y="1368" width="11.6" height="578" fill="url(#c35)"/><rect x="558" y="1368" width="11.6" height="578" fill="url(#c36)"/><rect x="569" y="1368" width="11.6" height="578" fill="url(#c37)"/><rect x="580" y="1368" width="11.6" height="578" fill="url(#c38)"/><rect x="591" y="1368" width="11.6" height="578" fill="url(#c39)"/><rect x="602" y="1368" width="11.6" height="578" fill="url(#c40)"/><rect x="613" y="1368" width="11.6" height="578" fill="url(#c41)"/><rect x="624" y="1368" width="11.6" height="578" fill="url(#c42)"/><rect x="635" y="1368" width="11.6" height="578" fill="url(#c43)"/><rect x="646" y="1368" width="11.6" height="578" fill="url(#c44)"/><rect x="657" y="1368" width="11.6" height="578" fill="url(#c45)"/><rect x="668" y="1368" width="11.6" height="578" fill="url(#c46)"/><rect x="679" y="1368" width="11.6" height="578" fill="url(#c47)"/><rect x="690" y="1368" width="11.6" height="578" fill="url(#c48)"/><rect x="701" y="1368" width="11.6" height="578" fill="url(#c49)"/><rect x="712" y="1368" width="11.6" height="578" fill="url(#c50)"/><rect x="723" y="1368" width="11.6" height="578" fill="url(#c51)"/><rect x="734" y="1368" width="11.6" height="578" fill="url(#c52)"/><rect x="745" y="1368" width="11.6" height="578" fill="url(#c53)"/><rect x="756" y="1368" width="11.6" height="578" fill="url(#c54)"/><rect x="767" y="1368" width="11.6" height="578" fill="url(#c55)"/><rect x="778" y="1368" width="11.6" height="578" fill="url(#c56)"/><rect x="789" y="1368" width="11.6" height="578" fill="url(#c57)"/><rect x="800" y="1368" width="11.6" height="578" fill="url(#c58)"/><rect x="811" y="1368" width="11.6" height="578" fill="url(#c59)"/><rect x="822" y="1368" width="11.6" height="578" fill="url(#c60)"/><rect x="833" y="1368" width="11.6" height="578" fill="url(#c61)"/><rect x="844" y="1368" width="11.6" height="578" fill="url(#c62)"/><rect x="855" y="1368" width="11.6" height="578" fill="url(#c63)"/><rect x="866" y="1368" width="11.6" height="578" fill="url(#c64)"/><rect x="877" y="1368" width="11.6" height="578" fill="url(#c65)"/><rect x="888" y="1368" width="11.6" height="578" fill="url(#c66)"/><rect x="899" y="1368" width="11.6" height="578" fill="url(#c67)"/><rect x="910" y="1368" width="11.6" height="578" fill="url(#c68)"/><rect x="921" y="1368" width="11.6" height="578" fill="url(#c69)"/><rect x="932" y="1368" width="11.6" height="578" fill="url(#c70)"/><rect x="943" y="1368" width="11.6" height="578" fill="url(#c71)"/><rect x="954" y="1368" width="11.6" height="578" fill="url(#c72)"/><rect x="965" y="1368" width="11.6" height="578" fill="url(#c73)"/><rect x="976" y="1368" width="11.6" height="578" fill="url(#c74)"/><rect x="987" y="1368" width="11.6" height="578" fill="url(#c75)"/><rect x="998" y="1368" width="11.6" height="578" fill="url(#c76)"/><rect x="1009" y="1368" width="11.6" height="578" fill="url(#c77)"/><rect x="1020" y="1368" width="11.6" height="578" fill="url(#c78)"/><rect x="1031" y="1368" width="11.6" height="578" fill="url(#c79)"/><rect x="1042" y="1368" width="11.6" height="578" fill="url(#c80)"/><rect x="1053" y="1368" width="11.6" height="578" fill="url(#c81)"/><rect x="1064" y="1368" width="11.6" height="578" fill="url(#c82)"/><rect x="1075" y="1368" width="11.6" height="578" fill="url(#c83)"/><rect x="1086" y="1368" width="11.6" height="578" fill="url(#c84)"/><rect x="1097" y="1368" width="11.6" height="578" fill="url(#c85)"/><rect x="1108" y="1368" width="11.6" height="578" fill="url(#c86)"/><rect x="1119" y="1368" width="11.6" height="578" fill="url(#c87)"/><rect x="1130" y="1368" width="11.6" height="578" fill="url(#c88)"/><rect x="1141" y="1368" width="11.6" height="578" fill="url(#c89)"/><rect x="1152" y="1368" width="11.6" height="578" fill="url(#c90)"/><rect x="1163" y="1368" width="11.6" height="578" fill="url(#c91)"/><rect x="1174" y="1368" width="11.6" height="578" fill="url(#c92)"/><rect x="1185" y="1368" width="11.6" height="578" fill="url(#c93)"/><rect x="1196" y="1368" width="11.6" height="578" fill="url(#c94)"/><rect x="1207" y="1368" width="11.6" height="578" fill="url(#c95)"/><rect x="1218" y="1368" width="11.6" height="578" fill="url(#c96)"/><rect x="1229" y="1368" width="11.6" height="578" fill="url(#c97)"/><rect x="1240" y="1368" width="11.6" height="578" fill="url(#c98)"/><rect x="1251" y="1368" width="11.6" height="578" fill="url(#c99)"/><rect x="1262" y="1368" width="11.6" height="578" fill="url(#c100)"/><rect x="1273" y="1368" width="11.6" height="578" fill="url(#c101)"/><rect x="1284" y="1368" width="11.6" height="578" fill="url(#c102)"/><rect x="1295" y="1368" width="11.6" height="578" fill="url(#c103)"/><rect x="1306" y="1368" width="11.6" height="578" fill="url(#c104)"/><rect x="1317" y="1368" width="11.6" height="578" fill="url(#c105)"/><rect x="1328" y="1368" width="11.6" height="578" fill="url(#c106)"/><rect x="1339" y="1368" width="11.6" height="578" fill="url(#c107)"/><rect x="1350" y="1368" width="11.6" height="578" fill="url(#c108)"/><rect x="1361" y="1368" width="11.6" height="578" fill="url(#c109)"/><rect x="1372" y="1368" width="11.6" height="578" fill="url(#c110)"/><rect x="1383" y="1368" width="11.6" height="578" fill="url(#c111)"/><rect x="1394" y="1368" width="11.6" height="578" fill="url(#c112)"/><rect x="1405" y="1368" width="11.6" height="578" fill="url(#c113)"/><rect x="1416" y="1368" width="11.6" height="578" fill="url(#c114)"/><rect x="1427" y="1368" width="11.6" height="578" fill="url(#c115)"/><rect x="1438" y="1368" width="11.6" height="578" fill="url(#c116)"/><rect x="1449" y="1368" width="11.6" height="578" fill="url(#c117)"/><rect x="1460" y="1368" width="11.6" height="578" fill="url(#c118)"/><rect x="1471" y="1368" width="11.6" height="578" fill="url(#c119)"/></g>
</g>
<line x1="90.7" y1="1527.8" x2="174" y2="1527.8" stroke="#000" stroke-width="1.1" opacity="0.8"/><line x1="174" y1="1527.8" x2="1465.5" y2="1527.8" stroke="#000" stroke-width="1.1" opacity="0.8"/><line x1="90.7" y1="1657" x2="174" y2="1657" stroke="#000" stroke-width="1.1" opacity="0.8"/><line x1="174" y1="1657" x2="1465.5" y2="1657" stroke="#000" stroke-width="1.1" opacity="0.1"/><line x1="90.7" y1="1757.6" x2="174" y2="1757.6" stroke="#000" stroke-width="1.1" opacity="0.8"/><line x1="174" y1="1757.6" x2="1465.5" y2="1757.6" stroke="#000" stroke-width="1.1" opacity="0.8"/><line x1="90.7" y1="1829.7" x2="174" y2="1829.7" stroke="#000" stroke-width="1.1" opacity="0.8"/><line x1="174" y1="1829.7" x2="1465.5" y2="1829.7" stroke="#000" stroke-width="1.1" opacity="0.7"/><line x1="90.7" y1="1877.8" x2="174" y2="1877.8" stroke="#000" stroke-width="1.1" opacity="0.8"/><line x1="174" y1="1877.8" x2="1465.5" y2="1877.8" stroke="#000" stroke-width="1.1" opacity="0.6"/><line x1="90.7" y1="1908" x2="174" y2="1908" stroke="#000" stroke-width="1.1" opacity="0.8"/><line x1="174" y1="1908" x2="1465.5" y2="1908" stroke="#000" stroke-width="1.1" opacity="0.5"/><line x1="90.7" y1="1927.5" x2="174" y2="1927.5" stroke="#000" stroke-width="1.1" opacity="0.8"/><line x1="174" y1="1927.5" x2="1465.5" y2="1927.5" stroke="#000" stroke-width="1.1" opacity="0.5"/><line x1="192.4" y1="1380" x2="192.4" y2="1934" stroke="#000" stroke-width="1.1" opacity="0.85"/><line x1="412.1" y1="1380" x2="412.1" y2="1934" stroke="#000" stroke-width="1.1" opacity="0.85"/><line x1="631.7" y1="1380" x2="631.7" y2="1934" stroke="#000" stroke-width="1.1" opacity="0.85"/><line x1="851.4" y1="1380" x2="851.4" y2="1934" stroke="#000" stroke-width="1.1" opacity="0.85"/><line x1="1071" y1="1380" x2="1071" y2="1934" stroke="#000" stroke-width="1.1" opacity="0.85"/><line x1="1290.7" y1="1380" x2="1290.7" y2="1934" stroke="#000" stroke-width="1.1" opacity="0.85"/>
<g clip-path="url(#clipC)">
<path d="M191 1385.4h0m28.5 .6h0m50.6 .1h0m21.9-.3h0m54.9-.2h0m11 .4h0m63.7 .4h0m11-.7h0m39.5-.1h0m11 0h0m37.4 1h0m21.9-.8h0m20.7 .1h0m23.3 .3h0m10.9-.1h0m33-.9h0m9.6 .9h0m11-.8h0m42.6 .9h0m11-.1h0m12.3 .1h0m22-.1h0m22-.5h0m32.9 .7h0m23.3-.1h0m11-.4h0m54.9 0h0m65.9 1h0m20.6-.3h0m11-.6h0m11 0h0m12.3-.6h0m31.6 1.2h0m11-.1h0m65.9 0h0m20.6 .3h0m11-.9h0m22 .5h0m11 .2h0m21.9-1.2h0m20.7 1.4h0m32.9-1.4h0m11 .5h0m33-.4h0m20.6-.1h0m43.9 .6h0m33 .7h0m22-.3h0m-1233.6 5.5h0m28.6 .9h0m8.7 .2h0m30.8-1.2h0m19.8 .7h0m21.9-.4h0m65.9 1.3h0m83.5-.6h0m19.8 .2h0m21.9-.1h0m59.3-.1h0m9.7 .4h0m11-.1h0m45.2-.3h0m53.6-.7h0m22-.2h0m9.6 .7h0m23.3 .4h0m11 .1h0m11 .2h0m54.9-.9h0m12.3 .6h0m11-.8h0m11-.2h0m43.9 1h0m32.9-.2h0m22-.6h0m31.6 .3h0m22-.5h0m23.3 .2h0m42.6-.3h0m22 .4h0m108.5 0h0m21.9 .5h0m20.7 .3h0m11-1h0m10.9 .4h0m45.3-.1h0m9.7-.3h0m20.6 .8h0m33-.1h0m10.9-.3h0m76.9 .2h0m11-.9h0m-1237.9 7.8h0m39.5-.2h0m19.8-.2h0m10.9-.9h0m19.8 .2h0m11 0h0m57.1 1.2h0m41.7-.3h0m11-.7h0m11 .2h0m8.8 .4h0m30.7 .1h0m11-.3h0m69-.6h0m34.3 .3h0m21.9 .5h0m42.6-.7h0m33-.1h0m9.6 .7h0m23.3-.6h0m22 1.1h0m54.9-.1h0m12.3-.6h0m76.9-.1h0m65.9 .2h0m54.9-.7h0m42.6 1.2h0m22-1.1h0m10.9-.1h0m11 1.1h0m42.6-.9h0m11 .6h0m11 .2h0m75.6-.5h0m21.9-.1h0m22 .9h0m22 .1h0m20.6-.5h0m33-1h0m10.9 .1h0m22 1.3h0m11-1.4h0m43.9 .5h0m11-.2h0m-1257.7 7.7h0m19.8 .5h0m39.5-.3h0m19.8-1.1h0m10.9 1.2h0m19.8-.4h0m19.8 .2h0m48.3-.2h0m52.7 .2h0m19.8-.3h0m19.8 .8h0m10.9-.9h0m11 .6h0m47 .1h0m33-1h0m23.3 1.1h0m10.9 0h0m11-.5h0m42.6-1h0m11 .6h0m54.9-.6h0m11 0h0m11 .9h0m11 .1h0m11-.6h0m21.9 1h0m34.3-.2h0m32.9-.4h0m54.9 .3h0m86.6-.4h0m43.9 .1h0m43.9 .2h0m64.6-.5h0m22 1h0m43.9-1.5h0m31.6 .8h0m22 .4h0m11 .4h0m22-.8h0m20.6 .3h0m43.9 .2h0m33-.6h0m65.9-.4h0m-1240.2 7.9h0m50.6-.4h0m10.9-.7h0m19.8 0h0m19.8 1.1h0m37.3-.6h0m11 .5h0m72.5 0h0m11-.7h0m19.7 1.2h0m37.4-1.6h0m20.6 .8h0m33 .1h0m23.3-.4h0m21.9 1h0m22-1.4h0m9.6 .6h0m11-.3h0m11 1h0m31.6-.5h0m11-.8h0m23.3 .2h0m22 .1h0m11 1h0m21.9-1.3h0m23.3 1h0m54.9-.7h0m22 .4h0m11-.2h0m75.5 .7h0m76.9-1h0m22-.3h0m10.9 .1h0m11 .5h0m22 .2h0m31.6 .4h0m11 .1h0m43.9 .3h0m11-.2h0m9.7-1.2h0m11-.1h0m21.9 .8h0m11-.3h0m33 .6h0m9.6-1.1h0m109.9 .8h0m21.9 .2h0m11-1h0m11 .1h0m-1277.5 11.9h0m8.8-.6h0m19.8 .2h0m8.7-.4h0m50.6 .5h0m10.9-.1h0m11 0h0m8.8-.2h0m11 .6h0m8.8 .2h0m26.3-.9h0m22 0h0m30.8 1.1h0m21.9-.5h0m19.8-.5h0m11-.4h0m8.8 0h0m10.9 .8h0m11 .6h0m37.4-.9h0m21.9 .6h0m9.7 0h0m11-1.1h0m12.3 .3h0m11 0h0m21.9-.1h0m22-.2h0m9.6 .6h0m11 .1h0m11-.8h0m11 .3h0m11 .9h0m9.6-.6h0m11 .6h0m12.3 .3h0m11-1h0m22-.2h0m11 .3h0m9.6 0h0m12.3 0h0m11 .5h0m34.3-.5h0m54.9-.1h0m11 0h0m10.9 1h0m22-.7h0m22 .1h0m9.6-.6h0m11 .9h0m22-.9h0m12.3 .7h0m22 .5h0m9.6-.6h0m11 .6h0m32.9-1.3h0m11-.2h0m42.6 1.2h0m11-.2h0m11 .5h0m11-1.3h0m11 1.1h0m53.6-.7h0m10.9 .8h0m11-.9h0m11 .5h0m11-.8h0m12.3 .2h0m9.7-.4h0m20.6 1h0m11 .4h0m22 0h0m10.9-.6h0m11 .3h0m11 .1h0m11-.3h0m22 .1h0m21.9 .1h0m11-1h0m11 1.5h0m-1277.5 15.5h0m8.8-.1h0m19.8 0h0m8.7 .1h0m30.8 0h0m19.8-1h0m10.9 .6h0m11-.7h0m8.8 .8h0m11-.7h0m8.8-.1h0m26.3 1.3h0m11-.2h0m11 .1h0m41.7-.2h0m30.8 .2h0m11-.9h0m8.8 .7h0m10.9 .3h0m37.4-.5h0m11-.8h0m9.6 1.5h0m12.3-.7h0m44 .8h0m10.9-1h0m11 .7h0m22-.6h0m9.6 .1h0m11-.6h0m11 .2h0m11 1.1h0m11-.2h0m20.6-.3h0m12.3-.7h0m22 .9h0m11-1.1h0m32.9 .9h0m11 .5h0m12.3-1.4h0m11 1h0m11-.2h0m32.9-.1h0m22 .4h0m11 0h0m32.9-.5h0m22 .3h0m9.6-.3h0m11 .4h0m11-.1h0m11 .4h0m12.3-.1h0m22-.9h0m9.6-.4h0m33 .2h0m21.9 .7h0m22-.6h0m9.7 .8h0m32.9-.6h0m11-.4h0m75.5 .9h0m22-.9h0m23.3 1.4h0m9.7-1.1h0m9.6 1h0m11-1.2h0m33 1.1h0m10.9 .1h0m11-.8h0m44 .2h0m21.9 .3h0m11 .4h0m11 .1h0m-1277.5 29.9h0m28.6-1.4h0m8.7 .8h0m30.8-.3h0m19.8-.5h0m10.9 .7h0m11 .6h0m8.8-.2h0m11-.4h0m8.8-.4h0m26.3 1h0m63.7-.7h0m22-.6h0m19.8 1.3h0m8.8-.4h0m10.9 0h0m37.4 .1h0m20.6 .3h0m12.3-.7h0m9.7 .1h0m11-.5h0m12.3 .7h0m21.9 .2h0m11-1.2h0m22 .2h0m9.6 .3h0m11 0h0m11-.1h0m22 .7h0m9.6-.4h0m11 .7h0m12.3-.1h0m11-.9h0m11 .5h0m11-.5h0m11 .2h0m9.6 .1h0m23.3 .4h0m23.3 .4h0m11-.2h0m21.9 .3h0m11-1.1h0m11-.4h0m11 1.4h0m11-.8h0m10.9 .3h0m44-.1h0m9.6-.5h0m11 .6h0m34.3-.6h0m64.6 .6h0m10.9-.1h0m11 .2h0m31.7 .1h0m10.9-1.1h0m11 .4h0m11 .1h0m22 .8h0m21.9-.9h0m11 .2h0m9.7-.6h0m11 0h0m10.9 .4h0m11 .7h0m11-1.2h0m11 .4h0m12.3 .9h0m41.3-.4h0m22 0h0m10.9 .1h0m22-.3h0m54.9-.1h0m22 .7h0m-1268.7 28.9h0m19.8 0h0m39.5-.1h0m19.8 .3h0m21.9-.2h0m8.8 .5h0m11 .8h0m8.8-.1h0m26.3-.6h0m52.8-.7h0m21.9 1h0m11-.9h0m8.8 1.1h0m11-.7h0m8.8 .3h0m10.9-.5h0m11-.3h0m26.4 1.1h0m32.9-.5h0m9.7 .1h0m11 .5h0m23.3-.9h0m10.9 1.1h0m64.6-.4h0m11 .5h0m11-.4h0m32.9-.4h0m11 .6h0m11-1.2h0m11 .4h0m11-.1h0m9.6 .3h0m12.3 0h0m11-.2h0m23.3 .5h0m11 .1h0m21.9-.1h0m11-1h0m11 1.1h0m11-.2h0m11-1h0m10.9 .6h0m22-.3h0m22 1h0m9.6-.4h0m22 .5h0m11-.2h0m34.3-.6h0m9.6 .2h0m33-.4h0m43.9-.3h0m9.7 .8h0m21.9 0h0m22 .1h0m11 .1h0m21.9-.2h0m11 .3h0m9.7 .2h0m11-.1h0m21.9-.4h0m22-.7h0m22 1.4h0m9.6-.1h0m11-1.4h0m11 .9h0m22-.6h0m10.9-.2h0m22 .4h0m11-.4h0m22 .9h0m21.9 .3h0m22-1h0m-1277.5 57.7h0m8.8-.9h0m59.3 .8h0m41.7-.4h0m8.8-.2h0m11 1h0m8.8-.3h0m48.3-.6h0m41.7 .3h0m11-.5h0m11 .2h0m8.8 .8h0m30.7 0h0m11-.5h0m37.4 .6h0m21.9 0h0m9.7-.5h0m11 .1h0m12.3-.2h0m11-.3h0m21.9 .2h0m22-.4h0m9.6 .5h0m33-.4h0m20.6 1.1h0m34.3-.1h0m11-.7h0m11-.2h0m20.6 1h0m35.6-.3h0m11-1h0m11 .8h0m32.9-.1h0m11 .1h0m32.9 .5h0m22 0h0m42.6-.9h0m11-.1h0m45.3 .3h0m9.6-.3h0m11 .9h0m22-.1h0m10.9-.1h0m11 .3h0m22-1h0m9.7 .8h0m21.9-.5h0m22-.6h0m11 .7h0m21.9 .1h0m11-.3h0m9.7 .7h0m32.9-.2h0m11 .2h0m11-.3h0m12.3-.4h0m9.7-.6h0m9.6 .8h0m22 .5h0m43.9-.6h0m11 .4h0m33 .2h0m43.9-.9h0m-1248.9 46.2h0m8.7-.4h0m30.8 .2h0m19.8 .5h0m21.9-.5h0m8.8 .2h0m11 0h0m8.8 .4h0m37.3-.8h0m11 0h0m41.7-.3h0m11 1.1h0m19.8 .4h0m11-1.1h0m8.8 .6h0m10.9-.8h0m11 .2h0m47 .6h0m12.3-.9h0m9.7 .5h0m11 .9h0m12.3-.4h0m21.9-1h0m11 1.1h0m22-.1h0m20.6-.1h0m11-.3h0m11 .2h0m20.6 .4h0m11 .2h0m12.3-.4h0m11 0h0m11 0h0m22-.4h0m9.6-.6h0m12.3 1.1h0m11-.1h0m12.3-.8h0m11 .9h0m11-.5h0m21.9 .3h0m11-.3h0m11-.7h0m11 .8h0m11-.6h0m32.9 .3h0m22 .8h0m9.6 .3h0m22-.6h0m11 .3h0m12.3-.4h0m22 .6h0m9.6-.7h0m33-.3h0m10.9-.4h0m11 1.5h0m22-.4h0m9.7-.5h0m10.9 .9h0m11-.7h0m11-.7h0m11 1.2h0m11-.7h0m32.9 .2h0m31.6-.4h0m22-.4h0m11 1.3h0m12.3 0h0m19.3-.7h0m11 .1h0m11-.2h0m22 0h0m10.9 .1h0m11 .3h0m76.9 .3h0m11-.8h0m-1090.8 55.5h0m41.7-.5h0m72.5-.1h0m59.3 .9h0m65.9-.1h0m141.5-.3h0m20.6-.8h0m112.5 .7h0m97.5-.6h0m65.9 .6h0m75.6-.7h0m43.9 .7h0m86.5-.4h0m22 .6h0m-1092.1 45.1h0m8.8-.5h0m28.5 0h0m30.8-.1h0m19.8 .2h0m10.9-.3h0m30.8 .7h0m8.8-.3h0m26.3-.3h0m52.8-.8h0m10.9 .4h0m30.8 .8h0m11-.5h0m8.8-.1h0m21.9 .1h0m26.4-.4h0m11 0h0m21.9 1.1h0m9.7 .1h0m34.3-1.6h0m21.9 .3h0m31.6 0h0m33 .2h0m11 .5h0m20.6 .5h0m12.3-1.2h0m11 .6h0m11 0h0m11 0h0m11-.3h0m9.6-.4h0m12.3-.1h0m23.3 .9h0m11 .4h0m11-.7h0m21.9 .3h0m11-.6h0m65.9-.3h0m22 1.3h0m9.6-.7h0m22-.2h0m11 .9h0m12.3-1.2h0m22 .5h0m9.6 .8h0m11-1h0m22-.4h0m10.9 1.5h0m33-.1h0m9.7-.2h0m32.9-.4h0m43.9-.2h0m31.7 .6h0m10.9 0h0m11-.3h0m22-.1h0m12.3-.8h0m9.7 .4h0m9.6 .8h0m11-.6h0m11-.6h0m22 1.1h0m10.9-.3h0m11-.2h0m11 .5h0m11-.5h0m22-.7h0m21.9 .1h0m22 1.1h0m-1277.5 72.6h0m8.8-.2h0m19.8-.2h0m8.7-.2h0m30.8 .7h0m19.8 .5h0m10.9-1.3h0m19.8 0h0m11 1.1h0m8.8-.3h0m26.3-.9h0m11 .5h0m11 .8h0m41.7-.2h0m22 0h0m8.8-.8h0m11 .6h0m8.8 .5h0m10.9-.2h0m11 .1h0m26.4-.2h0m11-.6h0m21.9-.1h0m9.7 .3h0m11-.3h0m12.3 .8h0m75.5-1h0m11 .4h0m11-.7h0m11 1.6h0m9.6-1h0m11-.1h0m23.3 .7h0m11-.5h0m11-.4h0m11 .4h0m32.9 .8h0m12.3-1h0m11-.2h0m54.9 .6h0m11-.6h0m11 .6h0m32.9 .5h0m42.6-.6h0m11-.3h0m23.3 .9h0m31.6-.9h0m11 .9h0m32.9-.8h0m11 0h0m22 0h0m31.6 .5h0m11-.9h0m22-.2h0m21.9 .4h0m11 1.2h0m9.7-.5h0m21.9-.3h0m22 0h0m11-.6h0m31.6 .6h0m11 0h0m11-.5h0m22 1.2h0m10.9-1.2h0m11 .8h0m11 .5h0m33-.5h0m-1233.6 55.6h0m8.8-1.2h0m19.8 .3h0m8.7 .6h0m30.8-.1h0m30.7 0h0m11-.2h0m8.8 .1h0m11-1h0m8.8 0h0m26.3 .1h0m11 .7h0m41.8 .2h0m10.9-1h0m11 .8h0m30.8-.2h0m19.7-.2h0m11-.1h0m26.4-.2h0m11 .1h0m21.9 1.1h0m9.7 .2h0m11-.8h0m12.3 .5h0m11-1.2h0m10.9 .3h0m42.6 .5h0m11-.6h0m11 .4h0m22 0h0m9.6 .5h0m11-.1h0m12.3-.5h0m11 .4h0m11 .1h0m11-.6h0m11 1h0m9.6-.3h0m23.3-1.1h0m12.3 1.4h0m22-.4h0m32.9 .4h0m11-1.3h0m11 .8h0m11-.6h0m32.9 .8h0m42.6-.7h0m11 .2h0m11 .1h0m12.3 .6h0m22-.9h0m9.6-.2h0m33 .4h0m10.9-.3h0m11 1.1h0m31.7-1.4h0m10.9 1.3h0m11-.9h0m33-.5h0m21.9 .5h0m11 .3h0m9.7 .4h0m21.9-1h0m11 .5h0m11-.7h0m11 1h0m12.3 .4h0m19.3 .1h0m11-1.1h0m11 1h0m22-1.1h0m10.9-.3h0m11 .5h0m44 .3h0m32.9-.5h0m11 .3h0m-1268.7 41h0m19.8-.3h0m8.7-.2h0m30.8-.2h0m19.8 .5h0m10.9-.5h0m19.8-.1h0m11-.6h0m8.8 0h0m26.3 .3h0m11 .6h0m11 .5h0m41.7-1h0m11 1.1h0m11-.4h0m8.8 0h0m11-.6h0m8.8 .7h0m10.9-.9h0m11 1.3h0m26.4-.6h0m42.6-.1h0m34.3-.7h0m10.9 .4h0m42.6 .4h0m11-.8h0m11 .8h0m11-.9h0m11 .5h0m32.9-.6h0m11 .2h0m11 1.2h0m11-1.2h0m11 0h0m45.2 .3h0m22 .5h0m21.9-1h0m44 .5h0m10.9 0h0m53.6-.4h0m11 .5h0m22 0h0m34.3-.5h0m9.6-.1h0m33 1.5h0m10.9-.1h0m11-.6h0m31.7-.7h0m10.9 .5h0m11-.3h0m11 .8h0m11-1h0m32.9 .4h0m11 .4h0m9.7 0h0m21.9 .6h0m22-1h0m11 .3h0m31.6-.7h0m11 0h0m11 1h0m22-.1h0m10.9-.1h0m33-.3h0m22-.6h0m21.9 .5h0m22 .2h0m-1268.7 27.8h0m19.8-.7h0m39.5-.1h0m19.8 1.3h0m10.9 0h0m11-1.1h0m8.8 .9h0m11-.5h0m8.8-.7h0m26.3 1.3h0m11-.9h0m11 .6h0m30.8-.8h0m21.9 1.4h0m11-1h0m8.8 .5h0m11-.1h0m8.8-.5h0m10.9 .7h0m37.4-.8h0m11 .2h0m54.9-.6h0m11 .8h0m10.9 .5h0m11-1h0m31.6 .9h0m11 .2h0m22-.4h0m11-.3h0m32.9-.1h0m11 .4h0m11 .2h0m43.9-.9h0m11-.1h0m34.3 .8h0m21.9-.5h0m22 .7h0m11-.2h0m11-.5h0m32.9 1h0m22-.7h0m9.6 .6h0m22-1h0m11-.3h0m12.3 1.4h0m22-.6h0m9.6 .2h0m43.9 .4h0m11-.3h0m22-.5h0m9.7 .4h0m10.9-.5h0m22 0h0m11-.5h0m11 1.1h0m21.9-1.2h0m20.7 .4h0m11 1h0m10.9-1.1h0m11 .3h0m11 .6h0m11-.4h0m12.3-.4h0m9.7 .8h0m31.6 0h0m22-1.1h0m10.9 0h0m11 1h0m11-1.1h0m11 .1h0m54.9 .9h0m-1257.7 18.1h0m19.8 .3h0m8.7-.2h0m50.6 .1h0m10.9 0h0m11-.6h0m8.8-.2h0m46.1 .7h0m11-.8h0m11-.3h0m30.8 .3h0m10.9-.1h0m11 .8h0m11 .3h0m8.8-.8h0m11 .7h0m8.8-1h0m10.9 .5h0m11 .3h0m26.4-.1h0m11-.3h0m21.9 .5h0m9.7-.8h0m45.2 .5h0m42.6 .4h0m11-.6h0m11 .6h0m11-.3h0m20.6-.8h0m11 .5h0m12.3-.1h0m11 .1h0m22 .2h0m11-.4h0m9.6-.3h0m35.6 .9h0m11-.9h0m11 1h0m21.9-1h0m11 1h0m33 0h0m64.5 0h0m33-1.2h0m54.9 .6h0m22 .5h0m10.9-.5h0m11 0h0m22-.3h0m20.6 1.1h0m22-1.2h0m43.9 .1h0m20.7 .3h0m11-.2h0m10.9 .7h0m22 0h0m33 0h0m9.6 .3h0m11-1h0m11 .9h0m22-.1h0m32.9 0h0m33 0h0m21.9 .1h0m11-.3h0m11 .4h0m-1268.7 13.4h0m59.3-.8h0m19.8 1h0m10.9-.7h0m30.8 .4h0m46.1 .4h0m41.8 0h0m21.9-1.4h0m11 1h0m8.8-.6h0m19.8 .3h0m10.9 .8h0m37.4-.1h0m11-.9h0m9.6 .4h0m12.3-.7h0m20.7 .3h0m12.3 .7h0m11-1.2h0m10.9 .7h0m11 .8h0m31.6-1.2h0m22 .9h0m22 .2h0m9.6-1.3h0m11 .4h0m12.3-.3h0m11 0h0m22-.1h0m11 1.4h0m9.6-1.5h0m12.3 .2h0m11 .4h0m12.3-.5h0m43.9 .1h0m11-.1h0m33 .7h0m10.9 .5h0m75.6-.6h0m23.3 .3h0m31.6-.5h0m11-.1h0m22 .4h0m10.9 .3h0m11-.2h0m31.7 .3h0m21.9-.3h0m11 .4h0m22-.2h0m32.9-.9h0m9.7 .1h0m21.9 .2h0m11 .2h0m44 .3h0m31.6-.6h0m32.9-.4h0m11 .1h0m11 1h0m54.9 .2h0m22-.6h0" stroke="#000" stroke-width="2.9" stroke-linecap="round" fill="none"/><path d="M174.3 1447.9c1.6-.2 5.9-1.5 9.5-1.5s7.9 .5 11.9 1.5s7.9 3 11.9 4.5s7.4 3.2 11.9 4.4s9.9 2.2 14.9 3s9.9 1.8 14.9 1.5s9.9-2.6 14.9-3s9.9 .2 14.8 .6s9.9 1.4 14.9 1.8s9.4 .8 14.9 .6s12.4-1.5 17.9-1.5s10.3 1.8 14.8 1.5s9-2.2 12-3s3.9-2.5 5.9-1.5s3.8 5.3 6 7.5s4.9 5.7 7.4 5.9s4.7-2.9 7.4-4.4s5.5-4 9-4.5s7.9 1.1 11.9 1.5s7.4 1.2 11.9 .9s10.9-.8 14.9-2.4s5.9-5 8.9-7.5s5.9-5.8 8.9-7.4s5.4-2.4 8.9-2.1s7.9 2 11.9 3.6s7.5 4.2 12 5.9s9.9 3.2 14.8 4.5s10.4 2.6 14.9 3s7.9-.1 11.9-.6s7.9-2.2 11.9-2.4s8.9 1.5 11.9 1.5s4 .7 6-1.5s3.7-7.9 5.9-11.9s5.3-9.7 7.5-11.9s3.9-2.5 5.9-1.5s4.3 3.8 6 7.5s2.9 8.8 4.4 14.8s3 14 4.5 20.9s3 16.6 4.5 20.8s2.9 6 4.4 4.5s3-8.2 4.5-13.4s3-14.4 4.5-17.9s3.1-2.8 4.4-3s3 1.2 3.6 1.5" fill="none" stroke="#000" stroke-width="2.3" stroke-linejoin="round" stroke-linecap="round"/><path d="M600 1470.2c1-.5 3.8-2.8 6-3s4.9 .2 7.4 1.5s4.7 3.8 7.4 6s6 5.4 9 7.4s5.9 4 8.9 4.5s6.2 .2 8.9-1.5s5.5-6.2 7.5-8.9s3.7-6.2 4.4-7.5" fill="none" stroke="#000" stroke-width="2.3" stroke-linejoin="round" stroke-linecap="round"/><path d="M698.2 1471.7c2 .2 8.4 .3 11.9 1.5s5.4 4.2 8.9 5.9s8 3 12 4.5s7.9 3.3 11.9 4.5s7.9 1.4 11.9 2.9s8.4 3.8 11.9 6s6.2 5.8 8.9 7.4s4.9 2.8 7.4 2.1s5.3-3.2 7.5-6.5s4.9-11.2 5.9-13.4" fill="none" stroke="#000" stroke-width="2.3" stroke-linejoin="round" stroke-linecap="round"/><path d="M856 1470.2c1 .5 3.9 3 5.9 3s3.5-1.5 6-3s5.9-4.7 8.9-5.9s5.4-1.8 8.9-1.5s7.9 2 11.9 3s7.9 2.2 11.9 2.9s8.4 1 11.9 1.5s6 .2 9 1.5s5.9 4.5 8.9 6s5.9 3.1 8.9 2.9s5.9-1.7 8.9-4.4s6-8.9 9-11.9s5.4-4.5 8.9-6s7.4-2.2 11.9-3s10.7-1.5 14.9-1.5s8.7 1.2 10.4 1.5" fill="none" stroke="#000" stroke-width="2.3" stroke-linejoin="round" stroke-linecap="round"/><path d="M1030 1452.4c1.5 .7 6.4 3.7 8.9 4.4s3.5 1 6 0s7.4-4.9 8.9-5.9" fill="none" stroke="#000" stroke-width="2.3" stroke-linejoin="round" stroke-linecap="round"/><path d="M1101.4 1431.5c3 .8 12.4 2.8 17.9 4.5s10 3.9 14.9 5.9s10.3 4.5 14.8 6s8 2.8 12 3s7.9-.5 11.9-1.5s7.9-3.8 11.9-4.5s7.9 .2 11.9 0s8.4-.3 11.9-1.5s5.9-3.9 8.9-5.9s6.2-5.5 8.9-6s5 .8 7.5 3s4.7 7.4 7.4 10.4s5.4 6 8.9 7.5s7.9 2.1 11.9 1.4s8.4-3.9 11.9-5.9s6-5.2 9-6s5.9 1.5 8.9 1.5s5.9 .2 8.9-1.5s6-6.4 9-8.9s5.9-4.9 8.9-5.9s5.9-.5 8.9 0s5.9 1.9 8.9 2.9s5.5 2.5 9 3s7.9-.2 11.9 0s7.9 .8 11.9 1.5s7.9 2.2 11.9 3s7.9 1.8 11.9 1.5s7.9-2.2 11.9-3s7.9-1 11.9-1.5s8.4 0 11.9-1.5s6.2-4.7 8.9-7.4s5.5-7 7.5-9s2.7-3.4 4.4-2.9s3.5 3.9 6 5.9s7.4 5 8.9 6" fill="none" stroke="#000" stroke-width="2.3" stroke-linejoin="round" stroke-linecap="round"/><path d="M174.3 1465.8c1.6-.1 5.9-.9 9.5-.9s7.9-.2 11.9 .9s7.9 4.2 11.9 5.9s7.4 2.5 11.9 4.5s9.9 5.7 14.9 7.4s9.9 3 14.9 3s9.9-1.8 14.9-3s10.3-3.6 14.8-3.9s8 1.2 12 2.4s7.9 3.2 11.9 4.5s7.9 1.8 11.9 3s7.9 2.9 11.9 4.4s7.9 3.8 11.9 4.5s7.9 .5 11.9 0s7.9-3 11.9-3s7.9 1.8 11.9 3s7.9 2.8 11.9 3.9s8.4 3.3 11.9 2.9s5.9-3.2 8.9-5.3s5.5-5.5 9-7.5s7.9-2.7 11.9-4.4s7.5-4.3 11.9-6s9.9-4.1 14.8-4.4s9.9 1.9 14.9 2.9s9.9 2 14.9 3s10.4 1.5 14.9 3s7.9 3.4 11.9 5.9s7.9 5.8 11.9 9s7.9 7.2 11.9 10.4s8.4 6.9 11.9 8.9s5.9 2.8 8.9 3s6.3-.9 9-1.5s4.9-2.8 7.4-2.1s4.9 4.3 7.4 6.6s5.5 5.8 7.5 7.4s2.4 2.6 4.4 2.1s5-3 7.5-5.1s5.6-5.9 7.4-7.4s3-1.2 3.6-1.5" fill="none" stroke="#000" stroke-width="2.3" stroke-linejoin="round" stroke-linecap="round"/><path d="M600 1523.8c2-.8 7.9-5 11.9-4.5s7.4 4.5 11.9 7.5s9.9 7.9 14.9 10.4s10.9 4.9 14.9 4.4s5.9-3.9 8.9-7.4s5.9-10.1 8.9-13.4s5.5-5.5 9-6.5s7.9 .9 11.9 .6s7.5-2.4 11.9-2.4s9.8 1.5 14.8 2.4s11.4 1.4 14.9 2.9s4.3 2.5 6 6s2.9 10.2 4.4 14.9s3 11.9 4.5 13.4s3-1.5 4.5-4.5s2.7-10.4 4.4-13.4s3.5-5 6-4.5s5.9 5 8.9 7.5s5.9 7.1 8.9 7.4s5.5-2.4 9-5.9s7.9-9.7 11.9-14.9s9.9-13.7 11.9-16.4" fill="none" stroke="#000" stroke-width="2.3" stroke-linejoin="round" stroke-linecap="round"/><path d="M871.4 1523.2c.6 2.1 2.5 7.9 3.9 12.5s3 12.9 4.5 14.9s2.7 0 4.4-3s3.8-10.9 6-14.9s4.7-6.8 7.4-8.9s5.9-3.6 8.9-3.6s6 1.5 9 3.6s5.9 7 8.9 8.9s5.7 2.4 8.9 2.4s7-2.5 10.5-2.4s7.2 3.8 10.4 3s5.4-4 8.9-7.5s7.9-8.6 11.9-13.3s7.9-10.2 11.9-14.9s7.9-9.2 11.9-13.4s8.4-8.6 11.9-11.9s6.4-7.6 8.9-8.1s4 2.5 6 5.1s3.4 7.7 5.9 10.4s5.9 4.8 9 6s7.9 1.2 9.5 1.5" fill="none" stroke="#000" stroke-width="2.3" stroke-linejoin="round" stroke-linecap="round"/><path d="M1030 1485.1c1.5 .8 5.9 3.6 8.9 4.5s5.5 1.4 9 .9s7.9-2.8 11.9-3.9s8.4-1.5 11.9-3s5.9-3.9 8.9-5.9s5.9-4.1 8.9-6s6-3.8 9-5.1s5.9-2.8 8.9-2.9s5.4 1 8.9 2.1s7.9 2.9 11.9 4.4s7.9 3.6 11.9 4.5s7.9 .2 11.9 .9s8.4 2.4 11.9 3.5s6 3 9 3s5.9-1.9 8.9-3s6.2-2.8 8.9-3.5s4.5-1.2 7.5-.9s6.7 2 10.4 3s7.9 2.2 11.9 2.9s7.9 .8 11.9 1.5s7.9 2.2 11.9 3s7.9 1.5 11.9 1.5s7.9-1 11.9-1.5s7.9-1.5 11.9-1.5s7.9 1 11.9 1.5s8.4 1.6 11.9 1.5s5.9-.6 8.9-2.1s6-4.7 9-6.8s5.4-4.2 8.9-6s7.9-3 11.9-4.5s8.4-3 11.9-4.4s5.9-3.1 8.9-3.9s6-1 9-.6s5.9 1.5 8.9 3s5.9 3.9 8.9 5.9s6.4 4.8 8.9 6s3.5 2.2 6 1.5s5.9-4.3 8.9-6s6.3-4.2 9-4.4s4.9 .9 7.4 2.9s5.2 9 7.4 9s4-6.8 6-9s3.4-3.4 5.9-4.4s6.5-1.2 9-1.5s4.9 0 5.9 0" fill="none" stroke="#000" stroke-width="2.3" stroke-linejoin="round" stroke-linecap="round"/><path d="M174.3 1612.5c1.6-.2 5.9-1.1 9.5-.9s7.9 .9 11.9 2.1s7.9 3.4 11.9 5.3s7.9 4.3 11.9 6s8.2 3.2 11.9 4.4s7.4 3.7 10.4 3s4.8-3.7 7.5-7.4s6.2-10.4 8.9-14.9s5-9.2 7.5-11.9s4.7-3.5 7.4-4.5s5.9-.8 8.9-1.5s6.3-.9 9-2.9s5.2-5 7.4-9s4.4-10.4 5.9-14.8s2-9.2 3-11.4s2-2.4 3-2s2 2.2 3 4.4s1.2 5.5 2.9 9s4.8 8.7 7.5 11.9s5.9 6.7 8.9 7.4s5.4-1.8 8.9-3s8-3.4 12-4.4s8.7-1.2 11.9-1.5s4.9-1.6 7.4-.6s4.7 3.7 7.4 6.5s6 7.6 9 10.4s5.9 6.3 8.9 6.6s5.9-2.8 8.9-5.1s5.5-5.7 9-8.9s7.9-7.4 11.9-10.4s7.9-5.3 11.9-7.5s7.9-3.7 11.9-5.9s8.4-5.3 11.9-7.5s5.9-4.4 8.9-5.9s5.9-3.2 8.9-3s6 2.8 9 4.5s5.9 3.2 8.9 5.9s5.4 7.3 8.9 10.5s8.4 6.2 11.9 8.9s6.2 4.4 8.9 7.4s5 8.9 7.5 10.4s5.2-.9 7.4-1.4s3.5-2 6-1.5s5.4 2.9 8.9 4.4s8.4 2.8 11.9 4.5s5.9 2.9 8.9 5.9s6.3 7.4 9 11.9s5.4 10.4 7.4 14.9s3.2 8.4 4.5 11.9s2.5 7.8 3 9.3" fill="none" stroke="#000" stroke-width="2.3" stroke-linejoin="round" stroke-linecap="round"/><path d="M600 1638c1 3 4 13.3 6 17.8s3.9 4.9 5.9 8.9s4 9.4 6 14.9s3.9 11.5 5.9 17.9s4 14.6 6 20.8s3.9 11.7 5.9 16.4s4.3 11.6 6 11.9s2.9-6.2 4.4-10.4s2.8-10.7 4.5-14.9s4.2-8.2 5.9-10.4s2.8-3.2 4.5-3s3.8 3.8 6 3.9s4.7-1.7 7.4-3s5.9-4 8.9-4.8s6.3-1 9 0s5.2 4 7.4 6s5 4.9 6 5.9" fill="none" stroke="#000" stroke-width="2.3" stroke-linejoin="round" stroke-linecap="round"/><path d="M762.2 1707.9c1.2-.6 4.7-2.8 7.4-3.6s6-1.5 9-1.5s5.9-.1 8.9 1.2s5.9 4.6 8.9 6.9s6.5 5.2 9 6.8s3.4 2.7 5.9 3s5.4-.2 8.9-.9s7.9-2.2 11.9-3s7.9-2 11.9-1.5s8.5 3 12 4.5s6.4 2.5 8.9 4.5s3.9 4.4 5.9 7.4s4 7.4 6 10.4s3.4 5.6 5.9 7.5s6 2.8 9 3.8s5.7 1.5 8.9 2.1s7.2 1.8 10.4 1.5s5.7-3 8.9-3.6s7.3-.8 10.5 0s5.9 3 8.9 5.1s6.2 5.3 8.9 7.4s4.5 4.8 7.5 5.4s6.9-1.3 10.4-1.8s7.2-2.1 10.4-1.2s5.7 6 8.9 6.6s6.7-1.8 10.4-3s7.9-3 11.9-4.5s8.9-2.2 11.9-4.4s3.8-5.5 6-9s4.9-8.9 7.4-11.9s4.7-3.9 7.5-5.9s7.9-5 9.5-6" fill="none" stroke="#000" stroke-width="2.3" stroke-linejoin="round" stroke-linecap="round"/><path d="M1053.8 1727.2c.5-.7 1-1.8 3-4.4s5.9-7.8 8.9-11s5.7-6.1 8.9-8.4s7.3-3.1 10.5-5.3s5.7-5 8.9-8.1s7.2-7.2 10.4-10.4s6.4-6.7 8.9-8.9s3.8-4.5 6-4.5s5.2 3.2 7.4 4.5s3.8 4 6 3s4.7-5.3 7.4-9s5.9-9.7 8.9-13.4s6-5.9 9-8.9s7.4-7.4 8.9-8.9" fill="none" stroke="#000" stroke-width="2.3" stroke-linejoin="round" stroke-linecap="round"/><path d="M1158 1639.9c1.5-1.5 5.9-6.4 8.9-9s5.9-5.6 8.9-6.5s6 .4 9 1.2s5.9 2.4 8.9 3.8s6.4 2.3 8.9 4.5s5 7.4 6 8.9" fill="none" stroke="#000" stroke-width="2.3" stroke-linejoin="round" stroke-linecap="round"/><path d="M1199.6 1632c1.5 1.5 6.5 5.4 9 8.9s3.7 7.9 5.9 11.9s5 8.4 7.5 11.9s4.9 6.8 7.4 9s4.9 3.7 7.4 4.4s4.8 .7 7.5 0s6.2-3.2 8.9-4.4s5-3.2 7.5-3s4.9 2.9 7.4 4.5s4.4 4.1 7.4 5s7.3 .5 10.5 .3s5.9-1.1 8.9-1.8s5.9-.8 8.9-2.1s6.4-4.4 8.9-5.9s3.5-2.8 6-3s5.9 1.8 8.9 1.5s5.9-1.8 8.9-3s6.5-3.2 9-4.4s3.4-3 5.9-3s6 2.1 9 3s6.4 2.1 8.9 2.3s3.7 .5 5.9-.9s5.3-4.2 7.5-7.4s3.9-7.9 5.9-11.9s5-9.9 6-11.9" fill="none" stroke="#000" stroke-width="2.3" stroke-linejoin="round" stroke-linecap="round"/><path d="M1391.6 1636.9c1.2-2.5 4.9-10.8 7.4-14.9s4.5-7.4 7.5-9.5s7.2-2.1 10.4-3s6.4-1 8.9-2.4s3.8-4.6 6-5.9s4.9-2.1 7.4-2.1s4.3 1.7 7.5 2.1s8.9 .6 11.9 .6s4.9-.5 5.9-.6" fill="none" stroke="#000" stroke-width="2.3" stroke-linejoin="round" stroke-linecap="round"/><path d="M600 1425.6c2.5-.2 9.9-.8 14.9-1.5s9.9-1.5 14.9-3s10.8-4.7 14.8-5.9s6-2.2 9-1.5s5.4 2.9 8.9 5.9s7.4 7.9 11.9 11.9s9.9 8.8 14.9 11.9s10.4 5.1 14.9 6.6s9.9 2 11.9 2.4" fill="none" stroke="#000" stroke-width="2.3" stroke-linejoin="round" stroke-linecap="round"/><path d="M713.1 1450.9c2 1 7.9 4.2 11.9 5.9s7.9 2.8 11.9 4.5s7.9 3.8 11.9 5.9s7.9 4.5 11.9 6.6s7.9 4.6 11.9 5.9s8.4 3.1 11.9 1.8s6-6 9-9.8s5.4-10.4 8.9-12.8s7.9-1.4 11.9-1.5s7.9 1.6 11.9 .9s7.9-2.6 11.9-5.3s9.9-9.2 11.9-11.1" fill="none" stroke="#000" stroke-width="2.3" stroke-linejoin="round" stroke-linecap="round"/><path d="M273.1 1443.4c2 .5 7.9 2.8 11.9 3s7.9-.5 11.9-1.5s8.9-3.2 11.9-4.4s5-2.5 6-3" fill="none" stroke="#000" stroke-width="2.3" stroke-linejoin="round" stroke-linecap="round"/><path d="M401.1 1439c1.5 1 5.9 4.7 8.9 5.9s5.9 2.7 8.9 1.5s6.5-4.9 9-8.9s4.2-9.4 5.9-14.9s3.3-15.9 4.5-17.9s1.9 3 2.9 6s1.2 9.2 3 11.9s4.3 5 7.5 4.5s8.4-4.3 11.9-7.5s6.2-9.4 8.9-11.9s5.2-4.5 7.4-3s4.2 7.4 6 11.9s2.8 11.2 4.5 14.9s3.4 7 5.9 7.5s5.9-.8 8.9-4.5s6-13.4 9-17.9s5.4-5.9 8.9-8.9s8.4-5.9 11.9-8.9s6.4-6.2 8.9-8.9s5-6.2 6-7.5" fill="none" stroke="#000" stroke-width="2.3" stroke-linejoin="round" stroke-linecap="round"/><path d="M249.3 1382.4c-.2 2.2-2.5 9.2-1.5 13.4s3.7 8.4 7.4 11.9s10.9 8.4 14.9 8.9s7.4-4.9 8.9-5.9" fill="none" stroke="#000" stroke-width="2.3" stroke-linejoin="round" stroke-linecap="round"/><path d="M891.7 1431.5c1.5 1.5 5.4 6.8 8.9 9s7.9 3.9 11.9 4.4s7.9-.5 11.9-1.5s7.9-3.2 11.9-4.4s7.9-2.5 11.9-3s7.9 .2 11.9 0s9.9-1.2 11.9-1.5" fill="none" stroke="#000" stroke-width="2.3" stroke-linejoin="round" stroke-linecap="round"/><path d="M1091 1382.4c.2 2.2-.2 9.2 1.5 13.4s5.4 8.9 8.9 11.9s7.9 6 11.9 6s8.9-3 11.9-6s4.8-7.7 6-11.9s1.2-11.2 1.5-13.4" fill="none" stroke="#000" stroke-width="2.3" stroke-linejoin="round" stroke-linecap="round"/><path d="M1101.4 1382.4c.2 1.7 0 7.9 1.5 10.4s5.3 5 7.5 4.5s4.7-4.9 5.9-7.4s1.2-6.2 1.5-7.5" fill="none" stroke="#000" stroke-width="2.3" stroke-linejoin="round" stroke-linecap="round"/><path d="M1183.3 1382.4c.2 1.7 .3 7.4 1.5 10.4s3.9 7.5 5.9 7.5s4.8-4.5 6-7.5s1.2-8.7 1.5-10.4" fill="none" stroke="#000" stroke-width="2.3" stroke-linejoin="round" stroke-linecap="round"/><path d="M1358.9 1382.4c.2 1.7-.2 7.7 1.5 10.4s5.9 6 8.9 6s7.2-3.3 8.9-6s1.2-8.7 1.5-10.4" fill="none" stroke="#000" stroke-width="2.3" stroke-linejoin="round" stroke-linecap="round"/><path d="M1446.7 1383.9c1 1.2 3.7 5.9 5.9 7.4s5.5 1.7 7.5 1.5s3.7-2.4 4.4-2.9" fill="none" stroke="#000" stroke-width="2.3" stroke-linejoin="round" stroke-linecap="round"/><path d="M1311.2 1382.4c.2 1 .5 4.8 1.5 6s3 1.8 4.5 1.5s3.5-1.8 4.5-3s1.2-3.8 1.5-4.5" fill="none" stroke="#000" stroke-width="2.3" stroke-linejoin="round" stroke-linecap="round"/><path d="M235.8 1380C238.6 1413 261.4 1413 264.2 1380" fill="none" stroke="#000" stroke-width="1.7"/><path d="M293.7 1380C297.1 1413 325 1413 328.5 1380" fill="none" stroke="#000" stroke-width="1.7"/><path d="M374.8 1380C376.5 1405.7 389.8 1405.7 391.4 1380" fill="none" stroke="#000" stroke-width="1.7"/><path d="M423.2 1380C426.1 1417.3 449.3 1417.3 452.2 1380" fill="none" stroke="#000" stroke-width="1.7"/><path d="M462 1380C464.6 1399.9 484.9 1399.9 487.4 1380" fill="none" stroke="#000" stroke-width="1.7"/><path d="M510 1380C512.7 1393.6 534.7 1393.6 537.4 1380" fill="none" stroke="#000" stroke-width="1.7"/><path d="M552.2 1380C554.3 1417.7 571.6 1417.7 573.8 1380" fill="none" stroke="#000" stroke-width="1.7"/><path d="M606.5 1380C608.5 1414.5 623.8 1414.5 625.7 1380" fill="none" stroke="#000" stroke-width="1.7"/><path d="M630.1 1380C633 1396.7 655.7 1396.7 658.5 1380" fill="none" stroke="#000" stroke-width="1.7"/><path d="M660 1380C663.4 1398.9 690.1 1398.9 693.4 1380" fill="none" stroke="#000" stroke-width="1.7"/><path d="M704.1 1380C707.7 1416.5 736.2 1416.5 739.7 1380" fill="none" stroke="#000" stroke-width="1.7"/><path d="M754.4 1380C757.9 1407.6 786.1 1407.6 789.6 1380" fill="none" stroke="#000" stroke-width="1.7"/><path d="M825.6 1380C827.6 1418.3 843.6 1418.3 845.7 1380" fill="none" stroke="#000" stroke-width="1.7"/><path d="M866.9 1380C870.4 1417.1 898.7 1417.1 902.2 1380" fill="none" stroke="#000" stroke-width="1.7"/><path d="M923 1380C925.4 1397.7 943.9 1397.7 946.3 1380" fill="none" stroke="#000" stroke-width="1.7"/><path d="M958.5 1380C960.2 1401.3 974 1401.3 975.8 1380" fill="none" stroke="#000" stroke-width="1.7"/><path d="M1002.1 1380C1003.7 1411.3 1016.6 1411.3 1018.2 1380" fill="none" stroke="#000" stroke-width="1.7"/><path d="M1031.3 1380C1033.5 1415.1 1051.2 1415.1 1053.5 1380" fill="none" stroke="#000" stroke-width="1.7"/><path d="M1074.7 1380C1076.9 1406.1 1094.8 1406.1 1097 1380" fill="none" stroke="#000" stroke-width="1.7"/><path d="M1129 1380C1130.7 1419.2 1144.4 1419.2 1146.1 1380" fill="none" stroke="#000" stroke-width="1.7"/><path d="M1144 1380C1147.1 1415.8 1171.9 1415.8 1175 1380" fill="none" stroke="#000" stroke-width="1.7"/><path d="M1179.3 1380C1182.5 1403 1207.9 1403 1211 1380" fill="none" stroke="#000" stroke-width="1.7"/><path d="M1243.7 1380C1245.3 1394.5 1258.2 1394.5 1259.8 1380" fill="none" stroke="#000" stroke-width="1.7"/><path d="M1260.9 1380C1264.4 1398.5 1292.5 1398.5 1296 1380" fill="none" stroke="#000" stroke-width="1.7"/><path d="M1327.5 1380C1330.9 1418.4 1358.6 1418.4 1362.1 1380" fill="none" stroke="#000" stroke-width="1.7"/><path d="M1384.2 1380C1386.5 1407.3 1405 1407.3 1407.3 1380" fill="none" stroke="#000" stroke-width="1.7"/><path d="M1441.7 1380C1443.5 1413.2 1458 1413.2 1459.8 1380" fill="none" stroke="#000" stroke-width="1.7"/><path d="M192.2 1431.5c1.5 .4 6.1 1 9.2 2.3s5.4 3.5 9.3 5.8s9.7 6.1 13.9 8.1s8.4 3.3 11.5 3.9s4.7 .9 7-.5s4.6-4.6 6.9-8.1s4.7-8.9 7-12.7s4.6-7.2 6.9-10.3s4.3-6.4 7-8.1s6.5-.6 9.2-1.9s4.7-3.4 7-6.2s4.6-7.9 6.9-10.4s4.2-3.5 6.9-4.6s5.8-1.7 9.3-1.9s8.1-.2 11.6 .7s6.5 2.7 9.2 4.6s4.7 5.7 7 7s4.6 1.5 6.9 1.1s4.6-2.8 6.9-3.4s4.7-1 7 0s4.4 3.3 6.9 5.7s5.6 8.4 8.1 8.8s4.7-4.1 7-6.5s4.4-6.5 6.9-8s5.6-1.3 8.1-.7s4.7 2.2 7 4.1s4.6 5.2 6.9 7.4s4.6 5.9 6.9 6s4.7-2.7 7-5.3s4.6-8.1 6.9-10.4s4.7-3.5 7-3.5s4.2 1.4 6.9 3.5s6.2 8.2 9.3 9.3s6.1-1.3 9.2-2.8s6.2-5.3 9.3-6s6.6-.8 9.2 1.8s4.5 9.7 6.1 13.9s1.9 7.3 3.4 11.5s3.7 10 5.8 13.9s4.6 7.3 6.9 9.2s4.7 3.1 7 2.3s4.8-2.7 6.9-6.9s4.1-12.9 5.8-18.5s2.9-12.3 4.6-15s3.7-2.8 5.8-1.1s4.5 6.7 7 11.5s5.8 16.2 8.1 17.3s3.7-5.6 5.8-10.4s4.6-14.2 6.9-18.4s4.6-5.8 6.9-7s4.9-1.5 7 0s4.1 3.9 5.8 9.3s2.9 14.4 4.6 23.1s4.1 26.9 5.8 28.8s3.1-9.4 4.6-17.3s3-21.9 4.6-30s3-15.2 4.7-18.5s3.5-3 5.8-1.1s5.6 7.1 8.1 12.7s4.6 13.8 6.9 20.7s4.6 15.8 6.9 20.8s4.9 9.7 7 9.3s3.9-5.8 5.8-11.6s3.8-16.6 5.7-23.1s3.7-12.6 5.8-16.1s4.5-4.9 7-4.7s5.4 4.1 8.1 5.8s5.4 5.2 8.1 4.6s5.6-5.3 8.1-8s4.6-6.8 6.9-8.1s4.5-1.5 7 0s5.4 6.1 8.1 9.2s5.6 6.9 8.1 9.2s4.2 5.1 6.9 4.7s6.2-4.1 9.3-7s6.5-8.7 9.2-10.4s4.7-1.7 7 0s4.6 6.2 6.9 10.4s4.8 11.1 6.9 15s3.9 10 5.8 8.1s3.9-13.2 5.8-19.6s3.9-15.8 5.8-18.5s3.3 0 5.8 2.3s6.1 8.7 9.2 11.6s7 2.9 9.5 5.8s3.7 12.1 5.8 11.5s4.6-11.3 6.9-15s4.3-6.9 7-6.9s6.1 3.5 9.2 6.9s6.6 8.8 9.3 13.8s4.8 11.4 6.9 16.2s3.9 12.3 5.8 12.7s3.7-4.8 5.8-10.4s4.9-15 7-23.1s3.8-19.6 5.7-25.4s3.7-8.2 5.8-9.2s4.7-.1 7 3.4s4.6 12.6 6.9 17.4s4.3 10.3 7 11.5s6.5-1.9 9.2-4.6s5.1-8.4 7-11.5s2.9-7.4 4.6-7s3.5 3.9 5.8 9.3s5.6 16 8.1 23.1s4.6 17.3 6.9 19.6s4.7-.6 7-5.8s4.8-17.3 6.9-25.4s3.9-18.3 5.8-23.1s3.3-5.4 5.8-5.8s6.5 2.2 9.2 3.5s4.3 4.6 7 4.6s6.1-2.7 9.2-4.6s6.8-5.5 9.3-6.9s3.9-2.4 5.8-1.2s3.6 3.3 5.7 8.1s4.5 13.9 7 20.8s5.8 18.9 8.1 20.8s3.7-5.5 5.8-9.3s4.6-9.6 6.9-13.8s4.9-9.1 7-11.6s3.8-5.3 5.7-3.4s4 7.1 5.8 15s3.2 21.1 4.7 32.3s3.2 26.8 4.6 34.7s2.2 13.1 3.5 12.7s2.9-6.8 4.6-15.1s3.7-24.2 5.8-34.6s4.6-21.7 6.9-27.7s4.6-7.3 6.9-8.1s4.3 1 7 3.5s6.5 8.8 9.2 11.5s4.6 4.4 7 4.6s5-2.8 7.2-3.4s3.2-1.7 5.7 0s5.8 6.4 9.3 10.4s8.3 10.5 11.6 13.8s5.4 6.6 8.1 5.8s5.6-5.6 8.1-10.4s4.6-13.9 6.9-18.5s4.7-8.8 7-9.2s4.6 3.4 6.9 6.9s4.4 10.2 6.9 13.9s5.8 8.1 8.1 8.1s3.7-3.9 5.8-8.1s4.7-12.9 7-17.3s4.6-9.1 6.9-9.3s4.7 4 7 8.1s4.6 12.2 6.9 16.2s4.8 8 6.9 8s3.9-3.2 5.8-8s3.7-15.4 5.8-20.8s4.7-9.5 7-11.6s4.6-2.3 6.9-1.1s4.6 4.8 6.9 8.1s4.7 8.4 7 11.5s4.6 6.9 6.9 6.9s4.3-3.6 7-6.9s6.3-9.8 9.2-12.7s5.8-4.8 8.1-4.6s3.7 2.5 5.8 5.8s4.6 9.8 6.9 13.8s4.3 9.4 7 10.4s6.1-1.3 9.2-4.6s6.6-11.5 9.3-15s4.6-6.2 6.9-5.8s4.3 4.6 7 8.1s5.7 9.4 9.2 12.7s8.5 6.9 11.6 6.9s4.7-4.2 7-6.9s4.2-8.4 6.9-9.2s6.1 2.7 9.2 4.6s6.2 5.6 9.3 6.9s6.6 2.2 9.3 1.2s4.2-3.5 6.9-7s6.2-12.1 9.3-13.8s6.5 2 9.2 3.4s5.8 3.9 7 4.7" fill="none" stroke="#000" stroke-width="4.8" stroke-linejoin="round" stroke-linecap="butt" stroke-dasharray="7.6 3.4"/><line x1="180" y1="1558" x2="1465" y2="1558" stroke="#f2f2f2" stroke-width="4.8" stroke-dasharray="24 18.3" opacity="0.92"/><line x1="180" y1="1709" x2="1465" y2="1709" stroke="#f6f6f6" stroke-width="4.4" stroke-dasharray="5.2 6.8" opacity="0.92"/><text transform="translate(262 1436) rotate(0) scale(0.85 1)" font-size="27" text-anchor="start" fill="#000" font-style="italic">34.7</text><text transform="translate(326 1436) rotate(0) scale(0.85 1)" font-size="27" text-anchor="start" fill="#000" font-style="italic">34.75</text><text transform="translate(174 1446) rotate(0) scale(0.85 1)" font-size="25" text-anchor="start" fill="#000" font-style="italic">34.7</text><text transform="translate(225 1420) rotate(-80) scale(0.85 1)" font-size="25" text-anchor="start" fill="#000" font-style="italic">34</text><text transform="translate(176 1424) rotate(-80) scale(0.85 1)" font-size="25" text-anchor="start" fill="#000" font-style="italic">6</text><text transform="translate(648 1468) rotate(5) scale(0.85 1)" font-size="27" text-anchor="start" fill="#000" font-style="italic">34.8</text><text transform="translate(722 1432) rotate(15) scale(0.85 1)" font-size="27" text-anchor="start" fill="#000" font-style="italic">34.7</text><text transform="translate(813 1491) rotate(28) scale(0.85 1)" font-size="28" text-anchor="start" fill="#000" font-style="italic">34.85</text><text transform="translate(850 1420) rotate(20) scale(0.85 1)" font-size="27" text-anchor="start" fill="#000" font-style="italic">34.75</text><text transform="translate(935 1408) rotate(10) scale(0.85 1)" font-size="27" text-anchor="start" fill="#000" font-style="italic">34.</text><text transform="translate(968 1420) rotate(15) scale(0.85 1)" font-size="27" text-anchor="start" fill="#000" font-style="italic">34.6</text><text transform="translate(997 1451) rotate(0) scale(0.85 1)" font-size="27" text-anchor="start" fill="#fff" font-style="italic">34.8</text><text transform="translate(1079 1428) rotate(0) scale(0.85 1)" font-size="27" text-anchor="start" fill="#000" font-style="italic">34.75</text><text transform="translate(1248 1412) rotate(8) scale(0.85 1)" font-size="27" text-anchor="start" fill="#000" font-style="italic">34.75</text><text transform="translate(707 1737) rotate(0) scale(0.85 1)" font-size="28" text-anchor="start" fill="#000" font-style="italic">34.9</text><text transform="translate(590 1466) rotate(0) scale(0.85 1)" font-size="27" text-anchor="start" fill="#000" font-style="italic">1.5</text><text transform="translate(310 1402) rotate(0) scale(0.85 1)" font-size="25" text-anchor="start" fill="#000" font-style="italic">34.6</text><text transform="translate(207 1889) scale(0.95 1)" font-size="62" text-anchor="start" fill="#000">C</text><text transform="translate(1214.5 1846.5) scale(0.856 1)" font-size="55.5" text-anchor="start" fill="#000" font-weight="bold">Salinity</text>
</g>
<line x1="106.7" y1="1378.5" x2="106.7" y2="1936.5" stroke="#000" stroke-width="4.8"/><line x1="106.7" y1="1380" x2="1467" y2="1380" stroke="#000" stroke-width="3"/><line x1="1465.5" y1="1380" x2="1465.5" y2="1935.5" stroke="#000" stroke-width="3"/><line x1="106.7" y1="1934" x2="1467" y2="1934" stroke="#000" stroke-width="3"/><line x1="104.3" y1="1934" x2="174" y2="1934" stroke="#000" stroke-width="5.5"/><line x1="90.7" y1="1380" x2="106.7" y2="1380" stroke="#000" stroke-width="1.3"/><line x1="90.7" y1="1527.8" x2="106.7" y2="1527.8" stroke="#000" stroke-width="1.3"/><line x1="90.7" y1="1657" x2="106.7" y2="1657" stroke="#000" stroke-width="1.3"/><line x1="90.7" y1="1757.6" x2="106.7" y2="1757.6" stroke="#000" stroke-width="1.3"/><line x1="90.7" y1="1829.7" x2="106.7" y2="1829.7" stroke="#000" stroke-width="1.3"/><line x1="90.7" y1="1877.8" x2="106.7" y2="1877.8" stroke="#000" stroke-width="1.3"/><line x1="90.7" y1="1908" x2="106.7" y2="1908" stroke="#000" stroke-width="1.3"/><line x1="90.7" y1="1927.5" x2="106.7" y2="1927.5" stroke="#000" stroke-width="1.3"/><line x1="95.7" y1="1439.1" x2="106.7" y2="1439.1" stroke="#000" stroke-width="1.1" opacity="0.8"/><line x1="95.7" y1="1498.2" x2="106.7" y2="1498.2" stroke="#000" stroke-width="1.1" opacity="0.8"/><line x1="95.7" y1="1553.6" x2="106.7" y2="1553.6" stroke="#000" stroke-width="1.1" opacity="0.8"/><line x1="95.7" y1="1605.3" x2="106.7" y2="1605.3" stroke="#000" stroke-width="1.1" opacity="0.8"/><line x1="95.7" y1="1697.2" x2="106.7" y2="1697.2" stroke="#000" stroke-width="1.1" opacity="0.8"/><line x1="95.7" y1="1737.5" x2="106.7" y2="1737.5" stroke="#000" stroke-width="1.1" opacity="0.8"/><line x1="95.7" y1="1772" x2="106.7" y2="1772" stroke="#000" stroke-width="1.1" opacity="0.8"/><line x1="95.7" y1="1800.9" x2="106.7" y2="1800.9" stroke="#000" stroke-width="1.1" opacity="0.8"/><line x1="95.7" y1="1848.9" x2="106.7" y2="1848.9" stroke="#000" stroke-width="1.1" opacity="0.8"/><line x1="95.7" y1="1868.2" x2="106.7" y2="1868.2" stroke="#000" stroke-width="1.1" opacity="0.8"/><line x1="95.7" y1="1883.8" x2="106.7" y2="1883.8" stroke="#000" stroke-width="1.1" opacity="0.8"/><line x1="95.7" y1="1895.9" x2="106.7" y2="1895.9" stroke="#000" stroke-width="1.1" opacity="0.8"/><line x1="95.7" y1="1915.8" x2="106.7" y2="1915.8" stroke="#000" stroke-width="1.1" opacity="0.8"/><line x1="95.7" y1="1923.6" x2="106.7" y2="1923.6" stroke="#000" stroke-width="1.1" opacity="0.8"/><line x1="192.4" y1="1934" x2="192.4" y2="1943" stroke="#000" stroke-width="1.2"/><line x1="302.2" y1="1934" x2="302.2" y2="1940" stroke="#000" stroke-width="1.2" opacity="0.45"/><line x1="412.1" y1="1934" x2="412.1" y2="1943" stroke="#000" stroke-width="1.2"/><line x1="521.9" y1="1934" x2="521.9" y2="1940" stroke="#000" stroke-width="1.2" opacity="0.45"/><line x1="631.7" y1="1934" x2="631.7" y2="1943" stroke="#000" stroke-width="1.2"/><line x1="741.5" y1="1934" x2="741.5" y2="1940" stroke="#000" stroke-width="1.2" opacity="0.45"/><line x1="851.4" y1="1934" x2="851.4" y2="1943" stroke="#000" stroke-width="1.2"/><line x1="961.2" y1="1934" x2="961.2" y2="1940" stroke="#000" stroke-width="1.2" opacity="0.45"/><line x1="1071" y1="1934" x2="1071" y2="1943" stroke="#000" stroke-width="1.2"/><line x1="1180.8" y1="1934" x2="1180.8" y2="1940" stroke="#000" stroke-width="1.2" opacity="0.45"/><line x1="1290.7" y1="1934" x2="1290.7" y2="1943" stroke="#000" stroke-width="1.2"/><line x1="1400.5" y1="1934" x2="1400.5" y2="1940" stroke="#000" stroke-width="1.2" opacity="0.45"/>
<text transform="translate(74.5 1392.3) scale(0.82 1)" font-size="35" text-anchor="end" fill="#000" font-style="italic">0</text><text transform="translate(74.5 1541.6) scale(0.82 1)" font-size="39" text-anchor="end" fill="#000" font-style="italic">250</text><text transform="translate(74.5 1670.8) scale(0.82 1)" font-size="39" text-anchor="end" fill="#000" font-style="italic">500</text><text transform="translate(74.5 1771.4) scale(0.82 1)" font-size="39" text-anchor="end" fill="#000" font-style="italic">750</text><text transform="translate(74.5 1843.5) scale(0.82 1)" font-size="39" text-anchor="end" fill="#000" font-style="italic">1000</text><text transform="translate(74.5 1891.6) scale(0.82 1)" font-size="39" text-anchor="end" fill="#000" font-style="italic">1250</text><text transform="translate(74.5 1941.3) scale(0.82 1)" font-size="39" text-anchor="end" fill="#000" font-style="italic">1750</text><text transform="translate(190.9 1998) scale(0.82 1)" font-size="39" text-anchor="middle" fill="#000" font-style="italic">1985</text><text transform="translate(410.6 1998) scale(0.82 1)" font-size="39" text-anchor="middle" fill="#000" font-style="italic">1990</text><text transform="translate(630.2 1998) scale(0.82 1)" font-size="39" text-anchor="middle" fill="#000" font-style="italic">1995</text><text transform="translate(849.9 1998) scale(0.82 1)" font-size="39" text-anchor="middle" fill="#000" font-style="italic">2000</text><text transform="translate(1069.5 1998) scale(0.82 1)" font-size="39" text-anchor="middle" fill="#000" font-style="italic">2005</text><text transform="translate(1289.2 1998) scale(0.82 1)" font-size="39" text-anchor="middle" fill="#000" font-style="italic">2010</text>
<g clip-path="url(#clipD)">
<g filter="url(#fbd)"><rect x="98.5" y="2018.5" width="11.6" height="501" fill="url(#d0)"/><rect x="109.5" y="2018.5" width="11.6" height="501" fill="url(#d1)"/><rect x="120.5" y="2018.5" width="11.6" height="501" fill="url(#d2)"/><rect x="131.5" y="2018.5" width="11.6" height="501" fill="url(#d3)"/><rect x="142.5" y="2018.5" width="11.6" height="501" fill="url(#d4)"/><rect x="153.5" y="2018.5" width="11.6" height="501" fill="url(#d5)"/><rect x="164.5" y="2018.5" width="11.6" height="501" fill="url(#d6)"/><rect x="175.5" y="2018.5" width="11.6" height="501" fill="url(#d7)"/><rect x="186.5" y="2018.5" width="11.6" height="501" fill="url(#d8)"/><rect x="197.5" y="2018.5" width="11.6" height="501" fill="url(#d9)"/><rect x="208.5" y="2018.5" width="11.6" height="501" fill="url(#d10)"/><rect x="219.5" y="2018.5" width="11.6" height="501" fill="url(#d11)"/><rect x="230.5" y="2018.5" width="11.6" height="501" fill="url(#d12)"/><rect x="241.5" y="2018.5" width="11.6" height="501" fill="url(#d13)"/><rect x="252.5" y="2018.5" width="11.6" height="501" fill="url(#d14)"/><rect x="263.5" y="2018.5" width="11.6" height="501" fill="url(#d15)"/><rect x="274.5" y="2018.5" width="11.6" height="501" fill="url(#d16)"/><rect x="285.5" y="2018.5" width="11.6" height="501" fill="url(#d17)"/><rect x="296.5" y="2018.5" width="11.6" height="501" fill="url(#d18)"/><rect x="307.5" y="2018.5" width="11.6" height="501" fill="url(#d19)"/><rect x="318.5" y="2018.5" width="11.6" height="501" fill="url(#d20)"/><rect x="329.5" y="2018.5" width="11.6" height="501" fill="url(#d21)"/><rect x="340.5" y="2018.5" width="11.6" height="501" fill="url(#d22)"/><rect x="351.5" y="2018.5" width="11.6" height="501" fill="url(#d23)"/><rect x="362.5" y="2018.5" width="11.6" height="501" fill="url(#d24)"/><rect x="373.5" y="2018.5" width="11.6" height="501" fill="url(#d25)"/><rect x="384.5" y="2018.5" width="11.6" height="501" fill="url(#d26)"/><rect x="395.5" y="2018.5" width="11.6" height="501" fill="url(#d27)"/><rect x="406.5" y="2018.5" width="11.6" height="501" fill="url(#d28)"/><rect x="417.5" y="2018.5" width="11.6" height="501" fill="url(#d29)"/><rect x="428.5" y="2018.5" width="11.6" height="501" fill="url(#d30)"/><rect x="439.5" y="2018.5" width="11.6" height="501" fill="url(#d31)"/><rect x="450.5" y="2018.5" width="11.6" height="501" fill="url(#d32)"/><rect x="461.5" y="2018.5" width="11.6" height="501" fill="url(#d33)"/><rect x="472.5" y="2018.5" width="11.6" height="501" fill="url(#d34)"/><rect x="483.5" y="2018.5" width="11.6" height="501" fill="url(#d35)"/><rect x="494.5" y="2018.5" width="11.6" height="501" fill="url(#d36)"/><rect x="505.5" y="2018.5" width="11.6" height="501" fill="url(#d37)"/><rect x="516.5" y="2018.5" width="11.6" height="501" fill="url(#d38)"/><rect x="527.5" y="2018.5" width="11.6" height="501" fill="url(#d39)"/><rect x="538.5" y="2018.5" width="11.6" height="501" fill="url(#d40)"/><rect x="549.5" y="2018.5" width="11.6" height="501" fill="url(#d41)"/><rect x="560.5" y="2018.5" width="11.6" height="501" fill="url(#d42)"/><rect x="571.5" y="2018.5" width="11.6" height="501" fill="url(#d43)"/><rect x="582.5" y="2018.5" width="11.6" height="501" fill="url(#d44)"/><rect x="593.5" y="2018.5" width="11.6" height="501" fill="url(#d45)"/><rect x="604.5" y="2018.5" width="11.6" height="501" fill="url(#d46)"/><rect x="615.5" y="2018.5" width="11.6" height="501" fill="url(#d47)"/><rect x="626.5" y="2018.5" width="11.6" height="501" fill="url(#d48)"/><rect x="637.5" y="2018.5" width="11.6" height="501" fill="url(#d49)"/><rect x="648.5" y="2018.5" width="11.6" height="501" fill="url(#d50)"/><rect x="659.5" y="2018.5" width="11.6" height="501" fill="url(#d51)"/><rect x="670.5" y="2018.5" width="11.6" height="501" fill="url(#d52)"/><rect x="681.5" y="2018.5" width="11.6" height="501" fill="url(#d53)"/><rect x="692.5" y="2018.5" width="11.6" height="501" fill="url(#d54)"/><rect x="703.5" y="2018.5" width="11.6" height="501" fill="url(#d55)"/><rect x="714.5" y="2018.5" width="11.6" height="501" fill="url(#d56)"/><rect x="725.5" y="2018.5" width="11.6" height="501" fill="url(#d57)"/><rect x="736.5" y="2018.5" width="11.6" height="501" fill="url(#d58)"/><rect x="747.5" y="2018.5" width="11.6" height="501" fill="url(#d59)"/><rect x="758.5" y="2018.5" width="11.6" height="501" fill="url(#d60)"/><rect x="769.5" y="2018.5" width="11.6" height="501" fill="url(#d61)"/><rect x="780.5" y="2018.5" width="11.6" height="501" fill="url(#d62)"/><rect x="791.5" y="2018.5" width="11.6" height="501" fill="url(#d63)"/><rect x="802.5" y="2018.5" width="11.6" height="501" fill="url(#d64)"/><rect x="813.5" y="2018.5" width="11.6" height="501" fill="url(#d65)"/><rect x="824.5" y="2018.5" width="11.6" height="501" fill="url(#d66)"/><rect x="835.5" y="2018.5" width="11.6" height="501" fill="url(#d67)"/><rect x="846.5" y="2018.5" width="11.6" height="501" fill="url(#d68)"/><rect x="857.5" y="2018.5" width="11.6" height="501" fill="url(#d69)"/><rect x="868.5" y="2018.5" width="11.6" height="501" fill="url(#d70)"/><rect x="879.5" y="2018.5" width="11.6" height="501" fill="url(#d71)"/><rect x="890.5" y="2018.5" width="11.6" height="501" fill="url(#d72)"/><rect x="901.5" y="2018.5" width="11.6" height="501" fill="url(#d73)"/><rect x="912.5" y="2018.5" width="11.6" height="501" fill="url(#d74)"/><rect x="923.5" y="2018.5" width="11.6" height="501" fill="url(#d75)"/><rect x="934.5" y="2018.5" width="11.6" height="501" fill="url(#d76)"/><rect x="945.5" y="2018.5" width="11.6" height="501" fill="url(#d77)"/><rect x="956.5" y="2018.5" width="11.6" height="501" fill="url(#d78)"/><rect x="967.5" y="2018.5" width="11.6" height="501" fill="url(#d79)"/><rect x="978.5" y="2018.5" width="11.6" height="501" fill="url(#d80)"/><rect x="989.5" y="2018.5" width="11.6" height="501" fill="url(#d81)"/><rect x="1000.5" y="2018.5" width="11.6" height="501" fill="url(#d82)"/><rect x="1011.5" y="2018.5" width="11.6" height="501" fill="url(#d83)"/><rect x="1022.5" y="2018.5" width="11.6" height="501" fill="url(#d84)"/><rect x="1033.5" y="2018.5" width="11.6" height="501" fill="url(#d85)"/><rect x="1044.5" y="2018.5" width="11.6" height="501" fill="url(#d86)"/><rect x="1055.5" y="2018.5" width="11.6" height="501" fill="url(#d87)"/><rect x="1066.5" y="2018.5" width="11.6" height="501" fill="url(#d88)"/><rect x="1077.5" y="2018.5" width="11.6" height="501" fill="url(#d89)"/><rect x="1088.5" y="2018.5" width="11.6" height="501" fill="url(#d90)"/><rect x="1099.5" y="2018.5" width="11.6" height="501" fill="url(#d91)"/><rect x="1110.5" y="2018.5" width="11.6" height="501" fill="url(#d92)"/><rect x="1121.5" y="2018.5" width="11.6" height="501" fill="url(#d93)"/><rect x="1132.5" y="2018.5" width="11.6" height="501" fill="url(#d94)"/><rect x="1143.5" y="2018.5" width="11.6" height="501" fill="url(#d95)"/><rect x="1154.5" y="2018.5" width="11.6" height="501" fill="url(#d96)"/><rect x="1165.5" y="2018.5" width="11.6" height="501" fill="url(#d97)"/><rect x="1176.5" y="2018.5" width="11.6" height="501" fill="url(#d98)"/><rect x="1187.5" y="2018.5" width="11.6" height="501" fill="url(#d99)"/><rect x="1198.5" y="2018.5" width="11.6" height="501" fill="url(#d100)"/><rect x="1209.5" y="2018.5" width="11.6" height="501" fill="url(#d101)"/><rect x="1220.5" y="2018.5" width="11.6" height="501" fill="url(#d102)"/><rect x="1231.5" y="2018.5" width="11.6" height="501" fill="url(#d103)"/><rect x="1242.5" y="2018.5" width="11.6" height="501" fill="url(#d104)"/><rect x="1253.5" y="2018.5" width="11.6" height="501" fill="url(#d105)"/><rect x="1264.5" y="2018.5" width="11.6" height="501" fill="url(#d106)"/><rect x="1275.5" y="2018.5" width="11.6" height="501" fill="url(#d107)"/><rect x="1286.5" y="2018.5" width="11.6" height="501" fill="url(#d108)"/><rect x="1297.5" y="2018.5" width="11.6" height="501" fill="url(#d109)"/><rect x="1308.5" y="2018.5" width="11.6" height="501" fill="url(#d110)"/><rect x="1319.5" y="2018.5" width="11.6" height="501" fill="url(#d111)"/><rect x="1330.5" y="2018.5" width="11.6" height="501" fill="url(#d112)"/><rect x="1341.5" y="2018.5" width="11.6" height="501" fill="url(#d113)"/><rect x="1352.5" y="2018.5" width="11.6" height="501" fill="url(#d114)"/><rect x="1363.5" y="2018.5" width="11.6" height="501" fill="url(#d115)"/><rect x="1374.5" y="2018.5" width="11.6" height="501" fill="url(#d116)"/><rect x="1385.5" y="2018.5" width="11.6" height="501" fill="url(#d117)"/><rect x="1396.5" y="2018.5" width="11.6" height="501" fill="url(#d118)"/><rect x="1407.5" y="2018.5" width="11.6" height="501" fill="url(#d119)"/><rect x="1418.5" y="2018.5" width="11.6" height="501" fill="url(#d120)"/><rect x="1429.5" y="2018.5" width="11.6" height="501" fill="url(#d121)"/><rect x="1440.5" y="2018.5" width="11.6" height="501" fill="url(#d122)"/><rect x="1451.5" y="2018.5" width="11.6" height="501" fill="url(#d123)"/><rect x="1462.5" y="2018.5" width="11.6" height="501" fill="url(#d124)"/><rect x="1473.5" y="2018.5" width="11.6" height="501" fill="url(#d125)"/></g>
</g>
<line x1="86.5" y1="2185" x2="110.5" y2="2185" stroke="#000" stroke-width="1.1" opacity="0.8"/><line x1="110.5" y1="2185" x2="1465.5" y2="2185" stroke="#000" stroke-width="1.1" opacity="0.0"/><line x1="86.5" y1="2317" x2="110.5" y2="2317" stroke="#000" stroke-width="1.1" opacity="0.8"/><line x1="110.5" y1="2317" x2="1465.5" y2="2317" stroke="#000" stroke-width="1.1" opacity="0.6"/><line x1="86.5" y1="2417" x2="110.5" y2="2417" stroke="#000" stroke-width="1.1" opacity="0.8"/><line x1="110.5" y1="2417" x2="1465.5" y2="2417" stroke="#000" stroke-width="1.1" opacity="0.1"/><line x1="86.5" y1="2484" x2="110.5" y2="2484" stroke="#000" stroke-width="1.1" opacity="0.8"/><line x1="110.5" y1="2484" x2="1465.5" y2="2484" stroke="#000" stroke-width="1.1" opacity="0.45"/><line x1="86.5" y1="2527" x2="110.5" y2="2527" stroke="#000" stroke-width="1.1" opacity="0.8"/><line x1="110.5" y1="2527" x2="1465.5" y2="2527" stroke="#000" stroke-width="1.1" opacity="0.8"/><line x1="86.5" y1="2552" x2="110.5" y2="2552" stroke="#000" stroke-width="1.1" opacity="0.8"/><line x1="110.5" y1="2552" x2="1465.5" y2="2552" stroke="#000" stroke-width="1.1" opacity="0.8"/><line x1="191.3" y1="2030.5" x2="191.3" y2="2566" stroke="#000" stroke-width="1.1" opacity="0.0"/><line x1="411.1" y1="2030.5" x2="411.1" y2="2566" stroke="#000" stroke-width="1.1" opacity="0.0"/><line x1="630.8" y1="2030.5" x2="630.8" y2="2566" stroke="#000" stroke-width="1.1" opacity="0.5"/><line x1="850.5" y1="2030.5" x2="850.5" y2="2566" stroke="#000" stroke-width="1.1" opacity="0.5"/><line x1="1070.3" y1="2030.5" x2="1070.3" y2="2566" stroke="#000" stroke-width="1.1" opacity="0.0"/><line x1="1290" y1="2030.5" x2="1290" y2="2566" stroke="#000" stroke-width="1.1" opacity="0.0"/>
<g clip-path="url(#clipD)">
<path d="M117.2 2037.3h0m31.6-.7h0m11 0h0m22 .5h0m11-.4h0m43.9-.1h0m22 1h0m100.2 0h0m64.6-.7h0m11-.5h0m79.6 .9h0m21.9-.8h0m34.3 .4h0m20.7-.5h0m32.9 .2h0m22 .2h0m11 .4h0m22 .2h0m22-1h0m43.9 .5h0m44 .7h0m10.9-.3h0m11 .5h0m33-.6h0m34.3 .2h0m11-.7h0m12.3 .6h0m12.3-.7h0m11 .6h0m53.6-.3h0m11-.6h0m11 1.5h0m9.6-1.1h0m11 .5h0m11-.2h0m11 .5h0m11-.8h0m74.2-.4h0m42.7 1h0m22-.2h0m9.6-.5h0m11-.1h0m9.7-.2h0m9.6 0h0m34.3 1.1h0m12.3-.4h0m22-.3h0m20.7 .9h0m11-.1h0m10.9-.8h0m11-.4h0m22 .5h0m44 .3h0m21.9 .4h0m11 .1h0m-1326.8 5.1h0m11 1.4h0m10.9-.6h0m11-.2h0m22 .5h0m133.2-.9h0m65.9 1.3h0m11-1.4h0m9.7-.1h0m21.9 1.1h0m90.6 .1h0m11-.7h0m45.2 .8h0m20.7-1.3h0m22 .5h0m32.9 .9h0m65.9-.7h0m33-.1h0m22 .3h0m11 .4h0m11-1.1h0m21.9 1.2h0m44-.2h0m46.6 .2h0m12.3-.1h0m11-1.2h0m53.6 .7h0m22 0h0m9.6-.1h0m22-.3h0m11 .7h0m42.6 .4h0m96.3-1.3h0m31.6 .8h0m53.6 .3h0m76.9-.2h0m44-1h0m-1270.6 7.1h0m31.6-.4h0m11 .2h0m9.7 1h0m12.3 0h0m11-1.2h0m23.3-.1h0m11-.1h0m9.6 .2h0m22-.3h0m33 .4h0m109.9-.3h0m54.9 1h0m11-.4h0m11-.2h0m46.6 .6h0m10.9-.1h0m22 .4h0m23.3-.1h0m9.7-.8h0m22 .2h0m10.9 .4h0m33 0h0m11-.6h0m11-.5h0m22 .2h0m31.6 .5h0m12.3-.7h0m22 .2h0m22 .4h0m32.9 .6h0m134.5-1.2h0m33 .7h0m11 .2h0m9.6 .4h0m44-.4h0m83.9-.5h0m11 .4h0m22-.2h0m42.6 .6h0m9.7-.3h0m9.6-.3h0m46.6-.5h0m22 1.1h0m20.7 .2h0m11 .1h0m10.9 .1h0m33-.1h0m33-.2h0m32.9-1.1h0m11 1.3h0m-1315.8 6.8h0m10.9-.1h0m33 .1h0m22-.4h0m12.3 .2h0m75.6-.4h0m12.3 .5h0m11-.4h0m21.9 .1h0m11-.9h0m75.6 1h0m22-.8h0m11 .6h0m45.3 .4h0m23.3-.2h0m10.9-.5h0m45.3 .2h0m9.7 .4h0m32.9 .1h0m33-.8h0m44 .9h0m20.6-.9h0m11 .7h0m12.3-.9h0m22-.1h0m22 .5h0m43.9 .3h0m80.9 .3h0m11 .2h0m85.2-.5h0m11 0h0m22 .4h0m11-1h0m9.6 .6h0m11-.8h0m11 1.5h0m42.6-1.5h0m20.7 .1h0m33 1.3h0m11-1.2h0m9.6 1h0m30.3 .2h0m12.4 0h0m10.9-1.3h0m45.3 1.2h0m20.7-1.2h0m21.9 .2h0m11 1h0m55-.2h0m11 .3h0m32.9-.3h0m-1336.5 6h0m20.7 .3h0m21.9 .2h0m33 .7h0m11-1.1h0m12.3 0h0m11 .7h0m9.6-.7h0m33 .8h0m45.3-.5h0m21.9 .1h0m11-.2h0m44-.3h0m20.6 1.1h0m33-.4h0m11-.1h0m22-.5h0m57.5 .8h0m22 .3h0m12.3-.6h0m20.7 .1h0m32.9-.2h0m22-.4h0m11 1h0m22-.8h0m11 .9h0m11-1.1h0m10.9-.2h0m9.7 .3h0m34.3 .1h0m22-.4h0m32.9 .6h0m11-.3h0m11 0h0m11 .9h0m11-.6h0m11-.4h0m47.9 .6h0m11-.8h0m9.6 .9h0m22 .3h0m22-.8h0m31.6 .9h0m64.6-.8h0m74.3-.1h0m11-.3h0m33 .1h0m9.6 1h0m30.3-.6h0m23.3 .3h0m11-.2h0m55 .6h0m21.9-.7h0m33-.3h0m22 .5h0m11-.2h0m32.9-.5h0m-1315.8 13.3h0m11 .7h0m10.9-.5h0m11-.5h0m9.7 1.2h0m23.3-.1h0m23.3-1.1h0m11 .9h0m9.6-.3h0m22 .7h0m11-.5h0m22-.4h0m12.3 .3h0m11-.8h0m21.9 0h0m22 1.4h0m22 0h0m11-1.1h0m9.7 .6h0m10.9 .1h0m22-.1h0m11 .5h0m11 0h0m11-.6h0m11-.1h0m11-.2h0m12.3 .1h0m12.3-.4h0m11 .4h0m45.2 .3h0m11-.5h0m31.7-.3h0m10.9 .7h0m22 .6h0m11-.9h0m11 .3h0m11-.1h0m11-.4h0m31.6 .7h0m11-.8h0m12.3 .7h0m22 .1h0m22-.4h0m10.9 .6h0m11-.5h0m33-.4h0m11 .7h0m11-.4h0m12.3-.2h0m11-.4h0m12.3 .9h0m23.3 .1h0m9.6-.1h0m22-.5h0m22 .9h0m22-.2h0m9.6-.9h0m11 .4h0m11 .7h0m11-.8h0m11 .8h0m9.6-.4h0m33 .6h0m9.7-.7h0m21.9 .7h0m9.7-1.5h0m22 .6h0m11-.3h0m11 .5h0m11-.1h0m30.3-.3h0m9.6 .5h0m12.4-.8h0m21.9 1.2h0m12.3-1.1h0m11 .8h0m11-.3h0m11 0h0m9.7-.1h0m11-.5h0m10.9 1.1h0m11-.2h0m22 .3h0m11-.1h0m11 .2h0m22-1.4h0m21.9 0h0m-1325.5 17h0m20.7 .5h0m10.9-1h0m20.7 .3h0m12.3 0h0m11 .6h0m23.3-.7h0m42.6 .6h0m11-1.3h0m22 .5h0m12.3 .9h0m11-.5h0m21.9-.8h0m44 1.2h0m11-.3h0m20.6-.5h0m11 .1h0m11-.3h0m11-.4h0m11 .8h0m11 .3h0m11-.7h0m11 .1h0m12.3 .5h0m12.3-.1h0m76.9 .6h0m22-1.2h0m10.9-.1h0m22 .7h0m11 .3h0m11-.4h0m11 .7h0m11-.9h0m11-.1h0m20.6-.4h0m11 .8h0m12.3 0h0m11 .5h0m11-1.2h0m11 1.1h0m21.9-1.3h0m33 .9h0m11-.1h0m11 .3h0m11-.2h0m12.3-.1h0m23.3 .8h0m12.3-1.2h0m11 .9h0m31.6 0h0m22-.4h0m31.6-.7h0m11 .8h0m22 .2h0m20.6-.6h0m22 .8h0m20.7-.8h0m21.9 .3h0m9.7-.4h0m11 .7h0m11-.5h0m11 .3h0m22 .4h0m9.6 0h0m11-.1h0m9.7-.3h0m9.6-.7h0m12.4-.1h0m10.9-.1h0m11 .5h0m12.3 .5h0m11 .3h0m11-1.1h0m11 .7h0m9.7 .4h0m11-.4h0m10.9-.7h0m11 .4h0m22 .1h0m11-.5h0m11-.2h0m43.9 .3h0m11-.3h0m-1336.5 32.3h0m9.7 .5h0m11-.6h0m10.9 .9h0m20.7-.5h0m23.3 .3h0m11 .3h0m12.3-1.2h0m11 1.4h0m9.6-.6h0m22-.3h0m11 .6h0m22-.5h0m45.2-.2h0m22 .9h0m22-1.3h0m11 1.3h0m9.7 .2h0m21.9-1.3h0m11-.3h0m11 .3h0m22 .3h0m11-.4h0m11 .4h0m12.3 .7h0m12.3-1h0m11 .8h0m10.9-.3h0m34.3-.7h0m20.7 .3h0m54.9 .4h0m22-.7h0m11 .7h0m11 .3h0m11-.5h0m10.9 .3h0m9.7 0h0m11 .4h0m12.3 .3h0m11-.8h0m11-.3h0m11 1.1h0m11-.9h0m10.9 .4h0m11 0h0m11 .4h0m11-.5h0m11-.1h0m11-.3h0m23.3 .3h0m23.3 .4h0m12.3 0h0m11-1.1h0m9.6 .2h0m22 .5h0m22-.3h0m11 1h0m11-1.3h0m9.6-.2h0m11 1.4h0m11-.9h0m11 .6h0m11-.7h0m9.6 .5h0m11-.9h0m22 .1h0m9.7 1.3h0m21.9-.6h0m20.7-.7h0m11 .9h0m11-.2h0m22 .2h0m9.6-.3h0m11 .3h0m9.7 0h0m43.9 .4h0m12.3-1.5h0m22 .5h0m20.7-.3h0m21.9-.1h0m11 .2h0m22-.3h0m11 .6h0m11 .6h0m11-.9h0m32.9 .4h0m11 .5h0m-1336.5 29.5h0m20.7 .3h0m10.9-.9h0m20.7 1.1h0m12.3-.7h0m11 .2h0m11 .2h0m12.3 .6h0m11-.6h0m9.6 .3h0m22 .3h0m45.3-.6h0m11-.1h0m21.9-.2h0m55 .3h0m20.6 0h0m11 .6h0m11-.8h0m22 .2h0m11 .5h0m11 .1h0m23.3-.6h0m12.3-.7h0m56.2 0h0m11 1.1h0m9.7-.1h0m22-.6h0m32.9 1h0m33-.4h0m11 0h0m11-.6h0m10.9 .9h0m9.7-1h0m34.3 .2h0m11 0h0m22 .8h0m10.9-.9h0m11 .7h0m11-1h0m22-.1h0m11-.1h0m34.3 1.2h0m12.3 .3h0m12.3-.1h0m11-.6h0m9.6 .4h0m22 0h0m33-1.2h0m11 .3h0m20.6 1h0m11-1h0m11 .7h0m11-.3h0m9.6 .7h0m22-.9h0m11 .6h0m9.7-.1h0m21.9-.1h0m9.7-.7h0m33 .3h0m11 0h0m11-.4h0m20.6 .2h0m9.7-.1h0m9.6 .4h0m23.3-.4h0m11 .8h0m12.3-.9h0m11 .7h0m11 .3h0m11 .2h0m9.7-.8h0m54.9 .2h0m11 .7h0m11-.8h0m11 .2h0m32.9 .4h0m11-1.1h0m-1326.8 61.3h0m11-.1h0m10.9 0h0m20.7 0h0m12.3-.6h0m11-.1h0m11-.2h0m23.3 .3h0m9.6-.5h0m22 .4h0m11 .8h0m22-1.1h0m23.3 .9h0m21.9-.6h0m44 .9h0m11-.5h0m20.6-.1h0m11-.2h0m22-.6h0m11 .7h0m11 .4h0m11-.5h0m11-.8h0m24.6 .4h0m43.9 .4h0m12.3-.4h0m11-.4h0m9.7 1h0m22 .4h0m10.9-.2h0m22-.6h0m22 1h0m11-.9h0m11 0h0m11 .3h0m20.6 .4h0m11 .1h0m34.3 0h0m11-.8h0m21.9 .6h0m11-1h0m22 .5h0m11-.7h0m11 .6h0m11 .6h0m12.3-.3h0m11-.4h0m24.6 0h0m11 .8h0m9.6-1.1h0m22 .7h0m22-.6h0m11 .2h0m11 .2h0m9.6 0h0m22 .3h0m31.6 .5h0m11-1.5h0m11 .4h0m11-.3h0m31.6 .3h0m20.7 .6h0m11-.5h0m11-.3h0m31.6-.2h0m11 .2h0m19.3 .9h0m34.3 .2h0m12.3-.7h0m22-.3h0m11 .2h0m31.6 .7h0m11-1h0m44 1.1h0m11-1h0m11 .7h0m21.9-.6h0m-1325.5 54.6h0m9.7 1.5h0m11-.2h0m10.9-.9h0m11 .1h0m9.7-.3h0m23.3 1h0m23.3-.1h0m20.6-.6h0m22 .3h0m11-.2h0m45.3 .7h0m21.9 .1h0m11-.3h0m11-.1h0m22-.1h0m11-.6h0m9.7 .7h0m32.9-.3h0m11-.4h0m11 .9h0m11-1.2h0m11 0h0m11 0h0m24.6 .7h0m11 .4h0m10.9-.2h0m22-.6h0m12.3 .3h0m11 .9h0m9.7-.3h0m22-.6h0m32.9 .5h0m11-.8h0m11 1h0m22-1.1h0m11 .6h0m10.9-.8h0m9.7 1.3h0m11 .1h0m12.3-1.2h0m11 .4h0m11 .1h0m11 0h0m11-.2h0m10.9 .5h0m11 .1h0m22-.3h0m11-.2h0m11 0h0m11 0h0m23.3 .7h0m24.6-1h0m11 1.1h0m9.6-.9h0m22-.4h0m44 1.1h0m9.6-1.1h0m11 .3h0m11 .8h0m11-.3h0m20.6 .4h0m22-1h0m11 .8h0m31.6-.2h0m31.7-.2h0m11 .4h0m31.6-.1h0m11-.7h0m9.7 .5h0m9.6 0h0m12.4 .2h0m10.9 .2h0m11-1.3h0m12.3 0h0m11 .6h0m11 .8h0m11-.2h0m9.7-.5h0m11-.3h0m10.9 .2h0m11-.6h0m22 .6h0m11 .8h0m11-1h0m43.9-.3h0m11 1.4h0m-1284.2 47.8h0m12.3 .7h0m11 0h0m11 .2h0m12.3-.9h0m20.6-.1h0m55 0h0m23.3 1.1h0m21.9-.9h0m22 1h0m22-.2h0m42.6-.5h0m11 .4h0m11-.8h0m112.5-.2h0m12.3 1.3h0m20.7-1.1h0m32.9 0h0m44 1h0m53.6-1.2h0m34.3 1.3h0m11-1.2h0m11 .8h0m32.9-.9h0m11 .2h0m67.3 .3h0m12.3-.2h0m23.3 .2h0m213.1 .2h0m55 0h0m39.9 .2h0m68.6 .3h0m31.7-.9h0m10.9 .7h0m11-1.1h0m33 .9h0m33 .6h0m-1303.6 44h0m20.7 .9h0m10.9-1.2h0m11 .4h0m9.7-.4h0m12.3 .3h0m11 .8h0m11-.6h0m12.3-.5h0m20.6 .8h0m22-.1h0m33 .2h0m12.3 .4h0m11-1.1h0m21.9 1h0m11-.2h0m11-.1h0m22 .3h0m20.7 .2h0m10.9-1.4h0m22 1.2h0m11-1.4h0m11 1h0m11-.9h0m22 1h0m12.3-.8h0m23.3 .6h0m10.9-.4h0m45.3 0h0m9.7 .7h0m54.9 0h0m11-.7h0m22-.2h0m11 .6h0m11 .6h0m10.9-1.4h0m9.7 .9h0m11-.1h0m23.3 .1h0m22-.3h0m11 .9h0m10.9-.3h0m11-1.2h0m11 .1h0m33 1.3h0m11-.2h0m23.3-.7h0m12.3 .6h0m12.3-.2h0m11 .1h0m9.6 .5h0m22-.2h0m22-.6h0m11 .8h0m11-.2h0m9.6 .1h0m11-1h0m22 .5h0m11 .3h0m9.6-1.2h0m22 0h0m42.6 .4h0m9.7 .8h0m22 0h0m22-.6h0m11-.3h0m9.6 1.1h0m11-.5h0m19.3-.3h0m23.3-.7h0m11 .1h0m23.3 1.3h0m11-.8h0m11-.4h0m9.7 .5h0m11-.2h0m21.9-.4h0m22 .4h0m11 .9h0m11-1.2h0m11 .6h0m11-.1h0m-1293.9 69.9h0m11 .1h0m10.9 .5h0m11-.5h0m9.7-.4h0m12.3 1.1h0m11-.4h0m11-1h0m12.3 .5h0m11-.3h0m9.6 .2h0m22-.3h0m33 1.3h0m45.2 0h0m11-.7h0m33-.2h0m20.7 .8h0m10.9-1.3h0m11 .5h0m11 1h0m11-1.4h0m11 .7h0m11-.3h0m22 1h0m12.3-.9h0m12.3-.2h0m11 .6h0m10.9 .3h0m22-1.1h0m12.3 1.1h0m11-1.3h0m31.7 1.5h0m10.9-.4h0m22-.8h0m11 .3h0m11 .4h0m22 .2h0m21.9-1h0m33 1.1h0m11-.5h0m22-.1h0m11-.1h0m10.9 .7h0m11 .2h0m11-.7h0m11-.3h0m11-.5h0m22 .2h0m23.3 .8h0m12.3-.6h0m12.3-.3h0m11 0h0m9.6 .1h0m44-.1h0m31.6 0h0m11 1.5h0m11-1.5h0m11 1.4h0m11-.7h0m9.6 .1h0m11-.2h0m11-.1h0m11 .7h0m9.7 .3h0m21.9-.7h0m20.7-.9h0m11 1.5h0m11-1.1h0m31.6 .7h0m11 .3h0m9.7-1.3h0m32.9 1h0m11-.5h0m12.3-.3h0m11 1.1h0m11-.3h0m11-.1h0m9.7-.3h0m11-.1h0m21.9 .6h0m33-1.1h0m11 1h0m11-.1h0m11-.4h0m21.9 .5h0m11-.6h0m-1336.5 44.8h0m9.7 .2h0m11 .9h0m10.9-1.1h0m11 1.2h0m9.7-1.5h0m12.3 1h0m11-.7h0m11 .2h0m12.3-.3h0m11 0h0m9.6 .3h0m22-.5h0m33 .8h0m23.3 .8h0m21.9-.9h0m11-.4h0m44 0h0m9.7 .8h0m10.9 .1h0m11-.7h0m11 .5h0m11 .2h0m11 .1h0m11-.5h0m11-.2h0m23.3-.2h0m12.3-.1h0m21.9-.1h0m22 .1h0m12.3-.2h0m11 .2h0m31.7-.1h0m10.9 1.3h0m33-.1h0m11 0h0m22-1.2h0m11 .2h0m43.9 .1h0m11 .5h0m11 .3h0m22-.7h0m10.9 .6h0m22-.8h0m33 1.1h0m11-.5h0m12.3-.3h0m35.6-.4h0m64.6 .8h0m22 .4h0m9.6-.4h0m11-.3h0m22 .5h0m11-1.1h0m20.6 .1h0m11 1h0m11-.9h0m9.7 1.1h0m21.9-1.2h0m9.7 .1h0m11 1.1h0m11-1.4h0m11 .6h0m11 .5h0m11-.3h0m20.6-.5h0m9.7 .7h0m32.9-.9h0m11-.1h0m12.3 1h0m22 .4h0m11-.1h0m9.7-.9h0m11 .1h0m10.9-.4h0m11 .9h0m22 .5h0m11-1.2h0m22 0h0m32.9-.4h0m11 .6h0m-1284.2 8.5h0m12.3-.1h0m54.9-.4h0m22-.6h0m56.3 1h0m43.9 0h0m22-.1h0m20.7 .3h0m32.9-.7h0m22 .6h0m22 .1h0m57.5 .2h0m34.3-.1h0m53.6-1h0m22 .9h0m44-.1h0m65.9-.5h0m11-.5h0m11 1.3h0m11-.9h0m10.9-.2h0m22-.2h0m44 .3h0m12.3-.2h0m23.3 .3h0m23.3-.3h0m53.6 0h0m11-.2h0m11 .9h0m31.6-.4h0m11 .4h0m42.6 .3h0m11-.2h0m31.6-.9h0m9.7 1.3h0m22 .1h0m11-1.4h0m31.6 1.2h0m42.7-.8h0m10.9-.3h0m34.3 .1h0m11 1h0m20.7-.9h0m11-.1h0m65.9 0h0m43.9 .7h0" stroke="#000" stroke-width="2.4" stroke-linecap="round" fill="none"/><path d="M211 2088.9c1.3 4.1 4.8 16 7.6 24.4s6.4 20.7 9.2 25.8s4.6 4.2 7.6 4.6s6.8-1.3 10.6-2.4s8.9-2.2 12.2-4.3s5.8-3.5 7.6-8.5s1.7-13.7 3-21.3s2.8-16.3 4.6-24.4s4.1-18 6.1-24.3s4.1-10.8 6.1-13.7s4.1-4.7 6.1-3.9s4.2 1.5 6 8.5s3.3 22.8 4.6 33.4s1.9 21.6 3.1 30.5s2.6 19.2 3.9 22.8s2.3 1.3 3.7-1.5s3.2-8.6 4.5-15.2s1.8-17.8 3.1-24.4s2.2-13.2 4.5-15.2s6.1-.6 9.2 3s6.1 13.2 9.1 18.3s6.1 7.6 9.1 12.2s6.6 9.6 9.1 15.2s4.3 18.2 6.1 18.2s3.3-10.1 4.6-18.2s2.5-20.2 3-30.4s-.2-21.9 0-30.5s.5-15.5 1.5-21.3s3.8-11.4 4.6-13.7" fill="none" stroke="#000" stroke-width="2.6" stroke-linejoin="round" stroke-linecap="round"/><path d="M165.4 2055.5c1.8 1.5 8.2 3.5 10.7 9.1s2.7 16.2 4.5 24.3s4.3 18.6 6.1 24.4s2.8 8.3 4.6 10.6s5.1 2.6 6.1 3.1" fill="none" stroke="#000" stroke-width="2.6" stroke-linejoin="round" stroke-linecap="round"/><path d="M427 2032.6c.3 3.3 1.9 11.4 1.6 19.8s-1.6 20.2-3.1 30.4s-4.1 21.4-6.1 30.5s-3.5 17.2-6 24.3s-6.9 13.2-9.2 18.3s-4.5 8.5-4.5 12.1s2.5 5.6 4.5 9.2s5.6 6.5 7.6 12.1s3.3 13.7 4.6 21.3s2 16.3 3 24.4s1.6 16.7 3.1 24.3s4.1 15.7 6.1 21.3s3.1 10.2 6.1 12.2s8.1 1 12.1 0s7.6-4.6 12.2-6.1s11.1-3.6 15.2-3.1s6.6 2.2 9.1 6.1s5.1 14.5 6.1 17.4" fill="none" stroke="#000" stroke-width="2.6" stroke-linejoin="round" stroke-linecap="round"/><path d="M443.8 2111.7c2 1.3 8.5 5.4 12.1 7.7s6.2 3.5 9.2 6s5.5 6.7 9.1 9.2s8.6 3.5 12.2 6s6.8 3.6 9.1 9.2s3.3 15.2 4.6 24.3s2.2 20.2 3 30.4s1.8 20.3 1.5 30.5s-1.5 21.3-3 30.4s-4.6 17.3-6.1 24.3s-2.5 14.5-3 17.4" fill="none" stroke="#000" stroke-width="2.6" stroke-linejoin="round" stroke-linecap="round"/><path d="M128.9 2152.8c-.2 4.6-1 18.8-1.5 27.4s-1 17.2-1.5 24.3s-2.4 13.7-1.6 18.3s5.3 6.1 6.1 9.1s-2 6.3-1.5 9.1s2.6 6.7 4.6 7.7s5.8-.1 7.6-1.6s2.8-5.1 3-7.6s-2.3-4.8-1.5-7.6s4.8-4.5 6.1-9.1s1.5-11.2 1.5-18.3s-1.2-16.2-1.5-24.3s-.5-20.2-.6-24.3" fill="none" stroke="#000" stroke-width="2.6" stroke-linejoin="round" stroke-linecap="round"/><path d="M220.2 2235c.2 2.5 1.8 10.1 1.5 15.2s-3.6 11.2-3.1 15.2s3.5 6.8 6.1 9.1s6.4 5.1 9.2 4.6s6.8-5.3 7.6-7.6s-3.8-4.1-3.1-6.1s6.8-3.6 7.6-6.1s-1.5-6.1-3-9.1s-5.1-7.7-6.1-9.2" fill="none" stroke="#000" stroke-width="2.6" stroke-linejoin="round" stroke-linecap="round"/><path d="M265.8 2307.1c.8-2.4 2.3-10.9 4.6-14.3s6.3-5.6 9.1-6.1s5.6 .7 7.6 3s3.1 10.2 4.6 10.7s3.2-3.8 4.5-7.6s1.3-10.1 3.1-15.2s5.3-13 7.6-15.3s4.6-.4 6.1 1.6s1 7.3 3 10.6s5.6 6.6 9.1 9.1s9.4 2.2 12.2 6.1s3.8 14.5 4.6 17.4" fill="none" stroke="#000" stroke-width="2.6" stroke-linejoin="round" stroke-linecap="round"/><path d="M522.9 2152.8c-.2 4.6-1 17.8-1.5 27.4s-1.9 23.6-1.6 30.4s1.6 9.2 3.1 10.7s4.6 1.2 6.1-1.6s2.6-7.6 3-15.2s-.1-21.8-.6-30.4s-2-17.7-2.4-21.3" fill="none" stroke="#000" stroke-width="2.6" stroke-linejoin="round" stroke-linecap="round"/><path d="M560 2210.6c-.9 1.5-4.1 5-5.2 9.1s-.8 8.7-1.5 15.3s-1.7 16.2-3 24.3s-3.3 16.3-4.6 24.3s-2.5 19.6-3 23.5" fill="none" stroke="#000" stroke-width="2.6" stroke-linejoin="round" stroke-linecap="round"/><path d="M525.9 2082.8c1 3.1 3.6 11.7 6.1 18.3s6.1 14.2 9.1 21.3s6 16.2 9.2 21.3s8.1 7.6 9.7 9.1" fill="none" stroke="#000" stroke-width="2.6" stroke-linejoin="round" stroke-linecap="round"/><path d="M633 2067.6c-2-.2-7.6-1.5-12.2-1.5s-12.4-3.8-15.2 1.5s-1.5 17.8-1.5 30.5s1 30.4 1.5 45.6s.8 30.4 1.6 45.6s1.7 33.5 3 45.7s2.8 20.7 4.6 27.3s3.5 8.6 6 12.2s7.2 5.5 9.2 9.1s1.5 9.9 3 12.2s4.3 3 6.1 1.5s2.6-7.8 4.6-10.6s4.8-5.6 7.6-6.1s6.8 .5 9.1 3s3.3 8.3 4.6 12.2s2.5 9.4 3 11.3" fill="none" stroke="#000" stroke-width="2.6" stroke-linejoin="round" stroke-linecap="round"/><path d="M646.7 2110.2c1.3 3.1 4.8 12.7 7.6 18.3s6.8 8.6 9.1 15.2s3.1 16.2 4.6 24.3s3.3 16.8 4.6 24.4s1.5 16.2 3 21.3s3.1 7.3 6.1 9.1s8.1 2 12.2 1.5s8.8-1.8 12.1-4.6s5.6-7.6 7.6-12.1s3.6-8.6 4.6-15.2s1.5-16.3 1.5-24.4s-.5-15.2-1.5-24.3s-3.1-20.2-4.6-30.4s-3.8-25.4-4.5-30.5" fill="none" stroke="#000" stroke-width="2.6" stroke-linejoin="round" stroke-linecap="round"/><path d="M566.1 2055.5c1 4.6 4.1 17.7 6.1 27.3s4.1 20.9 6.1 30.5s4.2 21.5 6 27.3s3.3 8.2 4.6 7.7s2.2-4.9 3-10.7s1.1-15.2 1.6-24.3s.8-21.9 1.5-30.5s2.5-17.8 3-21.3" fill="none" stroke="#000" stroke-width="2.6" stroke-linejoin="round" stroke-linecap="round"/><path d="M742.5 2137.6c-.2 3.6-1.5 12.7-1.5 21.3s.7 20.3 1.5 30.4s1.8 20.2 3.1 30.4s3 21.9 4.5 30.5s3.3 14.7 4.6 21.3s2.2 12.3 3 18.2s1.3 14.5 1.6 17.4" fill="none" stroke="#000" stroke-width="2.6" stroke-linejoin="round" stroke-linecap="round"/><path d="M773 2125.4c.8 4.1 3 16.3 4.5 24.4s2.8 17.2 4.6 24.3s4.1 12.2 6.1 18.3s4.3 13.7 6.1 18.2s3.2 10.1 4.5 9.1s2.3-8.6 3.1-15.2s1.5-16.2 1.5-24.3s-.5-17.2-1.5-24.3s-3.8-15.2-4.6-18.3" fill="none" stroke="#000" stroke-width="2.6" stroke-linejoin="round" stroke-linecap="round"/><path d="M827.7 2032.6c.5 4.3 1.6 18.5 3.1 25.9s3.5 12.7 6 18.3s6.2 9.6 9.2 15.2s6.8 13.1 9.1 18.2s3.1 11.7 4.6 12.2s2.7-2.5 4.5-9.1s4.1-21.9 6.1-30.5s4.3-18.8 6.1-21.3s3.6 0 4.6 6.1s.8 21.4 1.5 30.5s1.5 18.7 3 24.3s4.1 8.6 6.1 9.1s4.1-.5 6.1-6.1s4.3-19.2 6.1-27.3s3-18.7 4.5-21.3s3.3-.1 4.6 6s2.2 20.3 3 30.5s1.1 20.3 1.6 30.4s1 20.3 1.5 30.4s.5 22.3 1.5 30.4s2.6 13.2 4.6 18.3s5.6 7.1 7.6 12.2s3.2 12.6 4.5 18.2s3.6 10.1 3.1 15.2s-3.6 10.6-6.1 15.2s-6.3 9.4-9.1 12.2s-4.6 5.6-7.6 4.6s-6.9-7.4-10.7-10.7s-8.5-6.6-12.1-9.1s-6.7-3-9.2-6.1s-4.1-7.6-6.1-12.2s-4.5-10.7-6-15.2s-1.6-9.6-3.1-12.1s-4.1-3.1-6.1-3.1s-4.8 .6-6.1 3.1s-1.8 7.5-1.5 12.1s2.9 9.1 3.1 15.2s-.8 13.8-1.6 21.3s-2.5 19.6-3 23.5" fill="none" stroke="#000" stroke-width="2.6" stroke-linejoin="round" stroke-linecap="round"/><path d="M952.5 2067.6c.2 7.6 1 30.5 1.5 45.7s1.2 30.4 1.5 45.6s-.5 32.9 0 45.6s1.5 20.3 3 30.5s4.6 20.3 6.1 30.4s2.3 23.5 3.1 30.4s1.2 9.4 1.5 11.3" fill="none" stroke="#000" stroke-width="2.6" stroke-linejoin="round" stroke-linecap="round"/><path d="M699.9 2095c.5 3.1 2.1 12.2 3.1 18.3s2 13.1 3 18.2s2.6 10.2 3.1 12.2" fill="none" stroke="#000" stroke-width="2.6" stroke-linejoin="round" stroke-linecap="round"/><path d="M818.6 2143.7c1 2.5 4.1 10.1 6.1 15.2s5.1 12.7 6.1 15.2" fill="none" stroke="#000" stroke-width="2.6" stroke-linejoin="round" stroke-linecap="round"/><path d="M1029.1 2032.6c.2 4.3 1 17.5 1.5 25.9s1.9 15.2 1.6 24.3s-1.6 21.4-3.1 30.5s-4.6 19.2-6.1 24.3s-2.5 5.1-3 6.1" fill="none" stroke="#000" stroke-width="2.6" stroke-linejoin="round" stroke-linecap="round"/><path d="M1090 2032.6c1 3.3 3.6 14 6.1 19.8s6.8 7.6 9.1 15.2s3.5 20.3 4.5 30.5s.8 20.3 1.6 30.4s2.2 20.3 3 30.4s1 20.3 1.5 30.4s1.1 20.2 1.6 30.4s1 20.3 1.5 30.5s1.5 20.9 1.5 30.4s-1.2 22.1-1.5 26.5" fill="none" stroke="#000" stroke-width="2.6" stroke-linejoin="round" stroke-linecap="round"/><path d="M1020 2231.9c2-.5 8.2-3 12.2-3s9.1 .5 12.1 3s3.8 9.2 6.1 12.2s5.3 6.6 7.6 6.1s4.8-5.6 6.1-9.2s-.3-9.6 1.5-12.1s5.9-3.6 9.2-3.1s8.1 2.6 10.6 6.1s3.3 9.6 4.6 15.2s2 11.7 3 18.3s1.8 14.3 3.1 21.3s3.8 17 4.5 20.4" fill="none" stroke="#000" stroke-width="2.6" stroke-linejoin="round" stroke-linecap="round"/><path d="M1166 2177.2c-.2 4.6-1.5 18.7-1.5 27.3s.5 16.8 1.5 24.4s3.1 14.7 4.6 21.3s3.1 12.1 4.6 18.2s2.7 13.7 4.5 18.3s3.8 8.1 6.1 9.1s5.8-.5 7.6-3s2.1-7.6 3.1-12.2s1.2-11.7 3-15.2s5.1-5.6 7.6-6.1s5.8 .5 7.6 3s1 9.1 3 12.2s6.2 6.1 9.2 6.1s7.1-3 9.1-6.1s1.5-9.2 3-12.2s3-5 6.1-6s9.2-1 12.2 0s4.6 2.4 6.1 6s1.5 9.7 3 15.3s4.3 13.3 6.1 18.2s3.8 9.4 4.6 11.3" fill="none" stroke="#000" stroke-width="2.6" stroke-linejoin="round" stroke-linecap="round"/><path d="M1298.4 2307.1c.8-2.9 2.7-14 4.5-17.4s4.3-4 6.1-3s3.3 5.7 4.6 9.1s2.5 9.4 3 11.3" fill="none" stroke="#000" stroke-width="2.6" stroke-linejoin="round" stroke-linecap="round"/><path d="M1334.9 2286.7c.8-3.6 3-13.7 4.5-21.3s3.1-16.8 4.6-24.4s3.1-13.2 4.6-21.3s3.5-17.2 4.5-27.3s1.3-22.8 1.6-33.5s.3-20.3 0-30.4s-.1-22.8-1.6-30.4s-4.8-13.3-7.6-15.3s-7.1 1.1-9.1 3.1s-2.5 7.6-3 9.1" fill="none" stroke="#000" stroke-width="2.6" stroke-linejoin="round" stroke-linecap="round"/><path d="M1187.3 2037.2c-.2 5.1-1 20.2-1.5 30.4s-1.5 22.9-1.5 30.5s0 9.6 1.5 15.2s4.8 11.6 7.6 18.2s6.6 17.2 9.1 21.3s4.3 4.6 6.1 3.1s3.6-5.1 4.6-12.2s1.2-20.2 1.5-30.4s-.2-21.4 0-30.5s0-19.2 1.5-24.3s6.3-5.1 7.6-6.1" fill="none" stroke="#000" stroke-width="2.6" stroke-linejoin="round" stroke-linecap="round"/><path d="M1397.2 2034.2c.3 4 .6 16.2 1.6 24.3s2.7 15.2 4.5 24.3s3.6 21.4 6.1 30.5s6.6 19.2 9.1 24.3s4.3 7.6 6.1 6.1s3.3-9.1 4.6-15.2s1.7-15.7 3-21.3s3.1-12.2 4.6-12.2s3.1 7.6 4.6 12.2s2.7 10.6 4.5 15.2s3.6 9.2 6.1 12.2s7.6 5 9.1 6" fill="none" stroke="#000" stroke-width="2.6" stroke-linejoin="round" stroke-linecap="round"/><path d="M1354.7 2307.1c1-3.4 4-14 6-20.4s4.1-14 6.1-18.3s4.1-7.6 6.1-7.6s4.3 3.8 6.1 7.6s3.1 8.8 4.6 15.2s3.8 19.6 4.5 23.5" fill="none" stroke="#000" stroke-width="2.6" stroke-linejoin="round" stroke-linecap="round"/><path d="M1412.5 2307.1c.5-4.4 2-18.5 3-26.5s2-8.6 3-21.3s2.3-41.6 3.1-54.8s1.2-20.2 1.5-24.3" fill="none" stroke="#000" stroke-width="2.6" stroke-linejoin="round" stroke-linecap="round"/><path d="M1296.8 2034.2c.5 3 1.1 12.6 3.1 18.2s5.5 10.6 9.1 15.2s8.7 9.7 12.2 12.2s7.6 2.5 9.1 3" fill="none" stroke="#000" stroke-width="2.6" stroke-linejoin="round" stroke-linecap="round"/><path d="M1275.6 2204.5c.5 2.5 1 11.6 3 15.2s5.6 5.6 9.1 6.1s9.2-1 12.2-3s5.1-7.6 6.1-9.1" fill="none" stroke="#000" stroke-width="2.6" stroke-linejoin="round" stroke-linecap="round"/><path d="M1141.7 2040.3c0 4.5-.2 18.2 0 27.3s-.5 22.6 1.5 27.4s8.7 6.1 10.7 1.5s1.2-19.5 1.5-28.9s0-22.8 0-27.3" fill="none" stroke="#000" stroke-width="2.6" stroke-linejoin="round" stroke-linecap="round"/><path d="M111.3 2306.7c1.2 .8 4.8 1.8 7 4.6s3.5 8.6 6 12.2s5.1 7.1 9.2 9.1s9.6 2.5 15.2 3s12.1-.5 18.2 0s13.7 .6 18.3 3.1s7.1 8.1 9.1 12.1s1.1 8.4 3.1 12.2s5.6 8.2 9.1 10.7s8.5 2.2 12.1 4.5s6.7 4.6 9.2 9.2s4.6 12.1 6.1 18.2s1.7 13.5 3 18.3s2.8 9.6 4.6 10.6s4.3-.8 6.1-4.6s3-10.1 4.5-18.2s3.3-20.2 4.6-30.4s2-20.3 3-30.5s1.8-21.8 3.1-30.4s3.2-16.2 4.5-21.3s2.6-7.6 3.1-9.1" fill="none" stroke="#000" stroke-width="2.6" stroke-linejoin="round" stroke-linecap="round"/><path d="M340.3 2290c.5 4.1 2.1 15.2 3.1 24.3s2.2 20.3 3 30.5s1.1 20.3 1.5 30.4s1 22.3 1 30.4s-.1 13.7-1 18.3s-3.8 7.6-4.5 9.1" fill="none" stroke="#000" stroke-width="2.6" stroke-linejoin="round" stroke-linecap="round"/><path d="M361.6 2423.9c.3-3.1 1.1-12.7 1.6-18.3s-.3-10.6 1.5-15.2s5.6-8.8 9.1-12.2s8.4-7.8 12.2-8.5s7.1 2.1 10.6 4s7.4 4.6 10.7 7.6s6.6 7.3 9.1 10.6s4.1 6.9 6.1 9.1s3.6 4.8 6.1 4s6.1-5.8 9.1-8.5s6.1-5.8 9.1-7.6s5.5-3.1 9.1-3.1s8.1 1.8 12.2 3.1s7.6 3.8 12.2 4.5s10.6-.3 15.2 0s9.1 .8 12.2 1.6s3.8 5.3 6.1 3s5.1-8.8 7.6-16.7s5.3-20.3 7.6-30.5s4.2-20.3 6-30.4s3.8-25.3 4.6-30.4" fill="none" stroke="#000" stroke-width="2.6" stroke-linejoin="round" stroke-linecap="round"/><path d="M111.3 2378.2c1.7 1 7.3 3.1 10 6.1s4.3 7.6 6.1 12.2s2.7 10.6 4.5 15.2s5.1 10.2 6.1 12.2" fill="none" stroke="#000" stroke-width="2.6" stroke-linejoin="round" stroke-linecap="round"/><path d="M144.1 2426.9c1-1.5 4.3-5 6.1-9.1s2.8-11.9 4.6-15.2s4-4.6 6-4.6s3.6 2.8 6.1 4.6s6.2 3.5 9.2 6s6.1 6.2 9.1 9.2s6.6 5.8 9.1 9.1s3.6 8.3 6.1 10.7s6.6 2.1 9.1 3.9s4.1 4.1 6.1 6.7s4.1 6.3 6.1 9.1s3.6 5.6 6.1 7.6s5.6 3.6 9.1 4.6s8.9 2.3 12.2 1.5s5.6-2.3 7.6-6.1s3.2-9.9 4.5-16.7s2.1-15.7 3.1-24.3s2-18.8 3-27.4s2-17.6 3.1-24.4s2.3-13.3 3.6-16.7s2.6-3.8 4-3.6s3.2 2.2 4.5 5.1s1.8 8.4 3.1 12.2s3 7 4.5 10.6s3.3 7.2 4.6 10.7s2 10.6 3 10.6s1.8-8 3.1-10.6s3.1-5 4.6-5.2s3 1.3 4.5 3.7s3.1 6.8 4.6 10.6s2.7 8.1 4.5 12.2s4.1 8.7 6.1 12.2s4.3 6.6 6.1 9.1s3.8 5.1 4.6 6.1" fill="none" stroke="#000" stroke-width="2.6" stroke-linejoin="round" stroke-linecap="round"/><path d="M337.3 2469.5c1.5 .7 5.5 3.2 9.1 3.9s8.7 .9 12.2 0s6.3-2.7 9.1-5.4s5.3-6.9 7.6-10.7s5.1-10.1 6.1-12.1" fill="none" stroke="#000" stroke-width="2.6" stroke-linejoin="round" stroke-linecap="round"/><path d="M404.2 2420.8c1 1 4.3 3.6 6.1 6.1s3.3 6 4.6 9.1s1.5 6.4 3 9.2s3.3 5.6 6.1 7.6s6.9 4 10.7 4.5s8.1-.5 12.1-1.5s8.1-3.1 12.2-4.6s8.1-3.8 12.2-4.5s8.6-.8 12.1 0s6.7 2.2 9.2 4.5s4 6.4 6 9.2s3.8 6.3 6.1 7.6s5.3 1.8 7.6 0s4.1-6.4 6.1-10.7s4.3-11.2 6.1-15.2s3.1-5 4.6-9.1s3-9.1 4.5-15.2s2.8-12.7 4.6-21.3s4.1-22.8 6.1-30.4s3.5-11.2 6.1-15.3s8.1-7.6 9.7-9.1" fill="none" stroke="#000" stroke-width="2.6" stroke-linejoin="round" stroke-linecap="round"/><path d="M486.4 2290c.5 3.1 2 12.7 3 18.3s1.8 13.2 3.1 15.2s3.5 .5 4.5-3.1s1.5-13.1 1.5-18.2s-1.2-10.2-1.5-12.2" fill="none" stroke="#000" stroke-width="2.6" stroke-linejoin="round" stroke-linecap="round"/><path d="M560 2344.8c1.3-.3 5.3-2.6 7.6-1.6s4.3 3.8 6.1 7.6s2.8 10.2 4.6 15.3s4.2 10.1 6 15.2s2.6 11.4 4.6 15.2s5.1 6.1 7.6 7.6s5.6 3 7.6 1.5s3.1-7.6 4.6-10.6s3-6.8 4.5-7.6s3.1 0 4.6 3s3.1 9.1 4.6 15.2s3 15.2 4.5 21.3s2.8 12.2 4.6 15.2s4.1 4.6 6.1 3.1s4.3-7.9 6.1-12.2s2.7-10.8 4.5-13.7s4.1-4.8 6.1-4s4.3 5.2 6.1 8.6s3.3 7 4.6 12.1s1.5 12.7 3 18.3s3.8 11.4 6.1 15.2s4.8 6.2 7.6 7.6s6.1 1.4 9.1 .9s6-2.5 9.1-3.9s6.1-3.3 9.2-4.6s6.1-2.2 9.1-3s6.6 1.5 9.1-1.6s4.1-10.9 6.1-16.7s4.1-14.5 6.1-18.3s4.1-5 6.1-4.5s4.3 3.8 6.1 7.6s2.7 10.1 4.5 15.2s3.8 11.4 6.1 15.2s4.8 6.6 7.6 7.6s6.6 .3 9.1-1.5s4.1-6.6 6.1-9.1s4.1-5.8 6.1-6.1s4.1 2.5 6.1 4.5s3.6 6.4 6.1 7.7s6.1 .5 9.1 0s5.6-2.3 9.1-3.1s8.6 0 12.2-1.5s6.6-4.3 9.1-7.6s4.1-8.1 6.1-12.2s3.8-9.5 6.1-12.2s5.1-3.9 7.6-3.9s5.3 1.7 7.6 3.9s4.1 5.7 6.1 9.2s4.1 8 6.1 12.1s3.6 8.9 6.1 12.2s5.6 5.7 9.1 7.6s7.6 3.5 12.2 4s10.1-.4 15.2-.9s10.1-1.8 15.2-2.2s11.7 1.9 15.2 0s4.6-9 6.1-11.5s1.7-4.7 3-3.7s3.3 6.2 4.6 9.8s2 8 3 12.1s2.4 7.4 3.1 12.2s.8 13.9 .9 16.7" fill="none" stroke="#000" stroke-width="2.6" stroke-linejoin="round" stroke-linecap="round"/><path d="M663.4 2290c1 2 4.1 7.1 6.1 12.2s5.2 11.1 6.1 18.2s-.4 16.8-.6 24.4s-1.5 14.7-.9 21.3s3.2 13.7 4.5 18.2s2.6 7.6 3.1 9.1" fill="none" stroke="#000" stroke-width="2.6" stroke-linejoin="round" stroke-linecap="round"/><path d="M703 2350.8c.5-1.5 1.5-7.1 3-9.1s4.1-3.8 6.1-3s4.8 4.6 6.1 7.6s1.2 8.8 1.5 10.6" fill="none" stroke="#000" stroke-width="2.6" stroke-linejoin="round" stroke-linecap="round"/><path d="M725.8 2372.1c.8-3.5 2.8-16 4.6-21.3s3.8-8.6 6.1-10.6s5.1-2.5 7.6-1.5s5.6 3.6 7.6 7.6s3.2 10.9 4.5 16.7s2.1 11.7 3.1 18.3s1.5 16.3 3 21.3s4.1 8 6.1 8.5s4.3-2.6 6.1-5.5s2.7-8.4 4.5-12.2s4.1-8.6 6.1-10.6s4.1-2.8 6.1-1.5s4.3 5.6 6.1 9.1s2.8 8.4 4.6 12.2s3.5 8.3 6 10.6s5.9 3.1 9.2 3.1s7.3-1.8 10.6-3.1s6.6-1.8 9.1-4.6s4.1-7.5 6.1-12.1s4.3-9.6 6.1-15.2s4.1-10.7 4.6-18.3s-1-17.8-1.5-27.4s-1.6-22.8-1.6-30.4s1.3-12.7 1.6-15.2" fill="none" stroke="#000" stroke-width="2.6" stroke-linejoin="round" stroke-linecap="round"/><path d="M759.3 2290c.2 3.1 .2 12.2 1.5 18.3s3.6 13.6 6.1 18.2s6.1 9.1 9.1 9.1s7.1-5.5 9.1-9.1s1.6-10.7 3.1-12.2s4.1 1.6 6.1 3.1s4 7.1 6 6.1s4.1-9.7 6.1-12.2s4.3-4 6.1-3s3.6 6.1 4.6 9.1s1.2 7.6 1.5 9.1" fill="none" stroke="#000" stroke-width="2.6" stroke-linejoin="round" stroke-linecap="round"/><path d="M867.3 2350.8c1 2.6 3.6 11.2 6.1 15.3s6.1 6.6 9.1 9.1s6.6 2.1 9.1 6.1s4.1 12.1 6.1 18.2s4.3 12.2 6.1 18.3s3 15.7 4.5 18.2s3.6 1.1 4.6-3s.7-13.7 1.5-21.3s1.8-18.2 3.1-24.3s2.7-9.7 4.5-12.2s4.1-4.6 6.1-3.1s4.3 7.1 6.1 12.2s3.1 14.5 4.6 18.3s3 5.5 4.5 4.5s3.3-5.8 4.6-10.6s1.7-11.7 3-18.3s3.1-16.5 4.6-21.3s3.1-7.6 4.6-7.6s3.2 3.3 4.5 7.6s2.1 11.7 3.1 18.3s1.5 14.7 3 21.3s4.1 12.1 6.1 18.2s4.1 14.2 6.1 18.3s4.1 6.1 6.1 6.1s4.2-1.5 6-6.1s3.1-14.7 4.6-21.3s2.8-14.8 4.6-18.3s3.5-5 6.1-3s8.1 12.7 9.7 15.2" fill="none" stroke="#000" stroke-width="2.6" stroke-linejoin="round" stroke-linecap="round"/><path d="M970.7 2290c.5 3.1 1.6 11.7 3.1 18.3s4 16.4 6 21.2s4.1 7.7 6.1 7.7s4.3-3.9 6.1-7.7s3.1-11.7 4.6-15.2s2.2-6 4.5-6s6 1.4 9.2 6s8.1 17.8 9.7 21.3" fill="none" stroke="#000" stroke-width="2.6" stroke-linejoin="round" stroke-linecap="round"/><path d="M630 2290c.5 1.3 1.5 6.1 3 7.6s4.3 2.3 6.1 1.5s3.7-4.6 4.6-6.1s.8-2.5 .9-3" fill="none" stroke="#000" stroke-width="2.6" stroke-linejoin="round" stroke-linecap="round"/><path d="M903.8 2290c1 1.3 3.6 5.6 6.1 7.6s6.6 4.8 9.1 4.6s4.8-4.1 6.1-6.1s1.2-5.1 1.5-6.1" fill="none" stroke="#000" stroke-width="2.6" stroke-linejoin="round" stroke-linecap="round"/><path d="M1020 2335.6c1 1.5 4.3 4.6 6.1 9.2s2.7 13.1 4.5 18.2s3.3 9.7 6.1 12.2s7.4 3.2 10.7 3s6.3-1.5 9.1-4.5s5.6-8.9 7.6-13.7s2.6-11.9 4.6-15.2s5.1-4.6 7.6-4.6s5.6 1.3 7.6 4.6s2.8 10.1 4.6 15.2s3.7 11.6 6 15.2s5.1 3.6 7.6 6.1s5.1 5.1 7.6 9.1s5.2 14.2 7.7 15.2s5.1-5 7.6-9.1s5.3-9.1 7.6-15.2s4-15.2 6-21.3s4.1-10.6 6.1-15.2s3.8-11.7 6.1-12.2s5.6 5 7.6 9.1s3.3 11.1 4.6 15.2s1 6.4 3 9.2s6.2 6.3 9.2 7.6s6.3 1.8 9.1 0s5.8-6.9 7.6-10.7s1.7-8.6 3-12.2s2.6-7.2 4.6-9.1s5.1-2.6 7.6-2.1s5.6 1.8 7.6 5.2s3.1 11.6 4.6 15.2s2.7 7.6 4.5 6.1s4.1-11.5 6.1-15.3s3.6-6.3 6.1-7.6s6.3-1.3 9.1 0s5.8 4.8 7.6 7.6s2.6 7.7 3.1 9.2" fill="none" stroke="#000" stroke-width="2.6" stroke-linejoin="round" stroke-linecap="round"/><path d="M1295.3 2366.1c.8-1.5 3.1-6.4 4.6-9.2s2.3-5.8 4.6-7.6s5.8-3.2 9.1-3s8.1 1.7 10.6 4.5s3.1 8.4 4.6 12.2s2.6 8.7 4.6 10.7s5.3 3.3 7.6 1.5s4.5-7.1 6-12.2s2.1-11.1 3.1-18.2s2.2-15.3 3-24.4s1.3-25.3 1.6-30.4" fill="none" stroke="#000" stroke-width="2.6" stroke-linejoin="round" stroke-linecap="round"/><path d="M1020 2436c1.5 1 6 4.3 9.1 6.1s5.7 4.6 9.2 4.6s8.6-4.8 12.1-4.6s6.3 6.1 9.1 6.1s5.7-3.1 7.7-6.1s2.7-9.7 4.5-12.2s4.1-4 6.1-3s3.6 8.6 6.1 9.1s6.6-4.8 9.1-6.1s4.1-3 6.1-1.5s4.1 6.9 6.1 10.7s4.1 8.5 6.1 12.1s3.8 8.7 6.1 9.2s4.6-4.1 7.6-6.1s6.8-4.3 10.6-6.1s8.2-4.6 12.2-4.6s8.1 3.8 12.1 4.6s8.1 1 12.2 0s8.7-3.6 12.2-6.1s6.1-5.5 9.1-9.1s6.3-9.1 9.1-12.2s6.3-5.1 7.6-6.1" fill="none" stroke="#000" stroke-width="2.6" stroke-linejoin="round" stroke-linecap="round"/><path d="M1284.7 2442.1c1.5 .8 6.1 4.3 9.1 4.6s6.6-1.8 9.1-3.1s5.3-7.3 6.1-4.5s-1.1 13.7-1.5 21.3s-.6 16.4-.9 24.3s-1 19-1.2 22.8" fill="none" stroke="#000" stroke-width="2.6" stroke-linejoin="round" stroke-linecap="round"/><path d="M1348.6 2448.2c.5-2.5 2-9.1 3-15.2s1.8-14.2 3.1-21.3s2.7-15.7 4.5-21.3s3.8-9.4 6.1-12.2s4.8-4.5 7.6-4.5s6 2.7 9.1 4.5s6.2 5.6 9.2 6.1s6.3-.5 9.1-3s5.3-7.9 7.6-12.2s3.8-10.7 6.1-13.7s5.1-5.1 7.6-4.6s5.6 3.1 7.6 7.7s2.8 13.4 4.6 19.7s4 13.2 6 18.3s3.6 8.5 6.1 12.1s6 6.9 9.1 9.2s7.7 3.8 9.2 4.5" fill="none" stroke="#000" stroke-width="2.6" stroke-linejoin="round" stroke-linecap="round"/><path d="M1233 2478.6c1.5-1.3 5.5-6 9.1-7.6s8.2-2.1 12.2-2.1s8.1 .7 12.1 2.1s8.9 3.3 12.2 6.1s6.6 5.5 7.6 10.6s-1.2 16.5-1.5 19.8" fill="none" stroke="#000" stroke-width="2.6" stroke-linejoin="round" stroke-linecap="round"/><path d="M1379 2507.5c.2-3.3 .5-14 1.5-19.8s1.8-11.7 4.6-15.2s8.3-3.7 12.1-6s7.7-5.7 10.7-7.7s4.8-4.2 7.6-4.5s6.8 .5 9.1 3s1.8 8.1 4.6 12.2s10.2 10.2 12.2 12.2" fill="none" stroke="#000" stroke-width="2.6" stroke-linejoin="round" stroke-linecap="round"/><path d="M1147.8 2332.6c-.5-1.5-2.8-6-3.1-9.1s.6-7.2 1.6-9.2s3.2-3.5 4.5-3s2.9 3.6 3.1 6.1s-1.3 7.6-1.6 9.1" fill="none" stroke="#000" stroke-width="2.6" stroke-linejoin="round" stroke-linecap="round"/><path d="M1272.5 2290c.8 3.1 2.8 12.5 4.6 18.3s4.1 13.4 6.1 16.7s4 3.8 6 3s4.6-3.8 6.1-7.6s2.3-10.1 3.1-15.2s1.2-12.7 1.5-15.2" fill="none" stroke="#000" stroke-width="2.6" stroke-linejoin="round" stroke-linecap="round"/><path d="M1312.1 2290c.5 1.5 1.5 6.8 3 9.1s4.1 4.6 6.1 4.6s4.8-2.3 6.1-4.6s1.2-7.6 1.5-9.1" fill="none" stroke="#000" stroke-width="2.6" stroke-linejoin="round" stroke-linecap="round"/><path d="M1382 2290c.5 2.5 1.8 10.1 3.1 15.2s2.7 12.4 4.5 15.2s4.6 3 6.1 1.5s1.3-7.3 3.1-10.6s5.8-5.6 7.6-9.1s2.5-10.2 3-12.2" fill="none" stroke="#000" stroke-width="2.6" stroke-linejoin="round" stroke-linecap="round"/><path d="M1436.8 2290c.8 2.5 2.6 10.1 4.6 15.2s4.8 11.2 7.6 15.2s6.6 7.1 9.1 9.1s5.1 2.6 6.1 3.1" fill="none" stroke="#000" stroke-width="2.6" stroke-linejoin="round" stroke-linecap="round"/><ellipse cx="309.3" cy="2241.7" rx="4.5" ry="4.5" fill="none" stroke="#000" stroke-width="2.3"/><ellipse cx="525.9" cy="2241" rx="6" ry="8" fill="none" stroke="#000" stroke-width="2.3"/><ellipse cx="525.9" cy="2266.9" rx="6" ry="8" fill="none" stroke="#000" stroke-width="2.3"/><ellipse cx="657.4" cy="2268.4" rx="4" ry="6" fill="none" stroke="#000" stroke-width="2.3"/><ellipse cx="861.2" cy="2207.6" rx="4" ry="11" fill="none" stroke="#000" stroke-width="2.3"/><ellipse cx="1032.2" cy="2241" rx="4" ry="4" fill="none" stroke="#000" stroke-width="2.3"/><ellipse cx="1027.6" cy="2265.4" rx="8" ry="10" fill="none" stroke="#000" stroke-width="2.3"/><ellipse cx="1061.1" cy="2265.4" rx="6" ry="9" fill="none" stroke="#000" stroke-width="2.3"/><ellipse cx="1286.2" cy="2240.4" rx="5.5" ry="5.5" fill="none" stroke="#000" stroke-width="2.3"/><ellipse cx="1306" cy="2268.4" rx="3" ry="3" fill="none" stroke="#000" stroke-width="2.3"/><ellipse cx="1071.7" cy="2206.1" rx="4" ry="11" fill="none" stroke="#000" stroke-width="2.3"/><ellipse cx="360.1" cy="2318" rx="5" ry="6" fill="none" stroke="#000" stroke-width="2.3"/><ellipse cx="293.2" cy="2293" rx="5" ry="8" fill="none" stroke="#000" stroke-width="2.3"/><ellipse cx="1321.2" cy="2486.2" rx="8" ry="10" fill="none" stroke="#000" stroke-width="2.3"/><ellipse cx="1207.1" cy="2318" rx="3" ry="4" fill="none" stroke="#000" stroke-width="2.3"/><ellipse cx="1187.3" cy="2293" rx="6" ry="6" fill="none" stroke="#000" stroke-width="2.3"/><path d="M109.2 2146.1c.2-4 .8-16.2 1.5-24.2s2-16.8 3-24.1s1-15.2 3-19.7s6.3-8.8 9.1-7.5s4.8 8.5 7.6 15.1s5.6 18.7 9.1 24.2s8.1 10 12.1 9s8.6-11.1 12.1-15.1s5.7-9.8 9-9s7.1 8.5 10.6 13.5s6.8 16.2 10.6 16.7s8.3-10.1 12.1-13.6s7.8-9.3 10.6-7.6s4.1 10.6 6.1 18.1s3.5 19.6 6 27.2s4.8 14.2 9.1 18.2s10.8 4.1 16.6 6s13.7 5.9 18.2 5.4s7-2.5 9.1-8.4s3-16.6 3.6-27.2s-.1-25.2 0-36.3s0-21.7 .9-30.2s2.1-16.3 4.6-21.1s7.5-9.6 10.5-7.6s5.1 12.4 7.6 19.7s6.1 15 7.6 24.1s.8 19.1 1.5 30.2s1.7 32.8 3 36.3s3.1-6.5 4.6-15.1s2.8-27 4.5-36.3s3.2-15.1 6-19.6s7.6-10.9 10.6-7.6s5.3 17.6 7.6 27.2s4.2 20.2 6 30.3s2.8 23.4 4.6 30.2s3.5 9.5 6 10.5s6.8 .3 9.1-4.5s3.4-14.1 4.6-24.2s1.6-26.6 2.4-36.2s.5-17.9 2.1-21.2s5.1 .2 7.6 1.5s5.2 7.9 7.5 6.1s3.8-8.8 6.1-16.6s4.7-24.6 7.5-30.2s5.6-6.1 9.1-3.1s8.6 15.9 12.1 21.2s5.6 10.1 9.1 10.6s8.1-4.3 12.1-7.6s8.6-11.1 12.1-12.1s7.1 0 9.1 6.1s2.4 18.6 3 30.2s.1 28.2 .6 39.3s1 20 2.4 27.1s3.1 11.9 6.1 15.2s8.3 5.5 12.1 4.5s8.3-3.8 10.6-10.6s2.4-19.1 3-30.2s.1-26.2 .9-36.3s1.5-20.1 3.6-24.1s6.8-4 9.1 0s3.6 15 4.6 24.1s.9 20.7 1.5 30.3s-4.5 29.6 2.4 27.1s32.2-32.7 39-42.3s.7-10.1 1.5-15.1s1.6-9.6 3.1-15.1s4-12.3 6-18.1s3.1-12.6 6.1-16.6s8.3-7.3 12.1-7.6s8.3 .5 10.6 6.1s2.2 17.6 3 27.2s.8 18.1 1.5 30.2s1.5 32 3 42.3s4.3 19.1 6.1 19.6s3.2-8.8 4.5-16.6s1.7-21.6 3-30.2s2.6-14.4 4.6-21.2s5.5-15.6 7.5-19.6s2.6-6.8 4.6-4.5s5.3 11.6 7.6 18.1s4.5 13.1 6 21.1s2.1 20.4 3 27.2s1.1 14.6 2.1 13.6s3.1-11.3 4-19.6s1.1-20.1 1.5-30.2s.1-21.6 .6-30.2s1-15.6 2.4-21.2s3.3-10.3 6.1-12.1s8.3-1.5 10.6 1.5s2.2 11.4 3 16.7s.2 9.1 1.5 15.1s4.3 14.1 6.1 21.1s3.2 14.6 4.5 21.2s2.4 12.1 3 18.1s.2 18.1 .9 18.1s2.2-10.1 3.1-18.1s1.6-20.1 2.1-30.2s.4-21.6 .9-30.2s1-15.9 2.1-21.2s2.2-9.6 4.5-10.6s6.6 .8 9.1 4.6s4.8 12.1 6.1 18.1s.8 11.5 1.5 18.1s1.5 15.2 3 21.2s4.3 10.1 6.1 15.1s3.5 10.8 4.5 15.1s.8 11.6 1.5 10.6s2-9.8 3-16.6s2.3-15.1 3.1-24.2s1-22.7 1.5-30.2s.5-10.6 1.5-15.1s2.5-11.1 4.5-12.1s5.6 2.5 7.6 6s3.5 8.5 4.5 15.1s1.1 15.6 1.5 24.2s.3 18.1 .6 27.2s.1 19.4 1 27.2s2.5 16.1 4.5 19.6s5.4 2.8 7.6 1.5s4.2-3.5 5.4-9s1.6-16.1 2.1-24.2s.4-17.2 .9-24.2s.5-13.1 2.1-18.1s4.6-8.6 7.6-12.1s7.6-10.6 10.6-9.1s5.6 12.7 7.6 18.2s3.2 9.6 4.5 15.1s2 12.6 3 18.1s2.1 16.6 3.1 15.1s2.1-16.2 3-24.2s.8-15.5 2.1-24.1s3-21.2 5.4-27.2s6.7-9.6 9.1-9.1s4.4 6 5.5 12.1s.6 16.2 1.2 24.2s1.2 16.6 2.4 24.1s2.7 15.2 4.5 21.2s3.8 10.1 6.1 15.1s5.3 11.6 7.6 15.1s4 8.6 6 6.1s4.6-12.6 6.1-21.2s2.2-20.1 3-30.2s.9-21.6 1.5-30.2s1.1-21.2 2.1-21.2s2.5 15.2 3.9 21.2s2.8 8.6 4.6 15.1s4.2 16.7 6 24.2s3.3 14.6 4.6 21.1s1.2 15.6 3 18.1s5.6 0 7.6-3s3.2-7.6 4.5-15.1s2-20.1 3-30.2s2.2-19.1 3.1-30.2s1.1-33.8 2.1-36.3s2.2 13.6 3.9 21.2s4.3 16.6 6.1 24.1s3.2 14.1 4.5 21.2s2 14 3 21.1s1.6 16.4 3.1 21.2s3.5 7 6 7.5s7.1 .3 9.1-4.5s2-15.6 3-24.2s1.7-21.2 3-27.2s3.5-11.5 4.6-9s.8 17.7 2.1 24.2s3.7 9.6 6 15.1s4.6 13.1 7.6 18.1s7.1 10.6 10.6 12.1s7.1-.5 10.6-3s6.6-9.8 10.6-12.1s10.3 .5 13.6-1.5s4-4.8 6-10.6s3.6-16.6 6.1-24.2s6.6-15.1 9.1-21.1s4.5-15.6 6-15.1s2.3 10.1 3.1 18.1s.8 21.1 1.5 30.2s1.2 18.4 3 24.2s5.1 10.5 7.6 10.5s5.8-4.7 7.5-10.5s2.2-15.1 3-24.2s1.1-20.1 1.6-30.2s.7-22.4 1.5-30.2s2.1-15.2 3.6-16.7s3.7 2.3 5.4 7.6s2.6 17.7 4.6 24.2s5.3 8.6 7.6 15.1s4.2 16.2 6 24.2s2.7 17.3 4.5 24.1s3.6 15.1 6.1 16.6s6.8-2.7 9.1-7.5s3-13.1 4.5-21.2s3.3-20.7 4.6-27.2s1.8-12.5 3-12s2.5 9.6 4.5 15.1s5.1 13.1 7.6 18.1s5.5 12.1 7.5 12.1s3.6-5.1 4.6-12.1s1-20.1 1.5-30.2s.9-21.6 1.5-30.2s.3-16.9 2.1-21.2s6.1-5.5 8.5-4.5s4.6 3.8 6.1 10.6s2.2 20.1 3 30.2s1 20.1 1.5 30.2s.5 22.1 1.5 30.2s2.2 14.1 4.5 18.1s5.6 5.6 9.1 6.1s8.8 .5 12.1-3s5.7-12.7 7.6-18.2s1.8-15.6 3.6-15.1s4.8 12.8 7 18.1s4 11.6 6 13.6s4.3 2.3 6.1-1.5s2.7-12.6 4.5-21.1s4.1-21.1 6.1-30.2s4.2-16.6 6-24.2s3.1-16.2 4.6-21.2s2.2-9 4.5-9s6.8 4 9.1 9s3.4 13.6 4.5 21.2s1.3 15.6 2.1 24.2s1.3 19.4 2.5 27.2s2.5 16.1 4.5 19.6s5.3 3.8 7.6 1.5s4.2-9.1 6-15.1s2.6-19.1 4.6-21.1s4.7 5.5 7.5 9s6.1 8.1 9.1 12.1s6.3 9.8 9.1 12.1s5.2 4.5 7.5 1.5s4.6-12.3 6.1-19.6s1.9-17.1 3-24.2s1.8-15.6 3.6-18.1s4.6 0 7 3s5.3 9.1 7.6 15.1s4 14.5 6 21.1s3.8 14.9 6.1 18.2s5.5 4 7.5 1.5s3.3-10.8 4.6-16.6s1.8-13.1 3-18.2s2.7-12.1 4.5-12.1s5.1 10.1 6.1 12.1" fill="none" stroke="#000" stroke-width="4.8" stroke-linejoin="round" stroke-linecap="butt" stroke-dasharray="7.6 3.4"/><text transform="translate(120 2063) rotate(-12) scale(0.85 1)" font-size="27" text-anchor="start" fill="#000" font-style="italic">35.05</text><text transform="translate(199 2092) rotate(-68) scale(0.85 1)" font-size="26" text-anchor="start" fill="#000" font-style="italic">35.05</text><text transform="translate(112 2146) rotate(8) scale(0.85 1)" font-size="27" text-anchor="start" fill="#000" font-style="italic">35.1</text><text transform="translate(160 2190) rotate(80) scale(0.85 1)" font-size="27" text-anchor="start" fill="#000" font-style="italic">35.1</text><text transform="translate(203 2242) rotate(-5) scale(0.85 1)" font-size="27" text-anchor="start" fill="#000" font-style="italic">35.1</text><text transform="translate(322 2040) rotate(80) scale(0.85 1)" font-size="27" text-anchor="start" fill="#000" font-style="italic">35.05</text><text transform="translate(370 2100) rotate(5) scale(0.85 1)" font-size="27" text-anchor="start" fill="#000" font-style="italic">35.05</text><text transform="translate(402 2078) rotate(10) scale(0.85 1)" font-size="27" text-anchor="start" fill="#000" font-style="italic">35.1</text><text transform="translate(480 2042) rotate(85) scale(0.85 1)" font-size="27" text-anchor="start" fill="#000" font-style="italic">.05</text><text transform="translate(527 2075) rotate(5) scale(0.85 1)" font-size="27" text-anchor="start" fill="#000" font-style="italic">35.1</text><text transform="translate(505 2150) rotate(30) scale(0.85 1)" font-size="25" text-anchor="start" fill="#000" font-style="italic">35</text><text transform="translate(580 2245) rotate(-85) scale(0.85 1)" font-size="27" text-anchor="start" fill="#000" font-style="italic">35.05</text><text transform="translate(652 2060) rotate(-80) scale(0.85 1)" font-size="25" text-anchor="start" fill="#000" font-style="italic">34</text><text transform="translate(666 2105) rotate(-50) scale(0.85 1)" font-size="25" text-anchor="start" fill="#000" font-style="italic">35</text><text transform="translate(700 2070) rotate(0) scale(0.85 1)" font-size="25" text-anchor="start" fill="#000" font-style="italic">4.95</text><text transform="translate(748 2130) rotate(-5) scale(0.85 1)" font-size="27" text-anchor="start" fill="#000" font-style="italic">35.15</text><text transform="translate(828 2222) rotate(-70) scale(0.85 1)" font-size="27" text-anchor="start" fill="#000" font-style="italic">35.15</text><text transform="translate(930 2048) rotate(0) scale(0.85 1)" font-size="27" text-anchor="start" fill="#000" font-style="italic">35.1</text><text transform="translate(975 2093) rotate(0) scale(0.85 1)" font-size="27" text-anchor="start" fill="#000" font-style="italic">35.1</text><text transform="translate(1128 2105) rotate(10) scale(0.85 1)" font-size="27" text-anchor="start" fill="#000" font-style="italic">35.1</text><text transform="translate(1255 2205) rotate(-8) scale(0.85 1)" font-size="28" text-anchor="start" fill="#000" font-style="italic">35.2</text><text transform="translate(1305 2085) rotate(-20) scale(0.85 1)" font-size="27" text-anchor="start" fill="#000" font-style="italic">35.1</text><text transform="translate(1363 2055) rotate(-85) scale(0.85 1)" font-size="27" text-anchor="start" fill="#000" font-style="italic">35</text><text transform="translate(1415 2245) rotate(-75) scale(0.85 1)" font-size="27" text-anchor="start" fill="#000" font-style="italic">35.1</text><text transform="translate(1400 2165) rotate(-10) scale(0.85 1)" font-size="27" text-anchor="start" fill="#000" font-style="italic">35.1</text><text transform="translate(1438 2050) rotate(80) scale(0.85 1)" font-size="27" text-anchor="start" fill="#000" font-style="italic">35.05</text><text transform="translate(1020 2105) rotate(80) scale(0.85 1)" font-size="27" text-anchor="start" fill="#000" font-style="italic">5</text><text transform="translate(1085 2325) rotate(-30) scale(0.85 1)" font-size="27" text-anchor="start" fill="#000" font-style="italic">35.15</text><text transform="translate(124 2448) rotate(-10) scale(0.85 1)" font-size="27" text-anchor="start" fill="#000" font-style="italic">35</text><text transform="translate(335 2465) rotate(-30) scale(0.85 1)" font-size="27" text-anchor="start" fill="#000" font-style="italic">35.05</text><text transform="translate(668 2430) rotate(-60) scale(0.85 1)" font-size="27" text-anchor="start" fill="#000" font-style="italic">35.05</text><text transform="translate(805 2340) rotate(12) scale(0.85 1)" font-size="27" text-anchor="start" fill="#000" font-style="italic">35.1</text><text transform="translate(1253 2380) rotate(15) scale(0.85 1)" font-size="27" text-anchor="start" fill="#000" font-style="italic">35.1</text><text transform="translate(1218 2503) rotate(-20) scale(0.85 1)" font-size="25" text-anchor="start" fill="#000" font-style="italic">5</text><text transform="translate(1335 2475) rotate(85) scale(0.85 1)" font-size="25" text-anchor="start" fill="#000" font-style="italic">35</text><text transform="translate(1445 2498) rotate(30) scale(0.85 1)" font-size="25" text-anchor="start" fill="#000" font-style="italic">35</text><text transform="translate(540 2483) rotate(0) scale(0.85 1)" font-size="27" text-anchor="start" fill="#000" font-style="italic">34.95</text><text transform="translate(209.5 2493.5) scale(0.95 1)" font-size="59" text-anchor="start" fill="#000">D</text><text transform="translate(1206 2440.8) scale(0.856 1)" font-size="55.5" text-anchor="start" fill="#000" font-weight="bold">Salinity</text>
</g>
<line x1="110.5" y1="2209.5" x2="1503" y2="2209.5" stroke="#e2e2e2" stroke-width="5.2" stroke-dasharray="24 18.3" stroke-dashoffset="6.7" opacity="0.88"/><line x1="110.5" y1="2363.3" x2="1503" y2="2363.3" stroke="#e6e6e6" stroke-width="4.8" stroke-dasharray="5.2 6.8" opacity="0.9"/>
<line x1="102.5" y1="2029" x2="102.5" y2="2568.5" stroke="#000" stroke-width="2"/><line x1="102.5" y1="2030.5" x2="1467" y2="2030.5" stroke="#000" stroke-width="3"/><line x1="1465.5" y1="2030.5" x2="1465.5" y2="2567.5" stroke="#000" stroke-width="3"/><line x1="102.5" y1="2566" x2="1467" y2="2566" stroke="#000" stroke-width="3"/><line x1="86.5" y1="2030.5" x2="102.5" y2="2030.5" stroke="#000" stroke-width="1.3"/><line x1="86.5" y1="2185" x2="102.5" y2="2185" stroke="#000" stroke-width="1.3"/><line x1="86.5" y1="2317" x2="102.5" y2="2317" stroke="#000" stroke-width="1.3"/><line x1="86.5" y1="2417" x2="102.5" y2="2417" stroke="#000" stroke-width="1.3"/><line x1="86.5" y1="2484" x2="102.5" y2="2484" stroke="#000" stroke-width="1.3"/><line x1="86.5" y1="2527" x2="102.5" y2="2527" stroke="#000" stroke-width="1.3"/><line x1="86.5" y1="2552" x2="102.5" y2="2552" stroke="#000" stroke-width="1.3"/><line x1="91.5" y1="2092.3" x2="102.5" y2="2092.3" stroke="#000" stroke-width="1.1" opacity="0.8"/><line x1="91.5" y1="2154.1" x2="102.5" y2="2154.1" stroke="#000" stroke-width="1.1" opacity="0.8"/><line x1="91.5" y1="2211.4" x2="102.5" y2="2211.4" stroke="#000" stroke-width="1.1" opacity="0.8"/><line x1="91.5" y1="2264.2" x2="102.5" y2="2264.2" stroke="#000" stroke-width="1.1" opacity="0.8"/><line x1="91.5" y1="2357" x2="102.5" y2="2357" stroke="#000" stroke-width="1.1" opacity="0.8"/><line x1="91.5" y1="2397" x2="102.5" y2="2397" stroke="#000" stroke-width="1.1" opacity="0.8"/><line x1="91.5" y1="2430.4" x2="102.5" y2="2430.4" stroke="#000" stroke-width="1.1" opacity="0.8"/><line x1="91.5" y1="2457.2" x2="102.5" y2="2457.2" stroke="#000" stroke-width="1.1" opacity="0.8"/><line x1="91.5" y1="2501.2" x2="102.5" y2="2501.2" stroke="#000" stroke-width="1.1" opacity="0.8"/><line x1="91.5" y1="2518.4" x2="102.5" y2="2518.4" stroke="#000" stroke-width="1.1" opacity="0.8"/><line x1="91.5" y1="2532" x2="102.5" y2="2532" stroke="#000" stroke-width="1.1" opacity="0.8"/><line x1="91.5" y1="2542" x2="102.5" y2="2542" stroke="#000" stroke-width="1.1" opacity="0.8"/><line x1="191.3" y1="2021.5" x2="191.3" y2="2030.5" stroke="#000" stroke-width="1.2"/><line x1="301.2" y1="2024.5" x2="301.2" y2="2030.5" stroke="#000" stroke-width="1.2" opacity="0.45"/><line x1="411.1" y1="2021.5" x2="411.1" y2="2030.5" stroke="#000" stroke-width="1.2"/><line x1="520.9" y1="2024.5" x2="520.9" y2="2030.5" stroke="#000" stroke-width="1.2" opacity="0.45"/><line x1="630.8" y1="2021.5" x2="630.8" y2="2030.5" stroke="#000" stroke-width="1.2"/><line x1="740.7" y1="2024.5" x2="740.7" y2="2030.5" stroke="#000" stroke-width="1.2" opacity="0.45"/><line x1="850.5" y1="2021.5" x2="850.5" y2="2030.5" stroke="#000" stroke-width="1.2"/><line x1="960.4" y1="2024.5" x2="960.4" y2="2030.5" stroke="#000" stroke-width="1.2" opacity="0.45"/><line x1="1070.3" y1="2021.5" x2="1070.3" y2="2030.5" stroke="#000" stroke-width="1.2"/><line x1="1180.2" y1="2024.5" x2="1180.2" y2="2030.5" stroke="#000" stroke-width="1.2" opacity="0.45"/><line x1="1290" y1="2021.5" x2="1290" y2="2030.5" stroke="#000" stroke-width="1.2"/><line x1="1399.9" y1="2024.5" x2="1399.9" y2="2030.5" stroke="#000" stroke-width="1.2" opacity="0.45"/>
<text transform="translate(72.5 2042.8) scale(0.79 1)" font-size="35" text-anchor="end" fill="#000" font-style="italic">0</text><text transform="translate(72.5 2198.8) scale(0.79 1)" font-size="39" text-anchor="end" fill="#000" font-style="italic">250</text><text transform="translate(72.5 2330.8) scale(0.79 1)" font-size="39" text-anchor="end" fill="#000" font-style="italic">500</text><text transform="translate(72.5 2430.8) scale(0.79 1)" font-size="39" text-anchor="end" fill="#000" font-style="italic">750</text><text transform="translate(72.5 2497.8) scale(0.79 1)" font-size="39" text-anchor="end" fill="#000" font-style="italic">1000</text><text transform="translate(72.5 2540.8) scale(0.79 1)" font-size="39" text-anchor="end" fill="#000" font-style="italic">1250</text><text transform="translate(72.5 2579.8) scale(0.79 1)" font-size="39" text-anchor="end" fill="#000" font-style="italic">1750</text>
<text transform="translate(1539.5 590) rotate(-90) scale(0.94 1)" font-size="21.5" text-anchor="start" fill="#000" font-style="italic">Ocean Data View</text>
<path d="M1539 25.2L1560.3 16L1581.7 25.2L1581.7 595.2L1560.3 603.7L1539 595.2Z" fill="url(#cbA)"/>
<line x1="1539" y1="81.2" x2="1548.5" y2="81.2" stroke="#000" stroke-width="1.4" opacity="0.75"/>
<line x1="1572.2" y1="81.2" x2="1581.7" y2="81.2" stroke="#000" stroke-width="1.4" opacity="0.75"/>
<text transform="translate(1591 94.8) scale(0.84 1)" font-size="38" text-anchor="start" fill="#000" font-style="italic">8</text>
<line x1="1539" y1="195" x2="1548.5" y2="195" stroke="#000" stroke-width="1.4" opacity="0.75"/>
<line x1="1572.2" y1="195" x2="1581.7" y2="195" stroke="#000" stroke-width="1.4" opacity="0.75"/>
<text transform="translate(1591 208.6) scale(0.84 1)" font-size="38" text-anchor="start" fill="#000" font-style="italic">6</text>
<line x1="1539" y1="310.2" x2="1548.5" y2="310.2" stroke="#000" stroke-width="1.4" opacity="0.75"/>
<line x1="1572.2" y1="310.2" x2="1581.7" y2="310.2" stroke="#000" stroke-width="1.4" opacity="0.75"/>
<text transform="translate(1591 323.8) scale(0.84 1)" font-size="38" text-anchor="start" fill="#000" font-style="italic">4</text>
<line x1="1539" y1="424" x2="1548.5" y2="424" stroke="#000" stroke-width="1.4" opacity="0.75"/>
<line x1="1572.2" y1="424" x2="1581.7" y2="424" stroke="#000" stroke-width="1.4" opacity="0.75"/>
<text transform="translate(1591 437.6) scale(0.84 1)" font-size="38" text-anchor="start" fill="#000" font-style="italic">2</text>
<line x1="1539" y1="537.8" x2="1548.5" y2="537.8" stroke="#000" stroke-width="1.4" opacity="0.75"/>
<line x1="1572.2" y1="537.8" x2="1581.7" y2="537.8" stroke="#000" stroke-width="1.4" opacity="0.75"/>
<text transform="translate(1591 551.4) scale(0.84 1)" font-size="38" text-anchor="start" fill="#000" font-style="italic">0</text>
<text transform="translate(1535.5 1240) rotate(-90) scale(0.94 1)" font-size="21.5" text-anchor="start" fill="#000" font-style="italic">Ocean Data View</text>
<path d="M1535 694L1556.3 685L1577.6 694L1577.6 1244.5L1556.3 1253.6L1535 1244.5Z" fill="url(#cbB)"/>
<line x1="1535" y1="749.6" x2="1544.5" y2="749.6" stroke="#000" stroke-width="1.4" opacity="0.75"/>
<line x1="1568.1" y1="749.6" x2="1577.6" y2="749.6" stroke="#000" stroke-width="1.4" opacity="0.75"/>
<text transform="translate(1587 763.2) scale(0.84 1)" font-size="38" text-anchor="start" fill="#000" font-style="italic">8</text>
<line x1="1535" y1="859" x2="1544.5" y2="859" stroke="#000" stroke-width="1.4" opacity="0.75"/>
<line x1="1568.1" y1="859" x2="1577.6" y2="859" stroke="#000" stroke-width="1.4" opacity="0.75"/>
<text transform="translate(1587 872.6) scale(0.84 1)" font-size="38" text-anchor="start" fill="#000" font-style="italic">6</text>
<line x1="1535" y1="969.8" x2="1544.5" y2="969.8" stroke="#000" stroke-width="1.4" opacity="0.75"/>
<line x1="1568.1" y1="969.8" x2="1577.6" y2="969.8" stroke="#000" stroke-width="1.4" opacity="0.75"/>
<text transform="translate(1587 983.4) scale(0.84 1)" font-size="38" text-anchor="start" fill="#000" font-style="italic">4</text>
<line x1="1535" y1="1081" x2="1544.5" y2="1081" stroke="#000" stroke-width="1.4" opacity="0.75"/>
<line x1="1568.1" y1="1081" x2="1577.6" y2="1081" stroke="#000" stroke-width="1.4" opacity="0.75"/>
<text transform="translate(1587 1094.6) scale(0.84 1)" font-size="38" text-anchor="start" fill="#000" font-style="italic">2</text>
<line x1="1535" y1="1190.5" x2="1544.5" y2="1190.5" stroke="#000" stroke-width="1.4" opacity="0.75"/>
<line x1="1568.1" y1="1190.5" x2="1577.6" y2="1190.5" stroke="#000" stroke-width="1.4" opacity="0.75"/>
<text transform="translate(1587 1204.1) scale(0.84 1)" font-size="38" text-anchor="start" fill="#000" font-style="italic">0</text>
<text transform="translate(1494.2 1930) rotate(-90) scale(0.94 1)" font-size="21.5" text-anchor="start" fill="#000" font-style="italic">Ocean Data View</text>
<path d="M1493.7 1380L1514.3 1372L1535 1380L1535 1931L1514.3 1939L1493.7 1931Z" fill="url(#cbC)"/>
<text transform="translate(1545.5 1394.5) scale(0.81 1)" font-size="38" text-anchor="start" fill="#000" font-style="italic">35.2</text>
<line x1="1493.7" y1="1473" x2="1503.2" y2="1473" stroke="#000" stroke-width="1.4" opacity="0.75"/>
<line x1="1525.5" y1="1473" x2="1535" y2="1473" stroke="#000" stroke-width="1.4" opacity="0.75"/>
<text transform="translate(1545.5 1485.6) scale(0.81 1)" font-size="38" text-anchor="start" fill="#000" font-style="italic">35.1</text>
<line x1="1493.7" y1="1565" x2="1503.2" y2="1565" stroke="#000" stroke-width="1.4" opacity="0.75"/>
<line x1="1525.5" y1="1565" x2="1535" y2="1565" stroke="#000" stroke-width="1.4" opacity="0.75"/>
<text transform="translate(1545.5 1578.6) scale(0.81 1)" font-size="38" text-anchor="start" fill="#000" font-style="italic">35</text>
<line x1="1493.7" y1="1656" x2="1503.2" y2="1656" stroke="#000" stroke-width="1.4" opacity="0.75"/>
<line x1="1525.5" y1="1656" x2="1535" y2="1656" stroke="#000" stroke-width="1.4" opacity="0.75"/>
<text transform="translate(1545.5 1669.6) scale(0.81 1)" font-size="38" text-anchor="start" fill="#000" font-style="italic">34.9</text>
<line x1="1493.7" y1="1748.5" x2="1503.2" y2="1748.5" stroke="#000" stroke-width="1.4" opacity="0.75"/>
<line x1="1525.5" y1="1748.5" x2="1535" y2="1748.5" stroke="#000" stroke-width="1.4" opacity="0.75"/>
<text transform="translate(1545.5 1762.1) scale(0.81 1)" font-size="38" text-anchor="start" fill="#000" font-style="italic">34.8</text>
<line x1="1493.7" y1="1840" x2="1503.2" y2="1840" stroke="#000" stroke-width="1.4" opacity="0.75"/>
<line x1="1525.5" y1="1840" x2="1535" y2="1840" stroke="#000" stroke-width="1.4" opacity="0.75"/>
<text transform="translate(1545.5 1853.6) scale(0.81 1)" font-size="38" text-anchor="start" fill="#000" font-style="italic">34.7</text>
<text transform="translate(1545.5 1947.6) scale(0.81 1)" font-size="38" text-anchor="start" fill="#000" font-style="italic">34.6</text>
<text transform="translate(1494.2 2562) rotate(-90) scale(0.94 1)" font-size="21.5" text-anchor="start" fill="#000" font-style="italic">Ocean Data View</text>
<path d="M1493.7 2031L1514.3 2022.5L1535 2031L1535 2564L1514.3 2572L1493.7 2564Z" fill="url(#cbD)"/>
<text transform="translate(1545.5 2043.6) scale(0.81 1)" font-size="38" text-anchor="start" fill="#000" font-style="italic">35.2</text>
<line x1="1493.7" y1="2119.7" x2="1503.2" y2="2119.7" stroke="#000" stroke-width="1.4" opacity="0.75"/>
<line x1="1525.5" y1="2119.7" x2="1535" y2="2119.7" stroke="#000" stroke-width="1.4" opacity="0.75"/>
<text transform="translate(1545.5 2132.3) scale(0.81 1)" font-size="38" text-anchor="start" fill="#000" font-style="italic">35.1</text>
<line x1="1493.7" y1="2209" x2="1503.2" y2="2209" stroke="#000" stroke-width="1.4" opacity="0.75"/>
<line x1="1525.5" y1="2209" x2="1535" y2="2209" stroke="#000" stroke-width="1.4" opacity="0.75"/>
<text transform="translate(1545.5 2222.6) scale(0.81 1)" font-size="38" text-anchor="start" fill="#000" font-style="italic">35</text>
<line x1="1493.7" y1="2298" x2="1503.2" y2="2298" stroke="#000" stroke-width="1.4" opacity="0.75"/>
<line x1="1525.5" y1="2298" x2="1535" y2="2298" stroke="#000" stroke-width="1.4" opacity="0.75"/>
<text transform="translate(1545.5 2311.6) scale(0.81 1)" font-size="38" text-anchor="start" fill="#000" font-style="italic">34.9</text>
<line x1="1493.7" y1="2388" x2="1503.2" y2="2388" stroke="#000" stroke-width="1.4" opacity="0.75"/>
<line x1="1525.5" y1="2388" x2="1535" y2="2388" stroke="#000" stroke-width="1.4" opacity="0.75"/>
<text transform="translate(1545.5 2401.6) scale(0.81 1)" font-size="38" text-anchor="start" fill="#000" font-style="italic">34.8</text>
<line x1="1493.7" y1="2477.8" x2="1503.2" y2="2477.8" stroke="#000" stroke-width="1.4" opacity="0.75"/>
<line x1="1525.5" y1="2477.8" x2="1535" y2="2477.8" stroke="#000" stroke-width="1.4" opacity="0.75"/>
<text transform="translate(1545.5 2491.4) scale(0.81 1)" font-size="38" text-anchor="start" fill="#000" font-style="italic">34.7</text>
<text transform="translate(1545.5 2580.6) scale(0.81 1)" font-size="38" text-anchor="start" fill="#000" font-style="italic">34.6</text>
</svg>
</body></html>
